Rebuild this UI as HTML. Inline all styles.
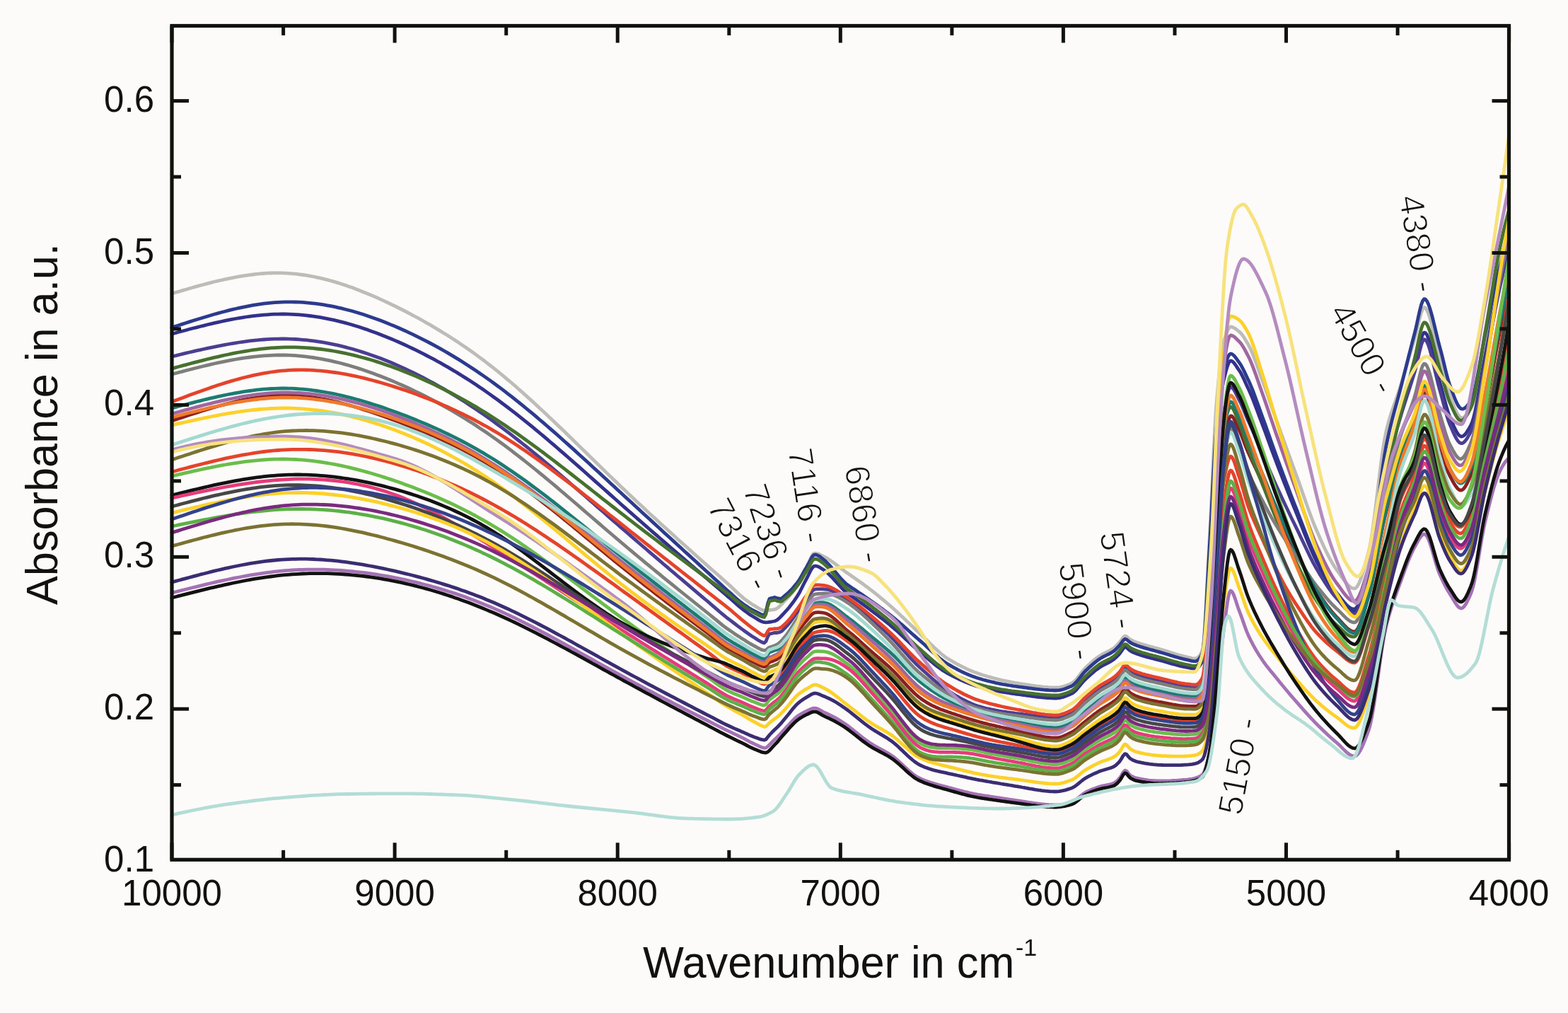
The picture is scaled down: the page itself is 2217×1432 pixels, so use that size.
<!DOCTYPE html>
<html><head><meta charset="utf-8"><style>
html,body{margin:0;padding:0;background:#fcfbf9;overflow:hidden;width:2217px;height:1432px;}
svg{display:block;}
text{font-family:"Liberation Sans",Arial,sans-serif;fill:#111;}
.ann{stroke:#fcfbf9;stroke-width:1.3px;}
</style></head><body>
<svg width="2217" height="1432" viewBox="0 0 2217 1432">
<rect width="2217" height="1432" fill="#fcfbf9"/>
<g fill="none" stroke-width="4.8" stroke-linejoin="round" stroke-linecap="round">
<polyline points="243.0,595.0 248.0,593.3 253.0,591.6 258.0,590.0 263.0,588.3 268.0,586.6 273.0,585.0 278.0,583.4 283.0,581.8 288.0,580.2 293.0,578.7 298.0,577.2 303.0,575.7 308.0,574.3 313.0,572.9 318.0,571.6 323.0,570.3 328.0,569.1 333.0,567.9 338.0,566.7 343.0,565.7 348.0,564.7 353.0,563.8 358.0,562.9 363.0,562.1 368.0,561.4 373.0,560.8 378.0,560.3 383.0,559.8 388.0,559.5 393.0,559.2 398.0,559.0 403.0,559.0 408.0,559.0 413.0,559.2 418.0,559.4 423.0,559.7 428.0,560.1 433.0,560.6 438.0,561.2 443.0,561.9 448.0,562.7 453.0,563.5 458.0,564.4 463.0,565.4 468.0,566.4 473.0,567.5 478.0,568.7 483.0,570.0 488.0,571.3 493.0,572.6 498.0,574.0 503.0,575.5 508.0,577.0 513.0,578.6 518.0,580.2 523.0,581.8 528.0,583.5 533.0,585.2 538.0,587.0 543.0,588.8 548.0,590.6 553.0,592.4 558.0,594.3 563.0,596.1 568.0,598.0 573.0,599.9 578.0,601.9 583.0,603.9 588.0,605.9 593.0,607.9 598.0,609.9 603.0,612.0 608.0,614.2 613.0,616.3 618.0,618.5 623.0,620.8 628.0,623.1 633.0,625.4 638.0,627.8 643.0,630.2 648.0,632.7 653.0,635.2 658.0,637.8 663.0,640.5 668.0,643.2 673.0,645.9 678.0,648.8 683.0,651.7 688.0,654.6 693.0,657.6 698.0,660.7 703.0,663.9 708.0,667.1 713.0,670.5 718.0,673.8 723.0,677.3 728.0,680.8 733.0,684.3 738.0,687.9 743.0,691.6 748.0,695.3 753.0,699.1 758.0,702.9 763.0,706.7 768.0,710.6 773.0,714.5 778.0,718.5 783.0,722.5 788.0,726.5 793.0,730.5 798.0,734.6 803.0,738.6 808.0,742.7 813.0,746.9 818.0,751.0 823.0,755.1 828.0,759.3 833.0,763.4 838.0,767.5 843.0,771.7 848.0,775.8 853.0,780.0 858.0,784.1 863.0,788.2 868.0,792.3 873.0,796.4 878.0,800.4 883.0,804.5 888.0,808.5 893.0,812.5 898.0,816.5 903.0,820.4 908.0,824.4 913.0,828.3 918.0,832.2 923.0,836.1 928.0,840.0 933.0,843.8 938.0,847.7 943.0,851.5 948.0,855.4 953.0,859.2 958.0,863.0 963.0,866.8 968.0,870.6 973.0,874.3 978.0,878.1 983.0,881.9 988.0,885.6 993.0,889.4 998.0,893.1 1003.0,896.9 1008.0,900.8 1013.0,904.7 1018.0,908.6 1023.0,912.3 1028.0,915.7 1033.0,918.6 1038.0,921.4 1043.0,924.1 1045.5,925.4 1048.0,926.7 1050.5,928.0 1053.0,929.4 1055.5,930.8 1058.0,932.2 1060.5,933.6 1063.0,935.0 1065.5,936.2 1068.0,937.4 1070.5,938.7 1073.0,940.0 1075.5,941.1 1078.0,942.1 1080.5,942.7 1083.0,941.7 1085.5,938.5 1088.0,936.1 1090.5,935.3 1093.0,934.4 1095.5,933.3 1098.0,932.3 1100.5,930.7 1103.0,928.7 1105.5,926.2 1108.0,923.2 1110.5,920.1 1113.0,916.7 1115.5,912.9 1118.0,908.9 1120.5,904.7 1123.0,900.6 1125.5,896.6 1128.0,892.9 1130.5,889.5 1133.0,886.2 1135.5,883.0 1138.0,880.0 1140.5,877.2 1143.0,874.2 1145.5,871.2 1148.0,868.4 1150.5,866.5 1153.0,865.9 1155.5,865.7 1158.0,865.6 1160.5,865.8 1163.0,866.1 1165.5,866.5 1168.0,867.3 1170.5,868.4 1173.0,869.8 1175.5,871.4 1178.0,873.3 1180.5,875.4 1183.0,877.6 1185.5,879.9 1188.0,882.3 1190.5,884.6 1193.0,887.0 1195.5,889.3 1198.0,891.4 1200.5,893.4 1203.0,895.4 1205.5,897.4 1208.0,899.6 1210.5,901.7 1213.0,903.9 1215.5,906.2 1218.0,908.5 1220.5,910.7 1223.0,913.0 1225.5,915.3 1228.0,917.5 1230.5,919.7 1233.0,921.9 1235.5,924.0 1238.0,926.2 1240.5,928.3 1243.0,930.4 1245.5,932.6 1248.0,934.7 1250.5,936.9 1253.0,939.1 1255.5,941.3 1258.0,943.6 1260.5,945.9 1263.0,948.3 1265.5,950.9 1268.0,953.5 1270.5,956.1 1273.0,958.8 1275.5,961.6 1278.0,964.3 1280.5,967.1 1283.0,969.8 1285.5,972.4 1288.0,975.0 1290.5,977.5 1293.0,980.0 1295.5,982.2 1298.0,984.4 1300.5,986.4 1303.0,988.2 1305.5,990.0 1308.0,991.6 1310.5,993.2 1313.0,994.6 1315.5,996.0 1318.0,997.3 1320.5,998.5 1323.0,999.7 1325.5,1000.8 1328.0,1001.9 1330.5,1002.9 1333.0,1003.8 1335.5,1004.7 1338.0,1005.6 1340.5,1006.5 1343.0,1007.3 1345.5,1008.2 1348.0,1009.0 1350.5,1009.8 1353.0,1010.7 1355.5,1011.5 1358.0,1012.3 1360.5,1013.2 1363.0,1014.0 1365.5,1014.8 1368.0,1015.6 1370.5,1016.4 1373.0,1017.1 1375.5,1017.9 1378.0,1018.6 1380.5,1019.3 1383.0,1020.0 1385.5,1020.7 1388.0,1021.4 1390.5,1022.1 1393.0,1022.7 1395.5,1023.3 1398.0,1024.0 1400.5,1024.6 1403.0,1025.2 1405.5,1025.7 1408.0,1026.3 1410.5,1026.9 1413.0,1027.4 1415.5,1028.0 1418.0,1028.5 1420.5,1029.1 1423.0,1029.6 1425.5,1030.1 1428.0,1030.7 1430.5,1031.2 1433.0,1031.7 1435.5,1032.3 1438.0,1032.8 1440.5,1033.4 1443.0,1033.9 1445.5,1034.5 1448.0,1035.1 1450.5,1035.7 1453.0,1036.4 1455.5,1037.0 1458.0,1037.6 1460.5,1038.2 1463.0,1038.8 1465.5,1039.4 1468.0,1039.9 1470.5,1040.4 1473.0,1040.9 1475.5,1041.4 1478.0,1041.8 1480.5,1042.1 1483.0,1042.4 1485.5,1042.7 1488.0,1042.8 1490.5,1043.0 1493.0,1043.0 1495.5,1042.8 1498.0,1042.4 1500.5,1041.7 1503.0,1040.9 1505.5,1039.8 1508.0,1038.7 1510.5,1037.5 1513.0,1036.2 1515.5,1035.0 1518.0,1033.5 1520.5,1031.8 1523.0,1029.8 1525.5,1027.6 1528.0,1025.4 1530.5,1023.1 1533.0,1021.0 1535.5,1019.0 1538.0,1017.0 1540.5,1015.1 1543.0,1013.1 1545.5,1011.2 1548.0,1009.2 1550.5,1007.4 1553.0,1005.5 1555.5,1003.8 1558.0,1002.1 1560.5,1000.6 1563.0,999.1 1565.5,997.6 1568.0,996.1 1570.5,994.5 1573.0,992.8 1575.5,991.0 1578.0,989.0 1580.5,986.8 1583.0,984.3 1585.5,980.5 1588.0,976.2 1590.5,973.6 1593.0,974.4 1595.5,977.0 1598.0,979.4 1600.5,981.0 1603.0,982.4 1605.5,983.7 1608.0,984.6 1610.5,985.5 1613.0,986.2 1615.5,987.0 1618.0,987.7 1620.5,988.3 1623.0,988.9 1625.5,989.5 1628.0,990.0 1630.5,990.5 1633.0,991.0 1635.5,991.5 1638.0,992.0 1640.5,992.4 1643.0,992.9 1645.5,993.4 1648.0,993.9 1650.5,994.3 1653.0,994.8 1655.5,995.3 1658.0,995.8 1660.5,996.2 1663.0,996.6 1665.5,997.0 1668.0,997.4 1670.5,997.7 1673.0,997.9 1675.5,998.1 1678.0,998.2 1680.5,998.3 1683.0,998.4 1685.5,998.4 1688.0,998.5 1690.5,998.5 1692.0,998.1 1693.5,997.3 1695.0,996.1 1696.5,994.6 1698.0,992.9 1699.5,990.8 1701.0,987.9 1702.5,982.1 1704.0,973.6 1705.5,963.1 1707.0,951.1 1708.5,938.1 1710.0,924.7 1711.5,908.8 1713.0,889.0 1714.5,866.4 1716.0,842.1 1717.5,817.6 1719.0,793.9 1720.5,772.1 1722.0,749.4 1723.5,725.7 1725.0,702.2 1726.5,680.2 1728.0,660.9 1729.5,645.3 1731.0,633.5 1732.5,622.2 1734.0,611.7 1735.5,602.5 1737.0,595.1 1738.5,590.1 1740.0,588.0 1741.5,588.1 1743.0,589.5 1744.5,591.7 1746.0,594.6 1747.5,597.9 1749.0,601.3 1750.5,604.8 1752.0,607.9 1753.5,611.0 1755.0,614.6 1756.5,618.3 1758.0,622.3 1759.5,626.3 1761.0,630.3 1762.5,634.1 1764.0,637.7 1765.5,641.1 1767.0,644.3 1768.5,647.5 1770.0,650.7 1771.5,653.9 1774.0,659.1 1776.5,664.4 1779.0,669.7 1781.5,675.0 1784.0,680.2 1786.5,685.6 1789.0,691.0 1791.5,696.5 1794.0,702.0 1796.5,707.4 1799.0,712.8 1801.5,718.2 1804.0,723.4 1806.5,728.5 1809.0,733.6 1811.5,738.7 1814.0,743.8 1816.5,748.8 1819.0,753.9 1821.5,758.9 1824.0,763.8 1826.5,768.7 1829.0,773.6 1831.5,778.4 1834.0,783.2 1836.5,788.0 1839.0,792.9 1841.5,797.8 1844.0,802.8 1846.5,807.7 1849.0,812.5 1851.5,817.3 1854.0,821.9 1856.5,826.3 1859.0,830.6 1861.5,834.6 1864.0,838.4 1866.5,842.1 1869.0,845.8 1871.5,849.4 1874.0,852.9 1876.5,856.4 1879.0,859.6 1881.5,862.8 1884.0,865.8 1886.5,868.7 1889.0,871.3 1891.5,873.9 1894.0,876.6 1896.5,879.3 1899.0,882.1 1901.5,884.8 1903.5,886.8 1905.5,888.5 1907.5,890.1 1909.5,891.4 1911.5,892.3 1913.5,892.9 1915.5,892.9 1917.5,891.7 1919.5,889.0 1921.5,885.1 1923.5,880.1 1925.5,874.3 1927.5,867.9 1929.5,861.2 1931.5,854.4 1933.5,847.6 1935.5,841.1 1937.5,833.7 1939.5,825.1 1941.5,815.5 1943.5,805.3 1945.5,794.7 1947.5,783.8 1949.5,772.9 1951.5,762.2 1953.5,751.9 1955.5,742.2 1957.5,733.2 1959.5,725.0 1961.5,717.5 1963.5,709.8 1965.5,702.0 1967.5,694.0 1969.5,686.0 1971.5,678.2 1973.5,670.5 1975.5,663.2 1977.5,656.4 1979.5,650.2 1981.5,644.7 1983.5,639.6 1985.5,634.9 1987.5,630.4 1989.5,626.1 1991.5,621.9 1993.5,617.6 1995.5,613.1 1997.5,608.3 1999.5,603.2 2001.5,597.0 2003.5,589.0 2005.5,580.2 2007.5,571.4 2009.5,563.7 2011.5,557.9 2013.5,555.1 2015.5,555.7 2017.5,558.7 2019.5,563.7 2021.5,570.2 2023.5,578.0 2025.5,586.6 2027.5,595.8 2029.5,605.0 2031.5,614.0 2033.5,622.3 2035.5,629.6 2037.5,636.1 2039.5,642.7 2041.5,649.4 2043.5,655.9 2045.5,662.0 2047.5,667.4 2049.5,671.9 2051.5,675.6 2053.5,679.3 2055.5,682.9 2057.5,686.1 2059.5,688.9 2061.5,691.2 2063.5,692.6 2065.5,693.1 2067.5,692.5 2069.5,690.8 2071.5,688.2 2073.5,684.8 2075.5,680.9 2077.5,676.7 2079.5,672.2 2081.5,667.2 2083.5,660.5 2085.5,652.4 2087.5,643.1 2089.5,633.0 2091.5,622.2 2093.5,611.1 2095.5,599.9 2097.5,589.0 2099.5,578.6 2101.5,568.6 2103.5,558.5 2105.5,548.2 2107.5,537.8 2109.5,527.3 2111.5,516.8 2113.5,506.2 2115.5,495.6 2117.5,485.1 2119.5,474.7 2121.5,464.3 2123.5,453.9 2125.5,443.5 2127.5,433.2 2129.5,422.9 2131.5,412.6 2133.0,405.0" stroke="#8a2020"/>
<polyline points="243.0,415.0 248.0,413.5 253.0,412.1 258.0,410.6 263.0,409.2 268.0,407.7 273.0,406.3 278.0,404.9 283.0,403.5 288.0,402.2 293.0,400.9 298.0,399.6 303.0,398.3 308.0,397.1 313.0,396.0 318.0,394.9 323.0,393.8 328.0,392.8 333.0,391.8 338.0,390.9 343.0,390.1 348.0,389.3 353.0,388.6 358.0,388.0 363.0,387.4 368.0,386.9 373.0,386.5 378.0,386.2 383.0,386.0 388.0,385.9 393.0,385.9 398.0,385.9 403.0,386.1 408.0,386.4 413.0,386.8 418.0,387.2 423.0,387.8 428.0,388.5 433.0,389.2 438.0,390.1 443.0,391.0 448.0,392.1 453.0,393.2 458.0,394.4 463.0,395.6 468.0,397.0 473.0,398.4 478.0,399.9 483.0,401.5 488.0,403.1 493.0,404.9 498.0,406.6 503.0,408.5 508.0,410.4 513.0,412.4 518.0,414.4 523.0,416.5 528.0,418.6 533.0,420.8 538.0,423.1 543.0,425.4 548.0,427.7 553.0,430.1 558.0,432.5 563.0,435.0 568.0,437.5 573.0,440.0 578.0,442.6 583.0,445.3 588.0,448.0 593.0,450.7 598.0,453.5 603.0,456.3 608.0,459.2 613.0,462.1 618.0,465.1 623.0,468.1 628.0,471.2 633.0,474.3 638.0,477.5 643.0,480.7 648.0,484.0 653.0,487.4 658.0,490.8 663.0,494.3 668.0,497.8 673.0,501.4 678.0,505.1 683.0,508.8 688.0,512.6 693.0,516.5 698.0,520.4 703.0,524.4 708.0,528.5 713.0,532.6 718.0,536.8 723.0,541.0 728.0,545.3 733.0,549.7 738.0,554.1 743.0,558.6 748.0,563.1 753.0,567.6 758.0,572.2 763.0,576.9 768.0,581.5 773.0,586.2 778.0,590.9 783.0,595.7 788.0,600.5 793.0,605.3 798.0,610.1 803.0,615.0 808.0,619.8 813.0,624.7 818.0,629.6 823.0,634.4 828.0,639.3 833.0,644.2 838.0,649.1 843.0,654.0 848.0,658.9 853.0,663.7 858.0,668.6 863.0,673.4 868.0,678.3 873.0,683.1 878.0,687.9 883.0,692.6 888.0,697.4 893.0,702.1 898.0,706.8 903.0,711.5 908.0,716.1 913.0,720.8 918.0,725.4 923.0,730.0 928.0,734.6 933.0,739.2 938.0,743.7 943.0,748.3 948.0,752.8 953.0,757.3 958.0,761.9 963.0,766.4 968.0,770.8 973.0,775.3 978.0,779.8 983.0,784.3 988.0,788.7 993.0,793.2 998.0,797.6 1003.0,802.1 1008.0,806.5 1013.0,810.8 1018.0,815.2 1023.0,819.7 1028.0,824.2 1033.0,828.6 1038.0,833.5 1043.0,838.3 1045.5,840.6 1048.0,842.7 1050.5,844.8 1053.0,846.8 1055.5,848.7 1058.0,850.5 1060.5,852.3 1063.0,854.0 1065.5,855.5 1068.0,856.9 1070.5,858.5 1073.0,860.0 1075.5,861.4 1078.0,862.4 1080.5,863.0 1083.0,863.0 1085.5,862.8 1088.0,862.5 1090.5,862.2 1093.0,861.9 1095.5,861.4 1098.0,860.4 1100.5,858.6 1103.0,856.4 1105.5,853.8 1108.0,851.2 1110.5,848.6 1113.0,846.1 1115.5,843.4 1118.0,840.5 1120.5,837.5 1123.0,834.2 1125.5,830.7 1128.0,827.0 1130.5,822.5 1133.0,817.3 1135.5,811.8 1138.0,806.4 1140.5,801.5 1143.0,796.1 1145.5,790.5 1148.0,785.6 1150.5,782.6 1153.0,782.1 1155.5,782.6 1158.0,783.4 1160.5,784.6 1163.0,785.8 1165.5,787.1 1168.0,788.4 1170.5,789.9 1173.0,791.5 1175.5,793.2 1178.0,794.9 1180.5,796.8 1183.0,798.7 1185.5,800.6 1188.0,802.6 1190.5,804.5 1193.0,806.4 1195.5,808.3 1198.0,810.1 1200.5,811.8 1203.0,813.5 1205.5,815.3 1208.0,817.0 1210.5,818.7 1213.0,820.5 1215.5,822.2 1218.0,824.0 1220.5,825.8 1223.0,827.7 1225.5,829.5 1228.0,831.4 1230.5,833.3 1233.0,835.2 1235.5,837.2 1238.0,839.2 1240.5,841.2 1243.0,843.2 1245.5,845.3 1248.0,847.3 1250.5,849.4 1253.0,851.5 1255.5,853.7 1258.0,855.8 1260.5,858.0 1263.0,860.2 1265.5,862.5 1268.0,864.8 1270.5,867.1 1273.0,869.4 1275.5,871.8 1278.0,874.1 1280.5,876.5 1283.0,878.9 1285.5,881.3 1288.0,883.7 1290.5,886.1 1293.0,888.5 1295.5,890.8 1298.0,893.1 1300.5,895.5 1303.0,897.8 1305.5,900.2 1308.0,902.7 1310.5,905.1 1313.0,907.6 1315.5,910.1 1318.0,912.5 1320.5,914.9 1323.0,917.3 1325.5,919.6 1328.0,921.8 1330.5,924.0 1333.0,926.0 1335.5,927.9 1338.0,929.7 1340.5,931.3 1343.0,932.8 1345.5,934.3 1348.0,935.8 1350.5,937.2 1353.0,938.6 1355.5,939.9 1358.0,941.2 1360.5,942.5 1363.0,943.7 1365.5,944.9 1368.0,946.1 1370.5,947.2 1373.0,948.2 1375.5,949.2 1378.0,950.2 1380.5,951.1 1383.0,952.0 1385.5,952.9 1388.0,953.7 1390.5,954.5 1393.0,955.2 1395.5,956.0 1398.0,956.7 1400.5,957.4 1403.0,958.1 1405.5,958.8 1408.0,959.4 1410.5,960.1 1413.0,960.7 1415.5,961.3 1418.0,961.8 1420.5,962.4 1423.0,962.9 1425.5,963.4 1428.0,963.9 1430.5,964.4 1433.0,964.8 1435.5,965.3 1438.0,965.7 1440.5,966.1 1443.0,966.5 1445.5,966.9 1448.0,967.3 1450.5,967.7 1453.0,968.0 1455.5,968.4 1458.0,968.8 1460.5,969.2 1463.0,969.5 1465.5,969.9 1468.0,970.2 1470.5,970.5 1473.0,970.8 1475.5,971.1 1478.0,971.3 1480.5,971.5 1483.0,971.7 1485.5,971.8 1488.0,971.9 1490.5,972.0 1493.0,972.0 1495.5,971.9 1498.0,971.6 1500.5,971.1 1503.0,970.5 1505.5,969.7 1508.0,968.9 1510.5,967.9 1513.0,966.9 1515.5,965.8 1518.0,964.1 1520.5,961.7 1523.0,958.8 1525.5,955.6 1528.0,952.3 1530.5,949.1 1533.0,946.1 1535.5,943.5 1538.0,941.1 1540.5,938.8 1543.0,936.5 1545.5,934.3 1548.0,932.2 1550.5,930.2 1553.0,928.4 1555.5,926.7 1558.0,925.2 1560.5,923.8 1563.0,922.6 1565.5,921.4 1568.0,920.2 1570.5,918.9 1573.0,917.4 1575.5,915.6 1578.0,913.3 1580.5,910.7 1583.0,908.0 1585.5,904.7 1588.0,901.1 1590.5,899.1 1593.0,899.8 1595.5,902.0 1598.0,904.0 1600.5,905.3 1603.0,906.4 1605.5,907.4 1608.0,908.4 1610.5,909.2 1613.0,910.1 1615.5,910.9 1618.0,911.6 1620.5,912.3 1623.0,913.0 1625.5,913.7 1628.0,914.4 1630.5,915.1 1633.0,915.8 1635.5,916.4 1638.0,917.1 1640.5,917.9 1643.0,918.6 1645.5,919.3 1648.0,920.1 1650.5,920.9 1653.0,921.7 1655.5,922.5 1658.0,923.2 1660.5,924.0 1663.0,924.8 1665.5,925.5 1668.0,926.2 1670.5,926.9 1673.0,927.6 1675.5,928.2 1678.0,928.8 1680.5,929.3 1683.0,929.9 1685.5,930.5 1688.0,930.9 1690.5,931.0 1692.0,930.5 1693.5,929.5 1695.0,928.1 1696.5,926.1 1698.0,923.8 1699.5,921.0 1701.0,915.5 1702.5,900.5 1704.0,878.0 1705.5,850.5 1707.0,820.4 1708.5,790.2 1710.0,762.3 1711.5,734.2 1713.0,702.8 1714.5,670.1 1716.0,638.1 1717.5,608.6 1719.0,583.6 1720.5,564.5 1722.0,547.5 1723.5,531.4 1725.0,516.8 1726.5,504.1 1728.0,493.6 1729.5,485.9 1731.0,480.7 1732.5,475.9 1734.0,471.4 1735.5,467.6 1737.0,464.6 1738.5,462.7 1740.0,462.0 1741.5,462.2 1743.0,462.6 1744.5,463.3 1746.0,464.2 1747.5,465.3 1749.0,466.4 1750.5,467.6 1752.0,468.8 1753.5,470.1 1755.0,471.7 1756.5,473.6 1758.0,475.7 1759.5,477.9 1761.0,480.4 1762.5,482.9 1764.0,485.5 1765.5,488.1 1767.0,490.9 1768.5,494.1 1770.0,497.5 1771.5,501.2 1774.0,507.7 1776.5,514.5 1779.0,521.5 1781.5,528.5 1784.0,535.3 1786.5,542.1 1789.0,549.1 1791.5,556.2 1794.0,563.4 1796.5,570.7 1799.0,577.9 1801.5,585.1 1804.0,592.1 1806.5,599.1 1809.0,606.1 1811.5,613.0 1814.0,619.9 1816.5,626.8 1819.0,633.7 1821.5,640.6 1824.0,647.5 1826.5,654.3 1829.0,661.1 1831.5,668.0 1834.0,674.8 1836.5,681.8 1839.0,688.8 1841.5,696.0 1844.0,703.1 1846.5,710.3 1849.0,717.3 1851.5,724.2 1854.0,731.0 1856.5,737.5 1859.0,743.8 1861.5,749.7 1864.0,755.3 1866.5,761.0 1869.0,766.5 1871.5,771.9 1874.0,777.2 1876.5,782.4 1879.0,787.3 1881.5,792.0 1884.0,796.4 1886.5,800.5 1889.0,804.2 1891.5,807.7 1894.0,811.2 1896.5,814.8 1899.0,818.4 1901.5,821.8 1903.5,824.2 1905.5,826.5 1907.5,828.4 1909.5,830.0 1911.5,831.2 1913.5,831.8 1915.5,831.9 1917.5,830.8 1919.5,828.2 1921.5,824.5 1923.5,819.6 1925.5,813.9 1927.5,807.5 1929.5,800.6 1931.5,793.4 1933.5,786.0 1935.5,778.5 1937.5,769.2 1939.5,757.5 1941.5,743.9 1943.5,729.0 1945.5,713.0 1947.5,696.6 1949.5,680.0 1951.5,663.9 1953.5,648.5 1955.5,634.4 1957.5,622.0 1959.5,611.6 1961.5,603.3 1963.5,595.9 1965.5,589.1 1967.5,582.8 1969.5,576.9 1971.5,571.3 1973.5,565.7 1975.5,560.0 1977.5,554.1 1979.5,548.0 1981.5,541.4 1983.5,534.8 1985.5,528.1 1987.5,521.3 1989.5,514.5 1991.5,507.7 1993.5,500.9 1995.5,494.2 1997.5,487.5 1999.5,481.0 2001.5,474.0 2003.5,465.8 2005.5,457.2 2007.5,449.0 2009.5,441.9 2011.5,436.8 2013.5,434.5 2015.5,435.3 2017.5,438.2 2019.5,442.7 2021.5,448.6 2023.5,455.6 2025.5,463.4 2027.5,471.8 2029.5,480.5 2031.5,489.1 2033.5,497.4 2035.5,505.1 2037.5,512.4 2039.5,520.4 2041.5,528.6 2043.5,536.9 2045.5,544.7 2047.5,551.9 2049.5,558.0 2051.5,563.2 2053.5,568.5 2055.5,573.6 2057.5,578.4 2059.5,582.7 2061.5,586.3 2063.5,589.0 2065.5,590.5 2067.5,590.8 2069.5,590.1 2071.5,588.6 2073.5,586.4 2075.5,583.7 2077.5,580.6 2079.5,577.3 2081.5,573.1 2083.5,566.9 2085.5,558.8 2087.5,549.2 2089.5,538.4 2091.5,527.0 2093.5,515.1 2095.5,503.3 2097.5,491.8 2099.5,481.0 2101.5,470.8 2103.5,460.3 2105.5,449.5 2107.5,438.7 2109.5,427.8 2111.5,417.1 2113.5,406.6 2115.5,396.5 2117.5,387.0 2119.5,378.0 2121.5,369.6 2123.5,361.5 2125.5,353.7 2127.5,346.2 2129.5,339.0 2131.5,332.0 2133.0,327.0" stroke="#bdbcb7"/>
<polyline points="243.0,463.0 248.0,461.4 253.0,459.7 258.0,458.1 263.0,456.5 268.0,454.9 273.0,453.3 278.0,451.7 283.0,450.2 288.0,448.7 293.0,447.2 298.0,445.7 303.0,444.3 308.0,442.9 313.0,441.5 318.0,440.2 323.0,438.9 328.0,437.7 333.0,436.5 338.0,435.4 343.0,434.3 348.0,433.3 353.0,432.3 358.0,431.4 363.0,430.6 368.0,429.9 373.0,429.2 378.0,428.6 383.0,428.1 388.0,427.7 393.0,427.3 398.0,427.1 403.0,426.9 408.0,426.8 413.0,426.9 418.0,427.0 423.0,427.2 428.0,427.4 433.0,427.8 438.0,428.3 443.0,428.8 448.0,429.4 453.0,430.1 458.0,430.9 463.0,431.8 468.0,432.7 473.0,433.7 478.0,434.8 483.0,435.9 488.0,437.2 493.0,438.5 498.0,439.8 503.0,441.3 508.0,442.8 513.0,444.3 518.0,446.0 523.0,447.7 528.0,449.4 533.0,451.2 538.0,453.1 543.0,455.0 548.0,457.0 553.0,459.1 558.0,461.1 563.0,463.3 568.0,465.5 573.0,467.7 578.0,470.1 583.0,472.4 588.0,474.8 593.0,477.3 598.0,479.8 603.0,482.4 608.0,485.0 613.0,487.7 618.0,490.4 623.0,493.2 628.0,496.0 633.0,498.9 638.0,501.9 643.0,504.9 648.0,507.9 653.0,511.0 658.0,514.2 663.0,517.4 668.0,520.7 673.0,524.0 678.0,527.4 683.0,530.9 688.0,534.4 693.0,537.9 698.0,541.5 703.0,545.2 708.0,548.9 713.0,552.7 718.0,556.6 723.0,560.4 728.0,564.4 733.0,568.4 738.0,572.4 743.0,576.5 748.0,580.6 753.0,584.7 758.0,588.9 763.0,593.2 768.0,597.4 773.0,601.7 778.0,606.1 783.0,610.4 788.0,614.8 793.0,619.2 798.0,623.7 803.0,628.1 808.0,632.6 813.0,637.1 818.0,641.7 823.0,646.2 828.0,650.8 833.0,655.3 838.0,659.9 843.0,664.5 848.0,669.1 853.0,673.7 858.0,678.3 863.0,682.9 868.0,687.5 873.0,692.2 878.0,696.8 883.0,701.4 888.0,706.0 893.0,710.6 898.0,715.2 903.0,719.8 908.0,724.4 913.0,729.0 918.0,733.6 923.0,738.1 928.0,742.7 933.0,747.3 938.0,751.9 943.0,756.5 948.0,761.1 953.0,765.6 958.0,770.2 963.0,774.8 968.0,779.4 973.0,783.9 978.0,788.5 983.0,793.1 988.0,797.6 993.0,802.2 998.0,806.8 1003.0,811.3 1008.0,815.9 1013.0,820.5 1018.0,825.1 1023.0,829.7 1028.0,834.2 1033.0,838.5 1038.0,843.2 1043.0,847.7 1045.5,849.8 1048.0,851.7 1050.5,853.6 1053.0,855.4 1055.5,857.1 1058.0,858.8 1060.5,860.4 1063.0,861.8 1065.5,863.1 1068.0,864.4 1070.5,865.7 1073.0,867.0 1075.5,868.2 1078.0,869.0 1080.5,869.4 1083.0,864.8 1085.5,853.4 1088.0,846.3 1090.5,845.7 1093.0,845.1 1095.5,844.4 1098.0,845.3 1100.5,846.0 1103.0,846.3 1105.5,845.8 1108.0,843.5 1110.5,841.4 1113.0,839.2 1115.5,836.9 1118.0,834.4 1120.5,831.8 1123.0,828.9 1125.5,825.9 1128.0,822.6 1130.5,819.0 1133.0,814.8 1135.5,810.2 1138.0,805.7 1140.5,801.7 1143.0,797.3 1145.5,792.5 1148.0,787.6 1150.5,784.6 1153.0,784.1 1155.5,784.8 1158.0,786.1 1160.5,787.8 1163.0,789.8 1165.5,791.8 1168.0,794.1 1170.5,796.6 1173.0,799.2 1175.5,802.0 1178.0,804.9 1180.5,807.9 1183.0,810.9 1185.5,813.8 1188.0,816.7 1190.5,819.5 1193.0,822.1 1195.5,824.5 1198.0,826.6 1200.5,828.3 1203.0,830.0 1205.5,831.7 1208.0,833.3 1210.5,835.0 1213.0,836.7 1215.5,838.4 1218.0,840.1 1220.5,841.8 1223.0,843.5 1225.5,845.3 1228.0,847.0 1230.5,848.8 1233.0,850.5 1235.5,852.3 1238.0,854.0 1240.5,855.8 1243.0,857.6 1245.5,859.5 1248.0,861.3 1250.5,863.2 1253.0,865.1 1255.5,867.0 1258.0,868.9 1260.5,870.8 1263.0,872.8 1265.5,874.9 1268.0,877.0 1270.5,879.1 1273.0,881.3 1275.5,883.4 1278.0,885.6 1280.5,887.8 1283.0,890.1 1285.5,892.3 1288.0,894.5 1290.5,896.7 1293.0,898.9 1295.5,901.1 1298.0,903.3 1300.5,905.4 1303.0,907.6 1305.5,909.8 1308.0,912.1 1310.5,914.4 1313.0,916.7 1315.5,919.0 1318.0,921.3 1320.5,923.5 1323.0,925.8 1325.5,927.9 1328.0,930.0 1330.5,932.0 1333.0,933.9 1335.5,935.7 1338.0,937.4 1340.5,939.0 1343.0,940.4 1345.5,941.9 1348.0,943.3 1350.5,944.7 1353.0,946.0 1355.5,947.3 1358.0,948.6 1360.5,949.8 1363.0,951.0 1365.5,952.1 1368.0,953.2 1370.5,954.3 1373.0,955.3 1375.5,956.2 1378.0,957.1 1380.5,958.0 1383.0,958.8 1385.5,959.5 1388.0,960.3 1390.5,961.0 1393.0,961.6 1395.5,962.3 1398.0,962.9 1400.5,963.5 1403.0,964.1 1405.5,964.7 1408.0,965.3 1410.5,965.8 1413.0,966.3 1415.5,966.8 1418.0,967.3 1420.5,967.7 1423.0,968.2 1425.5,968.6 1428.0,969.0 1430.5,969.4 1433.0,969.8 1435.5,970.1 1438.0,970.5 1440.5,970.8 1443.0,971.1 1445.5,971.5 1448.0,971.8 1450.5,972.1 1453.0,972.5 1455.5,972.8 1458.0,973.1 1460.5,973.5 1463.0,973.8 1465.5,974.1 1468.0,974.4 1470.5,974.7 1473.0,974.9 1475.5,975.2 1478.0,975.4 1480.5,975.5 1483.0,975.7 1485.5,975.8 1488.0,975.9 1490.5,976.0 1493.0,976.0 1495.5,975.9 1498.0,975.6 1500.5,975.1 1503.0,974.5 1505.5,973.7 1508.0,972.8 1510.5,971.8 1513.0,970.8 1515.5,969.7 1518.0,968.0 1520.5,965.6 1523.0,962.8 1525.5,959.7 1528.0,956.4 1530.5,953.3 1533.0,950.3 1535.5,947.8 1538.0,945.4 1540.5,943.1 1543.0,940.9 1545.5,938.7 1548.0,936.6 1550.5,934.6 1553.0,932.7 1555.5,931.0 1558.0,929.5 1560.5,928.2 1563.0,926.9 1565.5,925.7 1568.0,924.5 1570.5,923.2 1573.0,921.6 1575.5,919.9 1578.0,917.6 1580.5,915.0 1583.0,912.3 1585.5,908.9 1588.0,905.3 1590.5,903.3 1593.0,904.0 1595.5,906.2 1598.0,908.2 1600.5,909.6 1603.0,910.7 1605.5,911.7 1608.0,912.7 1610.5,913.5 1613.0,914.4 1615.5,915.1 1618.0,915.9 1620.5,916.6 1623.0,917.3 1625.5,918.0 1628.0,918.7 1630.5,919.3 1633.0,920.0 1635.5,920.7 1638.0,921.4 1640.5,922.1 1643.0,922.8 1645.5,923.5 1648.0,924.3 1650.5,925.0 1653.0,925.8 1655.5,926.6 1658.0,927.3 1660.5,928.1 1663.0,928.8 1665.5,929.5 1668.0,930.2 1670.5,930.9 1673.0,931.5 1675.5,932.1 1678.0,932.7 1680.5,933.2 1683.0,933.8 1685.5,934.3 1688.0,934.7 1690.5,934.8 1692.0,934.3 1693.5,933.4 1695.0,931.9 1696.5,930.0 1698.0,927.7 1699.5,924.9 1701.0,919.6 1702.5,905.3 1704.0,883.9 1705.5,858.0 1707.0,829.9 1708.5,802.0 1710.0,776.6 1711.5,751.2 1713.0,722.8 1714.5,693.4 1716.0,664.7 1717.5,638.4 1719.0,616.3 1720.5,599.5 1722.0,584.3 1723.5,569.5 1725.0,555.7 1726.5,543.3 1728.0,533.0 1729.5,525.5 1731.0,520.4 1732.5,515.5 1734.0,510.7 1735.5,506.5 1737.0,503.1 1738.5,500.8 1740.0,500.0 1741.5,500.3 1743.0,501.2 1744.5,502.5 1746.0,504.2 1747.5,506.1 1749.0,508.2 1750.5,510.3 1752.0,512.3 1753.5,514.4 1755.0,516.8 1756.5,519.6 1758.0,522.5 1759.5,525.6 1761.0,528.8 1762.5,532.0 1764.0,535.2 1765.5,538.3 1767.0,541.6 1768.5,545.1 1770.0,548.7 1771.5,552.5 1774.0,559.1 1776.5,566.0 1779.0,572.9 1781.5,579.8 1784.0,586.7 1786.5,593.5 1789.0,600.4 1791.5,607.5 1794.0,614.6 1796.5,621.8 1799.0,628.9 1801.5,635.9 1804.0,642.8 1806.5,649.6 1809.0,656.4 1811.5,663.1 1814.0,669.8 1816.5,676.5 1819.0,683.1 1821.5,689.7 1824.0,696.3 1826.5,702.8 1829.0,709.3 1831.5,715.7 1834.0,722.0 1836.5,728.5 1839.0,735.0 1841.5,741.5 1844.0,748.1 1846.5,754.6 1849.0,760.9 1851.5,767.2 1854.0,773.2 1856.5,779.1 1859.0,784.6 1861.5,789.9 1864.0,794.9 1866.5,799.8 1869.0,804.6 1871.5,809.3 1874.0,813.9 1876.5,818.3 1879.0,822.6 1881.5,826.6 1884.0,830.4 1886.5,833.9 1889.0,837.1 1891.5,840.1 1894.0,843.2 1896.5,846.4 1899.0,849.5 1901.5,852.5 1903.5,854.6 1905.5,856.6 1907.5,858.2 1909.5,859.6 1911.5,860.5 1913.5,861.0 1915.5,860.9 1917.5,859.5 1919.5,856.5 1921.5,852.3 1923.5,846.9 1925.5,840.6 1927.5,833.6 1929.5,826.1 1931.5,818.2 1933.5,810.2 1935.5,802.3 1937.5,792.7 1939.5,781.1 1941.5,767.9 1943.5,753.3 1945.5,737.7 1947.5,721.5 1949.5,705.0 1951.5,688.7 1953.5,672.9 1955.5,658.0 1957.5,644.5 1959.5,632.8 1961.5,622.8 1963.5,613.5 1965.5,604.8 1967.5,596.6 1969.5,588.8 1971.5,581.4 1973.5,574.1 1975.5,566.9 1977.5,559.6 1979.5,552.1 1981.5,544.4 1983.5,536.5 1985.5,528.6 1987.5,520.7 1989.5,512.7 1991.5,504.7 1993.5,496.8 1995.5,489.0 1997.5,481.2 1999.5,473.6 2001.5,465.7 2003.5,456.7 2005.5,447.4 2007.5,438.5 2009.5,430.9 2011.5,425.4 2013.5,422.7 2015.5,423.2 2017.5,425.6 2019.5,429.8 2021.5,435.3 2023.5,441.9 2025.5,449.4 2027.5,457.5 2029.5,465.8 2031.5,474.2 2033.5,482.3 2035.5,489.8 2037.5,497.1 2039.5,505.0 2041.5,513.4 2043.5,521.7 2045.5,529.7 2047.5,537.1 2049.5,543.3 2051.5,548.7 2053.5,554.2 2055.5,559.5 2057.5,564.6 2059.5,569.1 2061.5,573.0 2063.5,575.8 2065.5,577.6 2067.5,578.2 2069.5,577.8 2071.5,576.6 2073.5,574.8 2075.5,572.4 2077.5,569.7 2079.5,566.8 2081.5,563.0 2083.5,557.1 2085.5,549.4 2087.5,540.1 2089.5,529.8 2091.5,518.7 2093.5,507.3 2095.5,496.0 2097.5,485.0 2099.5,474.9 2101.5,465.3 2103.5,455.5 2105.5,445.6 2107.5,435.5 2109.5,425.6 2111.5,415.9 2113.5,406.6 2115.5,397.7 2117.5,389.3 2119.5,381.7 2121.5,374.6 2123.5,367.9 2125.5,361.5 2127.5,355.4 2129.5,349.5 2131.5,344.0 2133.0,340.0" stroke="#2c3b8e"/>
<polyline points="243.0,472.0 248.0,470.7 253.0,469.3 258.0,468.0 263.0,466.7 268.0,465.3 273.0,464.0 278.0,462.8 283.0,461.5 288.0,460.3 293.0,459.0 298.0,457.8 303.0,456.7 308.0,455.6 313.0,454.5 318.0,453.4 323.0,452.4 328.0,451.4 333.0,450.5 338.0,449.6 343.0,448.8 348.0,448.0 353.0,447.3 358.0,446.7 363.0,446.1 368.0,445.6 373.0,445.1 378.0,444.8 383.0,444.4 388.0,444.2 393.0,444.1 398.0,444.0 403.0,444.0 408.0,444.1 413.0,444.3 418.0,444.6 423.0,444.9 428.0,445.4 433.0,445.9 438.0,446.5 443.0,447.1 448.0,447.9 453.0,448.7 458.0,449.6 463.0,450.6 468.0,451.6 473.0,452.7 478.0,453.9 483.0,455.1 488.0,456.4 493.0,457.8 498.0,459.3 503.0,460.8 508.0,462.3 513.0,464.0 518.0,465.6 523.0,467.4 528.0,469.2 533.0,471.0 538.0,473.0 543.0,474.9 548.0,476.9 553.0,479.0 558.0,481.1 563.0,483.3 568.0,485.5 573.0,487.8 578.0,490.1 583.0,492.5 588.0,494.9 593.0,497.4 598.0,499.9 603.0,502.5 608.0,505.1 613.0,507.7 618.0,510.5 623.0,513.2 628.0,516.1 633.0,518.9 638.0,521.9 643.0,524.8 648.0,527.9 653.0,531.0 658.0,534.1 663.0,537.3 668.0,540.5 673.0,543.8 678.0,547.2 683.0,550.6 688.0,554.1 693.0,557.6 698.0,561.2 703.0,564.8 708.0,568.5 713.0,572.2 718.0,576.0 723.0,579.8 728.0,583.7 733.0,587.6 738.0,591.6 743.0,595.6 748.0,599.6 753.0,603.7 758.0,607.9 763.0,612.0 768.0,616.2 773.0,620.4 778.0,624.7 783.0,628.9 788.0,633.2 793.0,637.6 798.0,641.9 803.0,646.3 808.0,650.6 813.0,655.0 818.0,659.4 823.0,663.8 828.0,668.3 833.0,672.7 838.0,677.1 843.0,681.6 848.0,686.0 853.0,690.5 858.0,694.9 863.0,699.4 868.0,703.8 873.0,708.2 878.0,712.7 883.0,717.1 888.0,721.5 893.0,725.9 898.0,730.2 903.0,734.6 908.0,739.0 913.0,743.4 918.0,747.7 923.0,752.1 928.0,756.4 933.0,760.7 938.0,765.1 943.0,769.4 948.0,773.7 953.0,778.0 958.0,782.3 963.0,786.6 968.0,790.9 973.0,795.2 978.0,799.5 983.0,803.8 988.0,808.1 993.0,812.4 998.0,816.6 1003.0,820.9 1008.0,825.2 1013.0,829.4 1018.0,833.7 1023.0,838.0 1028.0,842.3 1033.0,846.4 1038.0,851.0 1043.0,855.4 1045.5,857.6 1048.0,859.6 1050.5,861.6 1053.0,863.5 1055.5,865.3 1058.0,867.2 1060.5,868.9 1063.0,870.5 1065.5,872.0 1068.0,873.5 1070.5,875.1 1073.0,876.6 1075.5,878.0 1078.0,879.0 1080.5,879.7 1083.0,879.8 1085.5,879.6 1088.0,879.3 1090.5,879.0 1093.0,878.5 1095.5,878.0 1098.0,876.9 1100.5,875.0 1103.0,872.7 1105.5,870.0 1108.0,867.3 1110.5,864.6 1113.0,861.9 1115.5,859.0 1118.0,855.8 1120.5,852.5 1123.0,849.1 1125.5,845.4 1128.0,841.6 1130.5,837.4 1133.0,832.5 1135.5,827.4 1138.0,822.5 1140.5,817.9 1143.0,813.0 1145.5,807.9 1148.0,803.4 1150.5,800.6 1153.0,800.0 1155.5,800.5 1158.0,801.5 1160.5,802.9 1163.0,804.5 1165.5,806.2 1168.0,808.1 1170.5,810.3 1173.0,812.7 1175.5,815.2 1178.0,817.9 1180.5,820.7 1183.0,823.4 1185.5,826.2 1188.0,829.0 1190.5,831.7 1193.0,834.2 1195.5,836.5 1198.0,838.6 1200.5,840.3 1203.0,842.0 1205.5,843.8 1208.0,845.5 1210.5,847.3 1213.0,849.1 1215.5,850.9 1218.0,852.7 1220.5,854.5 1223.0,856.4 1225.5,858.2 1228.0,860.1 1230.5,861.9 1233.0,863.8 1235.5,865.7 1238.0,867.5 1240.5,869.4 1243.0,871.3 1245.5,873.3 1248.0,875.2 1250.5,877.2 1253.0,879.2 1255.5,881.2 1258.0,883.2 1260.5,885.3 1263.0,887.4 1265.5,889.6 1268.0,891.8 1270.5,894.1 1273.0,896.4 1275.5,898.7 1278.0,901.1 1280.5,903.4 1283.0,905.7 1285.5,908.1 1288.0,910.4 1290.5,912.7 1293.0,914.9 1295.5,917.1 1298.0,919.3 1300.5,921.4 1303.0,923.5 1305.5,925.6 1308.0,927.8 1310.5,929.9 1313.0,932.0 1315.5,934.2 1318.0,936.2 1320.5,938.3 1323.0,940.3 1325.5,942.3 1328.0,944.1 1330.5,945.9 1333.0,947.7 1335.5,949.3 1338.0,950.8 1340.5,952.2 1343.0,953.5 1345.5,954.9 1348.0,956.1 1350.5,957.4 1353.0,958.6 1355.5,959.8 1358.0,961.0 1360.5,962.1 1363.0,963.2 1365.5,964.2 1368.0,965.3 1370.5,966.2 1373.0,967.2 1375.5,968.0 1378.0,968.9 1380.5,969.7 1383.0,970.4 1385.5,971.1 1388.0,971.8 1390.5,972.5 1393.0,973.1 1395.5,973.7 1398.0,974.3 1400.5,974.8 1403.0,975.4 1405.5,975.9 1408.0,976.4 1410.5,976.9 1413.0,977.4 1415.5,977.9 1418.0,978.3 1420.5,978.7 1423.0,979.1 1425.5,979.5 1428.0,979.9 1430.5,980.3 1433.0,980.6 1435.5,981.0 1438.0,981.3 1440.5,981.6 1443.0,981.9 1445.5,982.3 1448.0,982.6 1450.5,983.0 1453.0,983.3 1455.5,983.6 1458.0,984.0 1460.5,984.3 1463.0,984.7 1465.5,985.0 1468.0,985.3 1470.5,985.6 1473.0,985.8 1475.5,986.1 1478.0,986.3 1480.5,986.5 1483.0,986.7 1485.5,986.8 1488.0,986.9 1490.5,987.0 1493.0,987.0 1495.5,986.9 1498.0,986.6 1500.5,986.0 1503.0,985.4 1505.5,984.5 1508.0,983.6 1510.5,982.6 1513.0,981.5 1515.5,980.4 1518.0,978.7 1520.5,976.5 1523.0,973.8 1525.5,970.8 1528.0,967.8 1530.5,964.7 1533.0,961.9 1535.5,959.5 1538.0,957.2 1540.5,954.9 1543.0,952.7 1545.5,950.6 1548.0,948.5 1550.5,946.5 1553.0,944.7 1555.5,943.0 1558.0,941.4 1560.5,940.1 1563.0,938.8 1565.5,937.5 1568.0,936.3 1570.5,934.9 1573.0,933.3 1575.5,931.5 1578.0,929.3 1580.5,926.8 1583.0,924.1 1585.5,920.7 1588.0,917.0 1590.5,914.8 1593.0,915.5 1595.5,917.8 1598.0,919.9 1600.5,921.3 1603.0,922.5 1605.5,923.5 1608.0,924.5 1610.5,925.3 1613.0,926.2 1615.5,926.9 1618.0,927.7 1620.5,928.4 1623.0,929.1 1625.5,929.7 1628.0,930.4 1630.5,931.0 1633.0,931.7 1635.5,932.3 1638.0,932.9 1640.5,933.6 1643.0,934.3 1645.5,935.0 1648.0,935.7 1650.5,936.4 1653.0,937.1 1655.5,937.9 1658.0,938.6 1660.5,939.3 1663.0,940.0 1665.5,940.6 1668.0,941.3 1670.5,941.9 1673.0,942.4 1675.5,943.0 1678.0,943.5 1680.5,943.9 1683.0,944.4 1685.5,944.9 1688.0,945.2 1690.5,945.2 1692.0,944.8 1693.5,943.9 1695.0,942.5 1696.5,940.6 1698.0,938.4 1699.5,935.8 1701.0,930.8 1702.5,917.9 1704.0,898.6 1705.5,875.1 1707.0,849.4 1708.5,823.7 1710.0,800.1 1711.5,775.9 1713.0,748.5 1714.5,719.8 1716.0,691.3 1717.5,664.8 1719.0,642.0 1720.5,624.0 1722.0,607.3 1723.5,590.8 1725.0,575.2 1726.5,561.1 1728.0,549.3 1729.5,540.3 1731.0,534.1 1732.5,528.2 1734.0,522.5 1735.5,517.6 1737.0,513.6 1738.5,510.9 1740.0,510.0 1741.5,510.4 1743.0,511.3 1744.5,512.8 1746.0,514.7 1747.5,516.8 1749.0,519.1 1750.5,521.4 1752.0,523.5 1753.5,525.8 1755.0,528.4 1756.5,531.3 1758.0,534.4 1759.5,537.6 1761.0,540.9 1762.5,544.2 1764.0,547.4 1765.5,550.6 1767.0,553.9 1768.5,557.3 1770.0,560.9 1771.5,564.7 1774.0,571.1 1776.5,577.7 1779.0,584.4 1781.5,591.1 1784.0,597.7 1786.5,604.3 1789.0,611.0 1791.5,617.8 1794.0,624.7 1796.5,631.6 1799.0,638.4 1801.5,645.1 1804.0,651.7 1806.5,658.3 1809.0,664.8 1811.5,671.2 1814.0,677.7 1816.5,684.1 1819.0,690.5 1821.5,696.8 1824.0,703.1 1826.5,709.3 1829.0,715.6 1831.5,721.7 1834.0,727.8 1836.5,734.1 1839.0,740.3 1841.5,746.7 1844.0,753.0 1846.5,759.3 1849.0,765.5 1851.5,771.5 1854.0,777.4 1856.5,783.1 1859.0,788.5 1861.5,793.6 1864.0,798.5 1866.5,803.3 1869.0,808.0 1871.5,812.7 1874.0,817.2 1876.5,821.5 1879.0,825.7 1881.5,829.7 1884.0,833.4 1886.5,836.9 1889.0,840.2 1891.5,843.2 1894.0,846.4 1896.5,849.6 1899.0,852.8 1901.5,855.8 1903.5,858.0 1905.5,860.1 1907.5,861.8 1909.5,863.2 1911.5,864.3 1913.5,864.9 1915.5,864.9 1917.5,863.7 1919.5,861.0 1921.5,857.0 1923.5,851.9 1925.5,846.0 1927.5,839.4 1929.5,832.3 1931.5,824.9 1933.5,817.6 1935.5,810.2 1937.5,801.5 1939.5,790.9 1941.5,778.9 1943.5,765.8 1945.5,751.8 1947.5,737.4 1949.5,722.9 1951.5,708.5 1953.5,694.8 1955.5,681.8 1957.5,670.1 1959.5,660.0 1961.5,651.2 1963.5,642.9 1965.5,634.9 1967.5,627.2 1969.5,619.8 1971.5,612.5 1973.5,605.5 1975.5,598.6 1977.5,591.7 1979.5,585.0 1981.5,578.2 1983.5,571.6 1985.5,565.0 1987.5,558.5 1989.5,552.0 1991.5,545.5 1993.5,539.1 1995.5,532.6 1997.5,526.1 1999.5,519.5 2001.5,512.3 2003.5,503.8 2005.5,494.7 2007.5,486.0 2009.5,478.4 2011.5,472.8 2013.5,470.1 2015.5,470.6 2017.5,473.3 2019.5,477.7 2021.5,483.6 2023.5,490.6 2025.5,498.4 2027.5,506.8 2029.5,515.4 2031.5,524.0 2033.5,532.1 2035.5,539.5 2037.5,546.4 2039.5,553.8 2041.5,561.5 2043.5,569.1 2045.5,576.3 2047.5,582.9 2049.5,588.4 2051.5,593.1 2053.5,597.8 2055.5,602.4 2057.5,606.7 2059.5,610.5 2061.5,613.6 2063.5,615.8 2065.5,617.0 2067.5,616.9 2069.5,615.9 2071.5,614.1 2073.5,611.5 2075.5,608.4 2077.5,605.0 2079.5,601.3 2081.5,596.9 2083.5,590.5 2085.5,582.3 2087.5,572.7 2089.5,562.1 2091.5,550.8 2093.5,539.1 2095.5,527.4 2097.5,516.1 2099.5,505.4 2101.5,495.2 2103.5,484.8 2105.5,474.2 2107.5,463.5 2109.5,452.7 2111.5,442.1 2113.5,431.7 2115.5,421.5 2117.5,411.8 2119.5,402.5 2121.5,393.8 2123.5,385.2 2125.5,376.8 2127.5,368.7 2129.5,360.8 2131.5,353.2 2133.0,347.6" stroke="#33318b"/>
<polyline points="243.0,504.0 248.0,502.8 253.0,501.6 258.0,500.4 263.0,499.2 268.0,498.0 273.0,496.9 278.0,495.7 283.0,494.6 288.0,493.5 293.0,492.4 298.0,491.3 303.0,490.3 308.0,489.3 313.0,488.3 318.0,487.4 323.0,486.5 328.0,485.6 333.0,484.8 338.0,484.0 343.0,483.3 348.0,482.6 353.0,481.9 358.0,481.4 363.0,480.9 368.0,480.4 373.0,480.0 378.0,479.7 383.0,479.4 388.0,479.2 393.0,479.1 398.0,479.0 403.0,479.0 408.0,479.1 413.0,479.3 418.0,479.5 423.0,479.9 428.0,480.3 433.0,480.7 438.0,481.3 443.0,481.9 448.0,482.6 453.0,483.4 458.0,484.2 463.0,485.1 468.0,486.1 473.0,487.1 478.0,488.2 483.0,489.4 488.0,490.6 493.0,492.0 498.0,493.3 503.0,494.8 508.0,496.3 513.0,497.9 518.0,499.5 523.0,501.2 528.0,502.9 533.0,504.8 538.0,506.6 543.0,508.6 548.0,510.6 553.0,512.6 558.0,514.7 563.0,516.9 568.0,519.1 573.0,521.4 578.0,523.8 583.0,526.2 588.0,528.6 593.0,531.1 598.0,533.7 603.0,536.3 608.0,539.0 613.0,541.7 618.0,544.5 623.0,547.3 628.0,550.2 633.0,553.2 638.0,556.1 643.0,559.2 648.0,562.3 653.0,565.4 658.0,568.6 663.0,571.9 668.0,575.2 673.0,578.5 678.0,581.9 683.0,585.4 688.0,588.9 693.0,592.4 698.0,596.0 703.0,599.7 708.0,603.4 713.0,607.1 718.0,610.9 723.0,614.7 728.0,618.6 733.0,622.5 738.0,626.5 743.0,630.4 748.0,634.4 753.0,638.5 758.0,642.6 763.0,646.7 768.0,650.8 773.0,655.0 778.0,659.2 783.0,663.4 788.0,667.6 793.0,671.9 798.0,676.1 803.0,680.4 808.0,684.7 813.0,689.0 818.0,693.4 823.0,697.7 828.0,702.0 833.0,706.4 838.0,710.7 843.0,715.1 848.0,719.5 853.0,723.8 858.0,728.2 863.0,732.6 868.0,736.9 873.0,741.3 878.0,745.6 883.0,749.9 888.0,754.3 893.0,758.6 898.0,762.9 903.0,767.2 908.0,771.5 913.0,775.8 918.0,780.1 923.0,784.4 928.0,788.6 933.0,792.9 938.0,797.2 943.0,801.4 948.0,805.7 953.0,809.9 958.0,814.2 963.0,818.4 968.0,822.6 973.0,826.9 978.0,831.1 983.0,835.3 988.0,839.6 993.0,843.8 998.0,848.0 1003.0,852.2 1008.0,856.6 1013.0,860.9 1018.0,865.2 1023.0,869.4 1028.0,873.5 1033.0,877.1 1038.0,881.0 1043.0,884.9 1045.5,886.7 1048.0,888.6 1050.5,890.4 1053.0,892.2 1055.5,894.0 1058.0,895.8 1060.5,897.5 1063.0,899.2 1065.5,900.7 1068.0,902.2 1070.5,903.9 1073.0,905.5 1075.5,906.9 1078.0,908.1 1080.5,908.9 1083.0,906.6 1085.5,900.1 1088.0,896.0 1090.5,895.6 1093.0,895.0 1095.5,894.4 1098.0,894.5 1100.5,894.2 1103.0,893.4 1105.5,892.1 1108.0,889.6 1110.5,887.1 1113.0,884.4 1115.5,881.5 1118.0,878.2 1120.5,874.8 1123.0,871.3 1125.5,867.9 1128.0,864.5 1130.5,861.1 1133.0,857.5 1135.5,853.8 1138.0,850.3 1140.5,847.0 1143.0,843.5 1145.5,839.7 1148.0,836.0 1150.5,833.6 1153.0,832.9 1155.5,832.7 1158.0,832.6 1160.5,832.6 1163.0,832.7 1165.5,832.8 1168.0,833.1 1170.5,833.5 1173.0,834.2 1175.5,835.0 1178.0,836.0 1180.5,837.1 1183.0,838.4 1185.5,839.8 1188.0,841.2 1190.5,842.8 1193.0,844.3 1195.5,846.0 1198.0,847.6 1200.5,849.3 1203.0,851.1 1205.5,852.9 1208.0,854.7 1210.5,856.7 1213.0,858.6 1215.5,860.6 1218.0,862.7 1220.5,864.7 1223.0,866.9 1225.5,869.0 1228.0,871.1 1230.5,873.3 1233.0,875.5 1235.5,877.7 1238.0,879.9 1240.5,882.1 1243.0,884.4 1245.5,886.7 1248.0,889.0 1250.5,891.3 1253.0,893.7 1255.5,896.1 1258.0,898.5 1260.5,901.0 1263.0,903.6 1265.5,906.2 1268.0,908.9 1270.5,911.6 1273.0,914.3 1275.5,917.1 1278.0,919.9 1280.5,922.7 1283.0,925.5 1285.5,928.3 1288.0,931.0 1290.5,933.6 1293.0,936.2 1295.5,938.7 1298.0,941.1 1300.5,943.5 1303.0,945.7 1305.5,948.0 1308.0,950.3 1310.5,952.6 1313.0,954.8 1315.5,957.0 1318.0,959.2 1320.5,961.4 1323.0,963.5 1325.5,965.6 1328.0,967.6 1330.5,969.5 1333.0,971.4 1335.5,973.2 1338.0,974.9 1340.5,976.5 1343.0,978.1 1345.5,979.6 1348.0,981.2 1350.5,982.7 1353.0,984.2 1355.5,985.6 1358.0,987.0 1360.5,988.4 1363.0,989.7 1365.5,991.0 1368.0,992.2 1370.5,993.3 1373.0,994.4 1375.5,995.5 1378.0,996.5 1380.5,997.4 1383.0,998.2 1385.5,998.9 1388.0,999.7 1390.5,1000.3 1393.0,1001.0 1395.5,1001.6 1398.0,1002.1 1400.5,1002.7 1403.0,1003.2 1405.5,1003.7 1408.0,1004.2 1410.5,1004.6 1413.0,1005.1 1415.5,1005.5 1418.0,1005.9 1420.5,1006.2 1423.0,1006.6 1425.5,1007.0 1428.0,1007.3 1430.5,1007.6 1433.0,1007.9 1435.5,1008.3 1438.0,1008.6 1440.5,1008.9 1443.0,1009.2 1445.5,1009.5 1448.0,1009.9 1450.5,1010.2 1453.0,1010.6 1455.5,1010.9 1458.0,1011.3 1460.5,1011.6 1463.0,1012.0 1465.5,1012.3 1468.0,1012.7 1470.5,1013.0 1473.0,1013.3 1475.5,1013.5 1478.0,1013.8 1480.5,1014.0 1483.0,1014.2 1485.5,1014.3 1488.0,1014.4 1490.5,1014.5 1493.0,1014.5 1495.5,1014.4 1498.0,1014.0 1500.5,1013.4 1503.0,1012.6 1505.5,1011.7 1508.0,1010.7 1510.5,1009.5 1513.0,1008.4 1515.5,1007.2 1518.0,1005.6 1520.5,1003.6 1523.0,1001.3 1525.5,998.7 1528.0,996.1 1530.5,993.4 1533.0,990.9 1535.5,988.7 1538.0,986.6 1540.5,984.5 1543.0,982.4 1545.5,980.3 1548.0,978.3 1550.5,976.4 1553.0,974.6 1555.5,972.8 1558.0,971.2 1560.5,969.8 1563.0,968.4 1565.5,967.0 1568.0,965.7 1570.5,964.2 1573.0,962.6 1575.5,960.7 1578.0,958.6 1580.5,956.2 1583.0,953.6 1585.5,950.1 1588.0,946.0 1590.5,943.7 1593.0,944.4 1595.5,946.9 1598.0,949.1 1600.5,950.6 1603.0,951.9 1605.5,953.1 1608.0,954.0 1610.5,954.9 1613.0,955.7 1615.5,956.4 1618.0,957.1 1620.5,957.8 1623.0,958.5 1625.5,959.1 1628.0,959.7 1630.5,960.2 1633.0,960.8 1635.5,961.4 1638.0,961.9 1640.5,962.5 1643.0,963.1 1645.5,963.7 1648.0,964.3 1650.5,964.9 1653.0,965.5 1655.5,966.1 1658.0,966.7 1660.5,967.2 1663.0,967.8 1665.5,968.3 1668.0,968.8 1670.5,969.3 1673.0,969.7 1675.5,970.0 1678.0,970.3 1680.5,970.6 1683.0,970.9 1685.5,971.2 1688.0,971.3 1690.5,971.4 1692.0,971.0 1693.5,970.1 1695.0,968.8 1696.5,967.1 1698.0,965.1 1699.5,962.8 1701.0,958.8 1702.5,949.4 1704.0,935.4 1705.5,918.2 1707.0,899.1 1708.5,879.5 1710.0,860.7 1711.5,840.4 1713.0,816.5 1714.5,790.5 1716.0,763.8 1717.5,738.0 1719.0,714.6 1720.5,694.5 1722.0,674.7 1723.5,654.5 1725.0,635.0 1726.5,617.1 1728.0,601.6 1729.5,589.4 1731.0,580.6 1732.5,572.1 1734.0,564.2 1735.5,557.3 1737.0,551.9 1738.5,548.3 1740.0,547.0 1741.5,547.5 1743.0,548.9 1744.5,550.9 1746.0,553.5 1747.5,556.4 1749.0,559.4 1750.5,562.4 1752.0,565.3 1753.5,568.1 1755.0,571.3 1756.5,574.8 1758.0,578.4 1759.5,582.1 1761.0,585.8 1762.5,589.5 1764.0,593.0 1765.5,596.3 1767.0,599.6 1768.5,603.0 1770.0,606.4 1771.5,609.8 1774.0,615.6 1776.5,621.5 1779.0,627.4 1781.5,633.2 1784.0,639.0 1786.5,644.7 1789.0,650.6 1791.5,656.4 1794.0,662.3 1796.5,668.2 1799.0,674.0 1801.5,679.7 1804.0,685.3 1806.5,690.7 1809.0,696.1 1811.5,701.5 1814.0,706.9 1816.5,712.2 1819.0,717.5 1821.5,722.8 1824.0,728.0 1826.5,733.2 1829.0,738.3 1831.5,743.4 1834.0,748.5 1836.5,753.6 1839.0,758.9 1841.5,764.2 1844.0,769.5 1846.5,774.8 1849.0,780.1 1851.5,785.2 1854.0,790.2 1856.5,795.1 1859.0,799.7 1861.5,804.1 1864.0,808.2 1866.5,812.4 1869.0,816.4 1871.5,820.5 1874.0,824.4 1876.5,828.2 1879.0,831.9 1881.5,835.4 1884.0,838.8 1886.5,841.9 1889.0,844.8 1891.5,847.5 1894.0,850.4 1896.5,853.4 1899.0,856.4 1901.5,859.2 1903.5,861.3 1905.5,863.2 1907.5,864.9 1909.5,866.3 1911.5,867.3 1913.5,867.9 1915.5,867.9 1917.5,866.7 1919.5,864.0 1921.5,860.0 1923.5,854.9 1925.5,849.0 1927.5,842.4 1929.5,835.4 1931.5,828.1 1933.5,820.7 1935.5,813.5 1937.5,804.9 1939.5,794.5 1941.5,782.7 1943.5,769.9 1945.5,756.3 1947.5,742.2 1949.5,728.0 1951.5,714.0 1953.5,700.6 1955.5,688.0 1957.5,676.5 1959.5,666.5 1961.5,657.9 1963.5,649.6 1965.5,641.6 1967.5,633.9 1969.5,626.4 1971.5,619.1 1973.5,612.0 1975.5,605.0 1977.5,598.2 1979.5,591.5 1981.5,584.9 1983.5,578.4 1985.5,572.1 1987.5,565.8 1989.5,559.6 1991.5,553.4 1993.5,547.2 1995.5,540.9 1997.5,534.6 1999.5,528.2 2001.5,521.3 2003.5,512.9 2005.5,503.9 2007.5,495.3 2009.5,487.8 2011.5,482.3 2013.5,479.7 2015.5,480.3 2017.5,483.1 2019.5,487.7 2021.5,493.8 2023.5,501.0 2025.5,509.0 2027.5,517.6 2029.5,526.4 2031.5,535.0 2033.5,543.2 2035.5,550.7 2037.5,557.6 2039.5,565.0 2041.5,572.5 2043.5,580.1 2045.5,587.2 2047.5,593.6 2049.5,599.0 2051.5,603.6 2053.5,608.2 2055.5,612.7 2057.5,616.9 2059.5,620.5 2061.5,623.5 2063.5,625.7 2065.5,626.7 2067.5,626.6 2069.5,625.5 2071.5,623.6 2073.5,620.9 2075.5,617.7 2077.5,614.1 2079.5,610.3 2081.5,605.8 2083.5,599.4 2085.5,591.2 2087.5,581.7 2089.5,571.1 2091.5,559.9 2093.5,548.2 2095.5,536.6 2097.5,525.3 2099.5,514.6 2101.5,504.5 2103.5,494.1 2105.5,483.5 2107.5,472.8 2109.5,462.1 2111.5,451.5 2113.5,441.0 2115.5,430.8 2117.5,421.0 2119.5,411.6 2121.5,402.6 2123.5,393.9 2125.5,385.3 2127.5,376.9 2129.5,368.7 2131.5,360.8 2133.0,355.0" stroke="#4b3e92"/>
<polyline points="243.0,521.0 248.0,519.6 253.0,518.3 258.0,516.9 263.0,515.6 268.0,514.3 273.0,512.9 278.0,511.6 283.0,510.4 288.0,509.1 293.0,507.8 298.0,506.6 303.0,505.4 308.0,504.3 313.0,503.1 318.0,502.0 323.0,501.0 328.0,499.9 333.0,498.9 338.0,498.0 343.0,497.1 348.0,496.3 353.0,495.5 358.0,494.7 363.0,494.1 368.0,493.4 373.0,492.9 378.0,492.4 383.0,491.9 388.0,491.6 393.0,491.3 398.0,491.1 403.0,490.9 408.0,490.9 413.0,490.9 418.0,490.9 423.0,491.1 428.0,491.3 433.0,491.6 438.0,492.0 443.0,492.4 448.0,493.0 453.0,493.5 458.0,494.2 463.0,494.9 468.0,495.7 473.0,496.5 478.0,497.4 483.0,498.4 488.0,499.4 493.0,500.5 498.0,501.7 503.0,502.9 508.0,504.2 513.0,505.5 518.0,506.9 523.0,508.3 528.0,509.8 533.0,511.4 538.0,513.0 543.0,514.7 548.0,516.4 553.0,518.1 558.0,520.0 563.0,521.8 568.0,523.7 573.0,525.7 578.0,527.7 583.0,529.8 588.0,531.9 593.0,534.0 598.0,536.2 603.0,538.5 608.0,540.8 613.0,543.2 618.0,545.6 623.0,548.0 628.0,550.5 633.0,553.1 638.0,555.7 643.0,558.3 648.0,561.0 653.0,563.8 658.0,566.6 663.0,569.4 668.0,572.3 673.0,575.2 678.0,578.2 683.0,581.3 688.0,584.4 693.0,587.5 698.0,590.7 703.0,593.9 708.0,597.2 713.0,600.6 718.0,604.0 723.0,607.4 728.0,610.8 733.0,614.3 738.0,617.9 743.0,621.5 748.0,625.1 753.0,628.7 758.0,632.4 763.0,636.1 768.0,639.8 773.0,643.6 778.0,647.4 783.0,651.2 788.0,655.0 793.0,658.8 798.0,662.7 803.0,666.6 808.0,670.5 813.0,674.4 818.0,678.3 823.0,682.2 828.0,686.1 833.0,690.0 838.0,694.0 843.0,697.9 848.0,701.8 853.0,705.8 858.0,709.7 863.0,713.6 868.0,717.5 873.0,721.4 878.0,725.3 883.0,729.2 888.0,733.1 893.0,736.9 898.0,740.8 903.0,744.6 908.0,748.5 913.0,752.3 918.0,756.1 923.0,759.9 928.0,763.7 933.0,767.5 938.0,771.3 943.0,775.0 948.0,778.8 953.0,782.6 958.0,786.3 963.0,790.1 968.0,793.8 973.0,797.6 978.0,801.3 983.0,805.0 988.0,808.8 993.0,812.5 998.0,816.2 1003.0,819.9 1008.0,823.6 1013.0,827.2 1018.0,830.9 1023.0,834.6 1028.0,838.4 1033.0,842.2 1038.0,846.5 1043.0,850.6 1045.5,852.6 1048.0,854.5 1050.5,856.3 1053.0,858.0 1055.5,859.7 1058.0,861.4 1060.5,863.0 1063.0,864.5 1065.5,865.8 1068.0,867.1 1070.5,868.5 1073.0,869.9 1075.5,871.1 1078.0,872.0 1080.5,872.5 1083.0,868.0 1085.5,856.7 1088.0,849.7 1090.5,849.2 1093.0,848.7 1095.5,848.1 1098.0,849.1 1100.5,849.9 1103.0,850.3 1105.5,849.9 1108.0,847.7 1110.5,845.6 1113.0,843.5 1115.5,841.2 1118.0,838.8 1120.5,836.2 1123.0,833.3 1125.5,830.3 1128.0,827.1 1130.5,823.7 1133.0,819.6 1135.5,815.2 1138.0,810.9 1140.5,807.1 1143.0,802.9 1145.5,798.2 1148.0,793.5 1150.5,790.6 1153.0,790.1 1155.5,790.7 1158.0,791.9 1160.5,793.6 1163.0,795.5 1165.5,797.5 1168.0,799.8 1170.5,802.2 1173.0,804.9 1175.5,807.7 1178.0,810.6 1180.5,813.6 1183.0,816.6 1185.5,819.6 1188.0,822.6 1190.5,825.4 1193.0,828.0 1195.5,830.4 1198.0,832.5 1200.5,834.3 1203.0,836.0 1205.5,837.7 1208.0,839.5 1210.5,841.2 1213.0,843.0 1215.5,844.8 1218.0,846.6 1220.5,848.5 1223.0,850.3 1225.5,852.2 1228.0,854.1 1230.5,856.0 1233.0,857.9 1235.5,859.8 1238.0,861.7 1240.5,863.7 1243.0,865.6 1245.5,867.6 1248.0,869.6 1250.5,871.7 1253.0,873.7 1255.5,875.8 1258.0,877.9 1260.5,880.1 1263.0,882.3 1265.5,884.5 1268.0,886.8 1270.5,889.2 1273.0,891.5 1275.5,893.9 1278.0,896.3 1280.5,898.7 1283.0,901.2 1285.5,903.6 1288.0,906.0 1290.5,908.3 1293.0,910.7 1295.5,913.0 1298.0,915.2 1300.5,917.4 1303.0,919.6 1305.5,921.9 1308.0,924.1 1310.5,926.3 1313.0,928.5 1315.5,930.7 1318.0,932.9 1320.5,935.0 1323.0,937.1 1325.5,939.1 1328.0,941.0 1330.5,942.8 1333.0,944.6 1335.5,946.2 1338.0,947.8 1340.5,949.2 1343.0,950.5 1345.5,951.8 1348.0,953.1 1350.5,954.4 1353.0,955.6 1355.5,956.8 1358.0,957.9 1360.5,959.0 1363.0,960.1 1365.5,961.2 1368.0,962.2 1370.5,963.1 1373.0,964.0 1375.5,964.9 1378.0,965.7 1380.5,966.5 1383.0,967.2 1385.5,967.9 1388.0,968.6 1390.5,969.2 1393.0,969.9 1395.5,970.5 1398.0,971.0 1400.5,971.6 1403.0,972.1 1405.5,972.6 1408.0,973.1 1410.5,973.6 1413.0,974.0 1415.5,974.5 1418.0,974.9 1420.5,975.3 1423.0,975.7 1425.5,976.1 1428.0,976.4 1430.5,976.8 1433.0,977.1 1435.5,977.4 1438.0,977.7 1440.5,978.0 1443.0,978.3 1445.5,978.6 1448.0,978.9 1450.5,979.3 1453.0,979.6 1455.5,979.9 1458.0,980.2 1460.5,980.5 1463.0,980.8 1465.5,981.1 1468.0,981.4 1470.5,981.7 1473.0,981.9 1475.5,982.2 1478.0,982.4 1480.5,982.6 1483.0,982.7 1485.5,982.8 1488.0,982.9 1490.5,983.0 1493.0,983.0 1495.5,982.9 1498.0,982.6 1500.5,982.1 1503.0,981.4 1505.5,980.6 1508.0,979.7 1510.5,978.7 1513.0,977.6 1515.5,976.5 1518.0,974.8 1520.5,972.6 1523.0,969.8 1525.5,966.8 1528.0,963.6 1530.5,960.6 1533.0,957.7 1535.5,955.2 1538.0,952.9 1540.5,950.6 1543.0,948.4 1545.5,946.2 1548.0,944.2 1550.5,942.2 1553.0,940.3 1555.5,938.6 1558.0,937.1 1560.5,935.7 1563.0,934.5 1565.5,933.2 1568.0,932.0 1570.5,930.6 1573.0,929.1 1575.5,927.3 1578.0,925.1 1580.5,922.5 1583.0,919.8 1585.5,916.4 1588.0,912.7 1590.5,910.6 1593.0,911.3 1595.5,913.6 1598.0,915.7 1600.5,917.0 1603.0,918.2 1605.5,919.2 1608.0,920.2 1610.5,921.0 1613.0,921.9 1615.5,922.7 1618.0,923.4 1620.5,924.1 1623.0,924.8 1625.5,925.5 1628.0,926.1 1630.5,926.8 1633.0,927.4 1635.5,928.1 1638.0,928.7 1640.5,929.4 1643.0,930.1 1645.5,930.8 1648.0,931.5 1650.5,932.3 1653.0,933.0 1655.5,933.8 1658.0,934.5 1660.5,935.2 1663.0,935.9 1665.5,936.6 1668.0,937.3 1670.5,937.9 1673.0,938.5 1675.5,939.0 1678.0,939.5 1680.5,940.0 1683.0,940.5 1685.5,941.0 1688.0,941.4 1690.5,941.4 1692.0,941.0 1693.5,940.0 1695.0,938.6 1696.5,936.8 1698.0,934.5 1699.5,931.8 1701.0,926.8 1702.5,913.7 1704.0,894.4 1705.5,871.4 1707.0,847.1 1708.5,823.6 1710.0,803.1 1711.5,782.9 1713.0,760.5 1714.5,737.5 1716.0,715.3 1717.5,695.5 1719.0,679.3 1720.5,667.3 1722.0,655.7 1723.5,643.6 1725.0,631.5 1726.5,620.1 1728.0,610.4 1729.5,603.2 1731.0,598.6 1732.5,593.5 1734.0,588.2 1735.5,583.2 1737.0,579.0 1738.5,576.1 1740.0,575.0 1741.5,575.6 1743.0,577.3 1744.5,579.9 1746.0,583.0 1747.5,586.6 1749.0,590.4 1750.5,594.2 1752.0,597.7 1753.5,601.3 1755.0,605.2 1756.5,609.4 1758.0,613.8 1759.5,618.3 1761.0,622.8 1762.5,627.2 1764.0,631.4 1765.5,635.3 1767.0,639.2 1768.5,643.0 1770.0,646.8 1771.5,650.6 1774.0,656.9 1776.5,663.2 1779.0,669.5 1781.5,675.8 1784.0,682.1 1786.5,688.4 1789.0,694.7 1791.5,701.1 1794.0,707.5 1796.5,713.8 1799.0,720.0 1801.5,726.1 1804.0,732.1 1806.5,737.9 1809.0,743.7 1811.5,749.4 1814.0,755.1 1816.5,760.7 1819.0,766.3 1821.5,771.8 1824.0,777.2 1826.5,782.5 1829.0,787.7 1831.5,792.8 1834.0,797.9 1836.5,802.9 1839.0,808.0 1841.5,813.0 1844.0,818.0 1846.5,823.0 1849.0,827.8 1851.5,832.5 1854.0,837.0 1856.5,841.4 1859.0,845.5 1861.5,849.3 1864.0,852.9 1866.5,856.5 1869.0,859.9 1871.5,863.2 1874.0,866.4 1876.5,869.5 1879.0,872.5 1881.5,875.3 1884.0,878.0 1886.5,880.4 1889.0,882.8 1891.5,884.9 1894.0,887.3 1896.5,889.7 1899.0,892.0 1901.5,894.2 1903.5,895.9 1905.5,897.3 1907.5,898.5 1909.5,899.4 1911.5,900.0 1913.5,900.2 1915.5,899.8 1917.5,898.1 1919.5,894.7 1921.5,890.0 1923.5,884.1 1925.5,877.3 1927.5,869.8 1929.5,861.9 1931.5,853.7 1933.5,845.5 1935.5,837.5 1937.5,828.4 1939.5,817.8 1941.5,806.0 1943.5,793.1 1945.5,779.4 1947.5,765.2 1949.5,750.5 1951.5,735.9 1953.5,721.4 1955.5,707.5 1957.5,694.4 1959.5,682.5 1961.5,671.8 1963.5,661.3 1965.5,651.1 1967.5,641.2 1969.5,631.6 1971.5,622.4 1973.5,613.4 1975.5,604.8 1977.5,596.4 1979.5,588.1 1981.5,580.0 1983.5,571.9 1985.5,564.0 1987.5,556.1 1989.5,548.3 1991.5,540.5 1993.5,532.8 1995.5,525.0 1997.5,517.3 1999.5,509.6 2001.5,501.4 2003.5,492.1 2005.5,482.3 2007.5,472.9 2009.5,464.8 2011.5,458.9 2013.5,455.9 2015.5,456.1 2017.5,458.4 2019.5,462.5 2021.5,467.9 2023.5,474.5 2025.5,481.9 2027.5,489.8 2029.5,498.0 2031.5,506.0 2033.5,513.7 2035.5,520.8 2037.5,527.4 2039.5,534.5 2041.5,542.0 2043.5,549.4 2045.5,556.4 2047.5,562.8 2049.5,568.1 2051.5,572.6 2053.5,577.1 2055.5,581.4 2057.5,585.5 2059.5,589.1 2061.5,591.9 2063.5,593.8 2065.5,594.6 2067.5,594.2 2069.5,592.8 2071.5,590.6 2073.5,587.7 2075.5,584.3 2077.5,580.5 2079.5,576.4 2081.5,571.6 2083.5,564.6 2085.5,555.7 2087.5,545.3 2089.5,533.7 2091.5,521.4 2093.5,508.6 2095.5,495.8 2097.5,483.3 2099.5,471.5 2101.5,460.3 2103.5,448.6 2105.5,436.7 2107.5,424.5 2109.5,412.4 2111.5,400.3 2113.5,388.5 2115.5,377.1 2117.5,366.3 2119.5,356.1 2121.5,346.6 2123.5,337.4 2125.5,328.6 2127.5,320.1 2129.5,312.0 2131.5,304.3 2133.0,298.7" stroke="#47712f"/>
<polyline points="243.0,529.0 248.0,527.7 253.0,526.4 258.0,525.1 263.0,523.8 268.0,522.5 273.0,521.2 278.0,520.0 283.0,518.7 288.0,517.5 293.0,516.3 298.0,515.2 303.0,514.0 308.0,512.9 313.0,511.9 318.0,510.8 323.0,509.9 328.0,508.9 333.0,508.0 338.0,507.2 343.0,506.4 348.0,505.7 353.0,505.0 358.0,504.4 363.0,503.8 368.0,503.3 373.0,502.9 378.0,502.6 383.0,502.3 388.0,502.1 393.0,502.0 398.0,502.0 403.0,502.0 408.0,502.2 413.0,502.4 418.0,502.7 423.0,503.1 428.0,503.6 433.0,504.1 438.0,504.8 443.0,505.5 448.0,506.3 453.0,507.1 458.0,508.1 463.0,509.1 468.0,510.1 473.0,511.3 478.0,512.5 483.0,513.8 488.0,515.1 493.0,516.5 498.0,518.0 503.0,519.5 508.0,521.1 513.0,522.7 518.0,524.4 523.0,526.2 528.0,528.0 533.0,529.9 538.0,531.8 543.0,533.8 548.0,535.8 553.0,537.8 558.0,539.9 563.0,542.1 568.0,544.3 573.0,546.5 578.0,548.8 583.0,551.2 588.0,553.6 593.0,556.0 598.0,558.5 603.0,561.0 608.0,563.6 613.0,566.2 618.0,568.9 623.0,571.6 628.0,574.3 633.0,577.2 638.0,580.0 643.0,583.0 648.0,585.9 653.0,589.0 658.0,592.0 663.0,595.2 668.0,598.3 673.0,601.6 678.0,604.9 683.0,608.2 688.0,611.6 693.0,615.1 698.0,618.6 703.0,622.1 708.0,625.8 713.0,629.4 718.0,633.2 723.0,636.9 728.0,640.8 733.0,644.6 738.0,648.5 743.0,652.5 748.0,656.5 753.0,660.5 758.0,664.5 763.0,668.6 768.0,672.7 773.0,676.9 778.0,681.0 783.0,685.2 788.0,689.4 793.0,693.7 798.0,697.9 803.0,702.2 808.0,706.5 813.0,710.8 818.0,715.0 823.0,719.4 828.0,723.7 833.0,728.0 838.0,732.3 843.0,736.6 848.0,740.9 853.0,745.2 858.0,749.5 863.0,753.8 868.0,758.0 873.0,762.3 878.0,766.5 883.0,770.8 888.0,775.0 893.0,779.2 898.0,783.3 903.0,787.5 908.0,791.6 913.0,795.8 918.0,799.9 923.0,804.0 928.0,808.1 933.0,812.2 938.0,816.3 943.0,820.3 948.0,824.4 953.0,828.4 958.0,832.5 963.0,836.5 968.0,840.5 973.0,844.5 978.0,848.5 983.0,852.5 988.0,856.5 993.0,860.5 998.0,864.5 1003.0,868.5 1008.0,872.6 1013.0,876.7 1018.0,880.8 1023.0,884.8 1028.0,888.6 1033.0,891.9 1038.0,895.4 1043.0,898.7 1045.5,900.3 1048.0,901.9 1050.5,903.5 1053.0,905.1 1055.5,906.7 1058.0,908.3 1060.5,909.8 1063.0,911.2 1065.5,912.6 1068.0,913.9 1070.5,915.3 1073.0,916.7 1075.5,917.9 1078.0,918.9 1080.5,919.5 1083.0,918.9 1085.5,916.7 1088.0,915.0 1090.5,914.3 1093.0,913.5 1095.5,912.6 1098.0,911.6 1100.5,909.9 1103.0,907.8 1105.5,905.2 1108.0,902.3 1110.5,899.3 1113.0,896.2 1115.5,892.6 1118.0,888.9 1120.5,885.0 1123.0,881.1 1125.5,877.2 1128.0,873.4 1130.5,869.6 1133.0,865.7 1135.5,861.7 1138.0,857.8 1140.5,854.3 1143.0,850.5 1145.5,846.5 1148.0,843.0 1150.5,840.6 1153.0,839.9 1155.5,839.5 1158.0,839.3 1160.5,839.1 1163.0,839.0 1165.5,838.9 1168.0,838.9 1170.5,839.1 1173.0,839.6 1175.5,840.2 1178.0,841.0 1180.5,841.9 1183.0,843.0 1185.5,844.2 1188.0,845.6 1190.5,847.0 1193.0,848.5 1195.5,850.0 1198.0,851.7 1200.5,853.3 1203.0,855.1 1205.5,857.0 1208.0,858.9 1210.5,860.9 1213.0,862.9 1215.5,865.1 1218.0,867.2 1220.5,869.5 1223.0,871.7 1225.5,874.0 1228.0,876.3 1230.5,878.7 1233.0,881.0 1235.5,883.4 1238.0,885.8 1240.5,888.2 1243.0,890.6 1245.5,893.1 1248.0,895.6 1250.5,898.1 1253.0,900.6 1255.5,903.2 1258.0,905.8 1260.5,908.4 1263.0,911.1 1265.5,913.9 1268.0,916.7 1270.5,919.6 1273.0,922.5 1275.5,925.4 1278.0,928.2 1280.5,931.1 1283.0,933.9 1285.5,936.7 1288.0,939.4 1290.5,942.1 1293.0,944.6 1295.5,947.0 1298.0,949.3 1300.5,951.4 1303.0,953.5 1305.5,955.6 1308.0,957.6 1310.5,959.7 1313.0,961.7 1315.5,963.7 1318.0,965.7 1320.5,967.6 1323.0,969.5 1325.5,971.4 1328.0,973.1 1330.5,974.9 1333.0,976.6 1335.5,978.2 1338.0,979.7 1340.5,981.2 1343.0,982.6 1345.5,984.0 1348.0,985.4 1350.5,986.8 1353.0,988.2 1355.5,989.5 1358.0,990.8 1360.5,992.1 1363.0,993.3 1365.5,994.5 1368.0,995.6 1370.5,996.7 1373.0,997.8 1375.5,998.8 1378.0,999.7 1380.5,1000.6 1383.0,1001.4 1385.5,1002.1 1388.0,1002.8 1390.5,1003.5 1393.0,1004.1 1395.5,1004.7 1398.0,1005.3 1400.5,1005.9 1403.0,1006.4 1405.5,1006.9 1408.0,1007.3 1410.5,1007.8 1413.0,1008.2 1415.5,1008.6 1418.0,1009.0 1420.5,1009.4 1423.0,1009.8 1425.5,1010.1 1428.0,1010.5 1430.5,1010.8 1433.0,1011.2 1435.5,1011.5 1438.0,1011.8 1440.5,1012.1 1443.0,1012.5 1445.5,1012.8 1448.0,1013.2 1450.5,1013.5 1453.0,1013.9 1455.5,1014.3 1458.0,1014.6 1460.5,1015.0 1463.0,1015.4 1465.5,1015.7 1468.0,1016.1 1470.5,1016.4 1473.0,1016.7 1475.5,1017.0 1478.0,1017.2 1480.5,1017.5 1483.0,1017.6 1485.5,1017.8 1488.0,1017.9 1490.5,1018.0 1493.0,1018.0 1495.5,1017.9 1498.0,1017.5 1500.5,1016.9 1503.0,1016.1 1505.5,1015.1 1508.0,1014.1 1510.5,1013.0 1513.0,1011.8 1515.5,1010.6 1518.0,1009.1 1520.5,1007.1 1523.0,1004.8 1525.5,1002.3 1528.0,999.7 1530.5,997.1 1533.0,994.6 1535.5,992.4 1538.0,990.3 1540.5,988.2 1543.0,986.1 1545.5,984.1 1548.0,982.1 1550.5,980.2 1553.0,978.4 1555.5,976.6 1558.0,975.0 1560.5,973.6 1563.0,972.2 1565.5,970.8 1568.0,969.4 1570.5,967.9 1573.0,966.3 1575.5,964.5 1578.0,962.4 1580.5,960.0 1583.0,957.4 1585.5,953.8 1588.0,949.7 1590.5,947.4 1593.0,948.1 1595.5,950.6 1598.0,952.8 1600.5,954.3 1603.0,955.7 1605.5,956.8 1608.0,957.8 1610.5,958.6 1613.0,959.4 1615.5,960.2 1618.0,960.9 1620.5,961.6 1623.0,962.2 1625.5,962.8 1628.0,963.4 1630.5,964.0 1633.0,964.5 1635.5,965.1 1638.0,965.6 1640.5,966.2 1643.0,966.7 1645.5,967.3 1648.0,967.9 1650.5,968.5 1653.0,969.1 1655.5,969.7 1658.0,970.2 1660.5,970.8 1663.0,971.3 1665.5,971.8 1668.0,972.3 1670.5,972.7 1673.0,973.1 1675.5,973.5 1678.0,973.8 1680.5,974.0 1683.0,974.3 1685.5,974.5 1688.0,974.7 1690.5,974.7 1692.0,974.3 1693.5,973.4 1695.0,972.2 1696.5,970.5 1698.0,968.5 1699.5,966.3 1701.0,962.5 1702.5,953.7 1704.0,941.0 1705.5,925.7 1707.0,909.1 1708.5,892.7 1710.0,877.4 1711.5,861.1 1713.0,841.7 1714.5,820.7 1716.0,799.2 1717.5,778.6 1719.0,760.0 1720.5,744.0 1722.0,727.3 1723.5,709.6 1725.0,691.9 1726.5,675.0 1728.0,660.3 1729.5,648.7 1731.0,640.4 1732.5,632.0 1734.0,623.8 1735.5,616.5 1737.0,610.5 1738.5,606.5 1740.0,605.0 1741.5,605.7 1743.0,607.7 1744.5,610.6 1746.0,614.3 1747.5,618.4 1749.0,622.7 1750.5,627.0 1752.0,630.8 1753.5,634.6 1755.0,638.8 1756.5,643.3 1758.0,647.8 1759.5,652.4 1761.0,656.9 1762.5,661.2 1764.0,665.2 1765.5,668.9 1767.0,672.3 1768.5,675.6 1770.0,678.8 1771.5,681.9 1774.0,686.9 1776.5,691.8 1779.0,696.6 1781.5,701.3 1784.0,706.0 1786.5,710.7 1789.0,715.3 1791.5,720.0 1794.0,724.6 1796.5,729.1 1799.0,733.6 1801.5,737.8 1804.0,742.0 1806.5,746.0 1809.0,750.0 1811.5,754.0 1814.0,757.9 1816.5,761.7 1819.0,765.6 1821.5,769.3 1824.0,773.1 1826.5,776.8 1829.0,780.4 1831.5,784.1 1834.0,787.6 1836.5,791.3 1839.0,795.1 1841.5,798.9 1844.0,802.8 1846.5,806.7 1849.0,810.5 1851.5,814.3 1854.0,818.0 1856.5,821.6 1859.0,825.0 1861.5,828.3 1864.0,831.4 1866.5,834.4 1869.0,837.5 1871.5,840.5 1874.0,843.6 1876.5,846.5 1879.0,849.4 1881.5,852.1 1884.0,854.8 1886.5,857.3 1889.0,859.7 1891.5,861.9 1894.0,864.4 1896.5,866.9 1899.0,869.5 1901.5,872.1 1903.5,874.0 1905.5,875.7 1907.5,877.2 1909.5,878.4 1911.5,879.3 1913.5,879.9 1915.5,879.9 1917.5,878.7 1919.5,876.0 1921.5,872.0 1923.5,867.0 1925.5,861.1 1927.5,854.7 1929.5,847.8 1931.5,840.7 1933.5,833.6 1935.5,826.7 1937.5,818.6 1939.5,809.1 1941.5,798.4 1943.5,786.8 1945.5,774.5 1947.5,762.0 1949.5,749.3 1951.5,736.9 1953.5,724.9 1955.5,713.6 1957.5,703.3 1959.5,694.2 1961.5,686.0 1963.5,678.0 1965.5,670.0 1967.5,662.2 1969.5,654.4 1971.5,646.8 1973.5,639.4 1975.5,632.3 1977.5,625.4 1979.5,618.9 1981.5,612.8 1983.5,607.0 1985.5,601.3 1987.5,595.9 1989.5,590.5 1991.5,585.2 1993.5,579.8 1995.5,574.3 1997.5,568.7 1999.5,562.8 2001.5,556.2 2003.5,548.0 2005.5,539.0 2007.5,530.2 2009.5,522.5 2011.5,516.9 2013.5,514.1 2015.5,514.7 2017.5,517.4 2019.5,522.1 2021.5,528.2 2023.5,535.5 2025.5,543.6 2027.5,552.2 2029.5,561.0 2031.5,569.5 2033.5,577.4 2035.5,584.5 2037.5,590.9 2039.5,597.6 2041.5,604.5 2043.5,611.2 2045.5,617.4 2047.5,623.0 2049.5,627.6 2051.5,631.4 2053.5,635.2 2055.5,638.8 2057.5,642.1 2059.5,645.0 2061.5,647.1 2063.5,648.5 2065.5,648.8 2067.5,647.9 2069.5,646.0 2071.5,643.1 2073.5,639.6 2075.5,635.5 2077.5,631.0 2079.5,626.3 2081.5,620.9 2083.5,613.7 2085.5,604.7 2087.5,594.4 2089.5,583.0 2091.5,570.9 2093.5,558.3 2095.5,545.7 2097.5,533.3 2099.5,521.5 2101.5,510.2 2103.5,498.5 2105.5,486.6 2107.5,474.5 2109.5,462.2 2111.5,449.9 2113.5,437.8 2115.5,425.8 2117.5,414.1 2119.5,402.8 2121.5,391.9 2123.5,381.2 2125.5,370.8 2127.5,360.5 2129.5,350.5 2131.5,340.7 2133.0,333.6" stroke="#7e7e7c"/>
<polyline points="243.0,568.0 248.0,566.1 253.0,564.2 258.0,562.4 263.0,560.5 268.0,558.6 273.0,556.8 278.0,555.0 283.0,553.2 288.0,551.4 293.0,549.7 298.0,547.9 303.0,546.3 308.0,544.6 313.0,543.0 318.0,541.4 323.0,539.9 328.0,538.4 333.0,537.0 338.0,535.6 343.0,534.3 348.0,533.0 353.0,531.8 358.0,530.6 363.0,529.6 368.0,528.6 373.0,527.6 378.0,526.8 383.0,526.0 388.0,525.3 393.0,524.7 398.0,524.2 403.0,523.8 408.0,523.4 413.0,523.2 418.0,523.0 423.0,522.9 428.0,522.9 433.0,523.0 438.0,523.2 443.0,523.4 448.0,523.8 453.0,524.2 458.0,524.6 463.0,525.2 468.0,525.8 473.0,526.5 478.0,527.2 483.0,528.0 488.0,528.9 493.0,529.9 498.0,530.9 503.0,531.9 508.0,533.0 513.0,534.2 518.0,535.4 523.0,536.7 528.0,538.0 533.0,539.4 538.0,540.8 543.0,542.2 548.0,543.7 553.0,545.3 558.0,546.9 563.0,548.5 568.0,550.1 573.0,551.8 578.0,553.5 583.0,555.3 588.0,557.1 593.0,559.0 598.0,560.9 603.0,562.8 608.0,564.8 613.0,566.8 618.0,568.8 623.0,571.0 628.0,573.1 633.0,575.3 638.0,577.6 643.0,579.9 648.0,582.3 653.0,584.7 658.0,587.1 663.0,589.6 668.0,592.2 673.0,594.8 678.0,597.5 683.0,600.3 688.0,603.0 693.0,605.9 698.0,608.8 703.0,611.8 708.0,614.8 713.0,617.9 718.0,621.1 723.0,624.3 728.0,627.5 733.0,630.8 738.0,634.2 743.0,637.6 748.0,641.0 753.0,644.5 758.0,648.0 763.0,651.6 768.0,655.2 773.0,658.9 778.0,662.5 783.0,666.2 788.0,670.0 793.0,673.8 798.0,677.5 803.0,681.4 808.0,685.2 813.0,689.1 818.0,693.0 823.0,696.9 828.0,700.8 833.0,704.7 838.0,708.6 843.0,712.6 848.0,716.6 853.0,720.5 858.0,724.5 863.0,728.5 868.0,732.4 873.0,736.4 878.0,740.4 883.0,744.3 888.0,748.3 893.0,752.3 898.0,756.2 903.0,760.2 908.0,764.1 913.0,768.1 918.0,772.0 923.0,776.0 928.0,779.9 933.0,783.9 938.0,787.8 943.0,791.7 948.0,795.7 953.0,799.6 958.0,803.5 963.0,807.5 968.0,811.4 973.0,815.3 978.0,819.2 983.0,823.2 988.0,827.1 993.0,831.0 998.0,834.9 1003.0,838.8 1008.0,842.7 1013.0,846.6 1018.0,850.5 1023.0,854.4 1028.0,858.4 1033.0,862.3 1038.0,866.7 1043.0,871.0 1045.5,873.2 1048.0,875.3 1050.5,877.3 1053.0,879.4 1055.5,881.4 1058.0,883.5 1060.5,885.4 1063.0,887.3 1065.5,889.1 1068.0,890.8 1070.5,892.7 1073.0,894.5 1075.5,896.2 1078.0,897.7 1080.5,898.7 1083.0,897.2 1085.5,892.4 1088.0,889.4 1090.5,889.3 1093.0,889.1 1095.5,888.7 1098.0,888.8 1100.5,888.4 1103.0,887.5 1105.5,886.1 1108.0,883.8 1110.5,881.5 1113.0,879.0 1115.5,876.2 1118.0,873.2 1120.5,870.0 1123.0,866.6 1125.5,863.2 1128.0,859.9 1130.5,856.5 1133.0,852.7 1135.5,848.8 1138.0,845.0 1140.5,841.6 1143.0,837.9 1145.5,833.9 1148.0,830.1 1150.5,827.6 1153.0,826.9 1155.5,826.8 1158.0,826.9 1160.5,827.1 1163.0,827.4 1165.5,827.7 1168.0,828.2 1170.5,828.9 1173.0,829.7 1175.5,830.8 1178.0,832.0 1180.5,833.3 1183.0,834.7 1185.5,836.3 1188.0,837.9 1190.5,839.5 1193.0,841.2 1195.5,842.9 1198.0,844.6 1200.5,846.3 1203.0,848.1 1205.5,849.8 1208.0,851.7 1210.5,853.5 1213.0,855.5 1215.5,857.4 1218.0,859.4 1220.5,861.4 1223.0,863.4 1225.5,865.5 1228.0,867.5 1230.5,869.6 1233.0,871.7 1235.5,873.8 1238.0,875.9 1240.5,878.0 1243.0,880.2 1245.5,882.4 1248.0,884.6 1250.5,886.8 1253.0,889.1 1255.5,891.4 1258.0,893.7 1260.5,896.0 1263.0,898.4 1265.5,900.9 1268.0,903.5 1270.5,906.0 1273.0,908.7 1275.5,911.3 1278.0,914.0 1280.5,916.6 1283.0,919.3 1285.5,921.9 1288.0,924.5 1290.5,927.0 1293.0,929.5 1295.5,931.9 1298.0,934.2 1300.5,936.4 1303.0,938.7 1305.5,940.9 1308.0,943.1 1310.5,945.3 1313.0,947.5 1315.5,949.7 1318.0,951.8 1320.5,954.0 1323.0,956.0 1325.5,958.0 1328.0,960.0 1330.5,961.9 1333.0,963.7 1335.5,965.4 1338.0,967.1 1340.5,968.6 1343.0,970.1 1345.5,971.6 1348.0,973.1 1350.5,974.5 1353.0,976.0 1355.5,977.3 1358.0,978.7 1360.5,980.0 1363.0,981.3 1365.5,982.5 1368.0,983.7 1370.5,984.8 1373.0,985.9 1375.5,987.0 1378.0,988.0 1380.5,988.9 1383.0,989.7 1385.5,990.6 1388.0,991.3 1390.5,992.1 1393.0,992.8 1395.5,993.5 1398.0,994.2 1400.5,994.9 1403.0,995.5 1405.5,996.1 1408.0,996.7 1410.5,997.3 1413.0,997.9 1415.5,998.5 1418.0,999.0 1420.5,999.6 1423.0,1000.1 1425.5,1000.6 1428.0,1001.1 1430.5,1001.6 1433.0,1002.0 1435.5,1002.5 1438.0,1003.0 1440.5,1003.4 1443.0,1003.9 1445.5,1004.4 1448.0,1004.9 1450.5,1005.3 1453.0,1005.8 1455.5,1006.3 1458.0,1006.8 1460.5,1007.3 1463.0,1007.7 1465.5,1008.2 1468.0,1008.6 1470.5,1009.0 1473.0,1009.4 1475.5,1009.7 1478.0,1010.1 1480.5,1010.3 1483.0,1010.6 1485.5,1010.7 1488.0,1010.9 1490.5,1011.0 1493.0,1011.0 1495.5,1010.9 1498.0,1010.5 1500.5,1009.9 1503.0,1009.1 1505.5,1008.2 1508.0,1007.2 1510.5,1006.1 1513.0,1005.0 1515.5,1003.8 1518.0,1002.2 1520.5,1000.2 1523.0,997.8 1525.5,995.2 1528.0,992.5 1530.5,989.8 1533.0,987.2 1535.5,985.0 1538.0,982.8 1540.5,980.7 1543.0,978.6 1545.5,976.5 1548.0,974.5 1550.5,972.6 1553.0,970.8 1555.5,969.0 1558.0,967.5 1560.5,966.0 1563.0,964.6 1565.5,963.3 1568.0,961.9 1570.5,960.4 1573.0,958.8 1575.5,957.0 1578.0,954.9 1580.5,952.5 1583.0,949.9 1585.5,946.3 1588.0,942.3 1590.5,940.0 1593.0,940.8 1595.5,943.2 1598.0,945.4 1600.5,946.9 1603.0,948.2 1605.5,949.3 1608.0,950.2 1610.5,951.1 1613.0,951.9 1615.5,952.7 1618.0,953.4 1620.5,954.1 1623.0,954.7 1625.5,955.3 1628.0,955.9 1630.5,956.5 1633.0,957.1 1635.5,957.7 1638.0,958.2 1640.5,958.8 1643.0,959.4 1645.5,960.0 1648.0,960.6 1650.5,961.2 1653.0,961.9 1655.5,962.5 1658.0,963.1 1660.5,963.7 1663.0,964.2 1665.5,964.8 1668.0,965.3 1670.5,965.8 1673.0,966.2 1675.5,966.6 1678.0,966.9 1680.5,967.2 1683.0,967.5 1685.5,967.8 1688.0,968.0 1690.5,968.0 1692.0,967.6 1693.5,966.8 1695.0,965.5 1696.5,963.8 1698.0,961.7 1699.5,959.4 1701.0,955.4 1702.5,946.0 1704.0,932.4 1705.5,916.5 1707.0,899.7 1708.5,883.7 1710.0,869.7 1711.5,855.5 1713.0,838.8 1714.5,821.2 1716.0,803.6 1717.5,787.3 1719.0,773.1 1720.5,761.4 1722.0,748.7 1723.5,734.4 1725.0,719.6 1726.5,705.2 1728.0,692.4 1729.5,682.5 1731.0,675.7 1732.5,668.7 1734.0,661.7 1735.5,655.3 1737.0,649.9 1738.5,646.3 1740.0,645.0 1741.5,645.8 1743.0,648.0 1744.5,651.3 1746.0,655.4 1747.5,660.1 1749.0,664.9 1750.5,669.7 1752.0,674.1 1753.5,678.5 1755.0,683.2 1756.5,688.3 1758.0,693.4 1759.5,698.7 1761.0,703.8 1762.5,708.7 1764.0,713.4 1765.5,717.6 1767.0,721.6 1768.5,725.4 1770.0,729.1 1771.5,732.7 1774.0,738.4 1776.5,744.0 1779.0,749.5 1781.5,754.9 1784.0,760.4 1786.5,766.0 1789.0,771.5 1791.5,777.1 1794.0,782.6 1796.5,788.0 1799.0,793.3 1801.5,798.5 1804.0,803.5 1806.5,808.5 1809.0,813.5 1811.5,818.3 1814.0,823.2 1816.5,827.8 1819.0,832.2 1821.5,836.5 1824.0,840.7 1826.5,844.7 1829.0,848.7 1831.5,852.6 1834.0,856.3 1836.5,860.1 1839.0,863.9 1841.5,867.6 1844.0,871.3 1846.5,875.0 1849.0,878.6 1851.5,882.0 1854.0,885.4 1856.5,888.6 1859.0,891.6 1861.5,894.4 1864.0,897.0 1866.5,899.6 1869.0,902.1 1871.5,904.5 1874.0,906.9 1876.5,909.2 1879.0,911.4 1881.5,913.5 1884.0,915.6 1886.5,917.6 1889.0,919.6 1891.5,921.5 1894.0,923.6 1896.5,925.8 1899.0,928.0 1901.5,930.2 1903.5,931.8 1905.5,933.3 1907.5,934.6 1909.5,935.6 1911.5,936.4 1913.5,936.9 1915.5,936.9 1917.5,935.6 1919.5,932.8 1921.5,928.6 1923.5,923.4 1925.5,917.4 1927.5,910.9 1929.5,904.0 1931.5,897.2 1933.5,890.6 1935.5,884.5 1937.5,878.2 1939.5,871.4 1941.5,864.3 1943.5,856.9 1945.5,849.4 1947.5,841.8 1949.5,834.2 1951.5,826.6 1953.5,819.0 1955.5,811.6 1957.5,804.2 1959.5,796.9 1961.5,789.3 1963.5,780.9 1965.5,771.8 1967.5,761.7 1969.5,751.4 1971.5,741.3 1973.5,731.8 1975.5,722.9 1977.5,715.0 1979.5,708.3 1981.5,702.8 1983.5,698.0 1985.5,693.6 1987.5,689.7 1989.5,685.9 1991.5,682.2 1993.5,678.5 1995.5,674.5 1997.5,670.2 1999.5,665.5 2001.5,659.7 2003.5,652.2 2005.5,643.8 2007.5,635.5 2009.5,628.2 2011.5,622.8 2013.5,620.1 2015.5,620.7 2017.5,623.7 2019.5,628.7 2021.5,635.3 2023.5,643.2 2025.5,651.8 2027.5,660.8 2029.5,669.9 2031.5,678.6 2033.5,686.6 2035.5,693.4 2037.5,699.2 2039.5,705.1 2041.5,710.8 2043.5,716.3 2045.5,721.4 2047.5,725.8 2049.5,729.4 2051.5,732.3 2053.5,735.3 2055.5,738.1 2057.5,740.5 2059.5,742.6 2061.5,744.1 2063.5,744.9 2065.5,744.8 2067.5,743.7 2069.5,741.4 2071.5,738.1 2073.5,734.1 2075.5,729.5 2077.5,724.3 2079.5,718.7 2081.5,712.7 2083.5,705.2 2085.5,696.5 2087.5,686.8 2089.5,676.2 2091.5,665.1 2093.5,653.5 2095.5,641.9 2097.5,630.4 2099.5,619.3 2101.5,608.6 2103.5,597.7 2105.5,586.7 2107.5,575.5 2109.5,564.2 2111.5,552.6 2113.5,540.9 2115.5,528.9 2117.5,516.9 2119.5,504.7 2121.5,492.5 2123.5,480.1 2125.5,467.7 2127.5,455.2 2129.5,442.7 2131.5,430.3 2133.0,421.0" stroke="#e5432b"/>
<polyline points="243.0,577.0 248.0,575.7 253.0,574.3 258.0,573.0 263.0,571.7 268.0,570.4 273.0,569.1 278.0,567.8 283.0,566.6 288.0,565.3 293.0,564.1 298.0,562.9 303.0,561.8 308.0,560.7 313.0,559.6 318.0,558.5 323.0,557.5 328.0,556.6 333.0,555.6 338.0,554.8 343.0,553.9 348.0,553.2 353.0,552.5 358.0,551.8 363.0,551.2 368.0,550.7 373.0,550.2 378.0,549.8 383.0,549.5 388.0,549.3 393.0,549.1 398.0,549.0 403.0,549.0 408.0,549.1 413.0,549.2 418.0,549.5 423.0,549.8 428.0,550.2 433.0,550.7 438.0,551.2 443.0,551.8 448.0,552.5 453.0,553.3 458.0,554.1 463.0,555.0 468.0,555.9 473.0,556.9 478.0,558.0 483.0,559.1 488.0,560.3 493.0,561.6 498.0,562.9 503.0,564.2 508.0,565.6 513.0,567.0 518.0,568.5 523.0,570.1 528.0,571.7 533.0,573.3 538.0,574.9 543.0,576.6 548.0,578.4 553.0,580.2 558.0,582.0 563.0,583.8 568.0,585.7 573.0,587.6 578.0,589.5 583.0,591.5 588.0,593.5 593.0,595.6 598.0,597.7 603.0,599.8 608.0,602.0 613.0,604.2 618.0,606.4 623.0,608.7 628.0,611.1 633.0,613.5 638.0,615.9 643.0,618.4 648.0,620.9 653.0,623.5 658.0,626.2 663.0,628.9 668.0,631.6 673.0,634.4 678.0,637.3 683.0,640.2 688.0,643.2 693.0,646.2 698.0,649.3 703.0,652.5 708.0,655.7 713.0,659.0 718.0,662.4 723.0,665.8 728.0,669.2 733.0,672.7 738.0,676.2 743.0,679.8 748.0,683.5 753.0,687.2 758.0,690.9 763.0,694.6 768.0,698.4 773.0,702.2 778.0,706.1 783.0,710.0 788.0,713.9 793.0,717.8 798.0,721.8 803.0,725.8 808.0,729.8 813.0,733.8 818.0,737.8 823.0,741.9 828.0,745.9 833.0,750.0 838.0,754.0 843.0,758.1 848.0,762.1 853.0,766.2 858.0,770.3 863.0,774.3 868.0,778.4 873.0,782.4 878.0,786.4 883.0,790.4 888.0,794.4 893.0,798.4 898.0,802.4 903.0,806.3 908.0,810.3 913.0,814.2 918.0,818.2 923.0,822.1 928.0,826.0 933.0,829.9 938.0,833.8 943.0,837.7 948.0,841.6 953.0,845.4 958.0,849.3 963.0,853.2 968.0,857.0 973.0,860.9 978.0,864.7 983.0,868.5 988.0,872.4 993.0,876.2 998.0,880.0 1003.0,883.9 1008.0,887.8 1013.0,891.8 1018.0,895.8 1023.0,899.6 1028.0,903.2 1033.0,906.2 1038.0,909.4 1043.0,912.3 1045.5,913.7 1048.0,915.2 1050.5,916.6 1053.0,918.1 1055.5,919.6 1058.0,921.0 1060.5,922.5 1063.0,923.8 1065.5,925.1 1068.0,926.3 1070.5,927.6 1073.0,928.9 1075.5,930.1 1078.0,931.1 1080.5,931.7 1083.0,930.0 1085.5,925.2 1088.0,922.0 1090.5,921.2 1093.0,920.3 1095.5,919.3 1098.0,918.6 1100.5,917.5 1103.0,915.8 1105.5,913.7 1108.0,910.7 1110.5,907.8 1113.0,904.6 1115.5,901.0 1118.0,897.2 1120.5,893.2 1123.0,889.2 1125.5,885.3 1128.0,881.7 1130.5,878.2 1133.0,874.7 1135.5,871.2 1138.0,867.9 1140.5,864.8 1143.0,861.5 1145.5,858.1 1148.0,854.8 1150.5,852.6 1153.0,851.8 1155.5,851.6 1158.0,851.5 1160.5,851.5 1163.0,851.7 1165.5,852.0 1168.0,852.5 1170.5,853.3 1173.0,854.4 1175.5,855.7 1178.0,857.3 1180.5,858.9 1183.0,860.8 1185.5,862.7 1188.0,864.7 1190.5,866.7 1193.0,868.7 1195.5,870.6 1198.0,872.5 1200.5,874.4 1203.0,876.2 1205.5,878.1 1208.0,880.0 1210.5,882.0 1213.0,884.0 1215.5,886.0 1218.0,888.1 1220.5,890.2 1223.0,892.3 1225.5,894.4 1228.0,896.5 1230.5,898.5 1233.0,900.6 1235.5,902.6 1238.0,904.7 1240.5,906.7 1243.0,908.8 1245.5,910.9 1248.0,913.0 1250.5,915.1 1253.0,917.2 1255.5,919.4 1258.0,921.6 1260.5,923.9 1263.0,926.2 1265.5,928.6 1268.0,931.1 1270.5,933.7 1273.0,936.3 1275.5,938.9 1278.0,941.6 1280.5,944.2 1283.0,946.8 1285.5,949.4 1288.0,952.0 1290.5,954.4 1293.0,956.8 1295.5,959.1 1298.0,961.3 1300.5,963.4 1303.0,965.4 1305.5,967.4 1308.0,969.3 1310.5,971.1 1313.0,973.0 1315.5,974.7 1318.0,976.5 1320.5,978.1 1323.0,979.8 1325.5,981.3 1328.0,982.9 1330.5,984.3 1333.0,985.8 1335.5,987.1 1338.0,988.4 1340.5,989.7 1343.0,990.9 1345.5,992.1 1348.0,993.3 1350.5,994.5 1353.0,995.6 1355.5,996.8 1358.0,997.9 1360.5,999.0 1363.0,1000.1 1365.5,1001.1 1368.0,1002.1 1370.5,1003.1 1373.0,1004.1 1375.5,1005.0 1378.0,1005.8 1380.5,1006.6 1383.0,1007.4 1385.5,1008.1 1388.0,1008.8 1390.5,1009.5 1393.0,1010.2 1395.5,1010.8 1398.0,1011.4 1400.5,1012.0 1403.0,1012.6 1405.5,1013.1 1408.0,1013.7 1410.5,1014.2 1413.0,1014.7 1415.5,1015.3 1418.0,1015.8 1420.5,1016.2 1423.0,1016.7 1425.5,1017.2 1428.0,1017.7 1430.5,1018.1 1433.0,1018.6 1435.5,1019.0 1438.0,1019.5 1440.5,1020.0 1443.0,1020.4 1445.5,1020.9 1448.0,1021.4 1450.5,1021.9 1453.0,1022.4 1455.5,1023.0 1458.0,1023.5 1460.5,1024.0 1463.0,1024.5 1465.5,1025.0 1468.0,1025.4 1470.5,1025.9 1473.0,1026.3 1475.5,1026.6 1478.0,1027.0 1480.5,1027.3 1483.0,1027.5 1485.5,1027.7 1488.0,1027.9 1490.5,1028.0 1493.0,1028.0 1495.5,1027.9 1498.0,1027.4 1500.5,1026.8 1503.0,1026.0 1505.5,1025.0 1508.0,1023.9 1510.5,1022.8 1513.0,1021.6 1515.5,1020.4 1518.0,1018.9 1520.5,1017.0 1523.0,1014.8 1525.5,1012.4 1528.0,1009.9 1530.5,1007.5 1533.0,1005.2 1535.5,1003.0 1538.0,1001.0 1540.5,999.0 1543.0,996.9 1545.5,994.9 1548.0,993.0 1550.5,991.1 1553.0,989.2 1555.5,987.5 1558.0,985.9 1560.5,984.4 1563.0,983.0 1565.5,981.5 1568.0,980.1 1570.5,978.6 1573.0,976.9 1575.5,975.1 1578.0,973.0 1580.5,970.7 1583.0,968.1 1585.5,964.5 1588.0,960.3 1590.5,957.9 1593.0,958.6 1595.5,961.1 1598.0,963.5 1600.5,965.0 1603.0,966.4 1605.5,967.6 1608.0,968.5 1610.5,969.4 1613.0,970.1 1615.5,970.9 1618.0,971.6 1620.5,972.3 1623.0,972.9 1625.5,973.5 1628.0,974.0 1630.5,974.6 1633.0,975.1 1635.5,975.6 1638.0,976.1 1640.5,976.7 1643.0,977.2 1645.5,977.7 1648.0,978.3 1650.5,978.8 1653.0,979.4 1655.5,979.9 1658.0,980.5 1660.5,981.0 1663.0,981.5 1665.5,981.9 1668.0,982.3 1670.5,982.7 1673.0,983.0 1675.5,983.3 1678.0,983.5 1680.5,983.7 1683.0,983.9 1685.5,984.1 1688.0,984.2 1690.5,984.2 1692.0,983.8 1693.5,983.0 1695.0,981.8 1696.5,980.2 1698.0,978.3 1699.5,976.1 1701.0,972.6 1702.5,964.9 1704.0,953.5 1705.5,939.5 1707.0,923.8 1708.5,907.4 1710.0,891.1 1711.5,873.0 1713.0,851.0 1714.5,826.7 1716.0,801.3 1717.5,776.1 1719.0,752.7 1720.5,731.9 1722.0,710.7 1723.5,689.0 1725.0,667.7 1726.5,647.8 1728.0,630.6 1729.5,616.9 1731.0,606.7 1732.5,597.0 1734.0,587.9 1735.5,580.0 1737.0,573.7 1738.5,569.6 1740.0,568.0 1741.5,568.5 1743.0,570.0 1744.5,572.3 1746.0,575.2 1747.5,578.4 1749.0,581.9 1750.5,585.3 1752.0,588.6 1753.5,591.8 1755.0,595.4 1756.5,599.2 1758.0,603.3 1759.5,607.4 1761.0,611.6 1762.5,615.6 1764.0,619.5 1765.5,623.1 1767.0,626.7 1768.5,630.2 1770.0,633.8 1771.5,637.4 1774.0,643.4 1776.5,649.4 1779.0,655.4 1781.5,661.4 1784.0,667.4 1786.5,673.4 1789.0,679.5 1791.5,685.6 1794.0,691.7 1796.5,697.8 1799.0,703.8 1801.5,709.8 1804.0,715.5 1806.5,721.2 1809.0,726.9 1811.5,732.5 1814.0,738.1 1816.5,743.7 1819.0,749.2 1821.5,754.6 1824.0,760.0 1826.5,765.3 1829.0,770.6 1831.5,775.8 1834.0,780.9 1836.5,786.1 1839.0,791.4 1841.5,796.6 1844.0,801.9 1846.5,807.0 1849.0,812.2 1851.5,817.1 1854.0,822.0 1856.5,826.6 1859.0,831.1 1861.5,835.3 1864.0,839.2 1866.5,843.1 1869.0,846.9 1871.5,850.7 1874.0,854.3 1876.5,857.8 1879.0,861.2 1881.5,864.4 1884.0,867.5 1886.5,870.4 1889.0,873.1 1891.5,875.7 1894.0,878.5 1896.5,881.3 1899.0,884.1 1901.5,886.7 1903.5,888.7 1905.5,890.5 1907.5,892.1 1909.5,893.4 1911.5,894.3 1913.5,894.9 1915.5,894.9 1917.5,893.7 1919.5,890.9 1921.5,886.9 1923.5,881.9 1925.5,876.0 1927.5,869.5 1929.5,862.7 1931.5,855.6 1933.5,848.7 1935.5,842.0 1937.5,834.5 1939.5,825.7 1941.5,816.0 1943.5,805.6 1945.5,794.7 1947.5,783.5 1949.5,772.2 1951.5,761.2 1953.5,750.4 1955.5,740.2 1957.5,730.8 1959.5,722.2 1961.5,714.3 1963.5,706.2 1965.5,698.0 1967.5,689.7 1969.5,681.5 1971.5,673.4 1973.5,665.5 1975.5,658.0 1977.5,650.9 1979.5,644.4 1981.5,638.6 1983.5,633.2 1985.5,628.1 1987.5,623.2 1989.5,618.5 1991.5,613.8 1993.5,609.2 1995.5,604.3 1997.5,599.2 1999.5,593.8 2001.5,587.4 2003.5,579.3 2005.5,570.3 2007.5,561.5 2009.5,553.7 2011.5,547.9 2013.5,545.1 2015.5,545.7 2017.5,548.6 2019.5,553.5 2021.5,560.0 2023.5,567.7 2025.5,576.2 2027.5,585.2 2029.5,594.4 2031.5,603.2 2033.5,611.5 2035.5,618.8 2037.5,625.3 2039.5,632.0 2041.5,638.8 2043.5,645.4 2045.5,651.5 2047.5,657.0 2049.5,661.6 2051.5,665.4 2053.5,669.1 2055.5,672.8 2057.5,676.1 2059.5,679.0 2061.5,681.3 2063.5,682.8 2065.5,683.3 2067.5,682.7 2069.5,681.1 2071.5,678.5 2073.5,675.2 2075.5,671.4 2077.5,667.1 2079.5,662.7 2081.5,657.7 2083.5,651.0 2085.5,642.9 2087.5,633.5 2089.5,623.3 2091.5,612.4 2093.5,601.1 2095.5,589.8 2097.5,578.8 2099.5,568.3 2101.5,558.2 2103.5,548.0 2105.5,537.7 2107.5,527.2 2109.5,516.6 2111.5,506.0 2113.5,495.4 2115.5,484.8 2117.5,474.4 2119.5,464.1 2121.5,453.9 2123.5,443.8 2125.5,433.7 2127.5,423.7 2129.5,413.7 2131.5,403.8 2133.0,396.5" stroke="#1c7b72"/>
<polyline points="243.0,585.0 248.0,583.6 253.0,582.2 258.0,580.8 263.0,579.4 268.0,578.1 273.0,576.7 278.0,575.4 283.0,574.1 288.0,572.8 293.0,571.5 298.0,570.3 303.0,569.0 308.0,567.8 313.0,566.7 318.0,565.6 323.0,564.5 328.0,563.5 333.0,562.5 338.0,561.6 343.0,560.7 348.0,559.8 353.0,559.1 358.0,558.3 363.0,557.7 368.0,557.1 373.0,556.6 378.0,556.1 383.0,555.7 388.0,555.4 393.0,555.2 398.0,555.0 403.0,555.0 408.0,555.0 413.0,555.1 418.0,555.3 423.0,555.5 428.0,555.8 433.0,556.3 438.0,556.7 443.0,557.3 448.0,557.9 453.0,558.6 458.0,559.4 463.0,560.2 468.0,561.1 473.0,562.1 478.0,563.1 483.0,564.2 488.0,565.4 493.0,566.6 498.0,567.8 503.0,569.1 508.0,570.5 513.0,571.9 518.0,573.4 523.0,575.0 528.0,576.5 533.0,578.2 538.0,579.8 543.0,581.6 548.0,583.3 553.0,585.1 558.0,587.0 563.0,588.8 568.0,590.7 573.0,592.7 578.0,594.7 583.0,596.7 588.0,598.8 593.0,600.9 598.0,603.1 603.0,605.3 608.0,607.6 613.0,609.9 618.0,612.2 623.0,614.6 628.0,617.0 633.0,619.5 638.0,622.0 643.0,624.6 648.0,627.2 653.0,629.9 658.0,632.6 663.0,635.4 668.0,638.2 673.0,641.1 678.0,644.0 683.0,647.0 688.0,650.1 693.0,653.2 698.0,656.3 703.0,659.5 708.0,662.8 713.0,666.1 718.0,669.5 723.0,672.9 728.0,676.4 733.0,679.9 738.0,683.5 743.0,687.1 748.0,690.7 753.0,694.4 758.0,698.1 763.0,701.9 768.0,705.6 773.0,709.5 778.0,713.3 783.0,717.2 788.0,721.1 793.0,725.0 798.0,728.9 803.0,732.9 808.0,736.8 813.0,740.8 818.0,744.8 823.0,748.8 828.0,752.9 833.0,756.9 838.0,760.9 843.0,764.9 848.0,769.0 853.0,773.0 858.0,777.0 863.0,781.1 868.0,785.1 873.0,789.1 878.0,793.1 883.0,797.1 888.0,801.1 893.0,805.0 898.0,809.0 903.0,812.9 908.0,816.9 913.0,820.8 918.0,824.7 923.0,828.6 928.0,832.5 933.0,836.4 938.0,840.3 943.0,844.2 948.0,848.1 953.0,851.9 958.0,855.8 963.0,859.7 968.0,863.5 973.0,867.3 978.0,871.2 983.0,875.0 988.0,878.9 993.0,882.7 998.0,886.5 1003.0,890.4 1008.0,894.4 1013.0,898.4 1018.0,902.4 1023.0,906.2 1028.0,909.7 1033.0,912.6 1038.0,915.6 1043.0,918.3 1045.5,919.6 1048.0,921.0 1050.5,922.3 1053.0,923.7 1055.5,925.1 1058.0,926.4 1060.5,927.8 1063.0,929.1 1065.5,930.2 1068.0,931.4 1070.5,932.6 1073.0,933.8 1075.5,934.9 1078.0,935.7 1080.5,936.2 1083.0,935.1 1085.5,931.8 1088.0,929.3 1090.5,928.4 1093.0,927.4 1095.5,926.3 1098.0,925.2 1100.5,923.5 1103.0,921.4 1105.5,918.9 1108.0,915.8 1110.5,912.6 1113.0,909.2 1115.5,905.4 1118.0,901.4 1120.5,897.2 1123.0,893.1 1125.5,889.0 1128.0,885.3 1130.5,881.7 1133.0,878.0 1135.5,874.4 1138.0,871.0 1140.5,867.9 1143.0,864.5 1145.5,861.0 1148.0,857.8 1150.5,855.6 1153.0,854.8 1155.5,854.5 1158.0,854.4 1160.5,854.4 1163.0,854.6 1165.5,854.9 1168.0,855.5 1170.5,856.3 1173.0,857.5 1175.5,858.9 1178.0,860.5 1180.5,862.2 1183.0,864.1 1185.5,866.1 1188.0,868.2 1190.5,870.3 1193.0,872.4 1195.5,874.5 1198.0,876.5 1200.5,878.4 1203.0,880.3 1205.5,882.3 1208.0,884.3 1210.5,886.4 1213.0,888.6 1215.5,890.8 1218.0,893.0 1220.5,895.2 1223.0,897.5 1225.5,899.7 1228.0,902.0 1230.5,904.2 1233.0,906.4 1235.5,908.6 1238.0,910.8 1240.5,913.0 1243.0,915.2 1245.5,917.5 1248.0,919.7 1250.5,922.0 1253.0,924.3 1255.5,926.6 1258.0,929.0 1260.5,931.4 1263.0,933.8 1265.5,936.4 1268.0,939.1 1270.5,941.8 1273.0,944.5 1275.5,947.3 1278.0,950.1 1280.5,952.8 1283.0,955.6 1285.5,958.2 1288.0,960.9 1290.5,963.4 1293.0,965.8 1295.5,968.2 1298.0,970.4 1300.5,972.4 1303.0,974.3 1305.5,976.2 1308.0,978.0 1310.5,979.7 1313.0,981.3 1315.5,982.9 1318.0,984.4 1320.5,985.8 1323.0,987.2 1325.5,988.5 1328.0,989.8 1330.5,991.0 1333.0,992.1 1335.5,993.3 1338.0,994.3 1340.5,995.3 1343.0,996.3 1345.5,997.3 1348.0,998.3 1350.5,999.2 1353.0,1000.2 1355.5,1001.1 1358.0,1002.1 1360.5,1003.0 1363.0,1003.9 1365.5,1004.8 1368.0,1005.6 1370.5,1006.5 1373.0,1007.3 1375.5,1008.1 1378.0,1008.9 1380.5,1009.7 1383.0,1010.4 1385.5,1011.1 1388.0,1011.8 1390.5,1012.5 1393.0,1013.2 1395.5,1013.8 1398.0,1014.4 1400.5,1015.0 1403.0,1015.6 1405.5,1016.2 1408.0,1016.7 1410.5,1017.3 1413.0,1017.8 1415.5,1018.4 1418.0,1018.9 1420.5,1019.4 1423.0,1019.9 1425.5,1020.4 1428.0,1020.9 1430.5,1021.4 1433.0,1021.9 1435.5,1022.4 1438.0,1022.9 1440.5,1023.4 1443.0,1023.9 1445.5,1024.4 1448.0,1024.9 1450.5,1025.5 1453.0,1026.1 1455.5,1026.6 1458.0,1027.2 1460.5,1027.7 1463.0,1028.2 1465.5,1028.7 1468.0,1029.2 1470.5,1029.7 1473.0,1030.1 1475.5,1030.5 1478.0,1030.9 1480.5,1031.2 1483.0,1031.5 1485.5,1031.7 1488.0,1031.9 1490.5,1032.0 1493.0,1032.0 1495.5,1031.9 1498.0,1031.4 1500.5,1030.8 1503.0,1030.0 1505.5,1029.0 1508.0,1027.9 1510.5,1026.7 1513.0,1025.5 1515.5,1024.3 1518.0,1022.8 1520.5,1020.9 1523.0,1018.8 1525.5,1016.5 1528.0,1014.1 1530.5,1011.7 1533.0,1009.4 1535.5,1007.3 1538.0,1005.3 1540.5,1003.3 1543.0,1001.2 1545.5,999.3 1548.0,997.3 1550.5,995.4 1553.0,993.6 1555.5,991.8 1558.0,990.2 1560.5,988.7 1563.0,987.3 1565.5,985.8 1568.0,984.4 1570.5,982.8 1573.0,981.2 1575.5,979.3 1578.0,977.3 1580.5,975.0 1583.0,972.4 1585.5,968.8 1588.0,964.5 1590.5,962.0 1593.0,962.8 1595.5,965.4 1598.0,967.7 1600.5,969.3 1603.0,970.7 1605.5,971.9 1608.0,972.8 1610.5,973.6 1613.0,974.4 1615.5,975.2 1618.0,975.9 1620.5,976.5 1623.0,977.1 1625.5,977.7 1628.0,978.3 1630.5,978.8 1633.0,979.3 1635.5,979.9 1638.0,980.4 1640.5,980.9 1643.0,981.4 1645.5,981.9 1648.0,982.4 1650.5,983.0 1653.0,983.5 1655.5,984.0 1658.0,984.5 1660.5,985.0 1663.0,985.5 1665.5,985.9 1668.0,986.3 1670.5,986.7 1673.0,987.0 1675.5,987.3 1678.0,987.5 1680.5,987.6 1683.0,987.8 1685.5,987.9 1688.0,988.0 1690.5,988.0 1692.0,987.6 1693.5,986.8 1695.0,985.6 1696.5,984.0 1698.0,982.2 1699.5,980.0 1701.0,976.6 1702.5,968.9 1704.0,957.1 1705.5,942.0 1707.0,924.1 1708.5,904.1 1710.0,883.1 1711.5,859.0 1713.0,829.8 1714.5,797.1 1716.0,762.6 1717.5,727.9 1719.0,695.2 1720.5,666.0 1722.0,637.7 1723.5,610.0 1725.0,584.0 1726.5,560.6 1728.0,540.6 1729.5,524.7 1731.0,512.5 1732.5,501.7 1734.0,492.3 1735.5,484.7 1737.0,478.9 1738.5,475.3 1740.0,474.0 1741.5,474.2 1743.0,474.8 1744.5,475.7 1746.0,476.9 1747.5,478.2 1749.0,479.7 1750.5,481.2 1752.0,482.7 1753.5,484.3 1755.0,486.2 1756.5,488.4 1758.0,490.8 1759.5,493.4 1761.0,496.2 1762.5,499.0 1764.0,501.8 1765.5,504.7 1767.0,507.8 1768.5,511.2 1770.0,514.8 1771.5,518.6 1774.0,525.3 1776.5,532.3 1779.0,539.5 1781.5,546.7 1784.0,553.7 1786.5,560.7 1789.0,568.0 1791.5,575.3 1794.0,582.7 1796.5,590.2 1799.0,597.6 1801.5,605.0 1804.0,612.2 1806.5,619.4 1809.0,626.5 1811.5,633.7 1814.0,640.8 1816.5,647.9 1819.0,654.9 1821.5,661.9 1824.0,668.9 1826.5,675.9 1829.0,682.8 1831.5,689.7 1834.0,696.6 1836.5,703.6 1839.0,710.6 1841.5,717.8 1844.0,724.9 1846.5,731.9 1849.0,738.9 1851.5,745.7 1854.0,752.3 1856.5,758.7 1859.0,764.8 1861.5,770.6 1864.0,776.1 1866.5,781.6 1869.0,786.9 1871.5,792.2 1874.0,797.3 1876.5,802.2 1879.0,806.9 1881.5,811.4 1884.0,815.6 1886.5,819.5 1889.0,823.1 1891.5,826.5 1894.0,829.9 1896.5,833.4 1899.0,836.9 1901.5,840.1 1903.5,842.5 1905.5,844.7 1907.5,846.6 1909.5,848.1 1911.5,849.2 1913.5,849.8 1915.5,850.0 1917.5,848.8 1919.5,846.4 1921.5,842.8 1923.5,838.3 1925.5,833.0 1927.5,827.1 1929.5,820.8 1931.5,814.3 1933.5,807.8 1935.5,801.4 1937.5,793.5 1939.5,783.9 1941.5,772.8 1943.5,760.8 1945.5,748.3 1947.5,735.4 1949.5,722.8 1951.5,710.5 1953.5,699.1 1955.5,688.6 1957.5,679.5 1959.5,671.9 1961.5,665.6 1963.5,659.6 1965.5,653.7 1967.5,647.9 1969.5,642.2 1971.5,636.6 1973.5,630.9 1975.5,625.5 1977.5,620.1 1979.5,615.0 1981.5,610.2 1983.5,605.6 1985.5,601.2 1987.5,597.0 1989.5,592.8 1991.5,588.6 1993.5,584.4 1995.5,580.1 1997.5,575.5 1999.5,570.5 2001.5,564.7 2003.5,557.1 2005.5,548.7 2007.5,540.4 2009.5,533.0 2011.5,527.5 2013.5,524.8 2015.5,525.4 2017.5,528.2 2019.5,532.9 2021.5,539.2 2023.5,546.6 2025.5,554.8 2027.5,563.5 2029.5,572.3 2031.5,580.9 2033.5,588.9 2035.5,596.0 2037.5,602.3 2039.5,609.0 2041.5,615.7 2043.5,622.3 2045.5,628.4 2047.5,633.8 2049.5,638.2 2051.5,641.9 2053.5,645.5 2055.5,648.9 2057.5,652.1 2059.5,654.7 2061.5,656.7 2063.5,657.8 2065.5,657.9 2067.5,656.9 2069.5,654.8 2071.5,651.7 2073.5,647.9 2075.5,643.6 2077.5,638.8 2079.5,633.8 2081.5,628.1 2083.5,620.5 2085.5,611.3 2087.5,600.7 2089.5,589.0 2091.5,576.6 2093.5,563.7 2095.5,550.6 2097.5,537.8 2099.5,525.4 2101.5,513.5 2103.5,501.2 2105.5,488.6 2107.5,475.7 2109.5,462.6 2111.5,449.4 2113.5,436.2 2115.5,423.2 2117.5,410.3 2119.5,397.8 2121.5,385.7 2123.5,373.7 2125.5,361.9 2127.5,350.3 2129.5,338.9 2131.5,327.8 2133.0,319.7" stroke="#a066a0"/>
<polyline points="243.0,590.0 248.0,588.7 253.0,587.4 258.0,586.1 263.0,584.8 268.0,583.5 273.0,582.3 278.0,581.0 283.0,579.8 288.0,578.6 293.0,577.4 298.0,576.2 303.0,575.1 308.0,574.0 313.0,572.9 318.0,571.9 323.0,570.9 328.0,569.9 333.0,569.0 338.0,568.1 343.0,567.3 348.0,566.5 353.0,565.8 358.0,565.1 363.0,564.5 368.0,563.9 373.0,563.5 378.0,563.0 383.0,562.7 388.0,562.4 393.0,562.2 398.0,562.0 403.0,562.0 408.0,562.0 413.0,562.1 418.0,562.2 423.0,562.5 428.0,562.8 433.0,563.2 438.0,563.6 443.0,564.2 448.0,564.8 453.0,565.4 458.0,566.1 463.0,566.9 468.0,567.8 473.0,568.7 478.0,569.6 483.0,570.7 488.0,571.7 493.0,572.9 498.0,574.1 503.0,575.3 508.0,576.6 513.0,577.9 518.0,579.3 523.0,580.7 528.0,582.2 533.0,583.8 538.0,585.3 543.0,586.9 548.0,588.6 553.0,590.3 558.0,592.0 563.0,593.8 568.0,595.6 573.0,597.4 578.0,599.3 583.0,601.2 588.0,603.1 593.0,605.1 598.0,607.2 603.0,609.3 608.0,611.4 613.0,613.6 618.0,615.8 623.0,618.1 628.0,620.4 633.0,622.8 638.0,625.2 643.0,627.7 648.0,630.2 653.0,632.8 658.0,635.4 663.0,638.1 668.0,640.9 673.0,643.7 678.0,646.6 683.0,649.5 688.0,652.5 693.0,655.6 698.0,658.7 703.0,661.9 708.0,665.2 713.0,668.5 718.0,671.9 723.0,675.3 728.0,678.8 733.0,682.4 738.0,686.0 743.0,689.6 748.0,693.3 753.0,697.1 758.0,700.8 763.0,704.7 768.0,708.5 773.0,712.4 778.0,716.3 783.0,720.3 788.0,724.2 793.0,728.2 798.0,732.2 803.0,736.3 808.0,740.3 813.0,744.4 818.0,748.5 823.0,752.6 828.0,756.6 833.0,760.7 838.0,764.8 843.0,768.9 848.0,773.0 853.0,777.1 858.0,781.2 863.0,785.3 868.0,789.3 873.0,793.4 878.0,797.4 883.0,801.4 888.0,805.4 893.0,809.4 898.0,813.3 903.0,817.3 908.0,821.2 913.0,825.1 918.0,829.0 923.0,832.9 928.0,836.8 933.0,840.7 938.0,844.5 943.0,848.3 948.0,852.2 953.0,856.0 958.0,859.8 963.0,863.6 968.0,867.4 973.0,871.2 978.0,875.0 983.0,878.7 988.0,882.5 993.0,886.3 998.0,890.0 1003.0,893.8 1008.0,897.7 1013.0,901.7 1018.0,905.6 1023.0,909.3 1028.0,912.7 1033.0,915.6 1038.0,918.5 1043.0,921.1 1045.5,922.4 1048.0,923.7 1050.5,925.0 1053.0,926.4 1055.5,927.7 1058.0,929.1 1060.5,930.4 1063.0,931.7 1065.5,932.9 1068.0,934.0 1070.5,935.2 1073.0,936.4 1075.5,937.5 1078.0,938.3 1080.5,938.8 1083.0,937.7 1085.5,934.4 1088.0,931.9 1090.5,931.0 1093.0,930.0 1095.5,928.8 1098.0,927.7 1100.5,926.1 1103.0,924.0 1105.5,921.4 1108.0,918.2 1110.5,915.1 1113.0,911.7 1115.5,907.8 1118.0,903.8 1120.5,899.6 1123.0,895.4 1125.5,891.3 1128.0,887.6 1130.5,884.0 1133.0,880.4 1135.5,876.9 1138.0,873.6 1140.5,870.5 1143.0,867.2 1145.5,863.8 1148.0,860.7 1150.5,858.6 1153.0,857.8 1155.5,857.6 1158.0,857.5 1160.5,857.6 1163.0,857.9 1165.5,858.3 1168.0,859.0 1170.5,860.1 1173.0,861.4 1175.5,863.0 1178.0,864.8 1180.5,866.8 1183.0,868.9 1185.5,871.1 1188.0,873.4 1190.5,875.7 1193.0,878.0 1195.5,880.3 1198.0,882.4 1200.5,884.4 1203.0,886.4 1205.5,888.4 1208.0,890.6 1210.5,892.7 1213.0,895.0 1215.5,897.2 1218.0,899.5 1220.5,901.8 1223.0,904.1 1225.5,906.3 1228.0,908.6 1230.5,910.8 1233.0,913.1 1235.5,915.3 1238.0,917.4 1240.5,919.6 1243.0,921.8 1245.5,924.0 1248.0,926.2 1250.5,928.4 1253.0,930.7 1255.5,933.0 1258.0,935.3 1260.5,937.7 1263.0,940.1 1265.5,942.7 1268.0,945.3 1270.5,948.0 1273.0,950.7 1275.5,953.5 1278.0,956.2 1280.5,959.0 1283.0,961.7 1285.5,964.3 1288.0,966.9 1290.5,969.5 1293.0,971.9 1295.5,974.2 1298.0,976.4 1300.5,978.4 1303.0,980.3 1305.5,982.1 1308.0,983.8 1310.5,985.4 1313.0,986.9 1315.5,988.4 1318.0,989.7 1320.5,991.0 1323.0,992.3 1325.5,993.5 1328.0,994.6 1330.5,995.7 1333.0,996.7 1335.5,997.7 1338.0,998.6 1340.5,999.5 1343.0,1000.3 1345.5,1001.2 1348.0,1002.1 1350.5,1002.9 1353.0,1003.8 1355.5,1004.6 1358.0,1005.5 1360.5,1006.3 1363.0,1007.1 1365.5,1007.9 1368.0,1008.7 1370.5,1009.5 1373.0,1010.3 1375.5,1011.0 1378.0,1011.8 1380.5,1012.5 1383.0,1013.2 1385.5,1013.9 1388.0,1014.6 1390.5,1015.3 1393.0,1015.9 1395.5,1016.6 1398.0,1017.2 1400.5,1017.8 1403.0,1018.4 1405.5,1018.9 1408.0,1019.5 1410.5,1020.1 1413.0,1020.6 1415.5,1021.1 1418.0,1021.7 1420.5,1022.2 1423.0,1022.7 1425.5,1023.2 1428.0,1023.7 1430.5,1024.2 1433.0,1024.7 1435.5,1025.2 1438.0,1025.7 1440.5,1026.2 1443.0,1026.7 1445.5,1027.2 1448.0,1027.8 1450.5,1028.4 1453.0,1028.9 1455.5,1029.5 1458.0,1030.0 1460.5,1030.6 1463.0,1031.1 1465.5,1031.7 1468.0,1032.2 1470.5,1032.6 1473.0,1033.1 1475.5,1033.5 1478.0,1033.9 1480.5,1034.2 1483.0,1034.5 1485.5,1034.7 1488.0,1034.9 1490.5,1035.0 1493.0,1035.0 1495.5,1034.9 1498.0,1034.4 1500.5,1033.8 1503.0,1032.9 1505.5,1031.9 1508.0,1030.8 1510.5,1029.6 1513.0,1028.4 1515.5,1027.2 1518.0,1025.7 1520.5,1023.9 1523.0,1021.8 1525.5,1019.5 1528.0,1017.1 1530.5,1014.8 1533.0,1012.6 1535.5,1010.5 1538.0,1008.5 1540.5,1006.5 1543.0,1004.5 1545.5,1002.5 1548.0,1000.6 1550.5,998.7 1553.0,996.9 1555.5,995.1 1558.0,993.5 1560.5,992.0 1563.0,990.5 1565.5,989.0 1568.0,987.6 1570.5,986.0 1573.0,984.3 1575.5,982.5 1578.0,980.5 1580.5,978.2 1583.0,975.7 1585.5,972.0 1588.0,967.7 1590.5,965.2 1593.0,966.0 1595.5,968.5 1598.0,970.9 1600.5,972.5 1603.0,973.9 1605.5,975.1 1608.0,976.0 1610.5,976.9 1613.0,977.7 1615.5,978.4 1618.0,979.1 1620.5,979.7 1623.0,980.4 1625.5,980.9 1628.0,981.5 1630.5,982.0 1633.0,982.5 1635.5,983.0 1638.0,983.5 1640.5,984.0 1643.0,984.5 1645.5,985.0 1648.0,985.5 1650.5,986.1 1653.0,986.6 1655.5,987.1 1658.0,987.6 1660.5,988.1 1663.0,988.5 1665.5,989.0 1668.0,989.3 1670.5,989.7 1673.0,990.0 1675.5,990.2 1678.0,990.4 1680.5,990.5 1683.0,990.7 1685.5,990.8 1688.0,990.9 1690.5,990.9 1692.0,990.5 1693.5,989.7 1695.0,988.5 1696.5,986.9 1698.0,985.1 1699.5,983.0 1701.0,979.7 1702.5,972.8 1704.0,962.5 1705.5,949.7 1707.0,935.1 1708.5,919.4 1710.0,903.3 1711.5,884.9 1713.0,862.3 1714.5,837.0 1716.0,810.2 1717.5,783.4 1719.0,758.1 1720.5,735.2 1722.0,712.0 1723.5,688.3 1725.0,665.3 1726.5,643.9 1728.0,625.3 1729.5,610.5 1731.0,599.4 1732.5,589.0 1734.0,579.4 1735.5,571.2 1737.0,564.7 1738.5,560.5 1740.0,559.0 1741.5,559.6 1743.0,561.1 1744.5,563.4 1746.0,566.3 1747.5,569.6 1749.0,573.1 1750.5,576.6 1752.0,580.0 1753.5,583.3 1755.0,587.1 1756.5,591.2 1758.0,595.4 1759.5,599.8 1761.0,604.3 1762.5,608.6 1764.0,612.9 1765.5,616.9 1767.0,620.9 1768.5,624.9 1770.0,629.0 1771.5,633.1 1774.0,640.0 1776.5,647.0 1779.0,654.0 1781.5,661.0 1784.0,668.0 1786.5,675.1 1789.0,682.3 1791.5,689.5 1794.0,696.7 1796.5,703.9 1799.0,711.0 1801.5,718.1 1804.0,724.9 1806.5,731.7 1809.0,738.5 1811.5,745.2 1814.0,751.8 1816.5,758.4 1819.0,765.0 1821.5,771.4 1824.0,777.8 1826.5,784.0 1829.0,790.2 1831.5,796.2 1834.0,802.2 1836.5,808.1 1839.0,814.1 1841.5,820.0 1844.0,825.8 1846.5,831.5 1849.0,837.1 1851.5,842.5 1854.0,847.7 1856.5,852.8 1859.0,857.5 1861.5,862.0 1864.0,866.2 1866.5,870.3 1869.0,874.2 1871.5,878.0 1874.0,881.7 1876.5,885.2 1879.0,888.6 1881.5,891.8 1884.0,894.9 1886.5,897.8 1889.0,900.5 1891.5,903.1 1894.0,905.9 1896.5,908.6 1899.0,911.4 1901.5,914.0 1903.5,915.9 1905.5,917.7 1907.5,919.2 1909.5,920.4 1911.5,921.3 1913.5,921.9 1915.5,921.9 1917.5,920.6 1919.5,917.6 1921.5,913.3 1923.5,907.9 1925.5,901.7 1927.5,894.8 1929.5,887.5 1931.5,880.2 1933.5,872.9 1935.5,866.0 1937.5,858.5 1939.5,850.2 1941.5,841.1 1943.5,831.5 1945.5,821.4 1947.5,811.0 1949.5,800.4 1951.5,789.7 1953.5,779.2 1955.5,768.9 1957.5,759.0 1959.5,749.6 1961.5,740.5 1963.5,731.0 1965.5,721.3 1967.5,711.4 1969.5,701.5 1971.5,691.9 1973.5,682.5 1975.5,673.7 1977.5,665.5 1979.5,658.0 1981.5,651.4 1983.5,645.3 1985.5,639.5 1987.5,634.1 1989.5,628.8 1991.5,623.6 1993.5,618.3 1995.5,612.9 1997.5,607.3 1999.5,601.3 2001.5,594.4 2003.5,585.8 2005.5,576.4 2007.5,567.2 2009.5,559.1 2011.5,553.1 2013.5,550.2 2015.5,550.6 2017.5,553.5 2019.5,558.3 2021.5,564.6 2023.5,572.1 2025.5,580.5 2027.5,589.4 2029.5,598.3 2031.5,606.9 2033.5,614.9 2035.5,621.9 2037.5,628.1 2039.5,634.5 2041.5,640.9 2043.5,647.2 2045.5,653.0 2047.5,658.1 2049.5,662.3 2051.5,665.7 2053.5,669.1 2055.5,672.3 2057.5,675.3 2059.5,677.8 2061.5,679.7 2063.5,680.8 2065.5,681.0 2067.5,680.0 2069.5,677.9 2071.5,675.0 2073.5,671.3 2075.5,667.1 2077.5,662.4 2079.5,657.6 2081.5,652.3 2083.5,645.1 2085.5,636.5 2087.5,626.7 2089.5,615.9 2091.5,604.4 2093.5,592.6 2095.5,580.7 2097.5,569.1 2099.5,558.0 2101.5,547.3 2103.5,536.5 2105.5,525.5 2107.5,514.3 2109.5,503.1 2111.5,491.8 2113.5,480.6 2115.5,469.4 2117.5,458.4 2119.5,447.7 2121.5,437.2 2123.5,426.7 2125.5,416.4 2127.5,406.2 2129.5,396.2 2131.5,386.3 2133.0,379.0" stroke="#ef7a2b"/>
<polyline points="243.0,601.0 248.0,599.9 253.0,598.7 258.0,597.6 263.0,596.5 268.0,595.4 273.0,594.3 278.0,593.2 283.0,592.1 288.0,591.1 293.0,590.1 298.0,589.0 303.0,588.1 308.0,587.1 313.0,586.2 318.0,585.3 323.0,584.4 328.0,583.6 333.0,582.8 338.0,582.0 343.0,581.3 348.0,580.7 353.0,580.1 358.0,579.5 363.0,579.0 368.0,578.5 373.0,578.1 378.0,577.8 383.0,577.5 388.0,577.3 393.0,577.1 398.0,577.0 403.0,577.0 408.0,577.0 413.0,577.2 418.0,577.3 423.0,577.6 428.0,577.9 433.0,578.3 438.0,578.8 443.0,579.3 448.0,579.9 453.0,580.5 458.0,581.2 463.0,582.0 468.0,582.8 473.0,583.7 478.0,584.7 483.0,585.7 488.0,586.8 493.0,587.9 498.0,589.1 503.0,590.4 508.0,591.7 513.0,593.1 518.0,594.5 523.0,596.0 528.0,597.5 533.0,599.1 538.0,600.8 543.0,602.4 548.0,604.2 553.0,606.0 558.0,607.8 563.0,609.7 568.0,611.7 573.0,613.7 578.0,615.8 583.0,617.9 588.0,620.0 593.0,622.2 598.0,624.5 603.0,626.8 608.0,629.2 613.0,631.6 618.0,634.1 623.0,636.6 628.0,639.2 633.0,641.8 638.0,644.6 643.0,647.3 648.0,650.1 653.0,653.0 658.0,655.9 663.0,658.9 668.0,662.0 673.0,665.1 678.0,668.3 683.0,671.5 688.0,674.8 693.0,678.2 698.0,681.6 703.0,685.1 708.0,688.6 713.0,692.3 718.0,695.9 723.0,699.6 728.0,703.4 733.0,707.2 738.0,711.1 743.0,715.0 748.0,718.9 753.0,722.9 758.0,726.9 763.0,730.9 768.0,735.0 773.0,739.1 778.0,743.2 783.0,747.3 788.0,751.4 793.0,755.6 798.0,759.7 803.0,763.9 808.0,768.1 813.0,772.3 818.0,776.4 823.0,780.6 828.0,784.8 833.0,788.9 838.0,793.1 843.0,797.2 848.0,801.3 853.0,805.4 858.0,809.4 863.0,813.5 868.0,817.5 873.0,821.4 878.0,825.4 883.0,829.2 888.0,833.1 893.0,836.9 898.0,840.7 903.0,844.5 908.0,848.2 913.0,851.9 918.0,855.6 923.0,859.2 928.0,862.8 933.0,866.4 938.0,870.0 943.0,873.6 948.0,877.1 953.0,880.6 958.0,884.1 963.0,887.6 968.0,891.0 973.0,894.4 978.0,897.9 983.0,901.3 988.0,904.7 993.0,908.1 998.0,911.5 1003.0,914.9 1008.0,918.4 1013.0,921.9 1018.0,925.4 1023.0,928.8 1028.0,931.9 1033.0,934.4 1038.0,936.9 1043.0,939.2 1045.5,940.4 1048.0,941.6 1050.5,942.8 1053.0,944.2 1055.5,945.6 1058.0,947.0 1060.5,948.4 1063.0,949.7 1065.5,950.9 1068.0,952.2 1070.5,953.5 1073.0,954.8 1075.5,956.0 1078.0,957.0 1080.5,957.7 1083.0,956.6 1085.5,952.9 1088.0,950.2 1090.5,949.3 1093.0,948.3 1095.5,947.1 1098.0,946.1 1100.5,944.6 1103.0,942.6 1105.5,940.2 1108.0,937.0 1110.5,933.8 1113.0,930.3 1115.5,926.2 1118.0,921.9 1120.5,917.5 1123.0,913.1 1125.5,909.0 1128.0,905.2 1130.5,902.0 1133.0,898.9 1135.5,896.0 1138.0,893.2 1140.5,890.7 1143.0,888.0 1145.5,885.2 1148.0,882.5 1150.5,880.6 1153.0,879.7 1155.5,879.1 1158.0,878.6 1160.5,878.3 1163.0,878.1 1165.5,878.0 1168.0,878.3 1170.5,878.9 1173.0,879.9 1175.5,881.2 1178.0,882.7 1180.5,884.4 1183.0,886.2 1185.5,888.2 1188.0,890.3 1190.5,892.4 1193.0,894.5 1195.5,896.5 1198.0,898.5 1200.5,900.4 1203.0,902.2 1205.5,904.2 1208.0,906.3 1210.5,908.5 1213.0,910.8 1215.5,913.1 1218.0,915.5 1220.5,917.9 1223.0,920.3 1225.5,922.7 1228.0,925.1 1230.5,927.4 1233.0,929.8 1235.5,932.1 1238.0,934.5 1240.5,936.8 1243.0,939.1 1245.5,941.5 1248.0,943.8 1250.5,946.2 1253.0,948.6 1255.5,951.0 1258.0,953.5 1260.5,956.1 1263.0,958.7 1265.5,961.4 1268.0,964.2 1270.5,967.1 1273.0,970.0 1275.5,972.9 1278.0,975.8 1280.5,978.7 1283.0,981.5 1285.5,984.3 1288.0,987.0 1290.5,989.6 1293.0,992.0 1295.5,994.3 1298.0,996.4 1300.5,998.4 1303.0,1000.1 1305.5,1001.8 1308.0,1003.3 1310.5,1004.8 1313.0,1006.1 1315.5,1007.3 1318.0,1008.5 1320.5,1009.5 1323.0,1010.5 1325.5,1011.5 1328.0,1012.4 1330.5,1013.2 1333.0,1014.0 1335.5,1014.8 1338.0,1015.5 1340.5,1016.2 1343.0,1016.9 1345.5,1017.7 1348.0,1018.5 1350.5,1019.3 1353.0,1020.2 1355.5,1021.0 1358.0,1021.8 1360.5,1022.6 1363.0,1023.4 1365.5,1024.2 1368.0,1025.0 1370.5,1025.8 1373.0,1026.6 1375.5,1027.3 1378.0,1028.1 1380.5,1028.8 1383.0,1029.5 1385.5,1030.1 1388.0,1030.8 1390.5,1031.4 1393.0,1032.1 1395.5,1032.7 1398.0,1033.3 1400.5,1034.0 1403.0,1034.6 1405.5,1035.2 1408.0,1035.8 1410.5,1036.4 1413.0,1037.0 1415.5,1037.6 1418.0,1038.2 1420.5,1038.8 1423.0,1039.4 1425.5,1040.0 1428.0,1040.6 1430.5,1041.2 1433.0,1041.9 1435.5,1042.5 1438.0,1043.1 1440.5,1043.8 1443.0,1044.4 1445.5,1045.1 1448.0,1045.8 1450.5,1046.5 1453.0,1047.2 1455.5,1047.9 1458.0,1048.7 1460.5,1049.4 1463.0,1050.1 1465.5,1050.8 1468.0,1051.4 1470.5,1052.0 1473.0,1052.6 1475.5,1053.1 1478.0,1053.6 1480.5,1054.0 1483.0,1054.3 1485.5,1054.6 1488.0,1054.8 1490.5,1055.0 1493.0,1055.0 1495.5,1054.8 1498.0,1054.4 1500.5,1053.7 1503.0,1052.8 1505.5,1051.7 1508.0,1050.6 1510.5,1049.3 1513.0,1048.1 1515.5,1046.8 1518.0,1045.4 1520.5,1043.7 1523.0,1041.8 1525.5,1039.8 1528.0,1037.8 1530.5,1035.7 1533.0,1033.7 1535.5,1031.7 1538.0,1029.9 1540.5,1028.0 1543.0,1026.1 1545.5,1024.2 1548.0,1022.3 1550.5,1020.5 1553.0,1018.7 1555.5,1016.9 1558.0,1015.3 1560.5,1013.7 1563.0,1012.2 1565.5,1010.7 1568.0,1009.2 1570.5,1007.6 1573.0,1005.9 1575.5,1004.1 1578.0,1002.1 1580.5,1000.0 1583.0,997.5 1585.5,993.7 1588.0,989.2 1590.5,986.6 1593.0,987.4 1595.5,990.0 1598.0,992.5 1600.5,994.1 1603.0,995.6 1605.5,996.9 1608.0,997.8 1610.5,998.7 1613.0,999.4 1615.5,1000.1 1618.0,1000.8 1620.5,1001.4 1623.0,1002.0 1625.5,1002.6 1628.0,1003.1 1630.5,1003.5 1633.0,1004.0 1635.5,1004.4 1638.0,1004.9 1640.5,1005.3 1643.0,1005.7 1645.5,1006.1 1648.0,1006.6 1650.5,1007.0 1653.0,1007.5 1655.5,1007.9 1658.0,1008.3 1660.5,1008.7 1663.0,1009.0 1665.5,1009.3 1668.0,1009.6 1670.5,1009.8 1673.0,1010.0 1675.5,1010.2 1678.0,1010.2 1680.5,1010.2 1683.0,1010.2 1685.5,1010.2 1688.0,1010.2 1690.5,1010.1 1692.0,1009.8 1693.5,1009.0 1695.0,1007.9 1696.5,1006.5 1698.0,1004.8 1699.5,1002.9 1701.0,1000.2 1702.5,994.8 1704.0,986.8 1705.5,975.7 1707.0,961.5 1708.5,944.1 1710.0,923.9 1711.5,899.2 1713.0,868.5 1714.5,833.0 1716.0,794.6 1717.5,754.9 1719.0,716.3 1720.5,680.8 1722.0,646.0 1723.5,612.1 1725.0,580.4 1726.5,552.0 1728.0,527.7 1729.5,508.0 1731.0,492.7 1732.5,479.3 1734.0,468.1 1735.5,459.1 1737.0,452.5 1738.5,448.4 1740.0,447.0 1741.5,447.1 1743.0,447.4 1744.5,448.0 1746.0,448.6 1747.5,449.4 1749.0,450.3 1750.5,451.3 1752.0,452.4 1753.5,453.6 1755.0,455.1 1756.5,457.0 1758.0,459.1 1759.5,461.4 1761.0,463.9 1762.5,466.5 1764.0,469.3 1765.5,472.1 1767.0,475.3 1768.5,478.9 1770.0,482.7 1771.5,486.9 1774.0,494.2 1776.5,502.0 1779.0,510.0 1781.5,518.1 1784.0,526.0 1786.5,533.9 1789.0,542.1 1791.5,550.4 1794.0,558.8 1796.5,567.3 1799.0,575.9 1801.5,584.4 1804.0,592.8 1806.5,601.1 1809.0,609.4 1811.5,617.7 1814.0,626.0 1816.5,634.3 1819.0,642.5 1821.5,650.7 1824.0,659.0 1826.5,667.1 1829.0,675.3 1831.5,683.4 1834.0,691.5 1836.5,699.7 1839.0,707.9 1841.5,716.2 1844.0,724.4 1846.5,732.6 1849.0,740.6 1851.5,748.5 1854.0,756.1 1856.5,763.5 1859.0,770.6 1861.5,777.3 1864.0,783.7 1866.5,790.0 1869.0,796.2 1871.5,802.3 1874.0,808.1 1876.5,813.8 1879.0,819.2 1881.5,824.4 1884.0,829.3 1886.5,833.9 1889.0,838.1 1891.5,842.2 1894.0,846.3 1896.5,850.5 1899.0,854.5 1901.5,858.4 1903.5,861.4 1905.5,864.0 1907.5,866.4 1909.5,868.5 1911.5,870.2 1913.5,871.4 1915.5,872.1 1917.5,871.5 1919.5,869.4 1921.5,866.1 1923.5,861.8 1925.5,856.6 1927.5,850.8 1929.5,844.5 1931.5,838.1 1933.5,831.7 1935.5,825.4 1937.5,818.0 1939.5,809.2 1941.5,799.3 1943.5,788.5 1945.5,777.2 1947.5,765.7 1949.5,754.2 1951.5,742.9 1953.5,732.2 1955.5,722.2 1957.5,713.0 1959.5,705.0 1961.5,697.8 1963.5,690.6 1965.5,683.4 1967.5,676.1 1969.5,668.8 1971.5,661.6 1973.5,654.5 1975.5,647.7 1977.5,641.3 1979.5,635.3 1981.5,629.8 1983.5,624.7 1985.5,619.9 1987.5,615.3 1989.5,610.8 1991.5,606.3 1993.5,601.8 1995.5,597.1 1997.5,592.2 1999.5,586.9 2001.5,580.7 2003.5,572.7 2005.5,563.9 2007.5,555.2 2009.5,547.6 2011.5,541.9 2013.5,539.1 2015.5,539.7 2017.5,542.6 2019.5,547.3 2021.5,553.6 2023.5,561.1 2025.5,569.3 2027.5,578.0 2029.5,586.8 2031.5,595.3 2033.5,603.2 2035.5,610.1 2037.5,616.2 2039.5,622.5 2041.5,628.8 2043.5,635.0 2045.5,640.7 2047.5,645.7 2049.5,649.7 2051.5,653.0 2053.5,656.2 2055.5,659.2 2057.5,661.9 2059.5,664.2 2061.5,665.7 2063.5,666.5 2065.5,666.2 2067.5,664.7 2069.5,662.2 2071.5,658.8 2073.5,654.6 2075.5,649.8 2077.5,644.6 2079.5,639.2 2081.5,633.1 2083.5,625.1 2085.5,615.5 2087.5,604.5 2089.5,592.5 2091.5,579.7 2093.5,566.4 2095.5,552.9 2097.5,539.6 2099.5,526.8 2101.5,514.4 2103.5,501.7 2105.5,488.5 2107.5,475.1 2109.5,461.5 2111.5,447.7 2113.5,434.0 2115.5,420.3 2117.5,406.9 2119.5,393.9 2121.5,381.2 2123.5,368.7 2125.5,356.4 2127.5,344.4 2129.5,332.6 2131.5,321.1 2133.0,312.7" stroke="#fcd12a"/>
<polyline points="243.0,629.0 248.0,627.4 253.0,625.7 258.0,624.1 263.0,622.5 268.0,620.9 273.0,619.3 278.0,617.7 283.0,616.1 288.0,614.6 293.0,613.0 298.0,611.5 303.0,610.0 308.0,608.5 313.0,607.1 318.0,605.7 323.0,604.3 328.0,602.9 333.0,601.6 338.0,600.3 343.0,599.0 348.0,597.8 353.0,596.7 358.0,595.5 363.0,594.4 368.0,593.4 373.0,592.4 378.0,591.5 383.0,590.6 388.0,589.8 393.0,589.0 398.0,588.3 403.0,587.6 408.0,587.0 413.0,586.5 418.0,586.0 423.0,585.6 428.0,585.3 433.0,585.0 438.0,584.8 443.0,584.7 448.0,584.6 453.0,584.6 458.0,584.6 463.0,584.7 468.0,584.9 473.0,585.2 478.0,585.5 483.0,585.9 488.0,586.4 493.0,586.9 498.0,587.5 503.0,588.2 508.0,588.9 513.0,589.7 518.0,590.6 523.0,591.6 528.0,592.6 533.0,593.7 538.0,594.9 543.0,596.2 548.0,597.5 553.0,598.9 558.0,600.4 563.0,601.9 568.0,603.6 573.0,605.3 578.0,607.1 583.0,608.9 588.0,610.8 593.0,612.8 598.0,614.8 603.0,616.9 608.0,619.1 613.0,621.3 618.0,623.6 623.0,625.9 628.0,628.3 633.0,630.7 638.0,633.2 643.0,635.7 648.0,638.3 653.0,640.9 658.0,643.5 663.0,646.2 668.0,648.9 673.0,651.7 678.0,654.5 683.0,657.3 688.0,660.1 693.0,663.0 698.0,665.8 703.0,668.7 708.0,671.7 713.0,674.6 718.0,677.6 723.0,680.6 728.0,683.6 733.0,686.6 738.0,689.6 743.0,692.7 748.0,695.8 753.0,698.9 758.0,702.0 763.0,705.2 768.0,708.3 773.0,711.5 778.0,714.7 783.0,717.9 788.0,721.2 793.0,724.4 798.0,727.7 803.0,731.0 808.0,734.3 813.0,737.7 818.0,741.0 823.0,744.4 828.0,747.8 833.0,751.2 838.0,754.7 843.0,758.1 848.0,761.6 853.0,765.1 858.0,768.6 863.0,772.1 868.0,775.7 873.0,779.3 878.0,782.9 883.0,786.5 888.0,790.1 893.0,793.7 898.0,797.4 903.0,801.1 908.0,804.8 913.0,808.5 918.0,812.2 923.0,815.9 928.0,819.7 933.0,823.4 938.0,827.2 943.0,831.0 948.0,834.8 953.0,838.6 958.0,842.4 963.0,846.2 968.0,850.1 973.0,853.9 978.0,857.7 983.0,861.6 988.0,865.5 993.0,869.3 998.0,873.2 1003.0,877.1 1008.0,881.1 1013.0,885.1 1018.0,889.1 1023.0,893.0 1028.0,896.6 1033.0,899.8 1038.0,903.1 1043.0,906.3 1045.5,907.8 1048.0,909.3 1050.5,910.9 1053.0,912.4 1055.5,914.0 1058.0,915.5 1060.5,917.1 1063.0,918.5 1065.5,919.8 1068.0,921.1 1070.5,922.5 1073.0,923.9 1075.5,925.2 1078.0,926.2 1080.5,926.8 1083.0,925.4 1085.5,921.2 1088.0,918.4 1090.5,917.7 1093.0,916.8 1095.5,915.9 1098.0,915.2 1100.5,914.1 1103.0,912.4 1105.5,910.2 1108.0,907.3 1110.5,904.4 1113.0,901.3 1115.5,897.8 1118.0,894.0 1120.5,890.1 1123.0,886.2 1125.5,882.4 1128.0,878.7 1130.5,875.2 1133.0,871.6 1135.5,867.9 1138.0,864.5 1140.5,861.3 1143.0,857.9 1145.5,854.3 1148.0,850.9 1150.5,848.6 1153.0,847.8 1155.5,847.5 1158.0,847.2 1160.5,847.0 1163.0,846.8 1165.5,846.7 1168.0,846.8 1170.5,847.1 1173.0,847.7 1175.5,848.4 1178.0,849.4 1180.5,850.5 1183.0,851.7 1185.5,853.1 1188.0,854.6 1190.5,856.1 1193.0,857.8 1195.5,859.4 1198.0,861.1 1200.5,862.8 1203.0,864.6 1205.5,866.5 1208.0,868.4 1210.5,870.4 1213.0,872.5 1215.5,874.6 1218.0,876.8 1220.5,878.9 1223.0,881.2 1225.5,883.4 1228.0,885.7 1230.5,887.9 1233.0,890.2 1235.5,892.5 1238.0,894.8 1240.5,897.1 1243.0,899.4 1245.5,901.7 1248.0,904.1 1250.5,906.5 1253.0,908.9 1255.5,911.4 1258.0,913.9 1260.5,916.4 1263.0,919.0 1265.5,921.7 1268.0,924.4 1270.5,927.2 1273.0,930.0 1275.5,932.8 1278.0,935.6 1280.5,938.5 1283.0,941.2 1285.5,944.0 1288.0,946.6 1290.5,949.2 1293.0,951.7 1295.5,954.1 1298.0,956.3 1300.5,958.4 1303.0,960.4 1305.5,962.4 1308.0,964.4 1310.5,966.3 1313.0,968.2 1315.5,970.1 1318.0,971.9 1320.5,973.7 1323.0,975.4 1325.5,977.1 1328.0,978.7 1330.5,980.2 1333.0,981.7 1335.5,983.2 1338.0,984.6 1340.5,985.9 1343.0,987.2 1345.5,988.4 1348.0,989.7 1350.5,990.9 1353.0,992.2 1355.5,993.4 1358.0,994.5 1360.5,995.7 1363.0,996.8 1365.5,997.9 1368.0,999.0 1370.5,1000.0 1373.0,1001.0 1375.5,1001.9 1378.0,1002.8 1380.5,1003.6 1383.0,1004.4 1385.5,1005.1 1388.0,1005.8 1390.5,1006.5 1393.0,1007.2 1395.5,1007.8 1398.0,1008.4 1400.5,1009.0 1403.0,1009.6 1405.5,1010.1 1408.0,1010.6 1410.5,1011.1 1413.0,1011.7 1415.5,1012.1 1418.0,1012.6 1420.5,1013.1 1423.0,1013.5 1425.5,1014.0 1428.0,1014.4 1430.5,1014.9 1433.0,1015.3 1435.5,1015.7 1438.0,1016.1 1440.5,1016.6 1443.0,1017.0 1445.5,1017.4 1448.0,1017.9 1450.5,1018.4 1453.0,1018.8 1455.5,1019.3 1458.0,1019.8 1460.5,1020.3 1463.0,1020.7 1465.5,1021.2 1468.0,1021.6 1470.5,1022.0 1473.0,1022.4 1475.5,1022.7 1478.0,1023.0 1480.5,1023.3 1483.0,1023.6 1485.5,1023.7 1488.0,1023.9 1490.5,1024.0 1493.0,1024.0 1495.5,1023.9 1498.0,1023.5 1500.5,1022.8 1503.0,1022.0 1505.5,1021.1 1508.0,1020.0 1510.5,1018.9 1513.0,1017.7 1515.5,1016.5 1518.0,1014.9 1520.5,1013.0 1523.0,1010.8 1525.5,1008.3 1528.0,1005.8 1530.5,1003.3 1533.0,1001.0 1535.5,998.8 1538.0,996.7 1540.5,994.7 1543.0,992.6 1545.5,990.6 1548.0,988.6 1550.5,986.7 1553.0,984.9 1555.5,983.2 1558.0,981.5 1560.5,980.1 1563.0,978.6 1565.5,977.2 1568.0,975.8 1570.5,974.3 1573.0,972.7 1575.5,970.8 1578.0,968.7 1580.5,966.4 1583.0,963.9 1585.5,960.2 1588.0,956.1 1590.5,953.7 1593.0,954.4 1595.5,956.9 1598.0,959.2 1600.5,960.7 1603.0,962.1 1605.5,963.3 1608.0,964.2 1610.5,965.1 1613.0,965.9 1615.5,966.6 1618.0,967.3 1620.5,968.0 1623.0,968.6 1625.5,969.2 1628.0,969.8 1630.5,970.3 1633.0,970.9 1635.5,971.4 1638.0,971.9 1640.5,972.5 1643.0,973.0 1645.5,973.6 1648.0,974.1 1650.5,974.7 1653.0,975.3 1655.5,975.8 1658.0,976.4 1660.5,976.9 1663.0,977.4 1665.5,977.9 1668.0,978.3 1670.5,978.7 1673.0,979.1 1675.5,979.4 1678.0,979.6 1680.5,979.8 1683.0,980.1 1685.5,980.3 1688.0,980.4 1690.5,980.4 1692.0,980.0 1693.5,979.2 1695.0,977.9 1696.5,976.3 1698.0,974.4 1699.5,972.2 1701.0,968.6 1702.5,960.6 1704.0,949.0 1705.5,935.0 1707.0,919.9 1708.5,904.6 1710.0,890.3 1711.5,874.6 1713.0,855.9 1714.5,835.3 1716.0,814.1 1717.5,793.4 1719.0,774.4 1720.5,757.8 1722.0,740.3 1723.5,721.7 1725.0,703.0 1726.5,685.3 1728.0,669.6 1729.5,657.4 1731.0,648.4 1732.5,639.5 1734.0,630.8 1735.5,623.0 1737.0,616.7 1738.5,612.5 1740.0,611.0 1741.5,611.8 1743.0,613.8 1744.5,617.0 1746.0,620.8 1747.5,625.2 1749.0,629.8 1750.5,634.4 1752.0,638.6 1753.5,642.9 1755.0,647.5 1756.5,652.4 1758.0,657.4 1759.5,662.6 1761.0,667.6 1762.5,672.5 1764.0,677.2 1765.5,681.4 1767.0,685.4 1768.5,689.4 1770.0,693.2 1771.5,697.0 1774.0,703.1 1776.5,709.0 1779.0,714.9 1781.5,720.8 1784.0,726.7 1786.5,732.7 1789.0,738.7 1791.5,744.6 1794.0,750.5 1796.5,756.4 1799.0,762.1 1801.5,767.8 1804.0,773.2 1806.5,778.6 1809.0,783.9 1811.5,789.2 1814.0,794.4 1816.5,799.5 1819.0,804.6 1821.5,809.6 1824.0,814.5 1826.5,819.3 1829.0,824.0 1831.5,828.6 1834.0,833.1 1836.5,837.6 1839.0,842.1 1841.5,846.6 1844.0,851.0 1846.5,855.4 1849.0,859.7 1851.5,863.9 1854.0,867.9 1856.5,871.7 1859.0,875.4 1861.5,878.8 1864.0,882.0 1866.5,885.1 1869.0,888.2 1871.5,891.1 1874.0,893.9 1876.5,896.7 1879.0,899.4 1881.5,901.9 1884.0,904.4 1886.5,906.7 1889.0,909.0 1891.5,911.2 1894.0,913.5 1896.5,915.9 1899.0,918.4 1901.5,920.7 1903.5,922.4 1905.5,924.0 1907.5,925.4 1909.5,926.6 1911.5,927.4 1913.5,927.9 1915.5,927.9 1917.5,926.6 1919.5,923.6 1921.5,919.3 1923.5,913.9 1925.5,907.6 1927.5,900.7 1929.5,893.5 1931.5,886.2 1933.5,879.0 1935.5,872.1 1937.5,864.9 1939.5,856.8 1941.5,848.2 1943.5,839.0 1945.5,829.4 1947.5,819.6 1949.5,809.5 1951.5,799.5 1953.5,789.5 1955.5,779.6 1957.5,770.1 1959.5,761.0 1961.5,752.0 1963.5,742.5 1965.5,732.7 1967.5,722.7 1969.5,712.7 1971.5,702.9 1973.5,693.4 1975.5,684.5 1977.5,676.3 1979.5,668.9 1981.5,662.5 1983.5,656.6 1985.5,651.2 1987.5,646.1 1989.5,641.2 1991.5,636.4 1993.5,631.6 1995.5,626.6 1997.5,621.4 1999.5,615.8 2001.5,609.2 2003.5,600.8 2005.5,591.6 2007.5,582.6 2009.5,574.7 2011.5,568.8 2013.5,566.1 2015.5,566.8 2017.5,570.1 2019.5,575.3 2021.5,582.2 2023.5,590.3 2025.5,599.4 2027.5,608.9 2029.5,618.6 2031.5,628.0 2033.5,636.8 2035.5,644.5 2037.5,651.3 2039.5,658.4 2041.5,665.4 2043.5,672.3 2045.5,678.7 2047.5,684.4 2049.5,689.3 2051.5,693.4 2053.5,697.6 2055.5,701.6 2057.5,705.4 2059.5,708.7 2061.5,711.5 2063.5,713.5 2065.5,714.7 2067.5,714.9 2069.5,713.9 2071.5,712.0 2073.5,709.4 2075.5,706.3 2077.5,702.9 2079.5,699.3 2081.5,695.2 2083.5,689.7 2085.5,682.9 2087.5,675.2 2089.5,666.8 2091.5,657.9 2093.5,648.7 2095.5,639.6 2097.5,630.9 2099.5,622.6 2101.5,614.9 2103.5,607.3 2105.5,599.8 2107.5,592.3 2109.5,584.8 2111.5,577.3 2113.5,569.8 2115.5,562.3 2117.5,554.6 2119.5,546.9 2121.5,539.0 2123.5,531.0 2125.5,522.8 2127.5,514.4 2129.5,505.9 2131.5,497.3 2133.0,490.8" stroke="#a3d9d0"/>
<polyline points="243.0,650.0 248.0,648.3 253.0,646.6 258.0,645.0 263.0,643.3 268.0,641.7 273.0,640.0 278.0,638.4 283.0,636.8 288.0,635.2 293.0,633.6 298.0,632.1 303.0,630.6 308.0,629.1 313.0,627.6 318.0,626.2 323.0,624.8 328.0,623.5 333.0,622.2 338.0,620.9 343.0,619.7 348.0,618.6 353.0,617.5 358.0,616.4 363.0,615.4 368.0,614.5 373.0,613.6 378.0,612.8 383.0,612.0 388.0,611.3 393.0,610.7 398.0,610.2 403.0,609.7 408.0,609.3 413.0,609.0 418.0,608.8 423.0,608.6 428.0,608.6 433.0,608.5 438.0,608.6 443.0,608.7 448.0,608.9 453.0,609.1 458.0,609.4 463.0,609.8 468.0,610.3 473.0,610.8 478.0,611.3 483.0,611.9 488.0,612.6 493.0,613.4 498.0,614.1 503.0,615.0 508.0,615.9 513.0,616.8 518.0,617.8 523.0,618.9 528.0,620.0 533.0,621.1 538.0,622.3 543.0,623.5 548.0,624.8 553.0,626.1 558.0,627.4 563.0,628.8 568.0,630.3 573.0,631.8 578.0,633.3 583.0,634.8 588.0,636.4 593.0,638.1 598.0,639.8 603.0,641.5 608.0,643.3 613.0,645.1 618.0,647.0 623.0,649.0 628.0,651.0 633.0,653.0 638.0,655.1 643.0,657.3 648.0,659.5 653.0,661.7 658.0,664.1 663.0,666.4 668.0,668.9 673.0,671.4 678.0,673.9 683.0,676.6 688.0,679.3 693.0,682.0 698.0,684.9 703.0,687.7 708.0,690.7 713.0,693.7 718.0,696.8 723.0,699.9 728.0,703.1 733.0,706.4 738.0,709.7 743.0,713.1 748.0,716.5 753.0,719.9 758.0,723.4 763.0,726.9 768.0,730.5 773.0,734.1 778.0,737.7 783.0,741.3 788.0,745.0 793.0,748.7 798.0,752.5 803.0,756.2 808.0,760.0 813.0,763.8 818.0,767.6 823.0,771.4 828.0,775.2 833.0,779.0 838.0,782.8 843.0,786.7 848.0,790.5 853.0,794.3 858.0,798.1 863.0,801.9 868.0,805.7 873.0,809.5 878.0,813.3 883.0,817.0 888.0,820.7 893.0,824.4 898.0,828.1 903.0,831.8 908.0,835.5 913.0,839.1 918.0,842.8 923.0,846.4 928.0,850.0 933.0,853.6 938.0,857.2 943.0,860.8 948.0,864.3 953.0,867.9 958.0,871.5 963.0,875.0 968.0,878.5 973.0,882.1 978.0,885.6 983.0,889.1 988.0,892.6 993.0,896.1 998.0,899.6 1003.0,903.2 1008.0,906.8 1013.0,910.4 1018.0,914.1 1023.0,917.6 1028.0,920.8 1033.0,923.5 1038.0,926.3 1043.0,928.9 1045.5,930.3 1048.0,931.6 1050.5,933.0 1053.0,934.4 1055.5,935.9 1058.0,937.4 1060.5,938.9 1063.0,940.4 1065.5,941.7 1068.0,943.0 1070.5,944.4 1073.0,945.9 1075.5,947.2 1078.0,948.2 1080.5,949.0 1083.0,948.2 1085.5,945.1 1088.0,942.9 1090.5,942.1 1093.0,941.3 1095.5,940.3 1098.0,939.3 1100.5,937.9 1103.0,935.9 1105.5,933.5 1108.0,930.5 1110.5,927.5 1113.0,924.1 1115.5,920.3 1118.0,916.2 1120.5,911.9 1123.0,907.7 1125.5,903.8 1128.0,900.1 1130.5,896.9 1133.0,893.8 1135.5,890.8 1138.0,888.0 1140.5,885.5 1143.0,882.7 1145.5,879.9 1148.0,877.3 1150.5,875.5 1153.0,874.8 1155.5,874.5 1158.0,874.2 1160.5,874.0 1163.0,874.0 1165.5,874.2 1168.0,874.6 1170.5,875.4 1173.0,876.6 1175.5,878.0 1178.0,879.6 1180.5,881.4 1183.0,883.4 1185.5,885.5 1188.0,887.7 1190.5,889.9 1193.0,892.1 1195.5,894.3 1198.0,896.4 1200.5,898.4 1203.0,900.4 1205.5,902.5 1208.0,904.6 1210.5,906.8 1213.0,909.1 1215.5,911.4 1218.0,913.7 1220.5,916.1 1223.0,918.4 1225.5,920.8 1228.0,923.1 1230.5,925.3 1233.0,927.6 1235.5,929.9 1238.0,932.2 1240.5,934.5 1243.0,936.7 1245.5,939.0 1248.0,941.2 1250.5,943.5 1253.0,945.8 1255.5,948.2 1258.0,950.6 1260.5,953.0 1263.0,955.5 1265.5,958.2 1268.0,960.9 1270.5,963.6 1273.0,966.4 1275.5,969.3 1278.0,972.1 1280.5,974.9 1283.0,977.7 1285.5,980.4 1288.0,983.0 1290.5,985.6 1293.0,988.0 1295.5,990.3 1298.0,992.4 1300.5,994.4 1303.0,996.2 1305.5,997.8 1308.0,999.4 1310.5,1000.8 1313.0,1002.1 1315.5,1003.4 1318.0,1004.5 1320.5,1005.5 1323.0,1006.5 1325.5,1007.4 1328.0,1008.3 1330.5,1009.2 1333.0,1010.1 1335.5,1011.0 1338.0,1011.8 1340.5,1012.5 1343.0,1013.3 1345.5,1014.1 1348.0,1014.9 1350.5,1015.7 1353.0,1016.5 1355.5,1017.3 1358.0,1018.0 1360.5,1018.8 1363.0,1019.6 1365.5,1020.4 1368.0,1021.1 1370.5,1021.9 1373.0,1022.6 1375.5,1023.3 1378.0,1024.1 1380.5,1024.8 1383.0,1025.5 1385.5,1026.1 1388.0,1026.8 1390.5,1027.4 1393.0,1028.0 1395.5,1028.7 1398.0,1029.2 1400.5,1029.8 1403.0,1030.4 1405.5,1030.9 1408.0,1031.4 1410.5,1032.0 1413.0,1032.5 1415.5,1033.0 1418.0,1033.5 1420.5,1034.0 1423.0,1034.4 1425.5,1034.9 1428.0,1035.4 1430.5,1035.9 1433.0,1036.4 1435.5,1036.9 1438.0,1037.4 1440.5,1037.9 1443.0,1038.4 1445.5,1039.0 1448.0,1039.5 1450.5,1040.1 1453.0,1040.7 1455.5,1041.3 1458.0,1041.8 1460.5,1042.4 1463.0,1043.0 1465.5,1043.5 1468.0,1044.0 1470.5,1044.5 1473.0,1045.0 1475.5,1045.4 1478.0,1045.8 1480.5,1046.2 1483.0,1046.4 1485.5,1046.7 1488.0,1046.9 1490.5,1047.0 1493.0,1047.0 1495.5,1046.8 1498.0,1046.4 1500.5,1045.7 1503.0,1044.8 1505.5,1043.8 1508.0,1042.6 1510.5,1041.4 1513.0,1040.1 1515.5,1038.9 1518.0,1037.4 1520.5,1035.7 1523.0,1033.7 1525.5,1031.7 1528.0,1029.5 1530.5,1027.3 1533.0,1025.2 1535.5,1023.2 1538.0,1021.3 1540.5,1019.4 1543.0,1017.4 1545.5,1015.5 1548.0,1013.6 1550.5,1011.7 1553.0,1009.9 1555.5,1008.1 1558.0,1006.5 1560.5,1004.9 1563.0,1003.4 1565.5,1001.9 1568.0,1000.4 1570.5,998.8 1573.0,997.1 1575.5,995.2 1578.0,993.3 1580.5,991.1 1583.0,988.6 1585.5,984.8 1588.0,980.4 1590.5,977.8 1593.0,978.6 1595.5,981.2 1598.0,983.6 1600.5,985.3 1603.0,986.7 1605.5,988.0 1608.0,988.9 1610.5,989.8 1613.0,990.5 1615.5,991.3 1618.0,991.9 1620.5,992.6 1623.0,993.2 1625.5,993.7 1628.0,994.3 1630.5,994.8 1633.0,995.2 1635.5,995.7 1638.0,996.2 1640.5,996.6 1643.0,997.1 1645.5,997.5 1648.0,998.0 1650.5,998.5 1653.0,999.0 1655.5,999.4 1658.0,999.9 1660.5,1000.3 1663.0,1000.7 1665.5,1001.0 1668.0,1001.4 1670.5,1001.6 1673.0,1001.9 1675.5,1002.0 1678.0,1002.1 1680.5,1002.2 1683.0,1002.2 1685.5,1002.3 1688.0,1002.3 1690.5,1002.3 1692.0,1001.9 1693.5,1001.1 1695.0,1000.0 1696.5,998.5 1698.0,996.8 1699.5,994.8 1701.0,992.0 1702.5,986.8 1704.0,979.5 1705.5,970.5 1707.0,960.3 1708.5,949.5 1710.0,938.3 1711.5,925.0 1713.0,907.9 1714.5,888.2 1716.0,867.1 1717.5,845.5 1719.0,824.6 1720.5,805.0 1722.0,784.0 1723.5,761.6 1725.0,739.0 1726.5,717.5 1728.0,698.6 1729.5,683.4 1731.0,672.0 1732.5,661.0 1734.0,650.6 1735.5,641.5 1737.0,634.3 1738.5,629.6 1740.0,628.0 1741.5,629.0 1743.0,631.4 1744.5,635.0 1746.0,639.4 1747.5,644.3 1749.0,649.5 1750.5,654.6 1752.0,659.3 1753.5,664.1 1755.0,669.3 1756.5,674.7 1758.0,680.4 1759.5,686.0 1761.0,691.7 1762.5,697.1 1764.0,702.2 1765.5,707.0 1767.0,711.5 1768.5,715.8 1770.0,720.0 1771.5,724.2 1774.0,730.8 1776.5,737.3 1779.0,743.7 1781.5,750.1 1784.0,756.5 1786.5,763.0 1789.0,769.5 1791.5,776.0 1794.0,782.4 1796.5,788.7 1799.0,794.9 1801.5,800.9 1804.0,806.8 1806.5,812.6 1809.0,818.3 1811.5,824.0 1814.0,829.6 1816.5,835.1 1819.0,840.5 1821.5,845.9 1824.0,851.1 1826.5,856.2 1829.0,861.1 1831.5,865.9 1834.0,870.6 1836.5,875.2 1839.0,879.8 1841.5,884.4 1844.0,888.8 1846.5,893.2 1849.0,897.4 1851.5,901.5 1854.0,905.4 1856.5,909.1 1859.0,912.6 1861.5,915.9 1864.0,919.0 1866.5,922.0 1869.0,924.8 1871.5,927.5 1874.0,930.2 1876.5,932.7 1879.0,935.1 1881.5,937.4 1884.0,939.7 1886.5,941.9 1889.0,944.0 1891.5,946.0 1894.0,948.3 1896.5,950.6 1899.0,952.9 1901.5,955.1 1903.5,956.8 1905.5,958.3 1907.5,959.6 1909.5,960.6 1911.5,961.4 1913.5,961.9 1915.5,961.9 1917.5,960.5 1919.5,957.5 1921.5,953.1 1923.5,947.5 1925.5,941.1 1927.5,934.1 1929.5,926.7 1931.5,919.2 1933.5,912.0 1935.5,905.1 1937.5,898.1 1939.5,890.6 1941.5,882.8 1943.5,874.7 1945.5,866.4 1947.5,857.8 1949.5,849.0 1951.5,840.1 1953.5,831.1 1955.5,822.1 1957.5,812.9 1959.5,803.7 1961.5,794.3 1963.5,783.9 1965.5,772.9 1967.5,761.5 1969.5,750.0 1971.5,738.4 1973.5,727.1 1975.5,716.6 1977.5,707.1 1979.5,698.8 1981.5,691.7 1983.5,685.3 1985.5,679.5 1987.5,674.0 1989.5,668.9 1991.5,663.8 1993.5,658.6 1995.5,653.3 1997.5,647.5 1999.5,641.4 2001.5,634.1 2003.5,624.9 2005.5,614.9 2007.5,605.0 2009.5,596.2 2011.5,589.6 2013.5,586.1 2015.5,586.2 2017.5,588.7 2019.5,593.4 2021.5,599.7 2023.5,607.3 2025.5,615.7 2027.5,624.6 2029.5,633.5 2031.5,642.2 2033.5,650.1 2035.5,657.0 2037.5,662.9 2039.5,669.0 2041.5,675.1 2043.5,680.9 2045.5,686.3 2047.5,691.1 2049.5,695.0 2051.5,698.2 2053.5,701.4 2055.5,704.5 2057.5,707.3 2059.5,709.7 2061.5,711.5 2063.5,712.6 2065.5,712.8 2067.5,712.0 2069.5,710.0 2071.5,707.2 2073.5,703.7 2075.5,699.6 2077.5,695.1 2079.5,690.5 2081.5,685.4 2083.5,678.8 2085.5,670.9 2087.5,661.9 2089.5,652.1 2091.5,641.7 2093.5,631.1 2095.5,620.4 2097.5,610.0 2099.5,600.1 2101.5,590.7 2103.5,581.3 2105.5,571.8 2107.5,562.2 2109.5,552.6 2111.5,542.9 2113.5,533.2 2115.5,523.5 2117.5,513.8 2119.5,504.2 2121.5,494.5 2123.5,484.8 2125.5,475.0 2127.5,465.2 2129.5,455.5 2131.5,445.7 2133.0,438.4" stroke="#7c7232"/>
<polyline points="243.0,667.0 248.0,665.7 253.0,664.3 258.0,663.0 263.0,661.7 268.0,660.4 273.0,659.1 278.0,657.8 283.0,656.6 288.0,655.3 293.0,654.1 298.0,652.9 303.0,651.7 308.0,650.5 313.0,649.4 318.0,648.2 323.0,647.2 328.0,646.1 333.0,645.1 338.0,644.1 343.0,643.2 348.0,642.3 353.0,641.5 358.0,640.7 363.0,639.9 368.0,639.2 373.0,638.5 378.0,637.9 383.0,637.4 388.0,636.9 393.0,636.5 398.0,636.1 403.0,635.8 408.0,635.6 413.0,635.4 418.0,635.3 423.0,635.3 428.0,635.3 433.0,635.4 438.0,635.5 443.0,635.7 448.0,636.0 453.0,636.3 458.0,636.7 463.0,637.1 468.0,637.6 473.0,638.1 478.0,638.7 483.0,639.4 488.0,640.1 493.0,640.9 498.0,641.7 503.0,642.6 508.0,643.5 513.0,644.5 518.0,645.5 523.0,646.6 528.0,647.7 533.0,648.9 538.0,650.1 543.0,651.3 548.0,652.7 553.0,654.0 558.0,655.4 563.0,656.9 568.0,658.4 573.0,659.9 578.0,661.5 583.0,663.1 588.0,664.8 593.0,666.5 598.0,668.3 603.0,670.1 608.0,672.0 613.0,673.9 618.0,675.8 623.0,677.8 628.0,679.9 633.0,681.9 638.0,684.1 643.0,686.3 648.0,688.5 653.0,690.8 658.0,693.1 663.0,695.5 668.0,697.9 673.0,700.4 678.0,702.9 683.0,705.5 688.0,708.1 693.0,710.8 698.0,713.5 703.0,716.3 708.0,719.1 713.0,722.0 718.0,724.9 723.0,727.8 728.0,730.8 733.0,733.9 738.0,736.9 743.0,740.1 748.0,743.2 753.0,746.4 758.0,749.6 763.0,752.9 768.0,756.2 773.0,759.5 778.0,762.9 783.0,766.2 788.0,769.6 793.0,773.1 798.0,776.5 803.0,780.0 808.0,783.5 813.0,787.0 818.0,790.5 823.0,794.0 828.0,797.6 833.0,801.2 838.0,804.7 843.0,808.3 848.0,811.9 853.0,815.5 858.0,819.1 863.0,822.7 868.0,826.3 873.0,830.0 878.0,833.6 883.0,837.2 888.0,840.8 893.0,844.4 898.0,848.0 903.0,851.6 908.0,855.2 913.0,858.8 918.0,862.4 923.0,866.0 928.0,869.6 933.0,873.2 938.0,876.8 943.0,880.4 948.0,884.0 953.0,887.6 958.0,891.2 963.0,894.8 968.0,898.4 973.0,902.0 978.0,905.6 983.0,909.2 988.0,912.8 993.0,916.4 998.0,920.0 1003.0,923.6 1008.0,927.5 1013.0,931.4 1018.0,935.3 1023.0,938.8 1028.0,941.9 1033.0,944.3 1038.0,946.5 1043.0,948.7 1045.5,949.7 1048.0,950.9 1050.5,952.1 1053.0,953.4 1055.5,954.8 1058.0,956.2 1060.5,957.6 1063.0,958.9 1065.5,960.2 1068.0,961.5 1070.5,962.8 1073.0,964.2 1075.5,965.4 1078.0,966.5 1080.5,967.2 1083.0,966.4 1085.5,963.3 1088.0,960.9 1090.5,960.0 1093.0,958.9 1095.5,957.7 1098.0,956.6 1100.5,955.0 1103.0,952.9 1105.5,950.4 1108.0,947.4 1110.5,944.3 1113.0,940.8 1115.5,937.0 1118.0,932.8 1120.5,928.6 1123.0,924.5 1125.5,920.7 1128.0,917.2 1130.5,914.2 1133.0,911.3 1135.5,908.7 1138.0,906.2 1140.5,903.8 1143.0,901.3 1145.5,898.8 1148.0,896.3 1150.5,894.6 1153.0,893.8 1155.5,893.2 1158.0,892.7 1160.5,892.3 1163.0,891.9 1165.5,891.6 1168.0,891.5 1170.5,891.7 1173.0,892.2 1175.5,892.8 1178.0,893.8 1180.5,894.9 1183.0,896.2 1185.5,897.6 1188.0,899.2 1190.5,900.8 1193.0,902.6 1195.5,904.3 1198.0,906.2 1200.5,908.0 1203.0,909.9 1205.5,911.9 1208.0,914.1 1210.5,916.4 1213.0,918.8 1215.5,921.2 1218.0,923.8 1220.5,926.3 1223.0,929.0 1225.5,931.6 1228.0,934.2 1230.5,936.8 1233.0,939.4 1235.5,942.0 1238.0,944.6 1240.5,947.1 1243.0,949.7 1245.5,952.3 1248.0,954.9 1250.5,957.5 1253.0,960.1 1255.5,962.8 1258.0,965.5 1260.5,968.3 1263.0,971.1 1265.5,974.1 1268.0,977.1 1270.5,980.2 1273.0,983.2 1275.5,986.3 1278.0,989.4 1280.5,992.4 1283.0,995.4 1285.5,998.3 1288.0,1001.1 1290.5,1003.7 1293.0,1006.1 1295.5,1008.4 1298.0,1010.5 1300.5,1012.4 1303.0,1014.0 1305.5,1015.6 1308.0,1017.1 1310.5,1018.4 1313.0,1019.7 1315.5,1020.9 1318.0,1022.0 1320.5,1023.0 1323.0,1024.0 1325.5,1024.9 1328.0,1025.7 1330.5,1026.5 1333.0,1027.3 1335.5,1028.1 1338.0,1028.8 1340.5,1029.5 1343.0,1030.2 1345.5,1030.9 1348.0,1031.7 1350.5,1032.4 1353.0,1033.1 1355.5,1033.9 1358.0,1034.6 1360.5,1035.4 1363.0,1036.1 1365.5,1036.9 1368.0,1037.6 1370.5,1038.3 1373.0,1039.0 1375.5,1039.8 1378.0,1040.4 1380.5,1041.1 1383.0,1041.8 1385.5,1042.4 1388.0,1043.0 1390.5,1043.6 1393.0,1044.2 1395.5,1044.8 1398.0,1045.4 1400.5,1045.9 1403.0,1046.4 1405.5,1047.0 1408.0,1047.5 1410.5,1048.0 1413.0,1048.5 1415.5,1049.0 1418.0,1049.4 1420.5,1049.9 1423.0,1050.4 1425.5,1050.9 1428.0,1051.4 1430.5,1051.9 1433.0,1052.4 1435.5,1052.9 1438.0,1053.4 1440.5,1053.9 1443.0,1054.4 1445.5,1055.0 1448.0,1055.5 1450.5,1056.1 1453.0,1056.7 1455.5,1057.3 1458.0,1057.9 1460.5,1058.4 1463.0,1059.0 1465.5,1059.5 1468.0,1060.1 1470.5,1060.6 1473.0,1061.0 1475.5,1061.4 1478.0,1061.8 1480.5,1062.2 1483.0,1062.5 1485.5,1062.7 1488.0,1062.9 1490.5,1063.0 1493.0,1063.0 1495.5,1062.8 1498.0,1062.4 1500.5,1061.8 1503.0,1060.9 1505.5,1059.9 1508.0,1058.8 1510.5,1057.6 1513.0,1056.4 1515.5,1055.2 1518.0,1053.8 1520.5,1052.1 1523.0,1050.3 1525.5,1048.3 1528.0,1046.2 1530.5,1044.1 1533.0,1042.1 1535.5,1040.2 1538.0,1038.4 1540.5,1036.6 1543.0,1034.8 1545.5,1033.0 1548.0,1031.2 1550.5,1029.4 1553.0,1027.7 1555.5,1026.1 1558.0,1024.5 1560.5,1023.1 1563.0,1021.7 1565.5,1020.3 1568.0,1018.8 1570.5,1017.4 1573.0,1015.7 1575.5,1014.0 1578.0,1012.0 1580.5,1009.9 1583.0,1007.4 1585.5,1003.5 1588.0,999.1 1590.5,996.4 1593.0,997.3 1595.5,1000.0 1598.0,1002.5 1600.5,1004.1 1603.0,1005.6 1605.5,1006.8 1608.0,1007.7 1610.5,1008.5 1613.0,1009.2 1615.5,1009.9 1618.0,1010.6 1620.5,1011.2 1623.0,1011.7 1625.5,1012.2 1628.0,1012.7 1630.5,1013.2 1633.0,1013.6 1635.5,1014.0 1638.0,1014.4 1640.5,1014.8 1643.0,1015.2 1645.5,1015.6 1648.0,1016.0 1650.5,1016.4 1653.0,1016.7 1655.5,1017.1 1658.0,1017.5 1660.5,1017.8 1663.0,1018.1 1665.5,1018.4 1668.0,1018.6 1670.5,1018.8 1673.0,1018.9 1675.5,1019.0 1678.0,1019.1 1680.5,1019.0 1683.0,1019.0 1685.5,1018.9 1688.0,1018.9 1690.5,1018.8 1692.0,1018.4 1693.5,1017.7 1695.0,1016.6 1696.5,1015.3 1698.0,1013.6 1699.5,1011.8 1701.0,1009.4 1702.5,1005.2 1704.0,999.3 1705.5,992.1 1707.0,983.7 1708.5,974.6 1710.0,964.8 1711.5,952.8 1713.0,937.2 1714.5,919.0 1716.0,899.2 1717.5,878.8 1719.0,858.8 1720.5,839.9 1722.0,819.5 1723.5,797.7 1725.0,775.8 1726.5,755.0 1728.0,736.6 1729.5,721.7 1731.0,710.3 1732.5,699.2 1734.0,688.6 1735.5,679.2 1737.0,671.7 1738.5,666.7 1740.0,665.0 1741.5,665.9 1743.0,668.2 1744.5,671.6 1746.0,675.9 1747.5,680.7 1749.0,685.7 1750.5,690.7 1752.0,695.3 1753.5,699.8 1755.0,704.7 1756.5,709.9 1758.0,715.3 1759.5,720.6 1761.0,726.0 1762.5,731.1 1764.0,735.9 1765.5,740.3 1767.0,744.6 1768.5,748.6 1770.0,752.6 1771.5,756.4 1774.0,762.6 1776.5,768.7 1779.0,774.6 1781.5,780.5 1784.0,786.4 1786.5,792.4 1789.0,798.3 1791.5,804.1 1794.0,809.9 1796.5,815.6 1799.0,821.2 1801.5,826.7 1804.0,832.0 1806.5,837.3 1809.0,842.6 1811.5,847.7 1814.0,852.9 1816.5,857.9 1819.0,862.9 1821.5,867.8 1824.0,872.6 1826.5,877.3 1829.0,881.9 1831.5,886.3 1834.0,890.7 1836.5,895.0 1839.0,899.2 1841.5,903.5 1844.0,907.6 1846.5,911.7 1849.0,915.7 1851.5,919.5 1854.0,923.2 1856.5,926.7 1859.0,930.1 1861.5,933.2 1864.0,936.2 1866.5,939.1 1869.0,941.8 1871.5,944.5 1874.0,947.0 1876.5,949.5 1879.0,951.9 1881.5,954.2 1884.0,956.5 1886.5,958.6 1889.0,960.7 1891.5,962.8 1894.0,965.0 1896.5,967.4 1899.0,969.7 1901.5,972.0 1903.5,973.6 1905.5,975.2 1907.5,976.5 1909.5,977.6 1911.5,978.4 1913.5,978.9 1915.5,978.9 1917.5,977.7 1919.5,974.9 1921.5,970.8 1923.5,965.6 1925.5,959.7 1927.5,953.2 1929.5,946.4 1931.5,939.4 1933.5,932.6 1935.5,926.2 1937.5,919.3 1939.5,911.7 1941.5,903.6 1943.5,894.9 1945.5,885.9 1947.5,876.5 1949.5,867.0 1951.5,857.3 1953.5,847.7 1955.5,838.1 1957.5,828.8 1959.5,819.7 1961.5,810.7 1963.5,801.2 1965.5,791.2 1967.5,781.1 1969.5,770.9 1971.5,760.9 1973.5,751.3 1975.5,742.2 1977.5,733.9 1979.5,726.6 1981.5,720.3 1983.5,714.5 1985.5,709.2 1987.5,704.3 1989.5,699.6 1991.5,695.0 1993.5,690.5 1995.5,685.9 1997.5,681.0 1999.5,675.8 2001.5,669.7 2003.5,662.1 2005.5,653.7 2007.5,645.5 2009.5,638.2 2011.5,632.8 2013.5,630.1 2015.5,630.7 2017.5,633.5 2019.5,638.4 2021.5,644.8 2023.5,652.5 2025.5,660.9 2027.5,669.8 2029.5,678.7 2031.5,687.2 2033.5,695.1 2035.5,701.8 2037.5,707.5 2039.5,713.2 2041.5,718.9 2043.5,724.3 2045.5,729.3 2047.5,733.7 2049.5,737.4 2051.5,740.4 2053.5,743.4 2055.5,746.4 2057.5,749.0 2059.5,751.2 2061.5,752.9 2063.5,753.9 2065.5,754.0 2067.5,753.1 2069.5,751.1 2071.5,748.0 2073.5,744.3 2075.5,740.0 2077.5,735.3 2079.5,730.4 2081.5,725.2 2083.5,718.5 2085.5,710.7 2087.5,701.9 2089.5,692.5 2091.5,682.6 2093.5,672.5 2095.5,662.6 2097.5,652.9 2099.5,643.7 2101.5,635.1 2103.5,626.5 2105.5,617.7 2107.5,608.3 2109.5,598.8 2111.5,589.2 2113.5,579.5 2115.5,569.5 2117.5,559.4 2119.5,549.0 2121.5,538.5 2123.5,527.7 2125.5,516.8 2127.5,505.8 2129.5,494.6 2131.5,483.4 2133.0,475.0" stroke="#e5432b"/>
<polyline points="243.0,673.0 248.0,671.8 253.0,670.7 258.0,669.6 263.0,668.4 268.0,667.3 273.0,666.2 278.0,665.1 283.0,664.0 288.0,662.9 293.0,661.9 298.0,660.8 303.0,659.9 308.0,658.9 313.0,657.9 318.0,657.0 323.0,656.2 328.0,655.3 333.0,654.6 338.0,653.8 343.0,653.1 348.0,652.4 353.0,651.8 358.0,651.3 363.0,650.8 368.0,650.3 373.0,650.0 378.0,649.6 383.0,649.4 388.0,649.2 393.0,649.1 398.0,649.0 403.0,649.0 408.0,649.1 413.0,649.3 418.0,649.5 423.0,649.8 428.0,650.2 433.0,650.6 438.0,651.1 443.0,651.7 448.0,652.3 453.0,653.0 458.0,653.8 463.0,654.6 468.0,655.5 473.0,656.4 478.0,657.4 483.0,658.4 488.0,659.5 493.0,660.7 498.0,661.9 503.0,663.1 508.0,664.4 513.0,665.7 518.0,667.1 523.0,668.5 528.0,670.0 533.0,671.5 538.0,673.0 543.0,674.6 548.0,676.3 553.0,677.9 558.0,679.6 563.0,681.3 568.0,683.1 573.0,684.9 578.0,686.7 583.0,688.6 588.0,690.5 593.0,692.5 598.0,694.4 603.0,696.5 608.0,698.5 613.0,700.6 618.0,702.8 623.0,705.0 628.0,707.2 633.0,709.5 638.0,711.8 643.0,714.2 648.0,716.6 653.0,719.1 658.0,721.6 663.0,724.2 668.0,726.9 673.0,729.5 678.0,732.3 683.0,735.1 688.0,737.9 693.0,740.8 698.0,743.8 703.0,746.8 708.0,749.9 713.0,753.0 718.0,756.2 723.0,759.5 728.0,762.8 733.0,766.1 738.0,769.5 743.0,772.9 748.0,776.4 753.0,779.9 758.0,783.4 763.0,787.0 768.0,790.6 773.0,794.2 778.0,797.9 783.0,801.5 788.0,805.2 793.0,808.9 798.0,812.7 803.0,816.4 808.0,820.2 813.0,823.9 818.0,827.7 823.0,831.5 828.0,835.2 833.0,839.0 838.0,842.8 843.0,846.6 848.0,850.3 853.0,854.1 858.0,857.8 863.0,861.5 868.0,865.2 873.0,868.9 878.0,872.6 883.0,876.2 888.0,879.9 893.0,883.5 898.0,887.1 903.0,890.6 908.0,894.2 913.0,897.7 918.0,901.2 923.0,904.7 928.0,908.2 933.0,911.6 938.0,915.1 943.0,918.5 948.0,922.0 953.0,925.4 958.0,928.8 963.0,932.2 968.0,935.6 973.0,938.9 978.0,942.3 983.0,945.7 988.0,949.0 993.0,952.4 998.0,955.7 1003.0,959.1 1008.0,962.6 1013.0,966.2 1018.0,969.7 1023.0,973.0 1028.0,975.9 1033.0,978.3 1038.0,980.5 1043.0,982.5 1045.5,983.5 1048.0,984.5 1050.5,985.6 1053.0,986.7 1055.5,987.8 1058.0,989.0 1060.5,990.1 1063.0,991.2 1065.5,992.1 1068.0,993.1 1070.5,994.1 1073.0,995.1 1075.5,996.0 1078.0,996.7 1080.5,997.1 1083.0,995.9 1085.5,992.1 1088.0,989.0 1090.5,987.3 1093.0,985.4 1095.5,983.5 1098.0,981.8 1100.5,979.8 1103.0,977.4 1105.5,974.7 1108.0,971.4 1110.5,968.2 1113.0,964.7 1115.5,960.9 1118.0,957.0 1120.5,953.0 1123.0,949.1 1125.5,945.4 1128.0,942.1 1130.5,939.3 1133.0,936.6 1135.5,934.1 1138.0,931.8 1140.5,929.7 1143.0,927.5 1145.5,925.2 1148.0,923.0 1150.5,921.5 1153.0,920.8 1155.5,920.6 1158.0,920.6 1160.5,920.8 1163.0,920.9 1165.5,921.1 1168.0,921.5 1170.5,922.1 1173.0,922.9 1175.5,923.9 1178.0,925.1 1180.5,926.5 1183.0,928.0 1185.5,929.6 1188.0,931.2 1190.5,933.0 1193.0,934.8 1195.5,936.7 1198.0,938.5 1200.5,940.4 1203.0,942.3 1205.5,944.5 1208.0,946.7 1210.5,949.2 1213.0,951.7 1215.5,954.3 1218.0,957.1 1220.5,959.8 1223.0,962.7 1225.5,965.5 1228.0,968.4 1230.5,971.2 1233.0,974.1 1235.5,976.9 1238.0,979.7 1240.5,982.5 1243.0,985.2 1245.5,988.0 1248.0,990.8 1250.5,993.7 1253.0,996.5 1255.5,999.4 1258.0,1002.3 1260.5,1005.2 1263.0,1008.3 1265.5,1011.4 1268.0,1014.6 1270.5,1017.9 1273.0,1021.2 1275.5,1024.4 1278.0,1027.7 1280.5,1030.8 1283.0,1033.9 1285.5,1036.8 1288.0,1039.6 1290.5,1042.2 1293.0,1044.6 1295.5,1046.8 1298.0,1048.7 1300.5,1050.3 1303.0,1051.7 1305.5,1052.9 1308.0,1053.9 1310.5,1054.8 1313.0,1055.5 1315.5,1056.1 1318.0,1056.5 1320.5,1056.9 1323.0,1057.2 1325.5,1057.4 1328.0,1057.6 1330.5,1057.6 1333.0,1057.7 1335.5,1057.7 1338.0,1057.7 1340.5,1057.7 1343.0,1057.7 1345.5,1057.7 1348.0,1057.8 1350.5,1057.8 1353.0,1057.9 1355.5,1058.0 1358.0,1058.2 1360.5,1058.3 1363.0,1058.5 1365.5,1058.8 1368.0,1059.1 1370.5,1059.4 1373.0,1059.7 1375.5,1060.1 1378.0,1060.6 1380.5,1061.0 1383.0,1061.6 1385.5,1062.1 1388.0,1062.7 1390.5,1063.2 1393.0,1063.8 1395.5,1064.3 1398.0,1064.8 1400.5,1065.3 1403.0,1065.8 1405.5,1066.2 1408.0,1066.7 1410.5,1067.2 1413.0,1067.6 1415.5,1068.1 1418.0,1068.5 1420.5,1068.9 1423.0,1069.4 1425.5,1069.8 1428.0,1070.3 1430.5,1070.7 1433.0,1071.1 1435.5,1071.6 1438.0,1072.0 1440.5,1072.5 1443.0,1073.0 1445.5,1073.5 1448.0,1074.0 1450.5,1074.5 1453.0,1075.0 1455.5,1075.5 1458.0,1076.1 1460.5,1076.6 1463.0,1077.1 1465.5,1077.5 1468.0,1078.0 1470.5,1078.4 1473.0,1078.9 1475.5,1079.2 1478.0,1079.6 1480.5,1079.9 1483.0,1080.1 1485.5,1080.3 1488.0,1080.5 1490.5,1080.6 1493.0,1080.6 1495.5,1080.5 1498.0,1080.1 1500.5,1079.5 1503.0,1078.8 1505.5,1077.9 1508.0,1076.9 1510.5,1075.8 1513.0,1074.8 1515.5,1073.7 1518.0,1072.3 1520.5,1070.7 1523.0,1068.8 1525.5,1066.8 1528.0,1064.7 1530.5,1062.6 1533.0,1060.6 1535.5,1058.9 1538.0,1057.2 1540.5,1055.5 1543.0,1053.9 1545.5,1052.3 1548.0,1050.7 1550.5,1049.2 1553.0,1047.7 1555.5,1046.2 1558.0,1044.9 1560.5,1043.6 1563.0,1042.4 1565.5,1041.3 1568.0,1040.0 1570.5,1038.8 1573.0,1037.3 1575.5,1035.8 1578.0,1033.9 1580.5,1031.6 1583.0,1029.1 1585.5,1025.3 1588.0,1020.8 1590.5,1018.2 1593.0,1019.1 1595.5,1021.9 1598.0,1024.4 1600.5,1026.0 1603.0,1027.4 1605.5,1028.6 1608.0,1029.4 1610.5,1030.1 1613.0,1030.8 1615.5,1031.4 1618.0,1032.0 1620.5,1032.6 1623.0,1033.1 1625.5,1033.6 1628.0,1034.0 1630.5,1034.4 1633.0,1034.8 1635.5,1035.1 1638.0,1035.4 1640.5,1035.7 1643.0,1036.0 1645.5,1036.3 1648.0,1036.6 1650.5,1036.9 1653.0,1037.2 1655.5,1037.4 1658.0,1037.7 1660.5,1037.9 1663.0,1038.1 1665.5,1038.3 1668.0,1038.4 1670.5,1038.5 1673.0,1038.6 1675.5,1038.6 1678.0,1038.5 1680.5,1038.5 1683.0,1038.4 1685.5,1038.2 1688.0,1038.0 1690.5,1037.8 1692.0,1037.4 1693.5,1036.7 1695.0,1035.8 1696.5,1034.5 1698.0,1033.1 1699.5,1031.4 1701.0,1029.1 1702.5,1024.3 1704.0,1017.4 1705.5,1008.5 1707.0,997.8 1708.5,985.5 1710.0,972.0 1711.5,955.3 1713.0,934.2 1714.5,909.3 1716.0,881.7 1717.5,849.9 1719.0,815.4 1720.5,782.2 1722.0,748.1 1723.5,713.8 1725.0,680.8 1726.5,650.5 1728.0,624.0 1729.5,602.5 1731.0,585.6 1732.5,570.5 1734.0,557.2 1735.5,546.3 1737.0,538.1 1738.5,532.8 1740.0,531.0 1741.5,531.4 1743.0,532.7 1744.5,534.6 1746.0,536.9 1747.5,539.6 1749.0,542.5 1750.5,545.3 1752.0,548.1 1753.5,550.9 1755.0,554.2 1756.5,557.7 1758.0,561.4 1759.5,565.3 1761.0,569.3 1762.5,573.3 1764.0,577.1 1765.5,580.9 1767.0,584.7 1768.5,588.7 1770.0,592.7 1771.5,596.9 1774.0,604.0 1776.5,611.2 1779.0,618.5 1781.5,625.9 1784.0,633.2 1786.5,640.6 1789.0,648.1 1791.5,655.6 1794.0,663.3 1796.5,670.9 1799.0,678.5 1801.5,686.0 1804.0,693.4 1806.5,700.7 1809.0,708.0 1811.5,715.3 1814.0,722.5 1816.5,729.6 1819.0,736.7 1821.5,743.8 1824.0,750.8 1826.5,757.7 1829.0,764.5 1831.5,771.3 1834.0,777.9 1836.5,784.6 1839.0,791.3 1841.5,798.0 1844.0,804.6 1846.5,811.1 1849.0,817.5 1851.5,823.7 1854.0,829.7 1856.5,835.5 1859.0,841.0 1861.5,846.2 1864.0,851.2 1866.5,856.0 1869.0,860.7 1871.5,865.2 1874.0,869.6 1876.5,873.9 1879.0,877.9 1881.5,881.8 1884.0,885.5 1886.5,889.1 1889.0,892.4 1891.5,895.6 1894.0,899.0 1896.5,902.3 1899.0,905.7 1901.5,908.9 1903.5,911.3 1905.5,913.5 1907.5,915.5 1909.5,917.2 1911.5,918.5 1913.5,919.5 1915.5,920.1 1917.5,919.2 1919.5,916.8 1921.5,913.1 1923.5,908.3 1925.5,902.6 1927.5,896.4 1929.5,889.9 1931.5,883.2 1933.5,876.7 1935.5,870.6 1937.5,864.0 1939.5,856.8 1941.5,849.0 1943.5,840.8 1945.5,832.3 1947.5,823.7 1949.5,815.0 1951.5,806.4 1953.5,797.9 1955.5,789.6 1957.5,781.5 1959.5,773.8 1961.5,766.0 1963.5,757.6 1965.5,748.7 1967.5,739.5 1969.5,730.2 1971.5,720.9 1973.5,711.9 1975.5,703.4 1977.5,695.7 1979.5,689.1 1981.5,683.5 1983.5,678.6 1985.5,674.2 1987.5,670.2 1989.5,666.4 1991.5,662.7 1993.5,659.0 1995.5,655.0 1997.5,650.6 1999.5,645.7 2001.5,639.6 2003.5,631.5 2005.5,622.5 2007.5,613.4 2009.5,605.4 2011.5,599.4 2013.5,596.5 2015.5,597.1 2017.5,600.2 2019.5,605.4 2021.5,612.1 2023.5,620.1 2025.5,628.8 2027.5,638.0 2029.5,647.2 2031.5,656.0 2033.5,664.0 2035.5,670.8 2037.5,676.5 2039.5,682.3 2041.5,688.0 2043.5,693.4 2045.5,698.3 2047.5,702.6 2049.5,705.9 2051.5,708.5 2053.5,711.0 2055.5,713.4 2057.5,715.5 2059.5,717.1 2061.5,718.1 2063.5,718.3 2065.5,717.7 2067.5,715.9 2069.5,713.0 2071.5,709.2 2073.5,704.6 2075.5,699.4 2077.5,693.8 2079.5,688.0 2081.5,681.7 2083.5,673.7 2085.5,664.4 2087.5,653.8 2089.5,642.4 2091.5,630.2 2093.5,617.7 2095.5,605.0 2097.5,592.4 2099.5,580.2 2101.5,568.4 2103.5,556.4 2105.5,544.1 2107.5,531.6 2109.5,518.8 2111.5,505.9 2113.5,492.8 2115.5,479.7 2117.5,466.7 2119.5,453.7 2121.5,440.8 2123.5,428.0 2125.5,415.2 2127.5,402.6 2129.5,390.0 2131.5,377.6 2133.0,368.5" stroke="#6bbd4b"/>
<polyline points="243.0,700.0 248.0,698.8 253.0,697.5 258.0,696.3 263.0,695.1 268.0,693.9 273.0,692.6 278.0,691.5 283.0,690.3 288.0,689.1 293.0,688.0 298.0,686.8 303.0,685.7 308.0,684.6 313.0,683.6 318.0,682.6 323.0,681.6 328.0,680.6 333.0,679.7 338.0,678.8 343.0,677.9 348.0,677.1 353.0,676.3 358.0,675.6 363.0,674.9 368.0,674.3 373.0,673.7 378.0,673.2 383.0,672.7 388.0,672.3 393.0,671.9 398.0,671.6 403.0,671.4 408.0,671.2 413.0,671.1 418.0,671.0 423.0,671.0 428.0,671.1 433.0,671.2 438.0,671.4 443.0,671.6 448.0,671.9 453.0,672.3 458.0,672.7 463.0,673.1 468.0,673.7 473.0,674.2 478.0,674.9 483.0,675.5 488.0,676.3 493.0,677.0 498.0,677.9 503.0,678.7 508.0,679.7 513.0,680.6 518.0,681.7 523.0,682.7 528.0,683.8 533.0,685.0 538.0,686.2 543.0,687.4 548.0,688.7 553.0,690.1 558.0,691.4 563.0,692.9 568.0,694.3 573.0,695.8 578.0,697.4 583.0,698.9 588.0,700.6 593.0,702.3 598.0,704.0 603.0,705.8 608.0,707.6 613.0,709.5 618.0,711.5 623.0,713.5 628.0,715.6 633.0,717.7 638.0,719.9 643.0,722.2 648.0,724.5 653.0,726.9 658.0,729.4 663.0,731.9 668.0,734.5 673.0,737.2 678.0,739.9 683.0,742.8 688.0,745.7 693.0,748.7 698.0,751.7 703.0,754.9 708.0,758.1 713.0,761.4 718.0,764.8 723.0,768.3 728.0,771.8 733.0,775.3 738.0,778.9 743.0,782.6 748.0,786.3 753.0,790.0 758.0,793.8 763.0,797.6 768.0,801.4 773.0,805.2 778.0,809.0 783.0,812.8 788.0,816.7 793.0,820.5 798.0,824.3 803.0,828.1 808.0,831.9 813.0,835.6 818.0,839.4 823.0,843.0 828.0,846.7 833.0,850.3 838.0,853.8 843.0,857.3 848.0,860.8 853.0,864.1 858.0,867.4 863.0,870.6 868.0,873.8 873.0,876.8 878.0,879.8 883.0,882.6 888.0,885.4 893.0,888.1 898.0,890.7 903.0,893.2 908.0,895.7 913.0,898.1 918.0,900.4 923.0,902.6 928.0,904.8 933.0,906.9 938.0,909.0 943.0,911.0 948.0,912.9 953.0,914.8 958.0,916.7 963.0,918.5 968.0,920.2 973.0,922.0 978.0,923.7 983.0,925.3 988.0,927.0 993.0,928.6 998.0,930.2 1003.0,931.7 1008.0,932.9 1013.0,934.1 1018.0,935.4 1023.0,937.1 1028.0,939.1 1033.0,941.3 1038.0,943.6 1043.0,945.8 1045.5,946.8 1048.0,948.0 1050.5,949.2 1053.0,950.4 1055.5,951.8 1058.0,953.1 1060.5,954.5 1063.0,955.8 1065.5,957.0 1068.0,958.2 1070.5,959.4 1073.0,960.7 1075.5,961.8 1078.0,962.8 1080.5,963.5 1083.0,962.6 1085.5,959.4 1088.0,956.9 1090.5,956.0 1093.0,954.9 1095.5,953.6 1098.0,952.5 1100.5,950.8 1103.0,948.7 1105.5,946.1 1108.0,942.9 1110.5,939.7 1113.0,936.1 1115.5,932.1 1118.0,927.8 1120.5,923.4 1123.0,919.1 1125.5,915.1 1128.0,911.4 1130.5,908.3 1133.0,905.3 1135.5,902.4 1138.0,899.8 1140.5,897.3 1143.0,894.7 1145.5,892.0 1148.0,889.4 1150.5,887.6 1153.0,886.8 1155.5,886.2 1158.0,885.7 1160.5,885.2 1163.0,884.9 1165.5,884.7 1168.0,884.7 1170.5,885.1 1173.0,885.7 1175.5,886.6 1178.0,887.8 1180.5,889.1 1183.0,890.6 1185.5,892.3 1188.0,894.0 1190.5,895.9 1193.0,897.8 1195.5,899.7 1198.0,901.5 1200.5,903.4 1203.0,905.3 1205.5,907.3 1208.0,909.4 1210.5,911.6 1213.0,913.9 1215.5,916.2 1218.0,918.6 1220.5,921.0 1223.0,923.5 1225.5,925.9 1228.0,928.3 1230.5,930.8 1233.0,933.1 1235.5,935.5 1238.0,937.9 1240.5,940.3 1243.0,942.6 1245.5,945.0 1248.0,947.4 1250.5,949.8 1253.0,952.3 1255.5,954.7 1258.0,957.3 1260.5,959.8 1263.0,962.5 1265.5,965.2 1268.0,968.1 1270.5,971.0 1273.0,973.9 1275.5,976.8 1278.0,979.8 1280.5,982.7 1283.0,985.6 1285.5,988.3 1288.0,991.0 1290.5,993.6 1293.0,996.1 1295.5,998.4 1298.0,1000.5 1300.5,1002.4 1303.0,1004.1 1305.5,1005.8 1308.0,1007.3 1310.5,1008.7 1313.0,1010.0 1315.5,1011.3 1318.0,1012.4 1320.5,1013.5 1323.0,1014.5 1325.5,1015.5 1328.0,1016.4 1330.5,1017.3 1333.0,1018.1 1335.5,1018.9 1338.0,1019.7 1340.5,1020.4 1343.0,1021.2 1345.5,1021.9 1348.0,1022.7 1350.5,1023.5 1353.0,1024.3 1355.5,1025.1 1358.0,1025.8 1360.5,1026.6 1363.0,1027.4 1365.5,1028.2 1368.0,1029.0 1370.5,1029.8 1373.0,1030.5 1375.5,1031.3 1378.0,1032.1 1380.5,1032.8 1383.0,1033.5 1385.5,1034.1 1388.0,1034.8 1390.5,1035.4 1393.0,1036.1 1395.5,1036.7 1398.0,1037.3 1400.5,1038.0 1403.0,1038.6 1405.5,1039.2 1408.0,1039.8 1410.5,1040.4 1413.0,1041.1 1415.5,1041.7 1418.0,1042.4 1420.5,1043.0 1423.0,1043.7 1425.5,1044.3 1428.0,1045.0 1430.5,1045.6 1433.0,1046.3 1435.5,1047.0 1438.0,1047.7 1440.5,1048.4 1443.0,1049.1 1445.5,1049.8 1448.0,1050.6 1450.5,1051.3 1453.0,1052.1 1455.5,1052.8 1458.0,1053.6 1460.5,1054.3 1463.0,1055.0 1465.5,1055.7 1468.0,1056.4 1470.5,1057.0 1473.0,1057.6 1475.5,1058.1 1478.0,1058.6 1480.5,1059.0 1483.0,1059.3 1485.5,1059.6 1488.0,1059.8 1490.5,1060.0 1493.0,1060.0 1495.5,1059.8 1498.0,1059.4 1500.5,1058.7 1503.0,1057.9 1505.5,1056.8 1508.0,1055.7 1510.5,1054.5 1513.0,1053.3 1515.5,1052.1 1518.0,1050.7 1520.5,1049.0 1523.0,1047.1 1525.5,1045.1 1528.0,1043.0 1530.5,1040.9 1533.0,1038.9 1535.5,1037.0 1538.0,1035.2 1540.5,1033.4 1543.0,1031.5 1545.5,1029.7 1548.0,1027.9 1550.5,1026.1 1553.0,1024.3 1555.5,1022.7 1558.0,1021.1 1560.5,1019.6 1563.0,1018.1 1565.5,1016.7 1568.0,1015.2 1570.5,1013.7 1573.0,1012.1 1575.5,1010.3 1578.0,1008.3 1580.5,1006.1 1583.0,1003.6 1585.5,999.8 1588.0,995.4 1590.5,992.7 1593.0,993.6 1595.5,996.3 1598.0,998.7 1600.5,1000.4 1603.0,1001.8 1605.5,1003.1 1608.0,1004.0 1610.5,1004.8 1613.0,1005.6 1615.5,1006.3 1618.0,1006.9 1620.5,1007.5 1623.0,1008.1 1625.5,1008.6 1628.0,1009.1 1630.5,1009.6 1633.0,1010.0 1635.5,1010.4 1638.0,1010.8 1640.5,1011.2 1643.0,1011.6 1645.5,1012.0 1648.0,1012.4 1650.5,1012.9 1653.0,1013.3 1655.5,1013.6 1658.0,1014.0 1660.5,1014.4 1663.0,1014.7 1665.5,1015.0 1668.0,1015.2 1670.5,1015.4 1673.0,1015.6 1675.5,1015.7 1678.0,1015.7 1680.5,1015.7 1683.0,1015.7 1685.5,1015.7 1688.0,1015.6 1690.5,1015.5 1692.0,1015.2 1693.5,1014.4 1695.0,1013.3 1696.5,1012.0 1698.0,1010.3 1699.5,1008.5 1701.0,1005.9 1702.5,1001.1 1704.0,994.0 1705.5,985.1 1707.0,974.5 1708.5,962.5 1710.0,949.1 1711.5,930.8 1713.0,907.4 1714.5,880.1 1716.0,850.2 1717.5,819.0 1719.0,788.4 1720.5,759.5 1722.0,730.1 1723.5,700.4 1725.0,671.7 1726.5,645.3 1728.0,622.3 1729.5,603.7 1731.0,589.3 1732.5,576.2 1734.0,564.6 1735.5,554.9 1737.0,547.4 1738.5,542.7 1740.0,541.0 1741.5,541.5 1743.0,542.8 1744.5,544.8 1746.0,547.4 1747.5,550.2 1749.0,553.3 1750.5,556.4 1752.0,559.3 1753.5,562.2 1755.0,565.6 1756.5,569.2 1758.0,573.1 1759.5,577.0 1761.0,581.1 1762.5,585.1 1764.0,589.0 1765.5,592.7 1767.0,596.5 1768.5,600.3 1770.0,604.2 1771.5,608.2 1774.0,615.0 1776.5,621.9 1779.0,628.9 1781.5,635.8 1784.0,642.8 1786.5,649.7 1789.0,656.8 1791.5,664.0 1794.0,671.2 1796.5,678.3 1799.0,685.5 1801.5,692.5 1804.0,699.4 1806.5,706.2 1809.0,713.0 1811.5,719.7 1814.0,726.5 1816.5,733.1 1819.0,739.7 1821.5,746.3 1824.0,752.8 1826.5,759.2 1829.0,765.6 1831.5,771.8 1834.0,778.0 1836.5,784.2 1839.0,790.4 1841.5,796.7 1844.0,802.8 1846.5,808.9 1849.0,814.9 1851.5,820.7 1854.0,826.4 1856.5,831.8 1859.0,837.0 1861.5,841.9 1864.0,846.5 1866.5,851.0 1869.0,855.4 1871.5,859.7 1874.0,863.9 1876.5,867.9 1879.0,871.7 1881.5,875.4 1884.0,878.9 1886.5,882.2 1889.0,885.4 1891.5,888.4 1894.0,891.5 1896.5,894.7 1899.0,897.8 1901.5,900.9 1903.5,903.1 1905.5,905.2 1907.5,907.0 1909.5,908.6 1911.5,909.8 1913.5,910.6 1915.5,911.0 1917.5,910.1 1919.5,907.6 1921.5,903.9 1923.5,899.2 1925.5,893.7 1927.5,887.6 1929.5,881.2 1931.5,874.7 1933.5,868.4 1935.5,862.4 1937.5,856.0 1939.5,848.7 1941.5,840.9 1943.5,832.6 1945.5,824.1 1947.5,815.6 1949.5,807.0 1951.5,798.6 1953.5,790.5 1955.5,782.7 1957.5,775.3 1959.5,768.2 1961.5,761.3 1963.5,753.8 1965.5,745.7 1967.5,737.4 1969.5,728.8 1971.5,720.3 1973.5,712.0 1975.5,704.2 1977.5,697.2 1979.5,691.1 1981.5,686.2 1983.5,681.9 1985.5,678.2 1987.5,674.8 1989.5,671.6 1991.5,668.6 1993.5,665.4 1995.5,662.0 1997.5,657.8 1999.5,653.0 2001.5,647.0 2003.5,639.2 2005.5,630.3 2007.5,621.5 2009.5,613.8 2011.5,608.0 2013.5,605.1 2015.5,605.8 2017.5,608.9 2019.5,614.1 2021.5,621.0 2023.5,629.2 2025.5,638.3 2027.5,647.8 2029.5,657.3 2031.5,666.5 2033.5,675.0 2035.5,682.4 2037.5,688.7 2039.5,695.1 2041.5,701.4 2043.5,707.4 2045.5,713.0 2047.5,717.9 2049.5,722.0 2051.5,725.4 2053.5,728.8 2055.5,732.1 2057.5,735.1 2059.5,737.6 2061.5,739.6 2063.5,740.9 2065.5,741.4 2067.5,740.8 2069.5,739.1 2071.5,736.5 2073.5,733.1 2075.5,729.1 2077.5,724.6 2079.5,720.0 2081.5,714.9 2083.5,708.4 2085.5,700.7 2087.5,692.1 2089.5,682.7 2091.5,672.7 2093.5,662.5 2095.5,652.2 2097.5,642.1 2099.5,632.4 2101.5,623.1 2103.5,613.9 2105.5,604.6 2107.5,595.1 2109.5,585.6 2111.5,575.8 2113.5,566.0 2115.5,555.9 2117.5,545.6 2119.5,535.2 2121.5,524.5 2123.5,513.6 2125.5,502.6 2127.5,491.3 2129.5,480.0 2131.5,468.6 2133.0,460.0" stroke="#121212"/>
<polyline points="243.0,704.0 248.0,702.9 253.0,701.8 258.0,700.7 263.0,699.7 268.0,698.6 273.0,697.5 278.0,696.5 283.0,695.4 288.0,694.4 293.0,693.4 298.0,692.4 303.0,691.4 308.0,690.4 313.0,689.5 318.0,688.5 323.0,687.6 328.0,686.8 333.0,685.9 338.0,685.1 343.0,684.3 348.0,683.6 353.0,682.8 358.0,682.2 363.0,681.5 368.0,680.9 373.0,680.3 378.0,679.8 383.0,679.3 388.0,678.9 393.0,678.5 398.0,678.1 403.0,677.8 408.0,677.6 413.0,677.4 418.0,677.2 423.0,677.2 428.0,677.1 433.0,677.1 438.0,677.2 443.0,677.4 448.0,677.6 453.0,677.8 458.0,678.1 463.0,678.5 468.0,679.0 473.0,679.5 478.0,680.1 483.0,680.7 488.0,681.4 493.0,682.2 498.0,683.1 503.0,684.0 508.0,685.0 513.0,686.1 518.0,687.2 523.0,688.4 528.0,689.7 533.0,691.1 538.0,692.6 543.0,694.1 548.0,695.8 553.0,697.5 558.0,699.3 563.0,701.1 568.0,703.1 573.0,705.1 578.0,707.3 583.0,709.5 588.0,711.7 593.0,714.1 598.0,716.5 603.0,718.9 608.0,721.5 613.0,724.1 618.0,726.7 623.0,729.4 628.0,732.1 633.0,734.9 638.0,737.8 643.0,740.7 648.0,743.6 653.0,746.5 658.0,749.5 663.0,752.6 668.0,755.6 673.0,758.7 678.0,761.8 683.0,764.9 688.0,768.0 693.0,771.2 698.0,774.3 703.0,777.5 708.0,780.7 713.0,783.9 718.0,787.0 723.0,790.2 728.0,793.4 733.0,796.6 738.0,799.8 743.0,803.0 748.0,806.3 753.0,809.5 758.0,812.7 763.0,815.9 768.0,819.1 773.0,822.4 778.0,825.6 783.0,828.8 788.0,832.0 793.0,835.3 798.0,838.5 803.0,841.7 808.0,845.0 813.0,848.2 818.0,851.4 823.0,854.7 828.0,857.9 833.0,861.1 838.0,864.3 843.0,867.5 848.0,870.7 853.0,873.9 858.0,877.1 863.0,880.3 868.0,883.5 873.0,886.7 878.0,889.9 883.0,893.1 888.0,896.3 893.0,899.4 898.0,902.6 903.0,905.7 908.0,908.9 913.0,912.0 918.0,915.2 923.0,918.3 928.0,921.4 933.0,924.6 938.0,927.7 943.0,930.8 948.0,933.9 953.0,937.0 958.0,940.1 963.0,943.2 968.0,946.3 973.0,949.4 978.0,952.5 983.0,955.6 988.0,958.7 993.0,961.8 998.0,964.9 1003.0,968.0 1008.0,971.3 1013.0,974.6 1018.0,977.8 1023.0,980.9 1028.0,983.7 1033.0,986.0 1038.0,988.2 1043.0,990.3 1045.5,991.3 1048.0,992.3 1050.5,993.4 1053.0,994.5 1055.5,995.6 1058.0,996.8 1060.5,998.0 1063.0,999.0 1065.5,1000.0 1068.0,1000.9 1070.5,1002.0 1073.0,1002.9 1075.5,1003.8 1078.0,1004.5 1080.5,1005.0 1083.0,1004.0 1085.5,1000.7 1088.0,997.8 1090.5,995.9 1093.0,993.9 1095.5,991.9 1098.0,990.1 1100.5,987.9 1103.0,985.5 1105.5,982.7 1108.0,979.4 1110.5,976.2 1113.0,972.8 1115.5,969.1 1118.0,965.3 1120.5,961.4 1123.0,957.7 1125.5,954.2 1128.0,951.0 1130.5,948.3 1133.0,945.8 1135.5,943.4 1138.0,941.2 1140.5,939.2 1143.0,937.0 1145.5,934.9 1148.0,932.8 1150.5,931.4 1153.0,930.9 1155.5,930.7 1158.0,930.7 1160.5,930.8 1163.0,930.9 1165.5,930.9 1168.0,931.0 1170.5,931.3 1173.0,931.8 1175.5,932.4 1178.0,933.2 1180.5,934.1 1183.0,935.2 1185.5,936.4 1188.0,937.7 1190.5,939.2 1193.0,940.8 1195.5,942.4 1198.0,944.2 1200.5,946.0 1203.0,947.9 1205.5,950.1 1208.0,952.4 1210.5,954.8 1213.0,957.4 1215.5,960.0 1218.0,962.8 1220.5,965.6 1223.0,968.4 1225.5,971.3 1228.0,974.2 1230.5,977.0 1233.0,979.9 1235.5,982.7 1238.0,985.5 1240.5,988.3 1243.0,991.1 1245.5,993.9 1248.0,996.8 1250.5,999.6 1253.0,1002.4 1255.5,1005.3 1258.0,1008.2 1260.5,1011.2 1263.0,1014.3 1265.5,1017.4 1268.0,1020.7 1270.5,1023.9 1273.0,1027.2 1275.5,1030.5 1278.0,1033.8 1280.5,1036.9 1283.0,1040.0 1285.5,1042.9 1288.0,1045.7 1290.5,1048.3 1293.0,1050.7 1295.5,1052.8 1298.0,1054.7 1300.5,1056.3 1303.0,1057.6 1305.5,1058.8 1308.0,1059.8 1310.5,1060.6 1313.0,1061.3 1315.5,1061.9 1318.0,1062.3 1320.5,1062.7 1323.0,1062.9 1325.5,1063.1 1328.0,1063.3 1330.5,1063.3 1333.0,1063.4 1335.5,1063.4 1338.0,1063.4 1340.5,1063.4 1343.0,1063.4 1345.5,1063.4 1348.0,1063.4 1350.5,1063.5 1353.0,1063.6 1355.5,1063.7 1358.0,1063.8 1360.5,1064.0 1363.0,1064.2 1365.5,1064.4 1368.0,1064.7 1370.5,1065.0 1373.0,1065.3 1375.5,1065.7 1378.0,1066.1 1380.5,1066.6 1383.0,1067.1 1385.5,1067.6 1388.0,1068.2 1390.5,1068.7 1393.0,1069.2 1395.5,1069.7 1398.0,1070.2 1400.5,1070.7 1403.0,1071.2 1405.5,1071.7 1408.0,1072.1 1410.5,1072.6 1413.0,1073.0 1415.5,1073.5 1418.0,1073.9 1420.5,1074.4 1423.0,1074.8 1425.5,1075.3 1428.0,1075.7 1430.5,1076.2 1433.0,1076.6 1435.5,1077.1 1438.0,1077.5 1440.5,1078.0 1443.0,1078.4 1445.5,1078.9 1448.0,1079.4 1450.5,1080.0 1453.0,1080.5 1455.5,1081.0 1458.0,1081.5 1460.5,1082.0 1463.0,1082.5 1465.5,1083.0 1468.0,1083.4 1470.5,1083.9 1473.0,1084.3 1475.5,1084.6 1478.0,1085.0 1480.5,1085.3 1483.0,1085.5 1485.5,1085.7 1488.0,1085.9 1490.5,1086.0 1493.0,1086.0 1495.5,1085.9 1498.0,1085.5 1500.5,1085.0 1503.0,1084.2 1505.5,1083.4 1508.0,1082.4 1510.5,1081.4 1513.0,1080.4 1515.5,1079.3 1518.0,1078.0 1520.5,1076.4 1523.0,1074.5 1525.5,1072.4 1528.0,1070.3 1530.5,1068.3 1533.0,1066.3 1535.5,1064.6 1538.0,1063.0 1540.5,1061.4 1543.0,1059.8 1545.5,1058.2 1548.0,1056.7 1550.5,1055.2 1553.0,1053.8 1555.5,1052.4 1558.0,1051.1 1560.5,1049.9 1563.0,1048.8 1565.5,1047.7 1568.0,1046.5 1570.5,1045.3 1573.0,1044.0 1575.5,1042.4 1578.0,1040.6 1580.5,1038.3 1583.0,1035.8 1585.5,1031.9 1588.0,1027.5 1590.5,1024.9 1593.0,1025.8 1595.5,1028.6 1598.0,1031.2 1600.5,1032.7 1603.0,1034.1 1605.5,1035.2 1608.0,1036.1 1610.5,1036.8 1613.0,1037.4 1615.5,1038.0 1618.0,1038.6 1620.5,1039.1 1623.0,1039.6 1625.5,1040.1 1628.0,1040.5 1630.5,1040.9 1633.0,1041.3 1635.5,1041.6 1638.0,1041.9 1640.5,1042.2 1643.0,1042.4 1645.5,1042.7 1648.0,1042.9 1650.5,1043.2 1653.0,1043.4 1655.5,1043.7 1658.0,1043.9 1660.5,1044.0 1663.0,1044.2 1665.5,1044.4 1668.0,1044.5 1670.5,1044.5 1673.0,1044.6 1675.5,1044.6 1678.0,1044.5 1680.5,1044.4 1683.0,1044.3 1685.5,1044.1 1688.0,1043.9 1690.5,1043.6 1692.0,1043.2 1693.5,1042.6 1695.0,1041.6 1696.5,1040.5 1698.0,1039.1 1699.5,1037.5 1701.0,1035.3 1702.5,1031.4 1704.0,1026.0 1705.5,1019.2 1707.0,1011.3 1708.5,1002.6 1710.0,993.3 1711.5,981.9 1713.0,967.2 1714.5,950.0 1716.0,931.2 1717.5,911.7 1719.0,892.2 1720.5,873.4 1722.0,853.0 1723.5,831.1 1725.0,809.0 1726.5,787.7 1728.0,768.6 1729.5,752.7 1731.0,740.1 1732.5,727.8 1734.0,716.1 1735.5,705.7 1737.0,697.5 1738.5,692.0 1740.0,690.0 1741.5,690.8 1743.0,693.0 1744.5,696.4 1746.0,700.5 1747.5,705.2 1749.0,710.1 1750.5,714.9 1752.0,719.4 1753.5,723.8 1755.0,728.5 1756.5,733.5 1758.0,738.6 1759.5,743.8 1761.0,748.9 1762.5,753.8 1764.0,758.4 1765.5,762.6 1767.0,766.6 1768.5,770.5 1770.0,774.3 1771.5,777.9 1774.0,783.9 1776.5,789.6 1779.0,795.2 1781.5,800.7 1784.0,806.3 1786.5,811.9 1789.0,817.4 1791.5,822.8 1794.0,828.2 1796.5,833.5 1799.0,838.7 1801.5,843.8 1804.0,848.8 1806.5,853.8 1809.0,858.7 1811.5,863.6 1814.0,868.4 1816.5,873.1 1819.0,877.8 1821.5,882.4 1824.0,887.0 1826.5,891.4 1829.0,895.7 1831.5,900.0 1834.0,904.1 1836.5,908.2 1839.0,912.3 1841.5,916.3 1844.0,920.3 1846.5,924.2 1849.0,928.0 1851.5,931.7 1854.0,935.2 1856.5,938.7 1859.0,941.9 1861.5,945.0 1864.0,947.9 1866.5,950.7 1869.0,953.4 1871.5,956.1 1874.0,958.6 1876.5,961.1 1879.0,963.5 1881.5,965.8 1884.0,968.0 1886.5,970.2 1889.0,972.3 1891.5,974.4 1894.0,976.7 1896.5,979.1 1899.0,981.4 1901.5,983.7 1903.5,985.5 1905.5,987.0 1907.5,988.4 1909.5,989.5 1911.5,990.4 1913.5,990.9 1915.5,991.0 1917.5,989.8 1919.5,987.1 1921.5,983.3 1923.5,978.5 1925.5,972.9 1927.5,966.7 1929.5,960.3 1931.5,953.7 1933.5,947.2 1935.5,941.0 1937.5,934.2 1939.5,926.5 1941.5,918.0 1943.5,908.9 1945.5,899.4 1947.5,889.4 1949.5,879.3 1951.5,869.1 1953.5,859.0 1955.5,849.1 1957.5,839.5 1959.5,830.5 1961.5,821.8 1963.5,812.7 1965.5,803.4 1967.5,794.0 1969.5,784.7 1971.5,775.5 1973.5,766.8 1975.5,758.5 1977.5,750.9 1979.5,744.0 1981.5,738.0 1983.5,732.5 1985.5,727.3 1987.5,722.4 1989.5,717.8 1991.5,713.2 1993.5,708.8 1995.5,704.3 1997.5,699.6 1999.5,694.8 2001.5,689.3 2003.5,682.6 2005.5,675.2 2007.5,668.1 2009.5,661.8 2011.5,657.1 2013.5,654.9 2015.5,655.5 2017.5,658.3 2019.5,663.0 2021.5,669.2 2023.5,676.6 2025.5,684.7 2027.5,693.2 2029.5,701.8 2031.5,710.0 2033.5,717.5 2035.5,723.9 2037.5,729.4 2039.5,734.9 2041.5,740.2 2043.5,745.3 2045.5,750.1 2047.5,754.3 2049.5,757.9 2051.5,760.9 2053.5,764.0 2055.5,767.0 2057.5,769.8 2059.5,772.2 2061.5,774.0 2063.5,775.1 2065.5,775.3 2067.5,774.5 2069.5,772.6 2071.5,769.6 2073.5,765.9 2075.5,761.6 2077.5,757.0 2079.5,752.1 2081.5,746.8 2083.5,740.0 2085.5,731.8 2087.5,722.6 2089.5,712.7 2091.5,702.3 2093.5,691.8 2095.5,681.5 2097.5,671.5 2099.5,662.2 2101.5,653.6 2103.5,645.1 2105.5,636.6 2107.5,628.2 2109.5,619.9 2111.5,611.5 2113.5,603.2 2115.5,594.8 2117.5,586.3 2119.5,577.8 2121.5,569.0 2123.5,560.1 2125.5,550.9 2127.5,541.6 2129.5,532.1 2131.5,522.4 2133.0,515.0" stroke="#e63b7a"/>
<polyline points="243.0,716.0 248.0,714.7 253.0,713.4 258.0,712.0 263.0,710.7 268.0,709.4 273.0,708.1 278.0,706.9 283.0,705.6 288.0,704.3 293.0,703.1 298.0,701.9 303.0,700.7 308.0,699.6 313.0,698.5 318.0,697.4 323.0,696.3 328.0,695.3 333.0,694.3 338.0,693.4 343.0,692.5 348.0,691.6 353.0,690.8 358.0,690.1 363.0,689.4 368.0,688.7 373.0,688.1 378.0,687.6 383.0,687.1 388.0,686.7 393.0,686.4 398.0,686.1 403.0,685.9 408.0,685.7 413.0,685.7 418.0,685.7 423.0,685.7 428.0,685.9 433.0,686.1 438.0,686.3 443.0,686.7 448.0,687.0 453.0,687.5 458.0,688.0 463.0,688.6 468.0,689.2 473.0,689.9 478.0,690.6 483.0,691.4 488.0,692.2 493.0,693.1 498.0,694.1 503.0,695.1 508.0,696.1 513.0,697.2 518.0,698.4 523.0,699.5 528.0,700.8 533.0,702.1 538.0,703.4 543.0,704.8 548.0,706.2 553.0,707.6 558.0,709.1 563.0,710.6 568.0,712.2 573.0,713.8 578.0,715.4 583.0,717.1 588.0,718.8 593.0,720.6 598.0,722.4 603.0,724.2 608.0,726.1 613.0,728.1 618.0,730.0 623.0,732.1 628.0,734.1 633.0,736.2 638.0,738.4 643.0,740.6 648.0,742.8 653.0,745.1 658.0,747.4 663.0,749.8 668.0,752.3 673.0,754.7 678.0,757.3 683.0,759.8 688.0,762.5 693.0,765.2 698.0,767.9 703.0,770.7 708.0,773.5 713.0,776.4 718.0,779.3 723.0,782.3 728.0,785.3 733.0,788.3 738.0,791.4 743.0,794.6 748.0,797.7 753.0,800.9 758.0,804.1 763.0,807.3 768.0,810.6 773.0,813.8 778.0,817.1 783.0,820.4 788.0,823.7 793.0,827.0 798.0,830.3 803.0,833.6 808.0,837.0 813.0,840.3 818.0,843.6 823.0,846.9 828.0,850.2 833.0,853.5 838.0,856.8 843.0,860.1 848.0,863.3 853.0,866.5 858.0,869.7 863.0,872.9 868.0,876.0 873.0,879.2 878.0,882.2 883.0,885.3 888.0,888.3 893.0,891.3 898.0,894.2 903.0,897.2 908.0,900.1 913.0,902.9 918.0,905.8 923.0,908.6 928.0,911.4 933.0,914.2 938.0,916.9 943.0,919.6 948.0,922.3 953.0,925.0 958.0,927.7 963.0,930.4 968.0,933.0 973.0,935.6 978.0,938.3 983.0,940.9 988.0,943.5 993.0,946.0 998.0,948.6 1003.0,951.2 1008.0,953.8 1013.0,956.3 1018.0,959.0 1023.0,961.5 1028.0,964.0 1033.0,966.2 1038.0,968.3 1043.0,970.2 1045.5,971.1 1048.0,972.1 1050.5,973.1 1053.0,974.2 1055.5,975.3 1058.0,976.4 1060.5,977.5 1063.0,978.6 1065.5,979.5 1068.0,980.5 1070.5,981.4 1073.0,982.4 1075.5,983.3 1078.0,984.0 1080.5,984.4 1083.0,983.4 1085.5,980.3 1088.0,977.6 1090.5,976.1 1093.0,974.3 1095.5,972.6 1098.0,970.9 1100.5,968.8 1103.0,966.3 1105.5,963.4 1108.0,960.0 1110.5,956.7 1113.0,953.0 1115.5,949.0 1118.0,944.8 1120.5,940.5 1123.0,936.3 1125.5,932.3 1128.0,928.7 1130.5,925.6 1133.0,922.6 1135.5,919.9 1138.0,917.3 1140.5,914.9 1143.0,912.3 1145.5,909.7 1148.0,907.3 1150.5,905.6 1153.0,904.8 1155.5,904.4 1158.0,904.2 1160.5,904.1 1163.0,904.1 1165.5,904.3 1168.0,904.6 1170.5,905.3 1173.0,906.2 1175.5,907.4 1178.0,908.8 1180.5,910.3 1183.0,912.0 1185.5,913.8 1188.0,915.7 1190.5,917.7 1193.0,919.6 1195.5,921.6 1198.0,923.5 1200.5,925.4 1203.0,927.3 1205.5,929.4 1208.0,931.6 1210.5,933.9 1213.0,936.3 1215.5,938.8 1218.0,941.4 1220.5,944.0 1223.0,946.7 1225.5,949.4 1228.0,952.0 1230.5,954.7 1233.0,957.3 1235.5,959.9 1238.0,962.5 1240.5,965.1 1243.0,967.7 1245.5,970.3 1248.0,972.9 1250.5,975.6 1253.0,978.2 1255.5,980.9 1258.0,983.7 1260.5,986.4 1263.0,989.3 1265.5,992.3 1268.0,995.3 1270.5,998.4 1273.0,1001.5 1275.5,1004.7 1278.0,1007.8 1280.5,1010.8 1283.0,1013.8 1285.5,1016.6 1288.0,1019.4 1290.5,1022.0 1293.0,1024.4 1295.5,1026.6 1298.0,1028.6 1300.5,1030.3 1303.0,1031.9 1305.5,1033.3 1308.0,1034.6 1310.5,1035.7 1313.0,1036.7 1315.5,1037.7 1318.0,1038.5 1320.5,1039.3 1323.0,1040.0 1325.5,1040.6 1328.0,1041.2 1330.5,1041.7 1333.0,1042.2 1335.5,1042.7 1338.0,1043.1 1340.5,1043.6 1343.0,1044.0 1345.5,1044.4 1348.0,1044.9 1350.5,1045.4 1353.0,1045.9 1355.5,1046.4 1358.0,1046.9 1360.5,1047.4 1363.0,1047.9 1365.5,1048.5 1368.0,1049.0 1370.5,1049.6 1373.0,1050.2 1375.5,1050.7 1378.0,1051.3 1380.5,1051.9 1383.0,1052.5 1385.5,1053.1 1388.0,1053.7 1390.5,1054.3 1393.0,1054.8 1395.5,1055.3 1398.0,1055.8 1400.5,1056.3 1403.0,1056.8 1405.5,1057.3 1408.0,1057.7 1410.5,1058.2 1413.0,1058.6 1415.5,1059.0 1418.0,1059.4 1420.5,1059.8 1423.0,1060.2 1425.5,1060.7 1428.0,1061.1 1430.5,1061.5 1433.0,1061.9 1435.5,1062.3 1438.0,1062.7 1440.5,1063.1 1443.0,1063.6 1445.5,1064.1 1448.0,1064.5 1450.5,1065.0 1453.0,1065.5 1455.5,1066.0 1458.0,1066.5 1460.5,1067.0 1463.0,1067.5 1465.5,1068.0 1468.0,1068.4 1470.5,1068.9 1473.0,1069.3 1475.5,1069.6 1478.0,1070.0 1480.5,1070.3 1483.0,1070.5 1485.5,1070.7 1488.0,1070.9 1490.5,1071.0 1493.0,1071.0 1495.5,1070.9 1498.0,1070.5 1500.5,1069.8 1503.0,1069.0 1505.5,1068.1 1508.0,1067.0 1510.5,1065.9 1513.0,1064.8 1515.5,1063.6 1518.0,1062.2 1520.5,1060.6 1523.0,1058.7 1525.5,1056.7 1528.0,1054.6 1530.5,1052.5 1533.0,1050.5 1535.5,1048.7 1538.0,1047.0 1540.5,1045.2 1543.0,1043.5 1545.5,1041.7 1548.0,1040.1 1550.5,1038.4 1553.0,1036.8 1555.5,1035.2 1558.0,1033.8 1560.5,1032.4 1563.0,1031.1 1565.5,1029.8 1568.0,1028.5 1570.5,1027.1 1573.0,1025.6 1575.5,1023.9 1578.0,1022.0 1580.5,1019.8 1583.0,1017.2 1585.5,1013.4 1588.0,1009.0 1590.5,1006.3 1593.0,1007.2 1595.5,1009.9 1598.0,1012.4 1600.5,1014.1 1603.0,1015.5 1605.5,1016.7 1608.0,1017.6 1610.5,1018.3 1613.0,1019.0 1615.5,1019.7 1618.0,1020.3 1620.5,1020.9 1623.0,1021.4 1625.5,1021.9 1628.0,1022.4 1630.5,1022.8 1633.0,1023.2 1635.5,1023.6 1638.0,1024.0 1640.5,1024.3 1643.0,1024.7 1645.5,1025.0 1648.0,1025.3 1650.5,1025.7 1653.0,1026.0 1655.5,1026.3 1658.0,1026.6 1660.5,1026.9 1663.0,1027.2 1665.5,1027.4 1668.0,1027.6 1670.5,1027.8 1673.0,1027.9 1675.5,1027.9 1678.0,1027.9 1680.5,1027.9 1683.0,1027.8 1685.5,1027.7 1688.0,1027.6 1690.5,1027.4 1692.0,1027.0 1693.5,1026.3 1695.0,1025.3 1696.5,1024.0 1698.0,1022.5 1699.5,1020.7 1701.0,1018.3 1702.5,1013.9 1704.0,1007.5 1705.5,999.5 1707.0,990.1 1708.5,979.5 1710.0,968.1 1711.5,953.9 1713.0,935.8 1714.5,914.6 1716.0,891.2 1717.5,866.7 1719.0,842.1 1720.5,818.3 1722.0,792.6 1723.5,764.7 1725.0,736.4 1726.5,709.8 1728.0,686.4 1729.5,667.4 1731.0,652.7 1732.5,639.0 1734.0,626.5 1735.5,615.8 1737.0,607.5 1738.5,602.0 1740.0,600.0 1741.5,600.6 1743.0,602.5 1744.5,605.4 1746.0,609.0 1747.5,613.1 1749.0,617.5 1750.5,621.8 1752.0,625.8 1753.5,629.8 1755.0,634.2 1756.5,638.9 1758.0,643.8 1759.5,648.8 1761.0,653.7 1762.5,658.5 1764.0,663.1 1765.5,667.3 1767.0,671.4 1768.5,675.4 1770.0,679.4 1771.5,683.3 1774.0,689.7 1776.5,696.1 1779.0,702.4 1781.5,708.7 1784.0,715.0 1786.5,721.4 1789.0,727.9 1791.5,734.4 1794.0,740.8 1796.5,747.2 1799.0,753.5 1801.5,759.7 1804.0,765.8 1806.5,771.7 1809.0,777.6 1811.5,783.5 1814.0,789.3 1816.5,795.0 1819.0,800.7 1821.5,806.3 1824.0,811.8 1826.5,817.2 1829.0,822.5 1831.5,827.6 1834.0,832.7 1836.5,837.7 1839.0,842.7 1841.5,847.7 1844.0,852.7 1846.5,857.5 1849.0,862.2 1851.5,866.8 1854.0,871.2 1856.5,875.4 1859.0,879.4 1861.5,883.2 1864.0,886.7 1866.5,890.1 1869.0,893.4 1871.5,896.5 1874.0,899.6 1876.5,902.5 1879.0,905.4 1881.5,908.1 1884.0,910.7 1886.5,913.1 1889.0,915.5 1891.5,917.8 1894.0,920.2 1896.5,922.7 1899.0,925.2 1901.5,927.6 1903.5,929.4 1905.5,931.0 1907.5,932.4 1909.5,933.5 1911.5,934.4 1913.5,934.9 1915.5,934.9 1917.5,933.6 1919.5,930.8 1921.5,926.6 1923.5,921.4 1925.5,915.4 1927.5,908.8 1929.5,902.0 1931.5,895.1 1933.5,888.5 1935.5,882.3 1937.5,875.9 1939.5,869.0 1941.5,861.7 1943.5,854.1 1945.5,846.4 1947.5,838.5 1949.5,830.7 1951.5,822.8 1953.5,815.0 1955.5,807.3 1957.5,799.8 1959.5,792.3 1961.5,784.7 1963.5,776.2 1965.5,767.1 1967.5,757.6 1969.5,747.9 1971.5,738.3 1973.5,728.8 1975.5,719.8 1977.5,711.7 1979.5,704.9 1981.5,699.3 1983.5,694.4 1985.5,690.0 1987.5,686.0 1989.5,682.3 1991.5,678.6 1993.5,674.8 1995.5,670.8 1997.5,666.4 1999.5,661.6 2001.5,655.7 2003.5,648.0 2005.5,639.4 2007.5,630.9 2009.5,623.4 2011.5,617.8 2013.5,615.1 2015.5,615.7 2017.5,618.8 2019.5,623.9 2021.5,630.5 2023.5,638.4 2025.5,647.2 2027.5,656.3 2029.5,665.6 2031.5,674.4 2033.5,682.5 2035.5,689.5 2037.5,695.4 2039.5,701.4 2041.5,707.3 2043.5,712.9 2045.5,718.1 2047.5,722.6 2049.5,726.3 2051.5,729.4 2053.5,732.4 2055.5,735.3 2057.5,737.9 2059.5,740.0 2061.5,741.6 2063.5,742.5 2065.5,742.5 2067.5,741.5 2069.5,739.3 2071.5,736.2 2073.5,732.1 2075.5,727.3 2077.5,722.1 2079.5,716.7 2081.5,710.9 2083.5,703.6 2085.5,695.1 2087.5,685.6 2089.5,675.3 2091.5,664.3 2093.5,653.1 2095.5,641.7 2097.5,630.5 2099.5,619.7 2101.5,609.2 2103.5,598.7 2105.5,588.1 2107.5,577.3 2109.5,566.3 2111.5,555.2 2113.5,543.8 2115.5,532.4 2117.5,520.7 2119.5,509.0 2121.5,497.2 2123.5,485.3 2125.5,473.3 2127.5,461.2 2129.5,449.1 2131.5,437.0 2133.0,428.0" stroke="#474747"/>
<polyline points="243.0,725.0 248.0,723.8 253.0,722.6 258.0,721.4 263.0,720.2 268.0,719.0 273.0,717.8 278.0,716.6 283.0,715.5 288.0,714.3 293.0,713.2 298.0,712.1 303.0,711.0 308.0,710.0 313.0,708.9 318.0,707.9 323.0,706.9 328.0,706.0 333.0,705.1 338.0,704.2 343.0,703.4 348.0,702.6 353.0,701.8 358.0,701.1 363.0,700.4 368.0,699.8 373.0,699.2 378.0,698.7 383.0,698.2 388.0,697.8 393.0,697.4 398.0,697.1 403.0,696.9 408.0,696.7 413.0,696.6 418.0,696.5 423.0,696.5 428.0,696.5 433.0,696.6 438.0,696.8 443.0,697.0 448.0,697.3 453.0,697.6 458.0,698.0 463.0,698.5 468.0,699.0 473.0,699.5 478.0,700.1 483.0,700.7 488.0,701.4 493.0,702.2 498.0,702.9 503.0,703.8 508.0,704.7 513.0,705.6 518.0,706.6 523.0,707.6 528.0,708.6 533.0,709.7 538.0,710.9 543.0,712.1 548.0,713.3 553.0,714.6 558.0,715.9 563.0,717.2 568.0,718.6 573.0,720.0 578.0,721.5 583.0,723.0 588.0,724.5 593.0,726.1 598.0,727.8 603.0,729.4 608.0,731.2 613.0,732.9 618.0,734.8 623.0,736.6 628.0,738.6 633.0,740.5 638.0,742.6 643.0,744.6 648.0,746.8 653.0,749.0 658.0,751.2 663.0,753.5 668.0,755.9 673.0,758.3 678.0,760.8 683.0,763.3 688.0,765.9 693.0,768.6 698.0,771.3 703.0,774.1 708.0,776.9 713.0,779.9 718.0,782.8 723.0,785.9 728.0,789.0 733.0,792.1 738.0,795.3 743.0,798.5 748.0,801.8 753.0,805.1 758.0,808.5 763.0,811.9 768.0,815.3 773.0,818.8 778.0,822.3 783.0,825.8 788.0,829.4 793.0,833.0 798.0,836.6 803.0,840.2 808.0,843.8 813.0,847.5 818.0,851.1 823.0,854.8 828.0,858.5 833.0,862.2 838.0,865.9 843.0,869.5 848.0,873.2 853.0,876.9 858.0,880.6 863.0,884.3 868.0,887.9 873.0,891.5 878.0,895.2 883.0,898.8 888.0,902.4 893.0,906.0 898.0,909.5 903.0,913.1 908.0,916.6 913.0,920.1 918.0,923.6 923.0,927.1 928.0,930.6 933.0,934.1 938.0,937.5 943.0,941.0 948.0,944.4 953.0,947.9 958.0,951.3 963.0,954.7 968.0,958.1 973.0,961.5 978.0,964.9 983.0,968.3 988.0,971.7 993.0,975.1 998.0,978.4 1003.0,981.8 1008.0,985.3 1013.0,988.9 1018.0,992.4 1023.0,995.7 1028.0,998.8 1033.0,1001.5 1038.0,1004.3 1043.0,1007.0 1045.5,1008.3 1048.0,1009.7 1050.5,1011.1 1053.0,1012.6 1055.5,1014.1 1058.0,1015.6 1060.5,1017.1 1063.0,1018.6 1065.5,1020.0 1068.0,1021.3 1070.5,1022.7 1073.0,1024.1 1075.5,1025.3 1078.0,1026.4 1080.5,1027.3 1083.0,1026.9 1085.5,1024.3 1088.0,1021.8 1090.5,1019.9 1093.0,1017.9 1095.5,1016.0 1098.0,1014.3 1100.5,1012.3 1103.0,1010.0 1105.5,1007.6 1108.0,1004.8 1110.5,1002.1 1113.0,999.2 1115.5,996.2 1118.0,993.2 1120.5,990.1 1123.0,987.2 1125.5,984.5 1128.0,982.2 1130.5,980.2 1133.0,978.4 1135.5,976.7 1138.0,975.1 1140.5,973.7 1143.0,972.2 1145.5,970.7 1148.0,969.2 1150.5,968.2 1153.0,968.0 1155.5,968.4 1158.0,969.3 1160.5,970.5 1163.0,971.8 1165.5,973.0 1168.0,974.3 1170.5,975.7 1173.0,977.3 1175.5,979.0 1178.0,980.8 1180.5,982.6 1183.0,984.6 1185.5,986.5 1188.0,988.5 1190.5,990.6 1193.0,992.6 1195.5,994.5 1198.0,996.5 1200.5,998.4 1203.0,1000.3 1205.5,1002.2 1208.0,1004.2 1210.5,1006.2 1213.0,1008.2 1215.5,1010.2 1218.0,1012.2 1220.5,1014.1 1223.0,1016.0 1225.5,1017.9 1228.0,1019.6 1230.5,1021.3 1233.0,1022.9 1235.5,1024.5 1238.0,1026.0 1240.5,1027.4 1243.0,1028.8 1245.5,1030.2 1248.0,1031.6 1250.5,1033.0 1253.0,1034.5 1255.5,1036.0 1258.0,1037.6 1260.5,1039.2 1263.0,1041.0 1265.5,1043.0 1268.0,1045.0 1270.5,1047.2 1273.0,1049.4 1275.5,1051.7 1278.0,1054.0 1280.5,1056.3 1283.0,1058.5 1285.5,1060.7 1288.0,1062.8 1290.5,1064.8 1293.0,1066.7 1295.5,1068.4 1298.0,1069.9 1300.5,1071.2 1303.0,1072.4 1305.5,1073.5 1308.0,1074.5 1310.5,1075.5 1313.0,1076.4 1315.5,1077.2 1318.0,1078.0 1320.5,1078.7 1323.0,1079.4 1325.5,1080.0 1328.0,1080.7 1330.5,1081.3 1333.0,1081.9 1335.5,1082.5 1338.0,1083.1 1340.5,1083.7 1343.0,1084.3 1345.5,1084.9 1348.0,1085.5 1350.5,1086.1 1353.0,1086.8 1355.5,1087.4 1358.0,1088.0 1360.5,1088.7 1363.0,1089.3 1365.5,1089.9 1368.0,1090.5 1370.5,1091.1 1373.0,1091.7 1375.5,1092.3 1378.0,1092.9 1380.5,1093.4 1383.0,1093.9 1385.5,1094.4 1388.0,1094.9 1390.5,1095.3 1393.0,1095.7 1395.5,1096.2 1398.0,1096.6 1400.5,1097.0 1403.0,1097.3 1405.5,1097.7 1408.0,1098.1 1410.5,1098.4 1413.0,1098.8 1415.5,1099.1 1418.0,1099.4 1420.5,1099.7 1423.0,1100.0 1425.5,1100.4 1428.0,1100.7 1430.5,1101.0 1433.0,1101.3 1435.5,1101.6 1438.0,1101.9 1440.5,1102.2 1443.0,1102.6 1445.5,1102.9 1448.0,1103.3 1450.5,1103.6 1453.0,1104.0 1455.5,1104.4 1458.0,1104.7 1460.5,1105.1 1463.0,1105.5 1465.5,1105.8 1468.0,1106.1 1470.5,1106.4 1473.0,1106.7 1475.5,1107.0 1478.0,1107.3 1480.5,1107.5 1483.0,1107.7 1485.5,1107.8 1488.0,1107.9 1490.5,1108.0 1493.0,1108.0 1495.5,1107.9 1498.0,1107.6 1500.5,1107.2 1503.0,1106.6 1505.5,1105.9 1508.0,1105.1 1510.5,1104.2 1513.0,1103.3 1515.5,1102.4 1518.0,1101.2 1520.5,1099.5 1523.0,1097.6 1525.5,1095.6 1528.0,1093.5 1530.5,1091.4 1533.0,1089.5 1535.5,1087.9 1538.0,1086.5 1540.5,1085.1 1543.0,1083.7 1545.5,1082.4 1548.0,1081.1 1550.5,1079.9 1553.0,1078.7 1555.5,1077.5 1558.0,1076.5 1560.5,1075.6 1563.0,1074.8 1565.5,1073.9 1568.0,1073.0 1570.5,1072.1 1573.0,1071.0 1575.5,1069.7 1578.0,1067.8 1580.5,1065.5 1583.0,1062.9 1585.5,1059.1 1588.0,1054.7 1590.5,1052.0 1593.0,1053.0 1595.5,1056.0 1598.0,1058.6 1600.5,1060.1 1603.0,1061.4 1605.5,1062.5 1608.0,1063.2 1610.5,1063.8 1613.0,1064.4 1615.5,1064.9 1618.0,1065.5 1620.5,1065.9 1623.0,1066.3 1625.5,1066.7 1628.0,1067.1 1630.5,1067.4 1633.0,1067.7 1635.5,1067.9 1638.0,1068.1 1640.5,1068.3 1643.0,1068.5 1645.5,1068.6 1648.0,1068.7 1650.5,1068.9 1653.0,1069.0 1655.5,1069.0 1658.0,1069.1 1660.5,1069.2 1663.0,1069.2 1665.5,1069.2 1668.0,1069.2 1670.5,1069.2 1673.0,1069.1 1675.5,1069.0 1678.0,1068.9 1680.5,1068.7 1683.0,1068.5 1685.5,1068.2 1688.0,1067.9 1690.5,1067.4 1692.0,1067.0 1693.5,1066.4 1695.0,1065.6 1696.5,1064.6 1698.0,1063.4 1699.5,1062.0 1701.0,1060.1 1702.5,1056.9 1704.0,1052.6 1705.5,1047.4 1707.0,1041.4 1708.5,1035.0 1710.0,1028.2 1711.5,1020.0 1713.0,1009.5 1714.5,997.2 1716.0,983.9 1717.5,970.2 1719.0,956.7 1720.5,943.7 1722.0,929.4 1723.5,913.8 1725.0,897.9 1726.5,882.6 1728.0,868.6 1729.5,856.9 1731.0,847.2 1732.5,837.0 1734.0,826.9 1735.5,817.7 1737.0,810.1 1738.5,804.9 1740.0,803.0 1741.5,803.8 1743.0,806.0 1744.5,809.2 1746.0,813.2 1747.5,817.7 1749.0,822.3 1750.5,826.8 1752.0,830.9 1753.5,834.8 1755.0,838.9 1756.5,843.2 1758.0,847.5 1759.5,851.9 1761.0,856.1 1762.5,860.1 1764.0,863.8 1765.5,867.2 1767.0,870.3 1768.5,873.4 1770.0,876.3 1771.5,879.1 1774.0,883.6 1776.5,887.9 1779.0,892.0 1781.5,895.9 1784.0,899.7 1786.5,903.4 1789.0,906.9 1791.5,910.3 1794.0,913.5 1796.5,916.7 1799.0,919.9 1801.5,923.0 1804.0,926.1 1806.5,929.2 1809.0,932.4 1811.5,935.5 1814.0,938.5 1816.5,941.6 1819.0,944.6 1821.5,947.6 1824.0,950.6 1826.5,953.5 1829.0,956.4 1831.5,959.3 1834.0,962.1 1836.5,964.9 1839.0,967.7 1841.5,970.5 1844.0,973.3 1846.5,976.0 1849.0,978.7 1851.5,981.3 1854.0,983.9 1856.5,986.4 1859.0,988.9 1861.5,991.2 1864.0,993.4 1866.5,995.6 1869.0,997.8 1871.5,999.9 1874.0,1001.9 1876.5,1003.9 1879.0,1005.9 1881.5,1007.7 1884.0,1009.6 1886.5,1011.4 1889.0,1013.1 1891.5,1014.9 1894.0,1016.8 1896.5,1018.9 1899.0,1021.0 1901.5,1023.1 1903.5,1024.6 1905.5,1026.0 1907.5,1027.2 1909.5,1028.1 1911.5,1028.8 1913.5,1029.0 1915.5,1028.9 1917.5,1027.7 1919.5,1025.2 1921.5,1021.7 1923.5,1017.3 1925.5,1012.2 1927.5,1006.5 1929.5,1000.5 1931.5,994.2 1933.5,987.8 1935.5,981.6 1937.5,974.2 1939.5,965.3 1941.5,955.3 1943.5,944.3 1945.5,932.7 1947.5,920.6 1949.5,908.4 1951.5,896.2 1953.5,884.3 1955.5,873.0 1957.5,862.5 1959.5,853.0 1961.5,844.3 1963.5,835.7 1965.5,827.0 1967.5,818.5 1969.5,810.1 1971.5,801.9 1973.5,794.0 1975.5,786.5 1977.5,779.3 1979.5,772.7 1981.5,766.6 1983.5,760.7 1985.5,755.1 1987.5,749.8 1989.5,744.7 1991.5,739.7 1993.5,734.9 1995.5,730.1 1997.5,725.5 1999.5,720.8 2001.5,715.8 2003.5,709.9 2005.5,703.6 2007.5,697.6 2009.5,692.4 2011.5,688.5 2013.5,686.7 2015.5,687.2 2017.5,689.9 2019.5,694.4 2021.5,700.3 2023.5,707.3 2025.5,715.0 2027.5,723.2 2029.5,731.3 2031.5,739.2 2033.5,746.4 2035.5,752.6 2037.5,757.8 2039.5,763.1 2041.5,768.2 2043.5,773.1 2045.5,777.7 2047.5,781.9 2049.5,785.6 2051.5,788.9 2053.5,792.3 2055.5,795.7 2057.5,798.9 2059.5,801.7 2061.5,804.0 2063.5,805.7 2065.5,806.4 2067.5,806.1 2069.5,804.6 2071.5,802.1 2073.5,798.9 2075.5,795.0 2077.5,790.8 2079.5,786.4 2081.5,781.5 2083.5,774.7 2085.5,766.4 2087.5,756.9 2089.5,746.6 2091.5,735.9 2093.5,725.0 2095.5,714.4 2097.5,704.4 2099.5,695.4 2101.5,687.2 2103.5,679.1 2105.5,671.2 2107.5,663.4 2109.5,655.7 2111.5,648.2 2113.5,641.0 2115.5,633.9 2117.5,627.2 2119.5,620.8 2121.5,614.6 2123.5,608.5 2125.5,602.5 2127.5,596.6 2129.5,590.9 2131.5,585.5 2133.0,581.5" stroke="#fcd12a"/>
<polyline points="243.0,734.0 248.0,732.3 253.0,730.6 258.0,728.9 263.0,727.2 268.0,725.5 273.0,723.8 278.0,722.2 283.0,720.5 288.0,718.9 293.0,717.3 298.0,715.7 303.0,714.2 308.0,712.6 313.0,711.1 318.0,709.7 323.0,708.2 328.0,706.8 333.0,705.5 338.0,704.1 343.0,702.9 348.0,701.6 353.0,700.4 358.0,699.3 363.0,698.2 368.0,697.2 373.0,696.2 378.0,695.3 383.0,694.4 388.0,693.6 393.0,692.9 398.0,692.2 403.0,691.7 408.0,691.1 413.0,690.7 418.0,690.3 423.0,690.0 428.0,689.7 433.0,689.6 438.0,689.4 443.0,689.4 448.0,689.4 453.0,689.5 458.0,689.6 463.0,689.8 468.0,690.1 473.0,690.4 478.0,690.8 483.0,691.2 488.0,691.7 493.0,692.2 498.0,692.8 503.0,693.5 508.0,694.2 513.0,695.0 518.0,695.8 523.0,696.6 528.0,697.6 533.0,698.5 538.0,699.6 543.0,700.6 548.0,701.7 553.0,702.9 558.0,704.1 563.0,705.4 568.0,706.7 573.0,708.0 578.0,709.4 583.0,710.8 588.0,712.3 593.0,713.8 598.0,715.4 603.0,717.0 608.0,718.6 613.0,720.3 618.0,722.0 623.0,723.8 628.0,725.6 633.0,727.5 638.0,729.4 643.0,731.3 648.0,733.3 653.0,735.3 658.0,737.4 663.0,739.5 668.0,741.7 673.0,743.9 678.0,746.1 683.0,748.4 688.0,750.7 693.0,753.0 698.0,755.4 703.0,757.9 708.0,760.3 713.0,762.9 718.0,765.4 723.0,768.0 728.0,770.6 733.0,773.3 738.0,775.9 743.0,778.7 748.0,781.4 753.0,784.2 758.0,787.0 763.0,789.8 768.0,792.7 773.0,795.5 778.0,798.5 783.0,801.4 788.0,804.3 793.0,807.3 798.0,810.3 803.0,813.3 808.0,816.3 813.0,819.3 818.0,822.4 823.0,825.4 828.0,828.5 833.0,831.6 838.0,834.7 843.0,837.8 848.0,840.9 853.0,844.0 858.0,847.2 863.0,850.3 868.0,853.4 873.0,856.5 878.0,859.7 883.0,862.8 888.0,865.9 893.0,869.1 898.0,872.2 903.0,875.3 908.0,878.5 913.0,881.6 918.0,884.8 923.0,887.9 928.0,891.0 933.0,894.2 938.0,897.3 943.0,900.4 948.0,903.6 953.0,906.7 958.0,909.8 963.0,913.0 968.0,916.1 973.0,919.2 978.0,922.4 983.0,925.5 988.0,928.7 993.0,931.8 998.0,934.9 1003.0,938.1 1008.0,941.3 1013.0,944.7 1018.0,948.0 1023.0,951.1 1028.0,954.0 1033.0,956.3 1038.0,958.5 1043.0,960.5 1045.5,961.5 1048.0,962.6 1050.5,963.7 1053.0,964.9 1055.5,966.1 1058.0,967.3 1060.5,968.6 1063.0,969.8 1065.5,970.9 1068.0,971.9 1070.5,973.1 1073.0,974.2 1075.5,975.3 1078.0,976.1 1080.5,976.7 1083.0,975.4 1085.5,971.5 1088.0,968.5 1090.5,967.2 1093.0,965.8 1095.5,964.3 1098.0,963.0 1100.5,961.3 1103.0,959.2 1105.5,956.6 1108.0,953.4 1110.5,950.2 1113.0,946.7 1115.5,942.8 1118.0,938.6 1120.5,934.4 1123.0,930.3 1125.5,926.4 1128.0,922.9 1130.5,919.9 1133.0,917.1 1135.5,914.4 1138.0,911.9 1140.5,909.6 1143.0,907.2 1145.5,904.7 1148.0,902.3 1150.5,900.5 1153.0,899.8 1155.5,899.4 1158.0,899.0 1160.5,898.8 1163.0,898.7 1165.5,898.6 1168.0,898.8 1170.5,899.2 1173.0,899.9 1175.5,900.8 1178.0,902.0 1180.5,903.3 1183.0,904.8 1185.5,906.4 1188.0,908.1 1190.5,910.0 1193.0,911.8 1195.5,913.7 1198.0,915.5 1200.5,917.4 1203.0,919.3 1205.5,921.4 1208.0,923.6 1210.5,925.9 1213.0,928.3 1215.5,930.8 1218.0,933.4 1220.5,936.1 1223.0,938.7 1225.5,941.4 1228.0,944.1 1230.5,946.8 1233.0,949.4 1235.5,952.1 1238.0,954.7 1240.5,957.4 1243.0,960.0 1245.5,962.6 1248.0,965.3 1250.5,968.0 1253.0,970.7 1255.5,973.4 1258.0,976.2 1260.5,979.0 1263.0,981.9 1265.5,984.9 1268.0,988.0 1270.5,991.1 1273.0,994.2 1275.5,997.4 1278.0,1000.5 1280.5,1003.6 1283.0,1006.5 1285.5,1009.4 1288.0,1012.2 1290.5,1014.8 1293.0,1017.3 1295.5,1019.5 1298.0,1021.6 1300.5,1023.3 1303.0,1024.9 1305.5,1026.4 1308.0,1027.8 1310.5,1029.0 1313.0,1030.1 1315.5,1031.2 1318.0,1032.1 1320.5,1033.0 1323.0,1033.8 1325.5,1034.5 1328.0,1035.2 1330.5,1035.9 1333.0,1036.5 1335.5,1037.1 1338.0,1037.6 1340.5,1038.2 1343.0,1038.7 1345.5,1039.3 1348.0,1039.9 1350.5,1040.4 1353.0,1041.0 1355.5,1041.6 1358.0,1042.2 1360.5,1042.9 1363.0,1043.5 1365.5,1044.1 1368.0,1044.7 1370.5,1045.4 1373.0,1046.0 1375.5,1046.6 1378.0,1047.3 1380.5,1047.9 1383.0,1048.5 1385.5,1049.1 1388.0,1049.7 1390.5,1050.3 1393.0,1050.8 1395.5,1051.3 1398.0,1051.8 1400.5,1052.3 1403.0,1052.8 1405.5,1053.2 1408.0,1053.6 1410.5,1054.0 1413.0,1054.4 1415.5,1054.8 1418.0,1055.2 1420.5,1055.6 1423.0,1056.0 1425.5,1056.3 1428.0,1056.7 1430.5,1057.1 1433.0,1057.4 1435.5,1057.8 1438.0,1058.2 1440.5,1058.6 1443.0,1059.0 1445.5,1059.4 1448.0,1059.9 1450.5,1060.3 1453.0,1060.8 1455.5,1061.3 1458.0,1061.7 1460.5,1062.2 1463.0,1062.7 1465.5,1063.1 1468.0,1063.5 1470.5,1064.0 1473.0,1064.3 1475.5,1064.7 1478.0,1065.0 1480.5,1065.3 1483.0,1065.5 1485.5,1065.7 1488.0,1065.9 1490.5,1066.0 1493.0,1066.0 1495.5,1065.9 1498.0,1065.4 1500.5,1064.8 1503.0,1064.0 1505.5,1063.0 1508.0,1061.9 1510.5,1060.7 1513.0,1059.5 1515.5,1058.4 1518.0,1057.0 1520.5,1055.3 1523.0,1053.4 1525.5,1051.4 1528.0,1049.3 1530.5,1047.2 1533.0,1045.3 1535.5,1043.4 1538.0,1041.6 1540.5,1039.8 1543.0,1038.0 1545.5,1036.3 1548.0,1034.5 1550.5,1032.8 1553.0,1031.1 1555.5,1029.5 1558.0,1028.0 1560.5,1026.6 1563.0,1025.2 1565.5,1023.9 1568.0,1022.5 1570.5,1021.0 1573.0,1019.4 1575.5,1017.7 1578.0,1015.8 1580.5,1013.6 1583.0,1011.1 1585.5,1007.2 1588.0,1002.8 1590.5,1000.2 1593.0,1001.0 1595.5,1003.7 1598.0,1006.2 1600.5,1007.8 1603.0,1009.3 1605.5,1010.5 1608.0,1011.4 1610.5,1012.2 1613.0,1012.9 1615.5,1013.6 1618.0,1014.2 1620.5,1014.8 1623.0,1015.4 1625.5,1015.9 1628.0,1016.4 1630.5,1016.8 1633.0,1017.2 1635.5,1017.6 1638.0,1018.0 1640.5,1018.4 1643.0,1018.7 1645.5,1019.1 1648.0,1019.5 1650.5,1019.9 1653.0,1020.2 1655.5,1020.6 1658.0,1020.9 1660.5,1021.2 1663.0,1021.5 1665.5,1021.8 1668.0,1022.0 1670.5,1022.2 1673.0,1022.3 1675.5,1022.4 1678.0,1022.4 1680.5,1022.4 1683.0,1022.3 1685.5,1022.2 1688.0,1022.1 1690.5,1022.0 1692.0,1021.6 1693.5,1020.9 1695.0,1019.9 1696.5,1018.5 1698.0,1017.0 1699.5,1015.2 1701.0,1012.7 1702.5,1008.2 1704.0,1001.8 1705.5,993.6 1707.0,984.1 1708.5,973.5 1710.0,961.9 1711.5,947.6 1713.0,929.3 1714.5,907.9 1716.0,884.3 1717.5,859.6 1719.0,835.0 1720.5,810.1 1722.0,783.3 1723.5,755.4 1725.0,727.8 1726.5,702.0 1728.0,679.3 1729.5,660.9 1731.0,646.8 1732.5,633.6 1734.0,621.5 1735.5,611.2 1737.0,603.1 1738.5,597.9 1740.0,596.0 1741.5,596.7 1743.0,598.7 1744.5,601.8 1746.0,605.6 1747.5,609.9 1749.0,614.6 1750.5,619.2 1752.0,623.7 1753.5,628.2 1755.0,633.2 1756.5,638.6 1758.0,644.2 1759.5,650.0 1761.0,655.8 1762.5,661.5 1764.0,667.1 1765.5,672.4 1767.0,677.6 1768.5,682.8 1770.0,687.9 1771.5,693.1 1774.0,701.6 1776.5,710.1 1779.0,718.7 1781.5,727.3 1784.0,736.1 1786.5,745.0 1789.0,754.0 1791.5,763.1 1794.0,772.2 1796.5,781.2 1799.0,789.6 1801.5,797.6 1804.0,805.4 1806.5,813.1 1809.0,820.7 1811.5,828.2 1814.0,835.5 1816.5,842.8 1819.0,849.9 1821.5,856.9 1824.0,863.7 1826.5,870.4 1829.0,876.9 1831.5,883.2 1834.0,889.3 1836.5,895.4 1839.0,901.3 1841.5,907.2 1844.0,912.9 1846.5,918.5 1849.0,923.9 1851.5,929.1 1854.0,934.2 1856.5,939.0 1859.0,943.6 1861.5,948.0 1864.0,952.2 1866.5,956.3 1869.0,960.2 1871.5,964.0 1874.0,967.6 1876.5,971.1 1879.0,974.5 1881.5,977.8 1884.0,981.0 1886.5,984.0 1889.0,986.9 1891.5,989.7 1894.0,992.7 1896.5,995.7 1899.0,998.6 1901.5,1001.5 1903.5,1003.5 1905.5,1005.4 1907.5,1007.0 1909.5,1008.3 1911.5,1009.3 1913.5,1009.9 1915.5,1010.0 1917.5,1008.8 1919.5,1006.4 1921.5,1002.8 1923.5,998.2 1925.5,992.9 1927.5,987.1 1929.5,980.8 1931.5,974.4 1933.5,968.0 1935.5,961.8 1937.5,954.7 1939.5,946.4 1941.5,937.1 1943.5,927.0 1945.5,916.4 1947.5,905.3 1949.5,894.1 1951.5,882.8 1953.5,871.7 1955.5,861.1 1957.5,851.0 1959.5,841.6 1961.5,832.9 1963.5,824.0 1965.5,814.9 1967.5,805.8 1969.5,796.8 1971.5,788.0 1973.5,779.5 1975.5,771.5 1977.5,763.9 1979.5,757.0 1981.5,750.8 1983.5,744.9 1985.5,739.4 1987.5,734.1 1989.5,729.1 1991.5,724.2 1993.5,719.4 1995.5,714.6 1997.5,709.8 1999.5,704.8 2001.5,699.3 2003.5,692.7 2005.5,685.6 2007.5,678.6 2009.5,672.5 2011.5,667.9 2013.5,665.6 2015.5,665.9 2017.5,668.5 2019.5,673.0 2021.5,678.9 2023.5,686.0 2025.5,693.9 2027.5,702.2 2029.5,710.5 2031.5,718.5 2033.5,725.9 2035.5,732.2 2037.5,737.6 2039.5,742.9 2041.5,748.2 2043.5,753.2 2045.5,758.0 2047.5,762.2 2049.5,765.8 2051.5,769.0 2053.5,772.2 2055.5,775.4 2057.5,778.4 2059.5,780.9 2061.5,783.0 2063.5,784.3 2065.5,784.8 2067.5,784.2 2069.5,782.5 2071.5,779.8 2073.5,776.4 2075.5,772.3 2077.5,767.9 2079.5,763.4 2081.5,758.3 2083.5,751.6 2085.5,743.5 2087.5,734.4 2089.5,724.4 2091.5,714.1 2093.5,703.6 2095.5,693.3 2097.5,683.4 2099.5,674.3 2101.5,666.0 2103.5,657.8 2105.5,649.6 2107.5,641.6 2109.5,633.6 2111.5,625.7 2113.5,617.9 2115.5,610.2 2117.5,602.6 2119.5,595.0 2121.5,587.4 2123.5,579.8 2125.5,572.1 2127.5,564.3 2129.5,556.6 2131.5,548.8 2133.0,543.0" stroke="#34428a"/>
<polyline points="243.0,744.0 248.0,743.0 253.0,741.9 258.0,740.9 263.0,739.9 268.0,738.9 273.0,737.9 278.0,736.9 283.0,735.9 288.0,734.9 293.0,734.0 298.0,733.0 303.0,732.1 308.0,731.2 313.0,730.3 318.0,729.5 323.0,728.6 328.0,727.8 333.0,727.0 338.0,726.3 343.0,725.5 348.0,724.9 353.0,724.2 358.0,723.6 363.0,723.0 368.0,722.5 373.0,722.0 378.0,721.5 383.0,721.1 388.0,720.7 393.0,720.4 398.0,720.1 403.0,719.9 408.0,719.7 413.0,719.6 418.0,719.5 423.0,719.5 428.0,719.5 433.0,719.6 438.0,719.7 443.0,719.9 448.0,720.1 453.0,720.4 458.0,720.7 463.0,721.0 468.0,721.4 473.0,721.9 478.0,722.4 483.0,723.0 488.0,723.6 493.0,724.2 498.0,724.9 503.0,725.7 508.0,726.5 513.0,727.3 518.0,728.2 523.0,729.1 528.0,730.1 533.0,731.1 538.0,732.1 543.0,733.2 548.0,734.4 553.0,735.6 558.0,736.8 563.0,738.1 568.0,739.4 573.0,740.8 578.0,742.2 583.0,743.6 588.0,745.1 593.0,746.6 598.0,748.2 603.0,749.8 608.0,751.5 613.0,753.2 618.0,755.0 623.0,756.8 628.0,758.6 633.0,760.5 638.0,762.4 643.0,764.4 648.0,766.4 653.0,768.5 658.0,770.6 663.0,772.7 668.0,774.9 673.0,777.2 678.0,779.4 683.0,781.8 688.0,784.1 693.0,786.5 698.0,789.0 703.0,791.5 708.0,794.1 713.0,796.6 718.0,799.3 723.0,801.9 728.0,804.7 733.0,807.4 738.0,810.2 743.0,813.0 748.0,815.8 753.0,818.7 758.0,821.6 763.0,824.6 768.0,827.5 773.0,830.5 778.0,833.5 783.0,836.5 788.0,839.6 793.0,842.6 798.0,845.7 803.0,848.8 808.0,851.9 813.0,855.1 818.0,858.2 823.0,861.3 828.0,864.5 833.0,867.7 838.0,870.8 843.0,874.0 848.0,877.2 853.0,880.4 858.0,883.5 863.0,886.7 868.0,889.9 873.0,893.0 878.0,896.2 883.0,899.3 888.0,902.5 893.0,905.6 898.0,908.8 903.0,911.9 908.0,915.0 913.0,918.1 918.0,921.2 923.0,924.3 928.0,927.4 933.0,930.5 938.0,933.6 943.0,936.7 948.0,939.8 953.0,942.9 958.0,946.0 963.0,949.0 968.0,952.1 973.0,955.2 978.0,958.2 983.0,961.3 988.0,964.3 993.0,967.4 998.0,970.5 1003.0,973.5 1008.0,976.7 1013.0,980.0 1018.0,983.2 1023.0,986.2 1028.0,989.0 1033.0,991.3 1038.0,993.4 1043.0,995.5 1045.5,996.5 1048.0,997.5 1050.5,998.5 1053.0,999.6 1055.5,1000.8 1058.0,1001.9 1060.5,1003.0 1063.0,1004.1 1065.5,1005.1 1068.0,1006.0 1070.5,1007.0 1073.0,1007.9 1075.5,1008.8 1078.0,1009.5 1080.5,1009.9 1083.0,1008.8 1085.5,1005.5 1088.0,1002.5 1090.5,1000.5 1093.0,998.4 1095.5,996.4 1098.0,994.5 1100.5,992.3 1103.0,989.8 1105.5,987.0 1108.0,983.8 1110.5,980.6 1113.0,977.2 1115.5,973.6 1118.0,969.8 1120.5,966.0 1123.0,962.3 1125.5,958.8 1128.0,955.8 1130.5,953.1 1133.0,950.6 1135.5,948.2 1138.0,946.1 1140.5,944.1 1143.0,942.0 1145.5,939.8 1148.0,937.8 1150.5,936.4 1153.0,935.9 1155.5,935.8 1158.0,935.9 1160.5,936.2 1163.0,936.6 1165.5,936.9 1168.0,937.3 1170.5,937.9 1173.0,938.7 1175.5,939.7 1178.0,940.8 1180.5,942.0 1183.0,943.4 1185.5,944.9 1188.0,946.5 1190.5,948.2 1193.0,949.9 1195.5,951.7 1198.0,953.5 1200.5,955.4 1203.0,957.3 1205.5,959.5 1208.0,961.7 1210.5,964.2 1213.0,966.7 1215.5,969.3 1218.0,972.0 1220.5,974.8 1223.0,977.6 1225.5,980.4 1228.0,983.2 1230.5,986.0 1233.0,988.8 1235.5,991.5 1238.0,994.2 1240.5,997.0 1243.0,999.7 1245.5,1002.4 1248.0,1005.1 1250.5,1007.8 1253.0,1010.6 1255.5,1013.4 1258.0,1016.2 1260.5,1019.1 1263.0,1022.1 1265.5,1025.2 1268.0,1028.3 1270.5,1031.6 1273.0,1034.8 1275.5,1038.0 1278.0,1041.2 1280.5,1044.3 1283.0,1047.3 1285.5,1050.2 1288.0,1052.9 1290.5,1055.5 1293.0,1057.8 1295.5,1059.9 1298.0,1061.8 1300.5,1063.3 1303.0,1064.6 1305.5,1065.7 1308.0,1066.6 1310.5,1067.5 1313.0,1068.1 1315.5,1068.7 1318.0,1069.1 1320.5,1069.4 1323.0,1069.7 1325.5,1069.8 1328.0,1070.0 1330.5,1070.0 1333.0,1070.1 1335.5,1070.1 1338.0,1070.0 1340.5,1070.0 1343.0,1070.0 1345.5,1070.0 1348.0,1070.1 1350.5,1070.1 1353.0,1070.2 1355.5,1070.3 1358.0,1070.4 1360.5,1070.6 1363.0,1070.8 1365.5,1071.0 1368.0,1071.3 1370.5,1071.5 1373.0,1071.9 1375.5,1072.2 1378.0,1072.7 1380.5,1073.1 1383.0,1073.6 1385.5,1074.1 1388.0,1074.6 1390.5,1075.1 1393.0,1075.6 1395.5,1076.1 1398.0,1076.6 1400.5,1077.0 1403.0,1077.4 1405.5,1077.8 1408.0,1078.3 1410.5,1078.7 1413.0,1079.0 1415.5,1079.4 1418.0,1079.8 1420.5,1080.2 1423.0,1080.5 1425.5,1080.9 1428.0,1081.3 1430.5,1081.6 1433.0,1082.0 1435.5,1082.4 1438.0,1082.7 1440.5,1083.1 1443.0,1083.5 1445.5,1083.9 1448.0,1084.4 1450.5,1084.8 1453.0,1085.2 1455.5,1085.7 1458.0,1086.1 1460.5,1086.5 1463.0,1087.0 1465.5,1087.4 1468.0,1087.8 1470.5,1088.1 1473.0,1088.5 1475.5,1088.8 1478.0,1089.1 1480.5,1089.4 1483.0,1089.6 1485.5,1089.8 1488.0,1089.9 1490.5,1090.0 1493.0,1090.0 1495.5,1089.9 1498.0,1089.5 1500.5,1089.0 1503.0,1088.3 1505.5,1087.5 1508.0,1086.6 1510.5,1085.6 1513.0,1084.6 1515.5,1083.5 1518.0,1082.2 1520.5,1080.6 1523.0,1078.7 1525.5,1076.6 1528.0,1074.5 1530.5,1072.5 1533.0,1070.6 1535.5,1068.9 1538.0,1067.3 1540.5,1065.7 1543.0,1064.1 1545.5,1062.6 1548.0,1061.1 1550.5,1059.7 1553.0,1058.3 1555.5,1057.0 1558.0,1055.7 1560.5,1054.6 1563.0,1053.5 1565.5,1052.5 1568.0,1051.4 1570.5,1050.2 1573.0,1048.9 1575.5,1047.4 1578.0,1045.5 1580.5,1043.3 1583.0,1040.7 1585.5,1036.9 1588.0,1032.4 1590.5,1029.8 1593.0,1030.7 1595.5,1033.6 1598.0,1036.1 1600.5,1037.7 1603.0,1039.1 1605.5,1040.2 1608.0,1041.0 1610.5,1041.7 1613.0,1042.3 1615.5,1042.9 1618.0,1043.5 1620.5,1044.0 1623.0,1044.5 1625.5,1044.9 1628.0,1045.3 1630.5,1045.7 1633.0,1046.1 1635.5,1046.4 1638.0,1046.7 1640.5,1046.9 1643.0,1047.2 1645.5,1047.4 1648.0,1047.6 1650.5,1047.9 1653.0,1048.1 1655.5,1048.3 1658.0,1048.5 1660.5,1048.6 1663.0,1048.8 1665.5,1048.9 1668.0,1049.0 1670.5,1049.0 1673.0,1049.0 1675.5,1049.0 1678.0,1049.0 1680.5,1048.8 1683.0,1048.7 1685.5,1048.5 1688.0,1048.3 1690.5,1048.0 1692.0,1047.6 1693.5,1046.9 1695.0,1046.0 1696.5,1044.8 1698.0,1043.5 1699.5,1041.9 1701.0,1039.8 1702.5,1035.9 1704.0,1030.4 1705.5,1023.5 1707.0,1015.5 1708.5,1006.6 1710.0,997.0 1711.5,985.2 1713.0,970.2 1714.5,952.6 1716.0,933.2 1717.5,913.0 1719.0,892.7 1720.5,873.0 1722.0,851.6 1723.5,828.7 1725.0,805.4 1726.5,783.1 1728.0,762.8 1729.5,746.0 1731.0,732.6 1732.5,719.5 1734.0,707.2 1735.5,696.3 1737.0,687.7 1738.5,682.1 1740.0,680.0 1741.5,680.8 1743.0,683.0 1744.5,686.4 1746.0,690.5 1747.5,695.2 1749.0,700.2 1750.5,705.0 1752.0,709.5 1753.5,713.9 1755.0,718.7 1756.5,723.7 1758.0,728.9 1759.5,734.1 1761.0,739.3 1762.5,744.3 1764.0,748.9 1765.5,753.2 1767.0,757.3 1768.5,761.2 1770.0,765.0 1771.5,768.8 1774.0,774.8 1776.5,780.6 1779.0,786.3 1781.5,791.9 1784.0,797.6 1786.5,803.3 1789.0,809.0 1791.5,814.6 1794.0,820.1 1796.5,825.5 1799.0,830.9 1801.5,836.1 1804.0,841.3 1806.5,846.4 1809.0,851.4 1811.5,856.4 1814.0,861.3 1816.5,866.2 1819.0,871.0 1821.5,875.7 1824.0,880.3 1826.5,884.9 1829.0,889.3 1831.5,893.6 1834.0,897.8 1836.5,902.0 1839.0,906.2 1841.5,910.3 1844.0,914.3 1846.5,918.3 1849.0,922.2 1851.5,925.9 1854.0,929.5 1856.5,933.0 1859.0,936.3 1861.5,939.4 1864.0,942.3 1866.5,945.1 1869.0,947.8 1871.5,950.5 1874.0,953.0 1876.5,955.5 1879.0,957.9 1881.5,960.2 1884.0,962.4 1886.5,964.5 1889.0,966.6 1891.5,968.7 1894.0,971.0 1896.5,973.3 1899.0,975.6 1901.5,977.9 1903.5,979.6 1905.5,981.1 1907.5,982.5 1909.5,983.6 1911.5,984.4 1913.5,984.9 1915.5,984.9 1917.5,983.7 1919.5,981.0 1921.5,977.0 1923.5,972.0 1925.5,966.2 1927.5,959.8 1929.5,953.1 1931.5,946.2 1933.5,939.5 1935.5,933.1 1937.5,926.2 1939.5,918.5 1941.5,910.2 1943.5,901.3 1945.5,891.9 1947.5,882.2 1949.5,872.4 1951.5,862.4 1953.5,852.5 1955.5,842.7 1957.5,833.3 1959.5,824.2 1961.5,815.2 1963.5,805.8 1965.5,796.1 1967.5,786.2 1969.5,776.2 1971.5,766.5 1973.5,757.1 1975.5,748.3 1977.5,740.2 1979.5,733.0 1981.5,726.7 1983.5,721.0 1985.5,715.6 1987.5,710.7 1989.5,705.9 1991.5,701.3 1993.5,696.8 1995.5,692.1 1997.5,687.3 1999.5,682.2 2001.5,676.2 2003.5,668.9 2005.5,660.8 2007.5,652.8 2009.5,645.9 2011.5,640.7 2013.5,638.1 2015.5,638.6 2017.5,641.5 2019.5,646.3 2021.5,652.6 2023.5,660.2 2025.5,668.5 2027.5,677.2 2029.5,686.0 2031.5,694.5 2033.5,702.2 2035.5,708.8 2037.5,714.5 2039.5,720.1 2041.5,725.7 2043.5,731.0 2045.5,735.9 2047.5,740.3 2049.5,743.9 2051.5,747.0 2053.5,750.1 2055.5,753.0 2057.5,755.7 2059.5,758.0 2061.5,759.8 2063.5,760.8 2065.5,761.0 2067.5,760.2 2069.5,758.2 2071.5,755.2 2073.5,751.5 2075.5,747.2 2077.5,742.6 2079.5,737.8 2081.5,732.6 2083.5,725.9 2085.5,717.9 2087.5,709.1 2089.5,699.5 2091.5,689.5 2093.5,679.3 2095.5,669.3 2097.5,659.5 2099.5,650.3 2101.5,641.7 2103.5,633.3 2105.5,624.8 2107.5,616.4 2109.5,608.1 2111.5,599.6 2113.5,591.1 2115.5,582.5 2117.5,573.7 2119.5,564.7 2121.5,555.4 2123.5,545.9 2125.5,536.0 2127.5,525.7 2129.5,514.6 2131.5,503.4 2133.0,495.0" stroke="#5cb047"/>
<polyline points="243.0,753.0 248.0,751.4 253.0,749.9 258.0,748.3 263.0,746.8 268.0,745.2 273.0,743.7 278.0,742.2 283.0,740.7 288.0,739.2 293.0,737.7 298.0,736.3 303.0,734.9 308.0,733.5 313.0,732.1 318.0,730.8 323.0,729.5 328.0,728.2 333.0,726.9 338.0,725.8 343.0,724.6 348.0,723.5 353.0,722.4 358.0,721.4 363.0,720.4 368.0,719.5 373.0,718.6 378.0,717.8 383.0,717.1 388.0,716.4 393.0,715.8 398.0,715.2 403.0,714.7 408.0,714.3 413.0,713.9 418.0,713.6 423.0,713.4 428.0,713.2 433.0,713.1 438.0,713.1 443.0,713.1 448.0,713.2 453.0,713.3 458.0,713.5 463.0,713.7 468.0,714.0 473.0,714.4 478.0,714.8 483.0,715.3 488.0,715.8 493.0,716.4 498.0,717.1 503.0,717.8 508.0,718.5 513.0,719.3 518.0,720.1 523.0,721.0 528.0,721.9 533.0,722.9 538.0,724.0 543.0,725.0 548.0,726.1 553.0,727.3 558.0,728.5 563.0,729.8 568.0,731.0 573.0,732.4 578.0,733.7 583.0,735.2 588.0,736.6 593.0,738.1 598.0,739.6 603.0,741.2 608.0,742.9 613.0,744.5 618.0,746.2 623.0,748.0 628.0,749.8 633.0,751.6 638.0,753.5 643.0,755.4 648.0,757.4 653.0,759.4 658.0,761.5 663.0,763.6 668.0,765.7 673.0,767.9 678.0,770.1 683.0,772.4 688.0,774.7 693.0,777.1 698.0,779.5 703.0,782.0 708.0,784.5 713.0,787.0 718.0,789.6 723.0,792.2 728.0,794.9 733.0,797.6 738.0,800.3 743.0,803.1 748.0,805.9 753.0,808.7 758.0,811.5 763.0,814.4 768.0,817.3 773.0,820.2 778.0,823.2 783.0,826.1 788.0,829.1 793.0,832.1 798.0,835.1 803.0,838.1 808.0,841.2 813.0,844.2 818.0,847.3 823.0,850.3 828.0,853.4 833.0,856.4 838.0,859.5 843.0,862.6 848.0,865.6 853.0,868.7 858.0,871.7 863.0,874.7 868.0,877.8 873.0,880.8 878.0,883.8 883.0,886.8 888.0,889.8 893.0,892.7 898.0,895.7 903.0,898.6 908.0,901.6 913.0,904.5 918.0,907.4 923.0,910.3 928.0,913.2 933.0,916.1 938.0,919.0 943.0,921.9 948.0,924.7 953.0,927.6 958.0,930.4 963.0,933.3 968.0,936.1 973.0,938.9 978.0,941.8 983.0,944.6 988.0,947.4 993.0,950.2 998.0,953.0 1003.0,955.9 1008.0,958.7 1013.0,961.7 1018.0,964.6 1023.0,967.4 1028.0,970.0 1033.0,972.2 1038.0,974.3 1043.0,976.2 1045.5,977.1 1048.0,978.1 1050.5,979.1 1053.0,980.2 1055.5,981.3 1058.0,982.4 1060.5,983.5 1063.0,984.6 1065.5,985.5 1068.0,986.4 1070.5,987.4 1073.0,988.4 1075.5,989.3 1078.0,989.9 1080.5,990.3 1083.0,989.3 1085.5,986.1 1088.0,983.4 1090.5,981.7 1093.0,979.9 1095.5,978.1 1098.0,976.4 1100.5,974.2 1103.0,971.7 1105.5,968.9 1108.0,965.5 1110.5,962.2 1113.0,958.6 1115.5,954.6 1118.0,950.5 1120.5,946.3 1123.0,942.2 1125.5,938.4 1128.0,934.9 1130.5,931.9 1133.0,929.0 1135.5,926.3 1138.0,923.8 1140.5,921.5 1143.0,919.0 1145.5,916.5 1148.0,914.2 1150.5,912.5 1153.0,911.8 1155.5,911.5 1158.0,911.4 1160.5,911.4 1163.0,911.6 1165.5,911.8 1168.0,912.3 1170.5,913.0 1173.0,914.0 1175.5,915.3 1178.0,916.7 1180.5,918.3 1183.0,920.0 1185.5,921.8 1188.0,923.7 1190.5,925.7 1193.0,927.6 1195.5,929.6 1198.0,931.5 1200.5,933.4 1203.0,935.3 1205.5,937.5 1208.0,939.8 1210.5,942.2 1213.0,944.8 1215.5,947.4 1218.0,950.2 1220.5,953.0 1223.0,955.9 1225.5,958.8 1228.0,961.7 1230.5,964.6 1233.0,967.5 1235.5,970.4 1238.0,973.2 1240.5,976.1 1243.0,979.0 1245.5,981.8 1248.0,984.7 1250.5,987.6 1253.0,990.5 1255.5,993.5 1258.0,996.5 1260.5,999.5 1263.0,1002.6 1265.5,1005.8 1268.0,1009.1 1270.5,1012.4 1273.0,1015.7 1275.5,1019.1 1278.0,1022.3 1280.5,1025.5 1283.0,1028.6 1285.5,1031.6 1288.0,1034.4 1290.5,1037.1 1293.0,1039.5 1295.5,1041.7 1298.0,1043.7 1300.5,1045.3 1303.0,1046.7 1305.5,1047.9 1308.0,1049.0 1310.5,1049.9 1313.0,1050.7 1315.5,1051.3 1318.0,1051.8 1320.5,1052.2 1323.0,1052.5 1325.5,1052.8 1328.0,1053.0 1330.5,1053.1 1333.0,1053.2 1335.5,1053.2 1338.0,1053.3 1340.5,1053.3 1343.0,1053.3 1345.5,1053.4 1348.0,1053.4 1350.5,1053.5 1353.0,1053.6 1355.5,1053.8 1358.0,1053.9 1360.5,1054.1 1363.0,1054.4 1365.5,1054.6 1368.0,1054.9 1370.5,1055.3 1373.0,1055.7 1375.5,1056.1 1378.0,1056.5 1380.5,1057.0 1383.0,1057.5 1385.5,1058.1 1388.0,1058.7 1390.5,1059.2 1393.0,1059.8 1395.5,1060.3 1398.0,1060.8 1400.5,1061.3 1403.0,1061.8 1405.5,1062.2 1408.0,1062.7 1410.5,1063.1 1413.0,1063.5 1415.5,1064.0 1418.0,1064.4 1420.5,1064.8 1423.0,1065.2 1425.5,1065.6 1428.0,1066.1 1430.5,1066.5 1433.0,1066.9 1435.5,1067.3 1438.0,1067.7 1440.5,1068.2 1443.0,1068.6 1445.5,1069.1 1448.0,1069.6 1450.5,1070.1 1453.0,1070.6 1455.5,1071.1 1458.0,1071.6 1460.5,1072.1 1463.0,1072.5 1465.5,1073.0 1468.0,1073.5 1470.5,1073.9 1473.0,1074.3 1475.5,1074.7 1478.0,1075.0 1480.5,1075.3 1483.0,1075.5 1485.5,1075.7 1488.0,1075.9 1490.5,1076.0 1493.0,1076.0 1495.5,1075.9 1498.0,1075.5 1500.5,1074.9 1503.0,1074.1 1505.5,1073.2 1508.0,1072.2 1510.5,1071.1 1513.0,1070.0 1515.5,1068.9 1518.0,1067.5 1520.5,1065.8 1523.0,1064.0 1525.5,1061.9 1528.0,1059.8 1530.5,1057.8 1533.0,1055.8 1535.5,1054.0 1538.0,1052.3 1540.5,1050.6 1543.0,1048.9 1545.5,1047.2 1548.0,1045.6 1550.5,1044.0 1553.0,1042.4 1555.5,1041.0 1558.0,1039.6 1560.5,1038.3 1563.0,1037.0 1565.5,1035.8 1568.0,1034.5 1570.5,1033.2 1573.0,1031.7 1575.5,1030.1 1578.0,1028.2 1580.5,1025.9 1583.0,1023.4 1585.5,1019.6 1588.0,1015.1 1590.5,1012.5 1593.0,1013.4 1595.5,1016.2 1598.0,1018.7 1600.5,1020.3 1603.0,1021.7 1605.5,1022.9 1608.0,1023.7 1610.5,1024.5 1613.0,1025.2 1615.5,1025.8 1618.0,1026.4 1620.5,1027.0 1623.0,1027.5 1625.5,1028.0 1628.0,1028.4 1630.5,1028.9 1633.0,1029.2 1635.5,1029.6 1638.0,1029.9 1640.5,1030.3 1643.0,1030.6 1645.5,1030.9 1648.0,1031.2 1650.5,1031.5 1653.0,1031.8 1655.5,1032.1 1658.0,1032.4 1660.5,1032.6 1663.0,1032.9 1665.5,1033.1 1668.0,1033.2 1670.5,1033.3 1673.0,1033.4 1675.5,1033.5 1678.0,1033.5 1680.5,1033.4 1683.0,1033.3 1685.5,1033.2 1688.0,1033.0 1690.5,1032.8 1692.0,1032.4 1693.5,1031.7 1695.0,1030.8 1696.5,1029.5 1698.0,1028.0 1699.5,1026.3 1701.0,1024.1 1702.5,1020.1 1704.0,1014.7 1705.5,1008.0 1707.0,1000.3 1708.5,991.8 1710.0,982.9 1711.5,971.8 1713.0,957.5 1714.5,940.9 1716.0,922.9 1717.5,904.2 1719.0,885.9 1720.5,868.5 1722.0,849.6 1723.5,829.4 1725.0,809.0 1726.5,789.6 1728.0,772.2 1729.5,758.1 1731.0,747.1 1732.5,736.2 1734.0,725.6 1735.5,716.3 1737.0,708.7 1738.5,703.7 1740.0,702.0 1741.5,702.9 1743.0,705.3 1744.5,708.7 1746.0,713.0 1747.5,717.8 1749.0,722.7 1750.5,727.7 1752.0,732.2 1753.5,736.6 1755.0,741.4 1756.5,746.4 1758.0,751.6 1759.5,756.8 1761.0,761.9 1762.5,766.8 1764.0,771.4 1765.5,775.6 1767.0,779.6 1768.5,783.5 1770.0,787.3 1771.5,791.0 1774.0,796.9 1776.5,802.6 1779.0,808.2 1781.5,813.7 1784.0,819.2 1786.5,824.6 1789.0,830.0 1791.5,835.3 1794.0,840.6 1796.5,845.7 1799.0,850.8 1801.5,855.7 1804.0,860.6 1806.5,865.4 1809.0,870.2 1811.5,874.9 1814.0,879.6 1816.5,884.2 1819.0,888.8 1821.5,893.3 1824.0,897.6 1826.5,902.0 1829.0,906.2 1831.5,910.3 1834.0,914.3 1836.5,918.3 1839.0,922.3 1841.5,926.2 1844.0,930.1 1846.5,933.9 1849.0,937.5 1851.5,941.1 1854.0,944.6 1856.5,948.0 1859.0,951.1 1861.5,954.2 1864.0,957.0 1866.5,959.8 1869.0,962.5 1871.5,965.1 1874.0,967.7 1876.5,970.1 1879.0,972.5 1881.5,974.8 1884.0,977.0 1886.5,979.2 1889.0,981.3 1891.5,983.4 1894.0,985.7 1896.5,988.1 1899.0,990.5 1901.5,992.8 1903.5,994.5 1905.5,996.1 1907.5,997.4 1909.5,998.6 1911.5,999.4 1913.5,999.9 1915.5,999.9 1917.5,998.8 1919.5,996.2 1921.5,992.4 1923.5,987.6 1925.5,982.1 1927.5,975.9 1929.5,969.4 1931.5,962.8 1933.5,956.2 1935.5,949.8 1937.5,942.6 1939.5,934.5 1941.5,925.5 1943.5,915.8 1945.5,905.5 1947.5,895.0 1949.5,884.2 1951.5,873.4 1953.5,862.8 1955.5,852.4 1957.5,842.5 1959.5,833.2 1961.5,824.2 1963.5,814.9 1965.5,805.4 1967.5,795.7 1969.5,786.1 1971.5,776.7 1973.5,767.6 1975.5,758.9 1977.5,750.9 1979.5,743.6 1981.5,737.2 1983.5,731.2 1985.5,725.6 1987.5,720.3 1989.5,715.3 1991.5,710.4 1993.5,705.6 1995.5,700.7 1997.5,695.7 1999.5,690.5 2001.5,684.6 2003.5,677.3 2005.5,669.4 2007.5,661.6 2009.5,654.7 2011.5,649.6 2013.5,647.0 2015.5,647.3 2017.5,650.0 2019.5,654.5 2021.5,660.7 2023.5,668.0 2025.5,676.2 2027.5,684.8 2029.5,693.4 2031.5,701.8 2033.5,709.4 2035.5,716.0 2037.5,721.6 2039.5,727.3 2041.5,732.8 2043.5,738.2 2045.5,743.2 2047.5,747.6 2049.5,751.4 2051.5,754.6 2053.5,757.9 2055.5,761.1 2057.5,764.1 2059.5,766.7 2061.5,768.7 2063.5,770.1 2065.5,770.6 2067.5,770.1 2069.5,768.4 2071.5,765.8 2073.5,762.4 2075.5,758.5 2077.5,754.2 2079.5,749.8 2081.5,744.8 2083.5,738.4 2085.5,730.6 2087.5,721.8 2089.5,712.3 2091.5,702.4 2093.5,692.3 2095.5,682.3 2097.5,672.7 2099.5,663.8 2101.5,655.6 2103.5,647.4 2105.5,639.4 2107.5,631.4 2109.5,623.5 2111.5,615.6 2113.5,607.8 2115.5,600.0 2117.5,592.1 2119.5,584.3 2121.5,576.3 2123.5,568.3 2125.5,560.1 2127.5,551.9 2129.5,543.6 2131.5,535.3 2133.0,529.0" stroke="#7b2a80"/>
<polyline points="243.0,772.0 248.0,770.6 253.0,769.2 258.0,767.9 263.0,766.5 268.0,765.1 273.0,763.8 278.0,762.5 283.0,761.1 288.0,759.8 293.0,758.6 298.0,757.3 303.0,756.1 308.0,754.9 313.0,753.7 318.0,752.6 323.0,751.5 328.0,750.5 333.0,749.4 338.0,748.5 343.0,747.5 348.0,746.7 353.0,745.8 358.0,745.1 363.0,744.3 368.0,743.7 373.0,743.1 378.0,742.6 383.0,742.1 388.0,741.7 393.0,741.3 398.0,741.1 403.0,740.9 408.0,740.8 413.0,740.7 418.0,740.8 423.0,740.9 428.0,741.1 433.0,741.3 438.0,741.6 443.0,742.0 448.0,742.4 453.0,742.9 458.0,743.4 463.0,744.0 468.0,744.7 473.0,745.4 478.0,746.2 483.0,747.0 488.0,747.9 493.0,748.8 498.0,749.8 503.0,750.8 508.0,751.8 513.0,752.9 518.0,754.1 523.0,755.3 528.0,756.5 533.0,757.7 538.0,759.0 543.0,760.3 548.0,761.7 553.0,763.0 558.0,764.4 563.0,765.9 568.0,767.3 573.0,768.8 578.0,770.3 583.0,771.8 588.0,773.4 593.0,775.0 598.0,776.6 603.0,778.3 608.0,780.0 613.0,781.7 618.0,783.4 623.0,785.2 628.0,787.0 633.0,788.9 638.0,790.8 643.0,792.7 648.0,794.7 653.0,796.7 658.0,798.7 663.0,800.8 668.0,802.9 673.0,805.0 678.0,807.2 683.0,809.5 688.0,811.8 693.0,814.1 698.0,816.4 703.0,818.9 708.0,821.3 713.0,823.8 718.0,826.3 723.0,828.9 728.0,831.5 733.0,834.1 738.0,836.8 743.0,839.5 748.0,842.3 753.0,845.0 758.0,847.8 763.0,850.6 768.0,853.4 773.0,856.3 778.0,859.1 783.0,862.0 788.0,864.9 793.0,867.8 798.0,870.7 803.0,873.7 808.0,876.6 813.0,879.5 818.0,882.5 823.0,885.4 828.0,888.4 833.0,891.3 838.0,894.2 843.0,897.1 848.0,900.1 853.0,903.0 858.0,905.9 863.0,908.8 868.0,911.6 873.0,914.5 878.0,917.3 883.0,920.1 888.0,922.9 893.0,925.7 898.0,928.4 903.0,931.2 908.0,933.9 913.0,936.6 918.0,939.3 923.0,942.0 928.0,944.6 933.0,947.3 938.0,949.9 943.0,952.5 948.0,955.2 953.0,957.8 958.0,960.4 963.0,962.9 968.0,965.5 973.0,968.1 978.0,970.6 983.0,973.2 988.0,975.7 993.0,978.3 998.0,980.8 1003.0,983.4 1008.0,985.9 1013.0,988.4 1018.0,991.0 1023.0,993.5 1028.0,996.0 1033.0,998.3 1038.0,1000.5 1043.0,1002.5 1045.5,1003.6 1048.0,1004.6 1050.5,1005.7 1053.0,1006.8 1055.5,1007.9 1058.0,1009.1 1060.5,1010.2 1063.0,1011.3 1065.5,1012.2 1068.0,1013.1 1070.5,1014.1 1073.0,1015.1 1075.5,1015.9 1078.0,1016.6 1080.5,1017.0 1083.0,1016.0 1085.5,1012.6 1088.0,1009.5 1090.5,1007.4 1093.0,1005.2 1095.5,1003.1 1098.0,1001.2 1100.5,998.9 1103.0,996.4 1105.5,993.7 1108.0,990.5 1110.5,987.4 1113.0,984.1 1115.5,980.5 1118.0,976.9 1120.5,973.2 1123.0,969.7 1125.5,966.4 1128.0,963.5 1130.5,960.9 1133.0,958.6 1135.5,956.4 1138.0,954.3 1140.5,952.5 1143.0,950.5 1145.5,948.5 1148.0,946.7 1150.5,945.4 1153.0,944.9 1155.5,944.9 1158.0,945.0 1160.5,945.3 1163.0,945.6 1165.5,945.7 1168.0,945.9 1170.5,946.2 1173.0,946.7 1175.5,947.3 1178.0,948.0 1180.5,948.9 1183.0,949.9 1185.5,951.1 1188.0,952.3 1190.5,953.7 1193.0,955.2 1195.5,956.8 1198.0,958.6 1200.5,960.4 1203.0,962.3 1205.5,964.5 1208.0,966.7 1210.5,969.2 1213.0,971.7 1215.5,974.3 1218.0,977.0 1220.5,979.7 1223.0,982.5 1225.5,985.3 1228.0,988.1 1230.5,990.8 1233.0,993.6 1235.5,996.3 1238.0,999.0 1240.5,1001.7 1243.0,1004.3 1245.5,1007.0 1248.0,1009.7 1250.5,1012.4 1253.0,1015.1 1255.5,1017.9 1258.0,1020.6 1260.5,1023.5 1263.0,1026.4 1265.5,1029.5 1268.0,1032.6 1270.5,1035.8 1273.0,1039.0 1275.5,1042.2 1278.0,1045.4 1280.5,1048.5 1283.0,1051.5 1285.5,1054.3 1288.0,1057.1 1290.5,1059.6 1293.0,1061.9 1295.5,1064.0 1298.0,1065.8 1300.5,1067.3 1303.0,1068.6 1305.5,1069.7 1308.0,1070.6 1310.5,1071.5 1313.0,1072.2 1315.5,1072.8 1318.0,1073.3 1320.5,1073.7 1323.0,1074.0 1325.5,1074.2 1328.0,1074.4 1330.5,1074.6 1333.0,1074.7 1335.5,1074.8 1338.0,1074.9 1340.5,1075.0 1343.0,1075.1 1345.5,1075.2 1348.0,1075.3 1350.5,1075.5 1353.0,1075.7 1355.5,1075.8 1358.0,1076.0 1360.5,1076.3 1363.0,1076.5 1365.5,1076.8 1368.0,1077.1 1370.5,1077.5 1373.0,1077.8 1375.5,1078.2 1378.0,1078.7 1380.5,1079.1 1383.0,1079.6 1385.5,1080.1 1388.0,1080.6 1390.5,1081.1 1393.0,1081.6 1395.5,1082.0 1398.0,1082.4 1400.5,1082.8 1403.0,1083.2 1405.5,1083.6 1408.0,1084.0 1410.5,1084.4 1413.0,1084.7 1415.5,1085.0 1418.0,1085.4 1420.5,1085.7 1423.0,1086.0 1425.5,1086.3 1428.0,1086.7 1430.5,1087.0 1433.0,1087.3 1435.5,1087.6 1438.0,1087.9 1440.5,1088.3 1443.0,1088.6 1445.5,1089.0 1448.0,1089.4 1450.5,1089.7 1453.0,1090.1 1455.5,1090.5 1458.0,1090.9 1460.5,1091.3 1463.0,1091.7 1465.5,1092.0 1468.0,1092.4 1470.5,1092.7 1473.0,1093.0 1475.5,1093.3 1478.0,1093.6 1480.5,1093.8 1483.0,1094.0 1485.5,1094.2 1488.0,1094.3 1490.5,1094.4 1493.0,1094.4 1495.5,1094.3 1498.0,1094.0 1500.5,1093.4 1503.0,1092.8 1505.5,1092.0 1508.0,1091.1 1510.5,1090.1 1513.0,1089.1 1515.5,1088.1 1518.0,1086.9 1520.5,1085.2 1523.0,1083.3 1525.5,1081.3 1528.0,1079.2 1530.5,1077.1 1533.0,1075.2 1535.5,1073.5 1538.0,1072.0 1540.5,1070.4 1543.0,1068.9 1545.5,1067.4 1548.0,1066.0 1550.5,1064.6 1553.0,1063.3 1555.5,1062.0 1558.0,1060.8 1560.5,1059.7 1563.0,1058.7 1565.5,1057.7 1568.0,1056.7 1570.5,1055.5 1573.0,1054.3 1575.5,1052.8 1578.0,1051.0 1580.5,1048.7 1583.0,1046.1 1585.5,1042.3 1588.0,1037.9 1590.5,1035.2 1593.0,1036.2 1595.5,1039.1 1598.0,1041.6 1600.5,1043.2 1603.0,1044.6 1605.5,1045.6 1608.0,1046.4 1610.5,1047.1 1613.0,1047.7 1615.5,1048.3 1618.0,1048.9 1620.5,1049.4 1623.0,1049.8 1625.5,1050.3 1628.0,1050.7 1630.5,1051.0 1633.0,1051.4 1635.5,1051.6 1638.0,1051.9 1640.5,1052.1 1643.0,1052.4 1645.5,1052.6 1648.0,1052.8 1650.5,1053.0 1653.0,1053.2 1655.5,1053.3 1658.0,1053.5 1660.5,1053.6 1663.0,1053.8 1665.5,1053.8 1668.0,1053.9 1670.5,1053.9 1673.0,1053.9 1675.5,1053.9 1678.0,1053.8 1680.5,1053.7 1683.0,1053.5 1685.5,1053.3 1688.0,1053.1 1690.5,1052.7 1692.0,1052.3 1693.5,1051.7 1695.0,1050.8 1696.5,1049.7 1698.0,1048.3 1699.5,1046.8 1701.0,1044.8 1702.5,1041.1 1704.0,1036.1 1705.5,1029.9 1707.0,1022.7 1708.5,1014.8 1710.0,1006.4 1711.5,996.1 1713.0,982.8 1714.5,967.4 1716.0,950.6 1717.5,933.1 1719.0,915.7 1720.5,898.9 1722.0,880.6 1723.5,860.9 1725.0,840.9 1726.5,821.7 1728.0,804.3 1729.5,789.8 1731.0,778.2 1732.5,766.6 1734.0,755.4 1735.5,745.4 1737.0,737.3 1738.5,732.0 1740.0,730.0 1741.5,730.8 1743.0,733.0 1744.5,736.2 1746.0,740.3 1747.5,744.8 1749.0,749.5 1750.5,754.1 1752.0,758.3 1753.5,762.3 1755.0,766.7 1756.5,771.3 1758.0,775.9 1759.5,780.6 1761.0,785.2 1762.5,789.6 1764.0,793.6 1765.5,797.3 1767.0,800.8 1768.5,804.1 1770.0,807.3 1771.5,810.4 1774.0,815.3 1776.5,820.1 1779.0,824.6 1781.5,829.1 1784.0,833.5 1786.5,837.9 1789.0,842.2 1791.5,846.4 1794.0,850.6 1796.5,854.7 1799.0,858.7 1801.5,862.6 1804.0,866.5 1806.5,870.4 1809.0,874.2 1811.5,878.0 1814.0,881.8 1816.5,885.5 1819.0,889.2 1821.5,892.9 1824.0,896.5 1826.5,900.0 1829.0,903.5 1831.5,906.9 1834.0,910.2 1836.5,913.6 1839.0,916.9 1841.5,920.2 1844.0,923.4 1846.5,926.6 1849.0,929.8 1851.5,932.8 1854.0,935.8 1856.5,938.6 1859.0,941.3 1861.5,943.8 1864.0,946.2 1866.5,948.5 1869.0,950.8 1871.5,952.9 1874.0,955.0 1876.5,957.0 1879.0,959.0 1881.5,960.9 1884.0,962.8 1886.5,964.6 1889.0,966.4 1891.5,968.2 1894.0,970.1 1896.5,972.2 1899.0,974.3 1901.5,976.4 1903.5,978.0 1905.5,979.4 1907.5,980.7 1909.5,981.7 1911.5,982.4 1913.5,982.9 1915.5,982.9 1917.5,981.7 1919.5,979.1 1921.5,975.3 1923.5,970.5 1925.5,965.0 1927.5,959.0 1929.5,952.7 1931.5,946.4 1933.5,940.3 1935.5,934.5 1937.5,928.3 1939.5,921.3 1941.5,913.6 1943.5,905.2 1945.5,896.4 1947.5,887.2 1949.5,877.8 1951.5,868.2 1953.5,858.7 1955.5,849.3 1957.5,840.3 1959.5,831.7 1961.5,823.6 1963.5,815.1 1965.5,806.5 1967.5,797.8 1969.5,789.3 1971.5,781.0 1973.5,773.2 1975.5,765.9 1977.5,759.2 1979.5,753.2 1981.5,747.9 1983.5,743.0 1985.5,738.5 1987.5,734.1 1989.5,730.0 1991.5,725.9 1993.5,721.8 1995.5,717.8 1997.5,713.7 1999.5,709.5 2001.5,704.7 2003.5,698.8 2005.5,692.5 2007.5,686.4 2009.5,681.0 2011.5,677.0 2013.5,675.1 2015.5,675.7 2017.5,678.4 2019.5,683.0 2021.5,689.1 2023.5,696.2 2025.5,704.1 2027.5,712.4 2029.5,720.8 2031.5,728.8 2033.5,736.2 2035.5,742.6 2037.5,748.0 2039.5,753.4 2041.5,758.6 2043.5,763.7 2045.5,768.4 2047.5,772.7 2049.5,776.4 2051.5,779.8 2053.5,783.2 2055.5,786.5 2057.5,789.6 2059.5,792.4 2061.5,794.6 2063.5,796.1 2065.5,796.8 2067.5,796.4 2069.5,794.8 2071.5,792.3 2073.5,788.9 2075.5,785.0 2077.5,780.7 2079.5,776.2 2081.5,771.2 2083.5,764.4 2085.5,756.2 2087.5,746.8 2089.5,736.7 2091.5,726.1 2093.5,715.3 2095.5,704.8 2097.5,694.8 2099.5,685.6 2101.5,677.3 2103.5,669.1 2105.5,661.0 2107.5,652.9 2109.5,645.0 2111.5,637.2 2113.5,629.6 2115.5,622.1 2117.5,614.8 2119.5,607.6 2121.5,600.6 2123.5,593.5 2125.5,586.4 2127.5,579.3 2129.5,572.2 2131.5,565.2 2133.0,560.0" stroke="#7c7232"/>
<polyline points="243.0,823.0 248.0,821.6 253.0,820.3 258.0,818.9 263.0,817.6 268.0,816.2 273.0,814.9 278.0,813.6 283.0,812.2 288.0,811.0 293.0,809.7 298.0,808.4 303.0,807.2 308.0,806.0 313.0,804.8 318.0,803.7 323.0,802.6 328.0,801.5 333.0,800.5 338.0,799.5 343.0,798.5 348.0,797.6 353.0,796.7 358.0,795.9 363.0,795.1 368.0,794.3 373.0,793.7 378.0,793.0 383.0,792.5 388.0,792.0 393.0,791.5 398.0,791.1 403.0,790.8 408.0,790.6 413.0,790.4 418.0,790.3 423.0,790.2 428.0,790.2 433.0,790.2 438.0,790.4 443.0,790.5 448.0,790.8 453.0,791.0 458.0,791.4 463.0,791.8 468.0,792.2 473.0,792.7 478.0,793.2 483.0,793.8 488.0,794.4 493.0,795.1 498.0,795.8 503.0,796.6 508.0,797.4 513.0,798.2 518.0,799.1 523.0,800.0 528.0,800.9 533.0,801.9 538.0,802.9 543.0,803.9 548.0,805.0 553.0,806.1 558.0,807.2 563.0,808.4 568.0,809.6 573.0,810.8 578.0,812.0 583.0,813.3 588.0,814.6 593.0,815.9 598.0,817.3 603.0,818.6 608.0,820.1 613.0,821.5 618.0,823.0 623.0,824.5 628.0,826.1 633.0,827.6 638.0,829.3 643.0,830.9 648.0,832.6 653.0,834.4 658.0,836.1 663.0,838.0 668.0,839.8 673.0,841.7 678.0,843.6 683.0,845.6 688.0,847.7 693.0,849.7 698.0,851.8 703.0,854.0 708.0,856.2 713.0,858.5 718.0,860.7 723.0,863.1 728.0,865.4 733.0,867.9 738.0,870.3 743.0,872.8 748.0,875.3 753.0,877.8 758.0,880.4 763.0,883.0 768.0,885.6 773.0,888.2 778.0,890.9 783.0,893.6 788.0,896.3 793.0,899.0 798.0,901.7 803.0,904.5 808.0,907.2 813.0,910.0 818.0,912.8 823.0,915.5 828.0,918.3 833.0,921.1 838.0,923.9 843.0,926.7 848.0,929.5 853.0,932.3 858.0,935.1 863.0,937.9 868.0,940.6 873.0,943.4 878.0,946.1 883.0,948.9 888.0,951.6 893.0,954.3 898.0,957.0 903.0,959.7 908.0,962.4 913.0,965.1 918.0,967.8 923.0,970.4 928.0,973.1 933.0,975.7 938.0,978.4 943.0,981.0 948.0,983.6 953.0,986.2 958.0,988.8 963.0,991.4 968.0,994.0 973.0,996.6 978.0,999.2 983.0,1001.8 988.0,1004.4 993.0,1007.0 998.0,1009.6 1003.0,1012.1 1008.0,1014.7 1013.0,1017.4 1018.0,1020.0 1023.0,1022.6 1028.0,1025.0 1033.0,1027.3 1038.0,1029.6 1043.0,1031.7 1045.5,1032.8 1048.0,1033.9 1050.5,1034.9 1053.0,1036.1 1055.5,1037.2 1058.0,1038.4 1060.5,1039.5 1063.0,1040.5 1065.5,1041.5 1068.0,1042.4 1070.5,1043.3 1073.0,1044.3 1075.5,1045.1 1078.0,1045.7 1080.5,1046.1 1083.0,1045.3 1085.5,1042.1 1088.0,1038.9 1090.5,1036.4 1093.0,1033.7 1095.5,1031.2 1098.0,1028.9 1100.5,1026.5 1103.0,1023.9 1105.5,1021.1 1108.0,1018.0 1110.5,1015.0 1113.0,1012.0 1115.5,1008.9 1118.0,1005.7 1120.5,1002.6 1123.0,999.6 1125.5,996.8 1128.0,994.4 1130.5,992.3 1133.0,990.4 1135.5,988.7 1138.0,987.1 1140.5,985.6 1143.0,984.1 1145.5,982.6 1148.0,981.2 1150.5,980.2 1153.0,980.0 1155.5,980.4 1158.0,981.3 1160.5,982.4 1163.0,983.6 1165.5,984.6 1168.0,985.6 1170.5,986.7 1173.0,987.8 1175.5,989.1 1178.0,990.4 1180.5,991.8 1183.0,993.3 1185.5,994.9 1188.0,996.5 1190.5,998.2 1193.0,999.9 1195.5,1001.7 1198.0,1003.5 1200.5,1005.4 1203.0,1007.3 1205.5,1009.3 1208.0,1011.3 1210.5,1013.3 1213.0,1015.3 1215.5,1017.4 1218.0,1019.4 1220.5,1021.4 1223.0,1023.3 1225.5,1025.2 1228.0,1027.1 1230.5,1028.8 1233.0,1030.5 1235.5,1032.1 1238.0,1033.6 1240.5,1035.2 1243.0,1036.6 1245.5,1038.1 1248.0,1039.6 1250.5,1041.1 1253.0,1042.6 1255.5,1044.2 1258.0,1045.9 1260.5,1047.6 1263.0,1049.5 1265.5,1051.6 1268.0,1053.8 1270.5,1056.0 1273.0,1058.4 1275.5,1060.8 1278.0,1063.2 1280.5,1065.6 1283.0,1067.9 1285.5,1070.2 1288.0,1072.4 1290.5,1074.5 1293.0,1076.5 1295.5,1078.3 1298.0,1079.9 1300.5,1081.3 1303.0,1082.5 1305.5,1083.6 1308.0,1084.7 1310.5,1085.6 1313.0,1086.5 1315.5,1087.3 1318.0,1088.1 1320.5,1088.8 1323.0,1089.4 1325.5,1090.0 1328.0,1090.6 1330.5,1091.2 1333.0,1091.7 1335.5,1092.2 1338.0,1092.7 1340.5,1093.3 1343.0,1093.8 1345.5,1094.3 1348.0,1094.9 1350.5,1095.4 1353.0,1096.0 1355.5,1096.5 1358.0,1097.1 1360.5,1097.6 1363.0,1098.2 1365.5,1098.7 1368.0,1099.3 1370.5,1099.8 1373.0,1100.3 1375.5,1100.9 1378.0,1101.4 1380.5,1101.9 1383.0,1102.3 1385.5,1102.8 1388.0,1103.2 1390.5,1103.7 1393.0,1104.1 1395.5,1104.6 1398.0,1105.0 1400.5,1105.4 1403.0,1105.9 1405.5,1106.3 1408.0,1106.7 1410.5,1107.1 1413.0,1107.5 1415.5,1108.0 1418.0,1108.4 1420.5,1108.8 1423.0,1109.2 1425.5,1109.6 1428.0,1110.0 1430.5,1110.4 1433.0,1110.8 1435.5,1111.3 1438.0,1111.7 1440.5,1112.1 1443.0,1112.5 1445.5,1113.0 1448.0,1113.4 1450.5,1113.9 1453.0,1114.3 1455.5,1114.8 1458.0,1115.2 1460.5,1115.6 1463.0,1116.1 1465.5,1116.5 1468.0,1116.9 1470.5,1117.2 1473.0,1117.6 1475.5,1117.9 1478.0,1118.2 1480.5,1118.4 1483.0,1118.6 1485.5,1118.8 1488.0,1118.9 1490.5,1119.0 1493.0,1119.0 1495.5,1118.9 1498.0,1118.7 1500.5,1118.2 1503.0,1117.7 1505.5,1117.1 1508.0,1116.4 1510.5,1115.6 1513.0,1114.8 1515.5,1113.9 1518.0,1112.7 1520.5,1111.1 1523.0,1109.2 1525.5,1107.1 1528.0,1105.0 1530.5,1103.0 1533.0,1101.1 1535.5,1099.6 1538.0,1098.2 1540.5,1096.9 1543.0,1095.7 1545.5,1094.4 1548.0,1093.3 1550.5,1092.2 1553.0,1091.1 1555.5,1090.1 1558.0,1089.2 1560.5,1088.5 1563.0,1087.7 1565.5,1087.0 1568.0,1086.3 1570.5,1085.4 1573.0,1084.5 1575.5,1083.3 1578.0,1081.5 1580.5,1079.1 1583.0,1076.5 1585.5,1072.7 1588.0,1068.3 1590.5,1065.6 1593.0,1066.6 1595.5,1069.7 1598.0,1072.3 1600.5,1073.8 1603.0,1075.1 1605.5,1076.1 1608.0,1076.8 1610.5,1077.3 1613.0,1077.9 1615.5,1078.4 1618.0,1078.9 1620.5,1079.3 1623.0,1079.7 1625.5,1080.1 1628.0,1080.4 1630.5,1080.7 1633.0,1080.9 1635.5,1081.1 1638.0,1081.3 1640.5,1081.4 1643.0,1081.5 1645.5,1081.6 1648.0,1081.6 1650.5,1081.7 1653.0,1081.7 1655.5,1081.7 1658.0,1081.7 1660.5,1081.7 1663.0,1081.7 1665.5,1081.6 1668.0,1081.6 1670.5,1081.5 1673.0,1081.3 1675.5,1081.2 1678.0,1081.1 1680.5,1080.9 1683.0,1080.6 1685.5,1080.3 1688.0,1079.8 1690.5,1079.3 1692.0,1078.9 1693.5,1078.3 1695.0,1077.6 1696.5,1076.6 1698.0,1075.5 1699.5,1074.2 1701.0,1072.4 1702.5,1068.9 1704.0,1064.0 1705.5,1057.7 1707.0,1050.3 1708.5,1042.0 1710.0,1032.9 1711.5,1021.9 1713.0,1007.9 1714.5,991.6 1716.0,973.6 1717.5,954.3 1719.0,934.7 1720.5,915.2 1722.0,893.8 1723.5,870.8 1725.0,847.2 1726.5,824.2 1728.0,803.1 1729.5,785.1 1731.0,770.2 1732.5,755.6 1734.0,742.0 1735.5,730.0 1737.0,720.5 1738.5,714.3 1740.0,712.0 1741.5,712.8 1743.0,715.0 1744.5,718.4 1746.0,722.6 1747.5,727.2 1749.0,732.1 1750.5,737.0 1752.0,741.4 1753.5,745.8 1755.0,750.5 1756.5,755.5 1758.0,760.6 1759.5,765.7 1761.0,770.7 1762.5,775.6 1764.0,780.2 1765.5,784.4 1767.0,788.4 1768.5,792.2 1770.0,796.0 1771.5,799.7 1774.0,805.6 1776.5,811.3 1779.0,816.9 1781.5,822.5 1784.0,828.0 1786.5,833.5 1789.0,839.0 1791.5,844.3 1794.0,849.6 1796.5,854.8 1799.0,859.9 1801.5,865.0 1804.0,869.9 1806.5,874.8 1809.0,879.7 1811.5,884.5 1814.0,889.3 1816.5,894.0 1819.0,898.7 1821.5,903.3 1824.0,907.8 1826.5,912.2 1829.0,916.5 1831.5,920.8 1834.0,924.9 1836.5,929.1 1839.0,933.2 1841.5,937.2 1844.0,941.2 1846.5,945.1 1849.0,949.0 1851.5,952.7 1854.0,956.4 1856.5,959.9 1859.0,963.2 1861.5,966.5 1864.0,969.6 1866.5,972.6 1869.0,975.5 1871.5,978.4 1874.0,981.1 1876.5,983.8 1879.0,986.5 1881.5,989.1 1884.0,991.6 1886.5,994.0 1889.0,996.4 1891.5,998.8 1894.0,1001.3 1896.5,1004.0 1899.0,1006.7 1901.5,1009.3 1903.5,1011.2 1905.5,1013.1 1907.5,1014.7 1909.5,1016.0 1911.5,1017.0 1913.5,1017.7 1915.5,1018.0 1917.5,1017.1 1919.5,1015.0 1921.5,1011.8 1923.5,1007.6 1925.5,1002.8 1927.5,997.5 1929.5,991.7 1931.5,985.9 1933.5,980.0 1935.5,974.2 1937.5,967.4 1939.5,959.2 1941.5,949.9 1943.5,939.7 1945.5,928.8 1947.5,917.4 1949.5,905.8 1951.5,894.2 1953.5,882.9 1955.5,872.0 1957.5,861.9 1959.5,852.7 1961.5,844.4 1963.5,836.2 1965.5,827.9 1967.5,819.8 1969.5,811.9 1971.5,804.2 1973.5,796.8 1975.5,789.8 1977.5,783.2 1979.5,777.1 1981.5,771.4 1983.5,765.9 1985.5,760.7 1987.5,755.7 1989.5,750.8 1991.5,746.1 1993.5,741.5 1995.5,737.1 1997.5,732.6 1999.5,728.3 2001.5,723.7 2003.5,718.2 2005.5,712.5 2007.5,707.0 2009.5,702.2 2011.5,698.8 2013.5,697.1 2015.5,697.6 2017.5,700.3 2019.5,704.6 2021.5,710.3 2023.5,717.1 2025.5,724.6 2027.5,732.5 2029.5,740.4 2031.5,747.9 2033.5,754.9 2035.5,760.8 2037.5,765.8 2039.5,770.8 2041.5,775.6 2043.5,780.2 2045.5,784.6 2047.5,788.5 2049.5,792.0 2051.5,795.1 2053.5,798.3 2055.5,801.5 2057.5,804.5 2059.5,807.1 2061.5,809.2 2063.5,810.5 2065.5,811.0 2067.5,810.5 2069.5,808.7 2071.5,805.9 2073.5,802.4 2075.5,798.2 2077.5,793.7 2079.5,789.0 2081.5,783.7 2083.5,776.5 2085.5,767.9 2087.5,758.0 2089.5,747.4 2091.5,736.3 2093.5,725.1 2095.5,714.2 2097.5,703.9 2099.5,694.5 2101.5,686.0 2103.5,677.6 2105.5,669.3 2107.5,661.1 2109.5,653.0 2111.5,645.2 2113.5,637.5 2115.5,630.0 2117.5,622.7 2119.5,615.7 2121.5,608.8 2123.5,602.0 2125.5,595.1 2127.5,588.3 2129.5,581.6 2131.5,574.9 2133.0,570.0" stroke="#3a2d72"/>
<polyline points="243.0,838.0 248.0,836.7 253.0,835.5 258.0,834.2 263.0,833.0 268.0,831.7 273.0,830.5 278.0,829.3 283.0,828.1 288.0,826.9 293.0,825.7 298.0,824.5 303.0,823.4 308.0,822.2 313.0,821.1 318.0,820.0 323.0,819.0 328.0,817.9 333.0,816.9 338.0,816.0 343.0,815.0 348.0,814.1 353.0,813.2 358.0,812.4 363.0,811.6 368.0,810.8 373.0,810.1 378.0,809.4 383.0,808.8 388.0,808.2 393.0,807.7 398.0,807.2 403.0,806.7 408.0,806.4 413.0,806.0 418.0,805.7 423.0,805.5 428.0,805.3 433.0,805.2 438.0,805.1 443.0,805.1 448.0,805.1 453.0,805.1 458.0,805.2 463.0,805.4 468.0,805.6 473.0,805.8 478.0,806.1 483.0,806.5 488.0,806.8 493.0,807.3 498.0,807.7 503.0,808.3 508.0,808.8 513.0,809.4 518.0,810.0 523.0,810.7 528.0,811.4 533.0,812.2 538.0,813.0 543.0,813.8 548.0,814.7 553.0,815.6 558.0,816.6 563.0,817.6 568.0,818.6 573.0,819.7 578.0,820.8 583.0,822.0 588.0,823.2 593.0,824.4 598.0,825.7 603.0,827.0 608.0,828.3 613.0,829.7 618.0,831.1 623.0,832.6 628.0,834.1 633.0,835.7 638.0,837.3 643.0,838.9 648.0,840.6 653.0,842.3 658.0,844.1 663.0,845.9 668.0,847.8 673.0,849.7 678.0,851.7 683.0,853.7 688.0,855.7 693.0,857.8 698.0,859.9 703.0,862.1 708.0,864.3 713.0,866.6 718.0,868.9 723.0,871.3 728.0,873.7 733.0,876.1 738.0,878.6 743.0,881.1 748.0,883.6 753.0,886.2 758.0,888.8 763.0,891.4 768.0,894.1 773.0,896.7 778.0,899.4 783.0,902.1 788.0,904.9 793.0,907.6 798.0,910.4 803.0,913.1 808.0,915.9 813.0,918.7 818.0,921.5 823.0,924.3 828.0,927.1 833.0,929.9 838.0,932.7 843.0,935.5 848.0,938.3 853.0,941.1 858.0,943.9 863.0,946.7 868.0,949.4 873.0,952.2 878.0,954.9 883.0,957.7 888.0,960.4 893.0,963.1 898.0,965.8 903.0,968.4 908.0,971.1 913.0,973.8 918.0,976.4 923.0,979.0 928.0,981.6 933.0,984.3 938.0,986.9 943.0,989.4 948.0,992.0 953.0,994.6 958.0,997.2 963.0,999.7 968.0,1002.3 973.0,1004.8 978.0,1007.4 983.0,1009.9 988.0,1012.4 993.0,1015.0 998.0,1017.5 1003.0,1020.0 1008.0,1022.6 1013.0,1025.1 1018.0,1027.6 1023.0,1030.2 1028.0,1032.6 1033.0,1034.9 1038.0,1037.3 1043.0,1039.7 1045.5,1041.0 1048.0,1042.2 1050.5,1043.4 1053.0,1044.7 1055.5,1046.1 1058.0,1047.4 1060.5,1048.8 1063.0,1050.0 1065.5,1051.2 1068.0,1052.4 1070.5,1053.5 1073.0,1054.7 1075.5,1055.8 1078.0,1056.7 1080.5,1057.4 1083.0,1057.2 1085.5,1055.3 1088.0,1052.8 1090.5,1050.3 1093.0,1047.7 1095.5,1045.3 1098.0,1043.0 1100.5,1040.5 1103.0,1037.9 1105.5,1035.2 1108.0,1032.4 1110.5,1029.7 1113.0,1027.0 1115.5,1024.3 1118.0,1021.5 1120.5,1018.9 1123.0,1016.4 1125.5,1014.1 1128.0,1012.2 1130.5,1010.5 1133.0,1009.0 1135.5,1007.6 1138.0,1006.3 1140.5,1005.2 1143.0,1004.0 1145.5,1002.8 1148.0,1001.8 1150.5,1001.1 1153.0,1001.1 1155.5,1001.8 1158.0,1003.0 1160.5,1004.4 1163.0,1005.9 1165.5,1007.1 1168.0,1008.2 1170.5,1009.4 1173.0,1010.6 1175.5,1011.8 1178.0,1013.1 1180.5,1014.4 1183.0,1015.8 1185.5,1017.3 1188.0,1018.8 1190.5,1020.4 1193.0,1022.0 1195.5,1023.7 1198.0,1025.5 1200.5,1027.4 1203.0,1029.3 1205.5,1031.3 1208.0,1033.3 1210.5,1035.3 1213.0,1037.3 1215.5,1039.3 1218.0,1041.3 1220.5,1043.3 1223.0,1045.2 1225.5,1047.0 1228.0,1048.8 1230.5,1050.5 1233.0,1052.1 1235.5,1053.6 1238.0,1055.0 1240.5,1056.4 1243.0,1057.8 1245.5,1059.1 1248.0,1060.5 1250.5,1061.8 1253.0,1063.3 1255.5,1064.7 1258.0,1066.3 1260.5,1067.9 1263.0,1069.7 1265.5,1071.7 1268.0,1073.8 1270.5,1076.0 1273.0,1078.3 1275.5,1080.6 1278.0,1082.9 1280.5,1085.3 1283.0,1087.6 1285.5,1089.8 1288.0,1091.9 1290.5,1093.9 1293.0,1095.8 1295.5,1097.5 1298.0,1099.0 1300.5,1100.2 1303.0,1101.4 1305.5,1102.4 1308.0,1103.4 1310.5,1104.3 1313.0,1105.2 1315.5,1106.1 1318.0,1106.8 1320.5,1107.6 1323.0,1108.3 1325.5,1109.0 1328.0,1109.7 1330.5,1110.4 1333.0,1111.0 1335.5,1111.7 1338.0,1112.3 1340.5,1113.0 1343.0,1113.7 1345.5,1114.3 1348.0,1115.0 1350.5,1115.7 1353.0,1116.4 1355.5,1117.0 1358.0,1117.7 1360.5,1118.3 1363.0,1119.0 1365.5,1119.6 1368.0,1120.2 1370.5,1120.8 1373.0,1121.3 1375.5,1121.9 1378.0,1122.4 1380.5,1122.8 1383.0,1123.3 1385.5,1123.7 1388.0,1124.1 1390.5,1124.5 1393.0,1124.9 1395.5,1125.2 1398.0,1125.6 1400.5,1126.0 1403.0,1126.4 1405.5,1126.8 1408.0,1127.2 1410.5,1127.5 1413.0,1127.9 1415.5,1128.3 1418.0,1128.7 1420.5,1129.0 1423.0,1129.4 1425.5,1129.8 1428.0,1130.2 1430.5,1130.5 1433.0,1130.9 1435.5,1131.3 1438.0,1131.7 1440.5,1132.0 1443.0,1132.4 1445.5,1132.8 1448.0,1133.2 1450.5,1133.6 1453.0,1134.0 1455.5,1134.4 1458.0,1134.7 1460.5,1135.1 1463.0,1135.5 1465.5,1135.8 1468.0,1136.2 1470.5,1136.5 1473.0,1136.8 1475.5,1137.0 1478.0,1137.3 1480.5,1137.5 1483.0,1137.7 1485.5,1137.8 1488.0,1137.9 1490.5,1138.0 1493.0,1138.0 1495.5,1137.9 1498.0,1137.7 1500.5,1137.4 1503.0,1137.0 1505.5,1136.5 1508.0,1135.9 1510.5,1135.3 1513.0,1134.6 1515.5,1133.8 1518.0,1132.7 1520.5,1131.1 1523.0,1129.2 1525.5,1127.1 1528.0,1125.0 1530.5,1123.0 1533.0,1121.2 1535.5,1119.7 1538.0,1118.5 1540.5,1117.4 1543.0,1116.3 1545.5,1115.3 1548.0,1114.4 1550.5,1113.5 1553.0,1112.6 1555.5,1111.8 1558.0,1111.2 1560.5,1110.6 1563.0,1110.2 1565.5,1109.7 1568.0,1109.2 1570.5,1108.5 1573.0,1107.8 1575.5,1106.8 1578.0,1105.0 1580.5,1102.7 1583.0,1100.0 1585.5,1096.2 1588.0,1091.7 1590.5,1089.1 1593.0,1090.1 1595.5,1093.3 1598.0,1096.0 1600.5,1097.5 1603.0,1098.7 1605.5,1099.6 1608.0,1100.2 1610.5,1100.7 1613.0,1101.2 1615.5,1101.6 1618.0,1102.0 1620.5,1102.4 1623.0,1102.8 1625.5,1103.1 1628.0,1103.3 1630.5,1103.6 1633.0,1103.7 1635.5,1103.9 1638.0,1104.0 1640.5,1104.0 1643.0,1104.0 1645.5,1104.0 1648.0,1103.9 1650.5,1103.8 1653.0,1103.8 1655.5,1103.7 1658.0,1103.5 1660.5,1103.4 1663.0,1103.3 1665.5,1103.1 1668.0,1102.9 1670.5,1102.7 1673.0,1102.5 1675.5,1102.3 1678.0,1102.1 1680.5,1101.8 1683.0,1101.5 1685.5,1101.1 1688.0,1100.5 1690.5,1099.9 1692.0,1099.4 1693.5,1098.9 1695.0,1098.2 1696.5,1097.5 1698.0,1096.5 1699.5,1095.4 1701.0,1093.9 1702.5,1091.1 1704.0,1087.4 1705.5,1082.7 1707.0,1077.4 1708.5,1071.5 1710.0,1065.3 1711.5,1057.8 1713.0,1048.3 1714.5,1037.4 1716.0,1025.4 1717.5,1012.7 1719.0,999.7 1720.5,986.8 1722.0,972.4 1723.5,956.7 1725.0,940.3 1726.5,924.3 1728.0,909.3 1729.5,896.3 1731.0,885.0 1732.5,873.3 1734.0,861.8 1735.5,851.4 1737.0,842.8 1738.5,837.1 1740.0,835.0 1741.5,835.8 1743.0,838.0 1744.5,841.3 1746.0,845.3 1747.5,849.8 1749.0,854.5 1750.5,859.0 1752.0,863.1 1753.5,867.0 1755.0,871.1 1756.5,875.3 1758.0,879.6 1759.5,883.9 1761.0,888.1 1762.5,892.1 1764.0,895.7 1765.5,899.1 1767.0,902.2 1768.5,905.3 1770.0,908.2 1771.5,911.1 1774.0,915.6 1776.5,920.0 1779.0,924.1 1781.5,928.0 1784.0,931.8 1786.5,935.5 1789.0,938.9 1791.5,942.2 1794.0,945.3 1796.5,948.4 1799.0,951.4 1801.5,954.4 1804.0,957.5 1806.5,960.6 1809.0,963.7 1811.5,966.7 1814.0,969.7 1816.5,972.8 1819.0,975.7 1821.5,978.7 1824.0,981.7 1826.5,984.6 1829.0,987.5 1831.5,990.4 1834.0,993.2 1836.5,996.1 1839.0,998.9 1841.5,1001.8 1844.0,1004.6 1846.5,1007.4 1849.0,1010.1 1851.5,1012.9 1854.0,1015.6 1856.5,1018.2 1859.0,1020.8 1861.5,1023.4 1864.0,1025.9 1866.5,1028.3 1869.0,1030.8 1871.5,1033.2 1874.0,1035.6 1876.5,1037.9 1879.0,1040.2 1881.5,1042.5 1884.0,1044.7 1886.5,1046.9 1889.0,1049.0 1891.5,1051.2 1894.0,1053.6 1896.5,1056.1 1899.0,1058.6 1901.5,1061.1 1903.5,1063.0 1905.5,1064.7 1907.5,1066.2 1909.5,1067.4 1911.5,1068.3 1913.5,1068.9 1915.5,1069.0 1917.5,1068.2 1919.5,1066.4 1921.5,1063.9 1923.5,1060.5 1925.5,1056.6 1927.5,1052.1 1929.5,1047.2 1931.5,1042.0 1933.5,1036.6 1935.5,1031.1 1937.5,1023.8 1939.5,1014.3 1941.5,1003.1 1943.5,990.5 1945.5,977.0 1947.5,962.8 1949.5,948.4 1951.5,934.2 1953.5,920.6 1955.5,907.9 1957.5,896.6 1959.5,887.0 1961.5,879.0 1963.5,871.7 1965.5,864.8 1967.5,858.4 1969.5,852.3 1971.5,846.5 1973.5,840.9 1975.5,835.4 1977.5,830.0 1979.5,824.6 1981.5,819.1 1983.5,813.5 1985.5,808.0 1987.5,802.5 1989.5,797.2 1991.5,792.1 1993.5,787.2 1995.5,782.6 1997.5,778.4 1999.5,774.6 2001.5,771.0 2003.5,767.3 2005.5,763.8 2007.5,760.5 2009.5,757.8 2011.5,755.9 2013.5,755.0 2015.5,755.6 2017.5,758.0 2019.5,761.9 2021.5,767.0 2023.5,773.0 2025.5,779.6 2027.5,786.6 2029.5,793.6 2031.5,800.3 2033.5,806.4 2035.5,811.6 2037.5,816.0 2039.5,820.3 2041.5,824.4 2043.5,828.3 2045.5,832.0 2047.5,835.5 2049.5,838.8 2051.5,842.0 2053.5,845.4 2055.5,848.8 2057.5,852.0 2059.5,855.0 2061.5,857.4 2063.5,859.1 2065.5,859.9 2067.5,859.6 2069.5,858.1 2071.5,855.6 2073.5,852.3 2075.5,848.3 2077.5,843.9 2079.5,839.3 2081.5,834.0 2083.5,826.5 2085.5,817.2 2087.5,806.5 2089.5,794.9 2091.5,782.8 2093.5,770.7 2095.5,759.0 2097.5,748.2 2099.5,738.7 2101.5,730.4 2103.5,722.2 2105.5,714.2 2107.5,706.4 2109.5,698.8 2111.5,691.7 2113.5,685.0 2115.5,678.9 2117.5,673.4 2119.5,668.6 2121.5,664.5 2123.5,660.6 2125.5,657.2 2127.5,654.1 2129.5,651.4 2131.5,649.3 2133.0,648.0" stroke="#a472b5"/>
<polyline points="243.0,845.0 248.0,843.7 253.0,842.4 258.0,841.2 263.0,839.9 268.0,838.6 273.0,837.4 278.0,836.1 283.0,834.9 288.0,833.6 293.0,832.4 298.0,831.2 303.0,830.1 308.0,828.9 313.0,827.8 318.0,826.7 323.0,825.6 328.0,824.5 333.0,823.5 338.0,822.5 343.0,821.5 348.0,820.5 353.0,819.6 358.0,818.7 363.0,817.9 368.0,817.1 373.0,816.3 378.0,815.6 383.0,815.0 388.0,814.3 393.0,813.7 398.0,813.2 403.0,812.7 408.0,812.3 413.0,811.9 418.0,811.6 423.0,811.3 428.0,811.0 433.0,810.8 438.0,810.7 443.0,810.6 448.0,810.6 453.0,810.6 458.0,810.6 463.0,810.7 468.0,810.9 473.0,811.1 478.0,811.3 483.0,811.6 488.0,812.0 493.0,812.4 498.0,812.8 503.0,813.3 508.0,813.8 513.0,814.4 518.0,815.0 523.0,815.7 528.0,816.4 533.0,817.1 538.0,817.9 543.0,818.8 548.0,819.7 553.0,820.6 558.0,821.6 563.0,822.6 568.0,823.7 573.0,824.8 578.0,826.0 583.0,827.2 588.0,828.4 593.0,829.7 598.0,831.0 603.0,832.4 608.0,833.8 613.0,835.2 618.0,836.7 623.0,838.3 628.0,839.9 633.0,841.5 638.0,843.1 643.0,844.9 648.0,846.6 653.0,848.4 658.0,850.2 663.0,852.1 668.0,854.0 673.0,856.0 678.0,858.0 683.0,860.0 688.0,862.1 693.0,864.2 698.0,866.3 703.0,868.5 708.0,870.8 713.0,873.0 718.0,875.3 723.0,877.7 728.0,880.0 733.0,882.4 738.0,884.9 743.0,887.3 748.0,889.8 753.0,892.4 758.0,894.9 763.0,897.5 768.0,900.1 773.0,902.7 778.0,905.3 783.0,908.0 788.0,910.6 793.0,913.3 798.0,916.0 803.0,918.7 808.0,921.5 813.0,924.2 818.0,926.9 823.0,929.7 828.0,932.4 833.0,935.2 838.0,938.0 843.0,940.7 848.0,943.5 853.0,946.3 858.0,949.0 863.0,951.8 868.0,954.5 873.0,957.3 878.0,960.0 883.0,962.8 888.0,965.5 893.0,968.2 898.0,971.0 903.0,973.7 908.0,976.4 913.0,979.1 918.0,981.7 923.0,984.4 928.0,987.1 933.0,989.8 938.0,992.5 943.0,995.1 948.0,997.8 953.0,1000.4 958.0,1003.1 963.0,1005.7 968.0,1008.4 973.0,1011.0 978.0,1013.7 983.0,1016.3 988.0,1018.9 993.0,1021.6 998.0,1024.2 1003.0,1026.8 1008.0,1029.5 1013.0,1032.2 1018.0,1034.8 1023.0,1037.4 1028.0,1040.0 1033.0,1042.4 1038.0,1044.9 1043.0,1047.3 1045.5,1048.5 1048.0,1049.7 1050.5,1050.9 1053.0,1052.2 1055.5,1053.5 1058.0,1054.8 1060.5,1056.1 1063.0,1057.3 1065.5,1058.4 1068.0,1059.4 1070.5,1060.5 1073.0,1061.6 1075.5,1062.6 1078.0,1063.4 1080.5,1063.9 1083.0,1064.0 1085.5,1063.0 1088.0,1060.9 1090.5,1058.2 1093.0,1055.3 1095.5,1052.7 1098.0,1050.1 1100.5,1047.3 1103.0,1044.3 1105.5,1041.3 1108.0,1038.4 1110.5,1035.6 1113.0,1032.8 1115.5,1029.9 1118.0,1027.2 1120.5,1024.5 1123.0,1021.9 1125.5,1019.6 1128.0,1017.6 1130.5,1015.8 1133.0,1014.2 1135.5,1012.7 1138.0,1011.4 1140.5,1010.2 1143.0,1009.0 1145.5,1007.7 1148.0,1006.7 1150.5,1006.1 1153.0,1006.1 1155.5,1006.8 1158.0,1008.1 1160.5,1009.6 1163.0,1011.2 1165.5,1012.4 1168.0,1013.6 1170.5,1014.7 1173.0,1015.9 1175.5,1017.2 1178.0,1018.4 1180.5,1019.7 1183.0,1021.1 1185.5,1022.5 1188.0,1024.0 1190.5,1025.5 1193.0,1027.1 1195.5,1028.8 1198.0,1030.5 1200.5,1032.4 1203.0,1034.3 1205.5,1036.2 1208.0,1038.2 1210.5,1040.1 1213.0,1042.1 1215.5,1044.1 1218.0,1046.1 1220.5,1048.0 1223.0,1049.8 1225.5,1051.6 1228.0,1053.4 1230.5,1055.0 1233.0,1056.6 1235.5,1058.0 1238.0,1059.4 1240.5,1060.7 1243.0,1062.0 1245.5,1063.3 1248.0,1064.6 1250.5,1066.0 1253.0,1067.3 1255.5,1068.8 1258.0,1070.3 1260.5,1071.9 1263.0,1073.6 1265.5,1075.6 1268.0,1077.6 1270.5,1079.8 1273.0,1082.0 1275.5,1084.3 1278.0,1086.6 1280.5,1088.9 1283.0,1091.2 1285.5,1093.4 1288.0,1095.5 1290.5,1097.5 1293.0,1099.4 1295.5,1101.0 1298.0,1102.5 1300.5,1103.7 1303.0,1104.8 1305.5,1105.9 1308.0,1106.9 1310.5,1107.8 1313.0,1108.7 1315.5,1109.5 1318.0,1110.3 1320.5,1111.1 1323.0,1111.9 1325.5,1112.6 1328.0,1113.3 1330.5,1114.0 1333.0,1114.7 1335.5,1115.4 1338.0,1116.0 1340.5,1116.8 1343.0,1117.5 1345.5,1118.2 1348.0,1118.9 1350.5,1119.6 1353.0,1120.3 1355.5,1121.0 1358.0,1121.7 1360.5,1122.4 1363.0,1123.0 1365.5,1123.7 1368.0,1124.3 1370.5,1124.9 1373.0,1125.5 1375.5,1126.0 1378.0,1126.5 1380.5,1127.0 1383.0,1127.5 1385.5,1127.9 1388.0,1128.3 1390.5,1128.7 1393.0,1129.0 1395.5,1129.4 1398.0,1129.8 1400.5,1130.1 1403.0,1130.5 1405.5,1130.9 1408.0,1131.2 1410.5,1131.6 1413.0,1131.9 1415.5,1132.3 1418.0,1132.6 1420.5,1133.0 1423.0,1133.3 1425.5,1133.6 1428.0,1134.0 1430.5,1134.3 1433.0,1134.6 1435.5,1135.0 1438.0,1135.3 1440.5,1135.6 1443.0,1136.0 1445.5,1136.3 1448.0,1136.7 1450.5,1137.0 1453.0,1137.4 1455.5,1137.7 1458.0,1138.1 1460.5,1138.4 1463.0,1138.7 1465.5,1139.1 1468.0,1139.4 1470.5,1139.6 1473.0,1139.9 1475.5,1140.1 1478.0,1140.3 1480.5,1140.5 1483.0,1140.7 1485.5,1140.8 1488.0,1140.9 1490.5,1141.0 1493.0,1141.0 1495.5,1140.9 1498.0,1140.7 1500.5,1140.4 1503.0,1140.0 1505.5,1139.6 1508.0,1139.0 1510.5,1138.4 1513.0,1137.7 1515.5,1137.0 1518.0,1135.9 1520.5,1134.3 1523.0,1132.4 1525.5,1130.3 1528.0,1128.1 1530.5,1126.1 1533.0,1124.3 1535.5,1122.9 1538.0,1121.7 1540.5,1120.6 1543.0,1119.6 1545.5,1118.6 1548.0,1117.7 1550.5,1116.8 1553.0,1116.0 1555.5,1115.3 1558.0,1114.7 1560.5,1114.1 1563.0,1113.7 1565.5,1113.3 1568.0,1112.8 1570.5,1112.2 1573.0,1111.4 1575.5,1110.5 1578.0,1108.8 1580.5,1106.4 1583.0,1103.7 1585.5,1099.9 1588.0,1095.4 1590.5,1092.8 1593.0,1093.8 1595.5,1097.0 1598.0,1099.7 1600.5,1101.2 1603.0,1102.4 1605.5,1103.3 1608.0,1103.9 1610.5,1104.4 1613.0,1104.9 1615.5,1105.3 1618.0,1105.7 1620.5,1106.1 1623.0,1106.4 1625.5,1106.7 1628.0,1107.0 1630.5,1107.2 1633.0,1107.3 1635.5,1107.5 1638.0,1107.5 1640.5,1107.6 1643.0,1107.5 1645.5,1107.5 1648.0,1107.4 1650.5,1107.3 1653.0,1107.2 1655.5,1107.1 1658.0,1107.0 1660.5,1106.8 1663.0,1106.7 1665.5,1106.5 1668.0,1106.3 1670.5,1106.1 1673.0,1105.9 1675.5,1105.6 1678.0,1105.4 1680.5,1105.2 1683.0,1104.8 1685.5,1104.3 1688.0,1103.8 1690.5,1103.1 1692.0,1102.7 1693.5,1102.1 1695.0,1101.5 1696.5,1100.8 1698.0,1099.8 1699.5,1098.8 1701.0,1097.2 1702.5,1094.2 1704.0,1090.0 1705.5,1084.7 1707.0,1078.4 1708.5,1071.3 1710.0,1063.7 1711.5,1054.4 1713.0,1042.9 1714.5,1029.3 1716.0,1014.3 1717.5,998.2 1719.0,981.5 1720.5,964.7 1722.0,946.2 1723.5,926.0 1725.0,905.1 1726.5,884.7 1728.0,865.6 1729.5,848.9 1731.0,834.7 1732.5,820.6 1734.0,807.1 1735.5,795.2 1737.0,785.6 1738.5,779.3 1740.0,777.0 1741.5,777.8 1743.0,780.0 1744.5,783.3 1746.0,787.5 1747.5,792.1 1749.0,796.9 1750.5,801.6 1752.0,805.9 1753.5,810.1 1755.0,814.6 1756.5,819.2 1758.0,824.0 1759.5,828.7 1761.0,833.4 1762.5,837.9 1764.0,842.1 1765.5,846.0 1767.0,849.6 1768.5,853.2 1770.0,856.6 1771.5,860.0 1774.0,865.4 1776.5,870.6 1779.0,875.7 1781.5,880.6 1784.0,885.5 1786.5,890.3 1789.0,894.9 1791.5,899.4 1794.0,903.8 1796.5,908.1 1799.0,912.3 1801.5,916.5 1804.0,920.7 1806.5,924.9 1809.0,929.0 1811.5,933.1 1814.0,937.2 1816.5,941.3 1819.0,945.2 1821.5,949.2 1824.0,953.1 1826.5,956.9 1829.0,960.7 1831.5,964.4 1834.0,968.1 1836.5,971.7 1839.0,975.3 1841.5,978.9 1844.0,982.5 1846.5,986.0 1849.0,989.4 1851.5,992.8 1854.0,996.1 1856.5,999.3 1859.0,1002.5 1861.5,1005.6 1864.0,1008.5 1866.5,1011.5 1869.0,1014.3 1871.5,1017.2 1874.0,1019.9 1876.5,1022.7 1879.0,1025.3 1881.5,1027.9 1884.0,1030.5 1886.5,1033.0 1889.0,1035.5 1891.5,1037.9 1894.0,1040.6 1896.5,1043.3 1899.0,1046.2 1901.5,1048.9 1903.5,1050.9 1905.5,1052.8 1907.5,1054.5 1909.5,1055.9 1911.5,1057.0 1913.5,1057.7 1915.5,1058.0 1917.5,1057.3 1919.5,1055.6 1921.5,1053.1 1923.5,1049.7 1925.5,1045.7 1927.5,1041.2 1929.5,1036.3 1931.5,1031.1 1933.5,1025.8 1935.5,1020.3 1937.5,1013.3 1939.5,1004.2 1941.5,993.5 1943.5,981.5 1945.5,968.5 1947.5,955.0 1949.5,941.2 1951.5,927.5 1953.5,914.4 1955.5,902.1 1957.5,891.1 1959.5,881.6 1961.5,873.7 1963.5,866.3 1965.5,859.3 1967.5,852.7 1969.5,846.4 1971.5,840.4 1973.5,834.7 1975.5,829.1 1977.5,823.6 1979.5,818.1 1981.5,812.7 1983.5,807.2 1985.5,801.8 1987.5,796.4 1989.5,791.2 1991.5,786.2 1993.5,781.4 1995.5,776.9 1997.5,772.7 1999.5,768.8 2001.5,765.1 2003.5,761.2 2005.5,757.4 2007.5,753.8 2009.5,750.9 2011.5,748.8 2013.5,747.7 2015.5,748.3 2017.5,750.6 2019.5,754.5 2021.5,759.6 2023.5,765.7 2025.5,772.4 2027.5,779.4 2029.5,786.4 2031.5,793.1 2033.5,799.2 2035.5,804.4 2037.5,808.8 2039.5,813.0 2041.5,817.1 2043.5,821.0 2045.5,824.7 2047.5,828.2 2049.5,831.4 2051.5,834.4 2053.5,837.6 2055.5,840.8 2057.5,843.9 2059.5,846.6 2061.5,848.8 2063.5,850.3 2065.5,850.9 2067.5,850.4 2069.5,848.7 2071.5,846.0 2073.5,842.4 2075.5,838.2 2077.5,833.6 2079.5,828.8 2081.5,823.3 2083.5,815.7 2085.5,806.3 2087.5,795.6 2089.5,784.1 2091.5,772.0 2093.5,760.0 2095.5,748.3 2097.5,737.4 2099.5,727.7 2101.5,719.2 2103.5,710.8 2105.5,702.5 2107.5,694.4 2109.5,686.5 2111.5,679.0 2113.5,671.9 2115.5,665.2 2117.5,659.0 2119.5,653.4 2121.5,648.2 2123.5,643.3 2125.5,638.5 2127.5,634.0 2129.5,629.9 2131.5,626.0 2133.0,623.4" stroke="#121212"/>
<polyline points="243.0,1152.0 248.0,1150.9 253.0,1149.7 258.0,1148.6 263.0,1147.6 268.0,1146.5 273.0,1145.5 278.0,1144.5 283.0,1143.5 288.0,1142.5 293.0,1141.6 298.0,1140.7 303.0,1139.8 308.0,1139.0 313.0,1138.2 318.0,1137.4 323.0,1136.7 328.0,1136.0 333.0,1135.3 338.0,1134.6 343.0,1133.9 348.0,1133.3 353.0,1132.6 358.0,1132.0 363.0,1131.4 368.0,1130.8 373.0,1130.3 378.0,1129.7 383.0,1129.2 388.0,1128.7 393.0,1128.3 398.0,1127.8 403.0,1127.4 408.0,1127.0 413.0,1126.6 418.0,1126.2 423.0,1125.8 428.0,1125.5 433.0,1125.1 438.0,1124.7 443.0,1124.4 448.0,1124.1 453.0,1123.8 458.0,1123.5 463.0,1123.3 468.0,1123.1 473.0,1122.9 478.0,1122.7 483.0,1122.6 488.0,1122.5 493.0,1122.5 498.0,1122.4 503.0,1122.3 508.0,1122.2 513.0,1122.2 518.0,1122.1 523.0,1122.0 528.0,1122.0 533.0,1121.9 538.0,1121.9 543.0,1121.9 548.0,1121.8 553.0,1121.8 558.0,1121.8 563.0,1121.8 568.0,1121.8 573.0,1121.8 578.0,1121.9 583.0,1121.9 588.0,1122.0 593.0,1122.1 598.0,1122.2 603.0,1122.3 608.0,1122.5 613.0,1122.6 618.0,1122.8 623.0,1123.0 628.0,1123.1 633.0,1123.3 638.0,1123.5 643.0,1123.7 648.0,1123.9 653.0,1124.1 658.0,1124.4 663.0,1124.7 668.0,1125.1 673.0,1125.5 678.0,1125.9 683.0,1126.4 688.0,1126.8 693.0,1127.3 698.0,1127.8 703.0,1128.3 708.0,1128.9 713.0,1129.4 718.0,1129.9 723.0,1130.4 728.0,1130.9 733.0,1131.4 738.0,1131.9 743.0,1132.5 748.0,1133.0 753.0,1133.6 758.0,1134.2 763.0,1134.8 768.0,1135.4 773.0,1136.0 778.0,1136.6 783.0,1137.2 788.0,1137.8 793.0,1138.3 798.0,1138.9 803.0,1139.5 808.0,1140.0 813.0,1140.5 818.0,1141.0 823.0,1141.5 828.0,1142.0 833.0,1142.5 838.0,1143.0 843.0,1143.4 848.0,1143.9 853.0,1144.4 858.0,1144.9 863.0,1145.3 868.0,1145.8 873.0,1146.3 878.0,1146.8 883.0,1147.3 888.0,1147.8 893.0,1148.3 898.0,1148.9 903.0,1149.5 908.0,1150.2 913.0,1150.9 918.0,1151.6 923.0,1152.2 928.0,1152.9 933.0,1153.6 938.0,1154.2 943.0,1154.8 948.0,1155.4 953.0,1155.9 958.0,1156.3 963.0,1156.6 968.0,1156.9 973.0,1157.1 978.0,1157.2 983.0,1157.3 988.0,1157.4 993.0,1157.5 998.0,1157.6 1003.0,1157.7 1008.0,1157.8 1013.0,1157.9 1018.0,1157.9 1023.0,1158.0 1028.0,1158.0 1033.0,1158.0 1038.0,1157.9 1043.0,1157.7 1045.5,1157.6 1048.0,1157.5 1050.5,1157.3 1053.0,1157.1 1055.5,1156.9 1058.0,1156.6 1060.5,1156.4 1063.0,1156.1 1065.5,1155.8 1068.0,1155.5 1070.5,1155.2 1073.0,1154.9 1075.5,1154.4 1078.0,1153.7 1080.5,1152.9 1083.0,1152.0 1085.5,1150.9 1088.0,1149.7 1090.5,1148.4 1093.0,1147.0 1095.5,1145.1 1098.0,1142.6 1100.5,1139.5 1103.0,1136.0 1105.5,1132.3 1108.0,1128.5 1110.5,1124.7 1113.0,1121.0 1115.5,1117.2 1118.0,1113.1 1120.5,1108.8 1123.0,1104.6 1125.5,1100.6 1128.0,1097.2 1130.5,1094.5 1133.0,1092.0 1135.5,1089.6 1138.0,1087.3 1140.5,1085.2 1143.0,1083.4 1145.5,1082.0 1148.0,1081.2 1150.5,1081.0 1153.0,1082.1 1155.5,1084.4 1158.0,1087.8 1160.5,1091.8 1163.0,1096.2 1165.5,1100.7 1168.0,1105.0 1170.5,1108.8 1173.0,1111.9 1175.5,1113.8 1178.0,1114.8 1180.5,1115.6 1183.0,1116.4 1185.5,1117.1 1188.0,1117.7 1190.5,1118.3 1193.0,1118.8 1195.5,1119.3 1198.0,1119.7 1200.5,1120.1 1203.0,1120.5 1205.5,1121.0 1208.0,1121.4 1210.5,1121.8 1213.0,1122.2 1215.5,1122.7 1218.0,1123.2 1220.5,1123.7 1223.0,1124.3 1225.5,1124.8 1228.0,1125.3 1230.5,1125.9 1233.0,1126.4 1235.5,1127.0 1238.0,1127.5 1240.5,1128.0 1243.0,1128.6 1245.5,1129.1 1248.0,1129.6 1250.5,1130.1 1253.0,1130.6 1255.5,1131.1 1258.0,1131.6 1260.5,1132.0 1263.0,1132.4 1265.5,1132.9 1268.0,1133.3 1270.5,1133.6 1273.0,1134.0 1275.5,1134.3 1278.0,1134.7 1280.5,1135.0 1283.0,1135.4 1285.5,1135.7 1288.0,1136.0 1290.5,1136.3 1293.0,1136.6 1295.5,1136.9 1298.0,1137.2 1300.5,1137.5 1303.0,1137.8 1305.5,1138.1 1308.0,1138.3 1310.5,1138.6 1313.0,1138.8 1315.5,1139.0 1318.0,1139.2 1320.5,1139.4 1323.0,1139.6 1325.5,1139.8 1328.0,1139.9 1330.5,1140.1 1333.0,1140.2 1335.5,1140.4 1338.0,1140.5 1340.5,1140.6 1343.0,1140.8 1345.5,1140.9 1348.0,1141.0 1350.5,1141.1 1353.0,1141.3 1355.5,1141.4 1358.0,1141.5 1360.5,1141.6 1363.0,1141.7 1365.5,1141.9 1368.0,1142.0 1370.5,1142.1 1373.0,1142.2 1375.5,1142.3 1378.0,1142.3 1380.5,1142.4 1383.0,1142.5 1385.5,1142.6 1388.0,1142.7 1390.5,1142.7 1393.0,1142.8 1395.5,1142.8 1398.0,1142.9 1400.5,1142.9 1403.0,1142.9 1405.5,1143.0 1408.0,1143.0 1410.5,1143.0 1413.0,1143.0 1415.5,1143.0 1418.0,1143.0 1420.5,1143.0 1423.0,1142.9 1425.5,1142.9 1428.0,1142.8 1430.5,1142.8 1433.0,1142.7 1435.5,1142.6 1438.0,1142.5 1440.5,1142.4 1443.0,1142.3 1445.5,1142.2 1448.0,1142.1 1450.5,1141.9 1453.0,1141.8 1455.5,1141.6 1458.0,1141.5 1460.5,1141.3 1463.0,1141.1 1465.5,1141.0 1468.0,1140.8 1470.5,1140.6 1473.0,1140.4 1475.5,1140.2 1478.0,1139.9 1480.5,1139.7 1483.0,1139.5 1485.5,1139.2 1488.0,1139.0 1490.5,1138.7 1493.0,1138.4 1495.5,1138.2 1498.0,1137.9 1500.5,1137.4 1503.0,1136.8 1505.5,1136.1 1508.0,1135.2 1510.5,1134.3 1513.0,1133.3 1515.5,1132.2 1518.0,1131.2 1520.5,1130.1 1523.0,1129.1 1525.5,1128.1 1528.0,1127.2 1530.5,1126.4 1533.0,1125.7 1535.5,1125.1 1538.0,1124.4 1540.5,1123.8 1543.0,1123.2 1545.5,1122.5 1548.0,1121.9 1550.5,1121.3 1553.0,1120.7 1555.5,1120.1 1558.0,1119.5 1560.5,1118.9 1563.0,1118.4 1565.5,1117.8 1568.0,1117.3 1570.5,1116.7 1573.0,1116.2 1575.5,1115.7 1578.0,1115.3 1580.5,1114.8 1583.0,1114.3 1585.5,1113.9 1588.0,1113.5 1590.5,1113.1 1593.0,1112.7 1595.5,1112.3 1598.0,1112.0 1600.5,1111.6 1603.0,1111.3 1605.5,1111.1 1608.0,1110.8 1610.5,1110.6 1613.0,1110.3 1615.5,1110.1 1618.0,1110.0 1620.5,1109.8 1623.0,1109.6 1625.5,1109.5 1628.0,1109.4 1630.5,1109.3 1633.0,1109.2 1635.5,1109.1 1638.0,1109.0 1640.5,1108.9 1643.0,1108.8 1645.5,1108.7 1648.0,1108.6 1650.5,1108.5 1653.0,1108.4 1655.5,1108.2 1658.0,1108.1 1660.5,1108.0 1663.0,1107.8 1665.5,1107.6 1668.0,1107.5 1670.5,1107.3 1673.0,1107.0 1675.5,1106.8 1678.0,1106.5 1680.5,1106.2 1683.0,1105.9 1685.5,1105.5 1688.0,1105.2 1690.5,1104.7 1692.0,1104.1 1693.5,1103.4 1695.0,1102.4 1696.5,1101.3 1698.0,1100.0 1699.5,1098.5 1701.0,1096.8 1702.5,1095.0 1704.0,1093.0 1705.5,1090.8 1707.0,1088.1 1708.5,1083.8 1710.0,1078.1 1711.5,1071.0 1713.0,1062.8 1714.5,1053.6 1716.0,1043.5 1717.5,1032.8 1719.0,1021.5 1720.5,1009.9 1722.0,996.6 1723.5,977.8 1725.0,955.7 1726.5,932.8 1728.0,911.6 1729.5,894.9 1731.0,885.0 1732.5,879.7 1734.0,875.2 1735.5,872.1 1737.0,871.0 1738.5,872.3 1740.0,876.0 1741.5,881.5 1743.0,888.3 1744.5,895.9 1746.0,903.9 1747.5,911.7 1749.0,918.8 1750.5,924.7 1752.0,929.0 1753.5,932.2 1755.0,935.2 1756.5,938.1 1758.0,940.8 1759.5,943.4 1761.0,945.8 1762.5,948.2 1764.0,950.4 1765.5,952.5 1767.0,954.5 1768.5,956.5 1770.0,958.3 1771.5,960.2 1774.0,963.0 1776.5,965.8 1779.0,968.6 1781.5,971.3 1784.0,974.0 1786.5,976.7 1789.0,979.3 1791.5,981.8 1794.0,984.3 1796.5,986.6 1799.0,988.9 1801.5,991.1 1804.0,993.3 1806.5,995.4 1809.0,997.4 1811.5,999.4 1814.0,1001.4 1816.5,1003.4 1819.0,1005.3 1821.5,1007.1 1824.0,1008.8 1826.5,1010.5 1829.0,1012.2 1831.5,1013.8 1834.0,1015.4 1836.5,1017.1 1839.0,1018.7 1841.5,1020.4 1844.0,1022.1 1846.5,1023.9 1849.0,1025.8 1851.5,1027.7 1854.0,1029.7 1856.5,1031.7 1859.0,1033.8 1861.5,1035.9 1864.0,1038.1 1866.5,1040.2 1869.0,1042.3 1871.5,1044.4 1874.0,1046.4 1876.5,1048.4 1879.0,1050.3 1881.5,1052.1 1884.0,1054.1 1886.5,1056.2 1889.0,1058.4 1891.5,1060.6 1894.0,1062.8 1896.5,1064.8 1899.0,1066.7 1901.5,1068.4 1903.5,1069.5 1905.5,1070.5 1907.5,1071.3 1909.5,1071.8 1911.5,1072.0 1913.5,1071.5 1915.5,1069.3 1917.5,1065.5 1919.5,1060.4 1921.5,1054.2 1923.5,1047.1 1925.5,1039.4 1927.5,1031.2 1929.5,1022.7 1931.5,1014.2 1933.5,1006.0 1935.5,998.0 1937.5,989.6 1939.5,980.2 1941.5,970.3 1943.5,959.9 1945.5,949.2 1947.5,938.4 1949.5,927.6 1951.5,917.2 1953.5,907.1 1955.5,897.6 1957.5,886.9 1959.5,875.4 1961.5,864.5 1963.5,855.4 1965.5,849.5 1967.5,848.1 1969.5,849.1 1971.5,851.1 1973.5,853.4 1975.5,855.2 1977.5,856.1 1979.5,856.5 1981.5,856.9 1983.5,857.1 1985.5,857.3 1987.5,857.5 1989.5,857.6 1991.5,857.8 1993.5,858.0 1995.5,858.2 1997.5,858.5 1999.5,858.9 2001.5,859.5 2003.5,860.7 2005.5,862.3 2007.5,864.4 2009.5,866.8 2011.5,869.6 2013.5,872.5 2015.5,875.6 2017.5,878.8 2019.5,882.0 2021.5,885.2 2023.5,888.3 2025.5,891.4 2027.5,895.0 2029.5,899.0 2031.5,903.4 2033.5,908.1 2035.5,912.9 2037.5,917.9 2039.5,922.9 2041.5,927.9 2043.5,932.7 2045.5,937.4 2047.5,941.8 2049.5,945.8 2051.5,949.4 2053.5,952.4 2055.5,954.9 2057.5,956.7 2059.5,957.8 2061.5,958.0 2063.5,957.7 2065.5,957.2 2067.5,956.3 2069.5,955.2 2071.5,953.8 2073.5,952.2 2075.5,950.4 2077.5,948.3 2079.5,946.1 2081.5,943.8 2083.5,941.3 2085.5,938.7 2087.5,935.4 2089.5,930.5 2091.5,924.0 2093.5,916.2 2095.5,907.4 2097.5,897.8 2099.5,887.8 2101.5,877.5 2103.5,867.2 2105.5,857.1 2107.5,847.6 2109.5,838.9 2111.5,831.2 2113.5,823.9 2115.5,816.7 2117.5,809.6 2119.5,802.7 2121.5,796.0 2123.5,789.4 2125.5,782.9 2127.5,776.6 2129.5,770.4 2131.5,764.4 2133.0,760.0" stroke="#b3ddd6"/>
<polyline points="243.0,636.0 248.0,634.6 253.0,633.3 258.0,632.1 263.0,630.9 268.0,629.8 273.0,628.7 278.0,627.7 283.0,626.7 288.0,625.8 293.0,624.9 298.0,624.1 303.0,623.4 308.0,622.7 313.0,622.0 318.0,621.4 323.0,620.8 328.0,620.3 333.0,619.8 338.0,619.4 343.0,619.0 348.0,618.6 353.0,618.3 358.0,618.0 363.0,617.8 368.0,617.6 373.0,617.4 378.0,617.3 383.0,617.2 388.0,617.1 393.0,617.0 398.0,617.0 403.0,617.0 408.0,617.1 413.0,617.3 418.0,617.6 423.0,618.0 428.0,618.4 433.0,618.9 438.0,619.5 443.0,620.2 448.0,620.9 453.0,621.7 458.0,622.6 463.0,623.5 468.0,624.5 473.0,625.5 478.0,626.6 483.0,627.7 488.0,628.9 493.0,630.1 498.0,631.4 503.0,632.7 508.0,634.0 513.0,635.4 518.0,636.7 523.0,638.1 528.0,639.6 533.0,641.0 538.0,642.5 543.0,643.9 548.0,645.4 553.0,646.9 558.0,648.4 563.0,649.9 568.0,651.6 573.0,653.4 578.0,655.4 583.0,657.5 588.0,659.7 593.0,662.1 598.0,664.6 603.0,667.2 608.0,669.9 613.0,672.7 618.0,675.5 623.0,678.5 628.0,681.5 633.0,684.5 638.0,687.7 643.0,690.8 648.0,694.0 653.0,697.3 658.0,700.5 663.0,703.8 668.0,707.0 673.0,710.3 678.0,713.5 683.0,716.8 688.0,720.0 693.0,723.1 698.0,726.3 703.0,729.4 708.0,732.5 713.0,735.6 718.0,738.8 723.0,742.0 728.0,745.2 733.0,748.5 738.0,751.8 743.0,755.1 748.0,758.4 753.0,761.8 758.0,765.1 763.0,768.5 768.0,772.0 773.0,775.4 778.0,778.8 783.0,782.3 788.0,785.8 793.0,789.3 798.0,792.8 803.0,796.3 808.0,799.9 813.0,803.4 818.0,807.0 823.0,810.6 828.0,814.2 833.0,817.7 838.0,821.3 843.0,824.9 848.0,828.5 853.0,832.1 858.0,835.7 863.0,839.3 868.0,843.0 873.0,846.6 878.0,850.2 883.0,853.9 888.0,857.8 893.0,861.8 898.0,865.9 903.0,870.1 908.0,874.3 913.0,878.6 918.0,883.0 923.0,887.4 928.0,891.8 933.0,896.2 938.0,900.6 943.0,905.0 948.0,909.4 953.0,913.7 958.0,917.9 963.0,922.1 968.0,926.2 973.0,930.2 978.0,934.1 983.0,937.9 988.0,941.5 993.0,945.0 998.0,948.4 1003.0,951.5 1008.0,954.5 1013.0,957.3 1018.0,959.8 1023.0,962.1 1028.0,964.2 1033.0,966.1 1038.0,968.0 1043.0,969.9 1045.5,970.9 1048.0,971.8 1050.5,972.7 1053.0,973.6 1055.5,974.4 1058.0,975.2 1060.5,976.0 1063.0,976.7 1065.5,977.3 1068.0,977.9 1070.5,978.5 1073.0,978.9 1075.5,979.3 1078.0,979.6 1080.5,979.8 1083.0,980.0 1085.5,980.0 1088.0,978.8 1090.5,976.1 1093.0,972.1 1095.5,966.9 1098.0,960.9 1100.5,954.2 1103.0,946.9 1105.5,939.3 1108.0,931.7 1110.5,924.1 1113.0,916.9 1115.5,910.2 1118.0,904.2 1120.5,899.0 1123.0,894.1 1125.5,888.9 1128.0,883.6 1130.5,878.3 1133.0,873.1 1135.5,868.1 1138.0,863.4 1140.5,859.1 1143.0,855.2 1145.5,852.0 1148.0,849.4 1150.5,847.6 1153.0,846.7 1155.5,845.9 1158.0,845.2 1160.5,844.5 1163.0,843.8 1165.5,843.2 1168.0,842.6 1170.5,842.1 1173.0,841.6 1175.5,841.2 1178.0,840.8 1180.5,840.4 1183.0,840.1 1185.5,839.8 1188.0,839.5 1190.5,839.3 1193.0,839.2 1195.5,839.1 1198.0,839.0 1200.5,839.0 1203.0,839.1 1205.5,839.4 1208.0,839.9 1210.5,840.5 1213.0,841.2 1215.5,842.1 1218.0,843.1 1220.5,844.3 1223.0,845.5 1225.5,846.9 1228.0,848.3 1230.5,849.9 1233.0,851.5 1235.5,853.2 1238.0,854.9 1240.5,856.8 1243.0,858.6 1245.5,860.5 1248.0,862.5 1250.5,864.4 1253.0,866.4 1255.5,868.4 1258.0,870.4 1260.5,872.4 1263.0,874.6 1265.5,877.1 1268.0,879.8 1270.5,882.8 1273.0,885.9 1275.5,889.3 1278.0,892.7 1280.5,896.3 1283.0,899.9 1285.5,903.5 1288.0,907.2 1290.5,910.8 1293.0,914.4 1295.5,918.0 1298.0,921.4 1300.5,924.6 1303.0,927.9 1305.5,931.3 1308.0,934.7 1310.5,938.1 1313.0,941.5 1315.5,945.0 1318.0,948.4 1320.5,951.8 1323.0,955.1 1325.5,958.3 1328.0,961.5 1330.5,964.6 1333.0,967.5 1335.5,970.3 1338.0,973.0 1340.5,975.5 1343.0,977.9 1345.5,980.3 1348.0,982.7 1350.5,985.1 1353.0,987.4 1355.5,989.6 1358.0,991.9 1360.5,994.0 1363.0,996.1 1365.5,998.1 1368.0,1000.0 1370.5,1001.8 1373.0,1003.5 1375.5,1005.1 1378.0,1006.6 1380.5,1007.9 1383.0,1009.1 1385.5,1010.2 1388.0,1011.2 1390.5,1012.2 1393.0,1013.2 1395.5,1014.2 1398.0,1015.2 1400.5,1016.1 1403.0,1017.1 1405.5,1018.0 1408.0,1019.0 1410.5,1019.9 1413.0,1020.8 1415.5,1021.6 1418.0,1022.5 1420.5,1023.3 1423.0,1024.2 1425.5,1025.0 1428.0,1025.8 1430.5,1026.5 1433.0,1027.3 1435.5,1028.0 1438.0,1028.7 1440.5,1029.4 1443.0,1030.1 1445.5,1030.7 1448.0,1031.3 1450.5,1031.9 1453.0,1032.4 1455.5,1033.0 1458.0,1033.5 1460.5,1033.9 1463.0,1034.4 1465.5,1034.8 1468.0,1035.1 1470.5,1035.5 1473.0,1035.8 1475.5,1036.1 1478.0,1036.3 1480.5,1036.5 1483.0,1036.7 1485.5,1036.8 1488.0,1036.9 1490.5,1037.0 1493.0,1037.0 1495.5,1036.8 1498.0,1036.1 1500.5,1035.1 1503.0,1033.8 1505.5,1032.2 1508.0,1030.4 1510.5,1028.4 1513.0,1026.3 1515.5,1024.1 1518.0,1021.8 1520.5,1019.6 1523.0,1017.4 1525.5,1015.3 1528.0,1013.4 1530.5,1011.7 1533.0,1009.9 1535.5,1008.0 1538.0,1006.1 1540.5,1004.1 1543.0,1002.0 1545.5,999.8 1548.0,997.6 1550.5,995.5 1553.0,993.3 1555.5,991.1 1558.0,989.0 1560.5,986.9 1563.0,984.9 1565.5,983.0 1568.0,981.2 1570.5,979.5 1573.0,977.9 1575.5,976.5 1578.0,975.2 1580.5,974.2 1583.0,973.3 1585.5,972.6 1588.0,972.2 1590.5,972.0 1593.0,972.0 1595.5,972.2 1598.0,972.4 1600.5,972.7 1603.0,973.1 1605.5,973.5 1608.0,974.0 1610.5,974.5 1613.0,975.1 1615.5,975.8 1618.0,976.4 1620.5,977.1 1623.0,977.7 1625.5,978.4 1628.0,979.1 1630.5,979.8 1633.0,980.4 1635.5,981.0 1638.0,981.6 1640.5,982.1 1643.0,982.6 1645.5,983.2 1648.0,983.9 1650.5,984.5 1653.0,985.2 1655.5,985.8 1658.0,986.5 1660.5,987.2 1663.0,987.9 1665.5,988.5 1668.0,989.1 1670.5,989.7 1673.0,990.2 1675.5,990.7 1678.0,991.1 1680.5,991.5 1683.0,991.7 1685.5,991.9 1688.0,992.0 1690.5,992.0 1692.0,991.8 1693.5,991.7 1695.0,991.4 1696.5,991.1 1698.0,990.6 1699.5,990.2 1701.0,988.2 1702.5,980.6 1704.0,968.1 1705.5,951.7 1707.0,932.3 1708.5,911.1 1710.0,889.0 1711.5,867.1 1713.0,844.8 1714.5,817.9 1716.0,787.3 1717.5,754.4 1719.0,720.4 1720.5,686.7 1722.0,654.5 1723.5,625.2 1725.0,600.0 1726.5,577.3 1728.0,554.7 1729.5,532.5 1731.0,511.1 1732.5,490.9 1734.0,472.2 1735.5,455.4 1737.0,440.9 1738.5,428.9 1740.0,420.0 1741.5,412.8 1743.0,405.8 1744.5,399.2 1746.0,393.0 1747.5,387.2 1749.0,382.0 1750.5,377.4 1752.0,373.5 1753.5,370.3 1755.0,368.0 1756.5,366.5 1758.0,366.0 1759.5,366.2 1761.0,366.7 1762.5,367.5 1764.0,368.5 1765.5,369.9 1767.0,371.5 1768.5,373.3 1770.0,375.4 1771.5,377.6 1774.0,381.8 1776.5,386.3 1779.0,391.1 1781.5,396.2 1784.0,401.4 1786.5,406.7 1789.0,412.0 1791.5,417.7 1794.0,424.4 1796.5,431.9 1799.0,440.1 1801.5,448.8 1804.0,458.1 1806.5,467.7 1809.0,477.5 1811.5,487.4 1814.0,497.3 1816.5,507.1 1819.0,516.9 1821.5,527.1 1824.0,537.7 1826.5,548.6 1829.0,559.7 1831.5,570.9 1834.0,582.2 1836.5,593.5 1839.0,604.8 1841.5,615.8 1844.0,626.6 1846.5,637.1 1849.0,647.6 1851.5,658.1 1854.0,668.8 1856.5,679.3 1859.0,689.8 1861.5,700.1 1864.0,710.2 1866.5,720.0 1869.0,729.4 1871.5,738.3 1874.0,746.8 1876.5,754.7 1879.0,762.3 1881.5,769.7 1884.0,776.8 1886.5,783.7 1889.0,790.4 1891.5,796.8 1894.0,803.1 1896.5,809.1 1899.0,815.0 1901.5,820.7 1903.5,825.1 1905.5,830.0 1907.5,835.1 1909.5,840.2 1911.5,844.9 1913.5,848.8 1915.5,851.6 1917.5,852.9 1919.5,852.4 1921.5,849.8 1923.5,845.6 1925.5,839.8 1927.5,832.9 1929.5,825.0 1931.5,816.6 1933.5,807.8 1935.5,798.9 1937.5,790.2 1939.5,781.9 1941.5,774.0 1943.5,765.2 1945.5,755.7 1947.5,745.7 1949.5,735.2 1951.5,724.6 1953.5,713.8 1955.5,703.0 1957.5,692.4 1959.5,682.2 1961.5,672.5 1963.5,663.4 1965.5,655.0 1967.5,647.7 1969.5,641.4 1971.5,636.0 1973.5,630.6 1975.5,625.2 1977.5,619.9 1979.5,614.7 1981.5,609.6 1983.5,604.6 1985.5,599.7 1987.5,595.0 1989.5,590.5 1991.5,586.2 1993.5,582.2 1995.5,578.4 1997.5,574.9 1999.5,571.7 2001.5,568.9 2003.5,566.4 2005.5,564.2 2007.5,562.5 2009.5,561.2 2011.5,560.4 2013.5,560.0 2015.5,560.1 2017.5,560.7 2019.5,561.6 2021.5,562.8 2023.5,564.4 2025.5,566.1 2027.5,568.0 2029.5,570.0 2031.5,572.0 2033.5,574.1 2035.5,576.0 2037.5,577.9 2039.5,579.6 2041.5,581.2 2043.5,583.0 2045.5,584.9 2047.5,587.0 2049.5,589.0 2051.5,591.0 2053.5,593.0 2055.5,594.8 2057.5,596.4 2059.5,597.8 2061.5,598.9 2063.5,599.6 2065.5,600.0 2067.5,599.4 2069.5,596.6 2071.5,591.8 2073.5,585.3 2075.5,577.1 2077.5,567.6 2079.5,557.0 2081.5,545.4 2083.5,533.0 2085.5,520.2 2087.5,507.0 2089.5,493.6 2091.5,480.4 2093.5,467.5 2095.5,455.0 2097.5,443.3 2099.5,432.5 2101.5,422.5 2103.5,412.6 2105.5,402.6 2107.5,392.6 2109.5,382.7 2111.5,372.7 2113.5,362.8 2115.5,352.8 2117.5,342.9 2119.5,333.0 2121.5,323.0 2123.5,313.1 2125.5,303.2 2127.5,293.3 2129.5,283.3 2131.5,273.4 2133.0,266.0" stroke="#b48cc0"/>
<polyline points="243.0,639.0 248.0,637.7 253.0,636.4 258.0,635.3 263.0,634.1 268.0,633.1 273.0,632.0 278.0,631.1 283.0,630.2 288.0,629.3 293.0,628.5 298.0,627.7 303.0,627.0 308.0,626.3 313.0,625.7 318.0,625.1 323.0,624.6 328.0,624.1 333.0,623.7 338.0,623.2 343.0,622.9 348.0,622.5 353.0,622.2 358.0,622.0 363.0,621.7 368.0,621.5 373.0,621.4 378.0,621.3 383.0,621.1 388.0,621.1 393.0,621.0 398.0,621.0 403.0,621.0 408.0,621.1 413.0,621.3 418.0,621.6 423.0,621.9 428.0,622.4 433.0,622.9 438.0,623.5 443.0,624.1 448.0,624.8 453.0,625.6 458.0,626.5 463.0,627.4 468.0,628.3 473.0,629.4 478.0,630.4 483.0,631.5 488.0,632.7 493.0,633.8 498.0,635.1 503.0,636.3 508.0,637.6 513.0,638.9 518.0,640.3 523.0,641.6 528.0,643.0 533.0,644.4 538.0,645.8 543.0,647.2 548.0,648.6 553.0,650.0 558.0,651.4 563.0,652.9 568.0,654.4 573.0,656.1 578.0,657.9 583.0,659.8 588.0,661.7 593.0,663.8 598.0,666.0 603.0,668.3 608.0,670.6 613.0,673.1 618.0,675.6 623.0,678.1 628.0,680.8 633.0,683.4 638.0,686.2 643.0,689.0 648.0,691.8 653.0,694.7 658.0,697.6 663.0,700.5 668.0,703.5 673.0,706.4 678.0,709.4 683.0,712.4 688.0,715.4 693.0,718.4 698.0,721.4 703.0,724.4 708.0,727.5 713.0,730.7 718.0,733.9 723.0,737.3 728.0,740.7 733.0,744.2 738.0,747.7 743.0,751.3 748.0,755.0 753.0,758.7 758.0,762.5 763.0,766.3 768.0,770.2 773.0,774.1 778.0,778.0 783.0,781.9 788.0,785.8 793.0,789.8 798.0,793.8 803.0,797.7 808.0,801.7 813.0,805.6 818.0,809.6 823.0,813.5 828.0,817.4 833.0,821.3 838.0,825.1 843.0,828.9 848.0,832.7 853.0,836.4 858.0,840.0 863.0,843.6 868.0,847.2 873.0,850.6 878.0,854.1 883.0,857.5 888.0,861.0 893.0,864.6 898.0,868.1 903.0,871.7 908.0,875.4 913.0,879.0 918.0,882.6 923.0,886.3 928.0,889.9 933.0,893.5 938.0,897.1 943.0,900.6 948.0,904.1 953.0,907.6 958.0,911.0 963.0,914.3 968.0,917.6 973.0,920.8 978.0,924.0 983.0,927.0 988.0,930.0 993.0,932.8 998.0,935.5 1003.0,938.2 1008.0,940.7 1013.0,943.0 1018.0,945.3 1023.0,947.3 1028.0,949.3 1033.0,951.1 1038.0,953.0 1043.0,954.8 1045.5,955.8 1048.0,956.7 1050.5,957.6 1053.0,958.5 1055.5,959.3 1058.0,960.1 1060.5,960.9 1063.0,961.6 1065.5,962.3 1068.0,962.9 1070.5,963.4 1073.0,963.9 1075.5,964.3 1078.0,964.6 1080.5,964.8 1083.0,965.0 1085.5,965.0 1088.0,964.2 1090.5,962.3 1093.0,959.4 1095.5,955.7 1098.0,951.3 1100.5,946.3 1103.0,940.8 1105.5,934.9 1108.0,928.8 1110.5,922.6 1113.0,916.4 1115.5,910.3 1118.0,904.4 1120.5,898.9 1123.0,892.9 1125.5,886.3 1128.0,879.2 1130.5,871.7 1133.0,864.1 1135.5,856.6 1138.0,849.4 1140.5,842.6 1143.0,836.4 1145.5,831.0 1148.0,826.7 1150.5,823.4 1153.0,820.8 1155.5,818.2 1158.0,815.9 1160.5,813.7 1163.0,811.7 1165.5,810.0 1168.0,808.4 1170.5,807.1 1173.0,806.0 1175.5,805.1 1178.0,804.5 1180.5,803.8 1183.0,803.2 1185.5,802.7 1188.0,802.2 1190.5,801.8 1193.0,801.4 1195.5,801.2 1198.0,801.0 1200.5,801.0 1203.0,801.1 1205.5,801.4 1208.0,801.7 1210.5,802.2 1213.0,802.8 1215.5,803.6 1218.0,804.4 1220.5,805.2 1223.0,806.2 1225.5,807.2 1228.0,808.2 1230.5,809.3 1233.0,810.5 1235.5,812.1 1238.0,814.0 1240.5,816.3 1243.0,818.8 1245.5,821.3 1248.0,824.0 1250.5,826.5 1253.0,829.1 1255.5,831.7 1258.0,834.5 1260.5,837.3 1263.0,840.2 1265.5,843.2 1268.0,846.3 1270.5,849.3 1273.0,852.5 1275.5,855.6 1278.0,858.9 1280.5,862.2 1283.0,865.6 1285.5,869.0 1288.0,872.6 1290.5,876.1 1293.0,879.7 1295.5,883.4 1298.0,887.1 1300.5,890.7 1303.0,894.6 1305.5,898.6 1308.0,902.8 1310.5,907.0 1313.0,911.2 1315.5,915.3 1318.0,919.3 1320.5,923.0 1323.0,926.5 1325.5,929.6 1328.0,932.5 1330.5,935.3 1333.0,938.0 1335.5,940.6 1338.0,943.0 1340.5,945.4 1343.0,947.6 1345.5,949.6 1348.0,951.6 1350.5,953.3 1353.0,955.0 1355.5,956.5 1358.0,958.0 1360.5,959.4 1363.0,960.7 1365.5,961.9 1368.0,963.2 1370.5,964.4 1373.0,965.6 1375.5,966.8 1378.0,968.0 1380.5,969.1 1383.0,970.3 1385.5,971.4 1388.0,972.5 1390.5,973.6 1393.0,974.6 1395.5,975.7 1398.0,976.7 1400.5,977.8 1403.0,978.8 1405.5,979.9 1408.0,980.9 1410.5,981.9 1413.0,982.9 1415.5,983.9 1418.0,984.9 1420.5,985.9 1423.0,986.9 1425.5,987.8 1428.0,988.8 1430.5,989.7 1433.0,990.7 1435.5,991.7 1438.0,992.8 1440.5,993.8 1443.0,994.8 1445.5,995.8 1448.0,996.8 1450.5,997.7 1453.0,998.6 1455.5,999.5 1458.0,1000.3 1460.5,1001.0 1463.0,1001.7 1465.5,1002.3 1468.0,1002.8 1470.5,1003.3 1473.0,1003.7 1475.5,1004.1 1478.0,1004.6 1480.5,1005.0 1483.0,1005.3 1485.5,1005.6 1488.0,1005.8 1490.5,1006.0 1493.0,1006.0 1495.5,1005.7 1498.0,1004.9 1500.5,1003.7 1503.0,1002.2 1505.5,1000.6 1508.0,998.9 1510.5,997.3 1513.0,995.8 1515.5,994.2 1518.0,992.4 1520.5,990.6 1523.0,988.7 1525.5,986.8 1528.0,984.8 1530.5,982.8 1533.0,980.7 1535.5,978.6 1538.0,976.6 1540.5,974.5 1543.0,972.5 1545.5,970.5 1548.0,968.5 1550.5,966.6 1553.0,964.6 1555.5,962.4 1558.0,960.1 1560.5,957.7 1563.0,955.3 1565.5,952.9 1568.0,950.5 1570.5,948.2 1573.0,945.9 1575.5,943.9 1578.0,942.0 1580.5,940.4 1583.0,939.0 1585.5,938.0 1588.0,937.3 1590.5,937.0 1593.0,937.0 1595.5,937.2 1598.0,937.4 1600.5,937.7 1603.0,938.1 1605.5,938.6 1608.0,939.2 1610.5,939.7 1613.0,940.4 1615.5,941.0 1618.0,941.7 1620.5,942.4 1623.0,943.1 1625.5,943.8 1628.0,944.4 1630.5,945.1 1633.0,945.7 1635.5,946.3 1638.0,946.8 1640.5,947.2 1643.0,947.6 1645.5,947.9 1648.0,948.1 1650.5,948.3 1653.0,948.4 1655.5,948.6 1658.0,948.8 1660.5,949.0 1663.0,949.1 1665.5,949.3 1668.0,949.4 1670.5,949.5 1673.0,949.6 1675.5,949.7 1678.0,949.8 1680.5,949.9 1683.0,949.9 1685.5,950.0 1688.0,950.0 1690.5,949.4 1692.0,947.7 1693.5,945.0 1695.0,941.4 1696.5,937.1 1698.0,932.3 1699.5,926.9 1701.0,920.2 1702.5,909.3 1704.0,894.7 1705.5,876.9 1707.0,856.7 1708.5,834.7 1710.0,811.5 1711.5,787.9 1713.0,762.8 1714.5,732.3 1716.0,697.9 1717.5,661.6 1719.0,625.2 1720.5,590.7 1722.0,560.0 1723.5,531.3 1725.0,501.9 1726.5,472.7 1728.0,444.5 1729.5,418.1 1731.0,394.3 1732.5,374.0 1734.0,357.9 1735.5,346.7 1737.0,337.2 1738.5,328.4 1740.0,320.4 1741.5,313.3 1743.0,307.1 1744.5,302.1 1746.0,298.2 1747.5,295.6 1749.0,294.0 1750.5,292.6 1752.0,291.4 1753.5,290.4 1755.0,289.7 1756.5,289.2 1758.0,289.0 1759.5,289.4 1761.0,290.6 1762.5,292.3 1764.0,294.5 1765.5,297.0 1767.0,299.7 1768.5,302.4 1770.0,305.0 1771.5,307.6 1774.0,312.3 1776.5,317.6 1779.0,323.2 1781.5,329.3 1784.0,335.6 1786.5,342.2 1789.0,349.0 1791.5,356.1 1794.0,363.5 1796.5,371.4 1799.0,379.6 1801.5,388.1 1804.0,396.9 1806.5,405.9 1809.0,415.2 1811.5,424.7 1814.0,434.3 1816.5,444.0 1819.0,454.0 1821.5,464.6 1824.0,475.5 1826.5,486.8 1829.0,498.4 1831.5,510.1 1834.0,522.0 1836.5,533.9 1839.0,545.8 1841.5,557.5 1844.0,569.0 1846.5,580.2 1849.0,591.4 1851.5,602.8 1854.0,614.2 1856.5,625.5 1859.0,636.8 1861.5,648.0 1864.0,659.0 1866.5,669.8 1869.0,680.3 1871.5,690.5 1874.0,700.2 1876.5,709.7 1879.0,719.3 1881.5,729.0 1884.0,738.8 1886.5,748.3 1889.0,757.5 1891.5,766.2 1894.0,774.3 1896.5,781.6 1899.0,788.0 1901.5,793.4 1903.5,796.8 1905.5,800.0 1907.5,803.2 1909.5,806.2 1911.5,808.9 1913.5,811.3 1915.5,813.1 1917.5,814.4 1919.5,815.0 1921.5,814.5 1923.5,812.3 1925.5,808.8 1927.5,804.2 1929.5,798.9 1931.5,793.3 1933.5,787.5 1935.5,780.1 1937.5,770.9 1939.5,760.3 1941.5,748.7 1943.5,736.6 1945.5,724.6 1947.5,713.1 1949.5,702.5 1951.5,692.8 1953.5,683.2 1955.5,673.6 1957.5,664.2 1959.5,654.8 1961.5,645.6 1963.5,636.6 1965.5,627.8 1967.5,619.2 1969.5,610.9 1971.5,603.0 1973.5,595.4 1975.5,588.2 1977.5,581.1 1979.5,574.0 1981.5,567.0 1983.5,560.3 1985.5,553.8 1987.5,547.8 1989.5,542.2 1991.5,537.1 1993.5,532.8 1995.5,529.1 1997.5,525.7 1999.5,522.3 2001.5,519.0 2003.5,515.9 2005.5,513.0 2007.5,510.4 2009.5,508.1 2011.5,506.3 2013.5,505.0 2015.5,504.2 2017.5,504.0 2019.5,504.8 2021.5,506.3 2023.5,508.6 2025.5,511.4 2027.5,514.7 2029.5,518.2 2031.5,521.8 2033.5,525.4 2035.5,528.8 2037.5,531.8 2039.5,534.4 2041.5,536.7 2043.5,539.0 2045.5,541.5 2047.5,543.9 2049.5,546.2 2051.5,548.4 2053.5,550.3 2055.5,551.9 2057.5,553.1 2059.5,553.8 2061.5,554.0 2063.5,553.1 2065.5,551.3 2067.5,548.6 2069.5,545.2 2071.5,541.1 2073.5,536.6 2075.5,531.7 2077.5,526.6 2079.5,521.3 2081.5,515.6 2083.5,508.5 2085.5,500.2 2087.5,490.7 2089.5,480.4 2091.5,469.5 2093.5,458.0 2095.5,446.3 2097.5,434.5 2099.5,422.9 2101.5,411.2 2103.5,398.9 2105.5,386.0 2107.5,372.7 2109.5,359.1 2111.5,345.2 2113.5,331.2 2115.5,317.3 2117.5,303.4 2119.5,289.7 2121.5,275.9 2123.5,262.1 2125.5,248.1 2127.5,234.0 2129.5,219.9 2131.5,205.7 2133.0,195.0" stroke="#f7e27c"/>
</g>
<g stroke="#10120c" stroke-width="5">
<rect x="243" y="36.5" width="1890.5" height="1178.8" fill="none" stroke="#10120c" stroke-width="5.2"/>
<line x1="2133.6" y1="1215.3" x2="2133.6" y2="1191.3" />
<line x1="2133.6" y1="36.5" x2="2133.6" y2="60.5" />
<line x1="1976.1" y1="1215.3" x2="1976.1" y2="1201.8" />
<line x1="1976.1" y1="36.5" x2="1976.1" y2="50.0" />
<line x1="1818.5" y1="1215.3" x2="1818.5" y2="1191.3" />
<line x1="1818.5" y1="36.5" x2="1818.5" y2="60.5" />
<line x1="1661.0" y1="1215.3" x2="1661.0" y2="1201.8" />
<line x1="1661.0" y1="36.5" x2="1661.0" y2="50.0" />
<line x1="1503.4" y1="1215.3" x2="1503.4" y2="1191.3" />
<line x1="1503.4" y1="36.5" x2="1503.4" y2="60.5" />
<line x1="1345.9" y1="1215.3" x2="1345.9" y2="1201.8" />
<line x1="1345.9" y1="36.5" x2="1345.9" y2="50.0" />
<line x1="1188.3" y1="1215.3" x2="1188.3" y2="1191.3" />
<line x1="1188.3" y1="36.5" x2="1188.3" y2="60.5" />
<line x1="1030.8" y1="1215.3" x2="1030.8" y2="1201.8" />
<line x1="1030.8" y1="36.5" x2="1030.8" y2="50.0" />
<line x1="873.2" y1="1215.3" x2="873.2" y2="1191.3" />
<line x1="873.2" y1="36.5" x2="873.2" y2="60.5" />
<line x1="715.7" y1="1215.3" x2="715.7" y2="1201.8" />
<line x1="715.7" y1="36.5" x2="715.7" y2="50.0" />
<line x1="558.1" y1="1215.3" x2="558.1" y2="1191.3" />
<line x1="558.1" y1="36.5" x2="558.1" y2="60.5" />
<line x1="400.6" y1="1215.3" x2="400.6" y2="1201.8" />
<line x1="400.6" y1="36.5" x2="400.6" y2="50.0" />
<line x1="243.0" y1="1215.3" x2="243.0" y2="1191.3" />
<line x1="243.0" y1="36.5" x2="243.0" y2="60.5" />
<line x1="243" y1="1109.6" x2="256" y2="1109.6" />
<line x1="2133.5" y1="1109.6" x2="2120.5" y2="1109.6" />
<line x1="243" y1="1002.2" x2="267" y2="1002.2" />
<line x1="2133.5" y1="1002.2" x2="2109.5" y2="1002.2" />
<line x1="243" y1="894.8" x2="256" y2="894.8" />
<line x1="2133.5" y1="894.8" x2="2120.5" y2="894.8" />
<line x1="243" y1="787.3" x2="267" y2="787.3" />
<line x1="2133.5" y1="787.3" x2="2109.5" y2="787.3" />
<line x1="243" y1="679.9" x2="256" y2="679.9" />
<line x1="2133.5" y1="679.9" x2="2120.5" y2="679.9" />
<line x1="243" y1="572.4" x2="267" y2="572.4" />
<line x1="2133.5" y1="572.4" x2="2109.5" y2="572.4" />
<line x1="243" y1="464.9" x2="256" y2="464.9" />
<line x1="2133.5" y1="464.9" x2="2120.5" y2="464.9" />
<line x1="243" y1="357.5" x2="267" y2="357.5" />
<line x1="2133.5" y1="357.5" x2="2109.5" y2="357.5" />
<line x1="243" y1="250.0" x2="256" y2="250.0" />
<line x1="2133.5" y1="250.0" x2="2120.5" y2="250.0" />
<line x1="243" y1="142.6" x2="267" y2="142.6" />
<line x1="2133.5" y1="142.6" x2="2109.5" y2="142.6" />
</g>
<g>
<text x="218" y="1232.1" text-anchor="end" font-size="51">0.1</text>
<text x="218" y="1017.2" text-anchor="end" font-size="51">0.2</text>
<text x="218" y="802.3" text-anchor="end" font-size="51">0.3</text>
<text x="218" y="587.4" text-anchor="end" font-size="51">0.4</text>
<text x="218" y="372.5" text-anchor="end" font-size="51">0.5</text>
<text x="218" y="157.6" text-anchor="end" font-size="51">0.6</text>
<text x="2133.6" y="1280" text-anchor="middle" font-size="51">4000</text>
<text x="1818.5" y="1280" text-anchor="middle" font-size="51">5000</text>
<text x="1503.4" y="1280" text-anchor="middle" font-size="51">6000</text>
<text x="1188.3" y="1280" text-anchor="middle" font-size="51">7000</text>
<text x="873.2" y="1280" text-anchor="middle" font-size="51">8000</text>
<text x="558.1" y="1280" text-anchor="middle" font-size="51">9000</text>
<text x="243.0" y="1280" text-anchor="middle" font-size="51">10000</text>
<text transform="translate(909,1381.5) scale(0.965,1)" font-size="63.5">Wavenumber in cm</text>
<text x="1436" y="1351" font-size="34">-1</text>
<text transform="translate(80.5,855) rotate(-90) scale(0.965,1)" font-size="63.5">Absorbance in a.u.</text>
<text class="ann" transform="translate(999,715.5) rotate(62.7)" font-size="49">7316 -</text>
<text class="ann" transform="translate(1050,691) rotate(72)" font-size="49">7236 -</text>
<text class="ann" transform="translate(1114,636) rotate(81.4)" font-size="49">7116 -</text>
<text class="ann" transform="translate(1194,661) rotate(80.6)" font-size="49">6860 -</text>
<text class="ann" transform="translate(1497,797.5) rotate(82.5)" font-size="49">5900 -</text>
<text class="ann" transform="translate(1555,753.7) rotate(82)" font-size="49">5724 -</text>
<text class="ann" transform="translate(1755,1154) rotate(-79.5)" font-size="49">5150 -</text>
<text class="ann" transform="translate(1878.5,440.5) rotate(60.6)" font-size="49">4500 -</text>
<text class="ann" transform="translate(1978,278.5) rotate(80.8)" font-size="49">4380 -</text>
</g>
</svg>
</body></html>
